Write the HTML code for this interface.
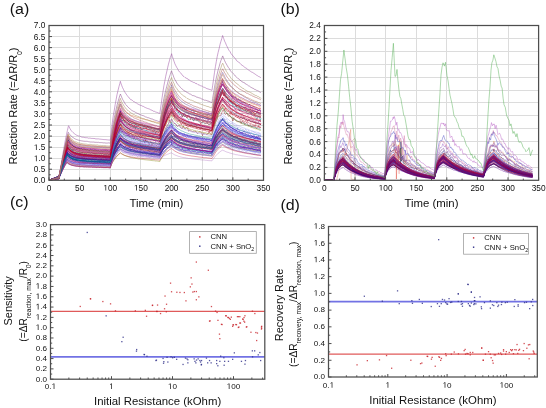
<!DOCTYPE html>
<html><head><meta charset="utf-8"><style>
html,body{margin:0;padding:0;background:#fff;overflow:hidden;width:546px;height:408px;}
svg{display:block;font-family:"Liberation Sans", sans-serif;will-change:transform;}
text{fill:#111;}
</style></head><body>
<svg width="546" height="408" viewBox="0 0 546 408">
<rect width="546" height="408" fill="#fff"/>
<line x1="49.0" y1="169.50" x2="263.5" y2="169.50" stroke="#dcdcdc" stroke-width="1"/>
<line x1="49.0" y1="158.50" x2="263.5" y2="158.50" stroke="#dcdcdc" stroke-width="1"/>
<line x1="49.0" y1="147.50" x2="263.5" y2="147.50" stroke="#dcdcdc" stroke-width="1"/>
<line x1="49.0" y1="136.50" x2="263.5" y2="136.50" stroke="#dcdcdc" stroke-width="1"/>
<line x1="49.0" y1="125.50" x2="263.5" y2="125.50" stroke="#dcdcdc" stroke-width="1"/>
<line x1="49.0" y1="113.50" x2="263.5" y2="113.50" stroke="#dcdcdc" stroke-width="1"/>
<line x1="49.0" y1="102.50" x2="263.5" y2="102.50" stroke="#dcdcdc" stroke-width="1"/>
<line x1="49.0" y1="91.50" x2="263.5" y2="91.50" stroke="#dcdcdc" stroke-width="1"/>
<line x1="49.0" y1="80.50" x2="263.5" y2="80.50" stroke="#dcdcdc" stroke-width="1"/>
<line x1="49.0" y1="69.50" x2="263.5" y2="69.50" stroke="#dcdcdc" stroke-width="1"/>
<line x1="49.0" y1="58.50" x2="263.5" y2="58.50" stroke="#dcdcdc" stroke-width="1"/>
<line x1="49.0" y1="47.50" x2="263.5" y2="47.50" stroke="#dcdcdc" stroke-width="1"/>
<line x1="49.0" y1="36.50" x2="263.5" y2="36.50" stroke="#dcdcdc" stroke-width="1"/>
<line x1="79.50" y1="25.5" x2="79.50" y2="180.3" stroke="#dcdcdc" stroke-width="1"/>
<line x1="110.50" y1="25.5" x2="110.50" y2="180.3" stroke="#dcdcdc" stroke-width="1"/>
<line x1="140.50" y1="25.5" x2="140.50" y2="180.3" stroke="#dcdcdc" stroke-width="1"/>
<line x1="171.50" y1="25.5" x2="171.50" y2="180.3" stroke="#dcdcdc" stroke-width="1"/>
<line x1="202.50" y1="25.5" x2="202.50" y2="180.3" stroke="#dcdcdc" stroke-width="1"/>
<line x1="232.50" y1="25.5" x2="232.50" y2="180.3" stroke="#dcdcdc" stroke-width="1"/>
<g fill="none" stroke-width="0.5" stroke-opacity="0.8">
<path d="M49 180.3l.9-.3 .9-.2 1-.3 .9-.3 .9-.2 .9-.3 .9-.2 1-.3 .6-.2 .3-0 .9 0 .6 0 .3-.8 .9-2.5 1-2.5 .9-2.4 .9-2.2 .9-2.3 .9-2.2 .9-2 1-1.9 .6-1.1 .3 .2 .9 .9 .9 .6 .9 .6 1 .5 .9 .4 .9 .4 .9 .2 .9 .3 1 .1 .9 .1 .9 .3 .9 .1 .9 .1 1 .1 .9 .1 .9 0 .9 0 .9 .2 1-0 .9 .1 .9-0 .9 0 .9 .1 .9 0 1-0 .9 .2 .9-0 .9-0 .9 .1 1-.1 .9 .1 .9 .1 .9-0 .9-.1 1 .1 .9 0 .9 .1 .9-0 .9 .1 1-0 .9-0 .9 .1 .9-0 .9-0 1 0 .9 .1 .6-.1 .3-.7 .9-2.4 .9-2 .9-1.9 1-1.8 .9-1.7 .9-1.3 .9-1.3 .9-1.4 1-1.1 .9-.8 .6-.8 .3 .3 .9 .7 .9 .9 1 .5 .9 .4 .9 .4 .9 .5 .9 .3 1 .4 .9 .1 .9 .3 .9 .1 .9 .3 1 .2 .9 .2 .9 .1 .9 .1 .9 .1 1 .2 .9 .2 .9 .1 .9 .2 .9 .1 .9 0 1 .1 .9 .2 .9 .1 .9 .1 .9 .1 1 0 .9 .3 .9 .1 .9 0 .9 .1 1 .1 .9 .2 .9 .1 .9 .1 .9 .1 1 .1 .9 .1 .9 0 .9 .1 .6 .1 .3-.7 1-1.9 .9-1.8 .9-1.7 .9-1.6 .9-1.5 .9-1.2 1-1.4 .9-.9 .9-1.1 .9-1 .9-1 1-.7 .3-.3 .6 1 .9 1 .9 .9 .9 .8 1 .8 .9 .5 .9 .7 .9 .6 .9 .4 1 .3 .9 .3 .9 .5 .9 .1 .9 .4 1 .3 .9 .3 .9 .1 .9 .2 .9 .2 1 .2 .9 .1 .9 .2 .9 .3 .9 0 .9 .3 1 .1 .9 .2 .9 .1 .9 .1 .9 .2 1 .1 .9 .2 .9 .1 .9 .1 .9 .2 1 .1 .9 .2 .9 .1 .9 .1 .9 .2 1 0 .9 .2 .9 .2 .9 .1 .3 .1 .6-1.7 1-2.2 .9-2.4 .9-1.9 .9-1.9 .9-1.4 .9-1.6 1-1.4 .9-1.2 .9-1.3 .9-1 .8-.8 .1 .1 1 .9 .9 .6 .9 .6 .9 .4 .9 .6 1 .4 .9 .5 .9 .5 .9 .2 .9 .5 1 .4 .9 .2 .9 .2 .9 .4 .9 .2 1 .2 .9 .2 .9 .3 .9 .1 .9 .4 1 0 .9 .5 .9-0 .9 .2 .9 .2 .9 .3 1-0 .9 .2 .9 .2 .9 .2 .9 .1 1 .1 .9 .3 .9 .1 .9 .1 .9 .1 1 .1 .9 .3 .9 0 .9 .1 .9 .3 .6-0" stroke="#b070c0"/>
<path d="M49 180.3l.9-.3 .9-.3 1-.2 .9-.3 .9-.3 .9-.3 .9-.3 1-.2 .6-.2 .3-0 .9-.1 .6 0 .3-.7 .9-2.2 1-2.2 .9-2.2 .9-2 .9-2.1 .9-1.9 .9-1.9 1-1.5 .6-.9 .3 .2 .9 .9 .9 .5 .9 .6 1 .4 .9 .4 .9 .4 .9 .2 .9 .2 1 .2 .9 .2 .9 .2 .9 .1 .9 .1 1 .1 .9 .1 .9 .1 .9-0 .9 .1 1 0 .9 .1 .9 0 .9 .1 .9 .1 .9-0 1 0 .9 .1 .9 0 .9 0 .9 .1 1 0 .9 .1 .9-0 .9 .1 .9-.1 1 .1 .9 0 .9 .1 .9-0 .9 0 1 .1 .9 0 .9 .1 .9-0 .9 0 1 0 .9 .1 .6 0 .3-.6 .9-1.8 .9-1.6 .9-1.5 1-1.3 .9-1.4 .9-1.1 .9-.9 .9-.9 1-.9 .9-.8 .6-.5 .3 .2 .9 .7 .9 .4 1 .4 .9 .6 .9 .2 .9 .3 .9 .2 1 .3 .9 .2 .9 .2 .9 .2 .9 .2 1 .1 .9 .1 .9 .2 .9 .2 .9 .1 1 0 .9 .2 .9 0 .9 .3 .9-.1 .9 .1 1 .2 .9 .1 .9 .2 .9-0 .9 0 1 .1 .9 .1 .9 0 .9 .2 .9 .1 1 .1 .9 0 .9 0 .9 .2 .9 .2 1-0 .9 0 .9 .1 .9 .2 .6-0 .3-.4 1-1.5 .9-1.2 .9-1.1 .9-1.1 .9-1 .9-1 1-.9 .9-.7 .9-.7 .9-.8 .9-.5 1-.6 .3-.1 .6 .4 .9 .9 .9 .7 .9 .6 1 .6 .9 .4 .9 .5 .9 .4 .9 .4 1 .3 .9 .2 .9 .3 .9 .3 .9 .1 1 .2 .9 .3 .9 .1 .9 .2 .9 .2 1 .1 .9 .1 .9 .2 .9 .1 .9 .1 .9 .1 1 .2 .9 .1 .9 .1 .9 .1 .9 .2 1 .1 .9 .1 .9 .1 .9 .2 .9 .1 1 .1 .9 0 .9 0 .9 .2 .9 .1 1 .1 .9 .1 .9 .1 .9 .1 .3 0 .6-1 1-1.6 .9-1.6 .9-1.5 .9-1.2 .9-1.2 .9-1 1-1 .9-.9 .9-.7 .9-.9 .8-.5 .1-0 1 .7 .9 .6 .9 .5 .9 .5 .9 .4 1 .6 .9 .3 .9 .3 .9 .3 .9 .4 1 .2 .9 .5 .9 .2 .9 .2 .9 .3 1 .2 .9 .1 .9 .3 .9 .3 .9-0 1 .3 .9 .2 .9 .1 .9 .3 .9 .1 .9 .1 1 .3 .9 .1 .9 .1 .9 .1 .9 .2 1 .2 .9 .1 .9 .2 .9 .1 .9 .2 1 .2 .9 .2 .9-0 .9 0 .9 .2 .6 .1" stroke="#c00020"/>
<path d="M49 180.3l.9-.3 .9-.3 1-.3 .9-.3 .9-.3 .9-.3 .9-.3 1-.3 .6-.2 .3-0 .9-0 .6 0 .3-1 .9-3.2 1-3 .9-3 .9-2.9 .9-2.7 .9-2.8 .9-2.6 1-2.4 .9-1.9 0-.1 .9 .9 .9 .8 .9 .6 1 .5 .9 .5 .9 .3 .9 .4 .9 .2 1 .3 .9 .1 .9 .2 .9 .1 .9 .2 1 .1 .9 .2 .9 0 .9 .2 .9 0 1 .1 .9 .1 .9-0 .9 .1 .9-0 .9 .1 1 0 .9 .1 .9-0 .9 .1 .9 0 1 .1 .9-0 .9 .1 .9-.1 .9 0 1 .2 .9 0 .9-0 .9-0 .9 .1 1 0 .9 0 .9 .1 .9-0 .9 0 1 .2 .9-0 .6-0 .3-1.7 .9-4.8 .9-4.3 .9-4 1-3.7 .9-3.3 .9-2.9 .9-2.8 .9-2.6 1-2.6 .9-1.9 .6-1.4 .3 .5 .9 1.5 .9 .7 1 1 .9 .8 .9 .7 .9 .3 .9 .9 1 .4 .9 .3 .9 .4 .9 .6 .9 .2 1 .4 .9 .2 .9 .2 .9 .4 .9 .2 1 .1 .9 .5 .9 .1 .9 .1 .9 .4 .9 .1 1 .3 .9 0 .9 .3 .9 0 .9 .2 1 .2 .9 .3 .9 .1 .9 .2 .9 .3 1-.1 .9 .3 .9 .1 .9 .3 .9 0 1 .1 .9 .3 .9 .3 .9 .1 .6 .1 .3-1.1 1-3 .9-2.8 .9-2.5 .9-2.4 .9-2.1 .9-2.1 1-2 .9-1.5 .9-1.8 .9-1.2 .9-1.5 1-1.2 .3-.6 .6 1.3 .9 1.2 .9 1.6 .9 1 1 .8 .9 1 .9 1 .9 .7 .9 .4 1 .9 .9 .3 .9 .6 .9 .4 .9 .2 1 .4 .9 .5 .9 .6 .9 .1 .9 .3 1 .3 .9 .2 .9 .6 .9-0 .9 .3 .9 .3 1-0 .9 .5 .9 .1 .9 .2 .9 .5 1 .1 .9 .2 .9-0 .9 .2 .9 .2 1 .3 .9 .4 .9-0 .9 .2 .9 .1 1 .1 .9 .1 .9 .4 .9 .2 .3 .2 .6-2.1 1-2.6 .9-2.8 .9-2.1 .9-2.2 .9-1.9 .9-1.9 1-1.8 .9-1.3 .9-1.5 .9-1.1 .8-1.4 .1 .5 1 1 .9 1 .9 1.8 .9 .8 .9 .8 1 .7 .9 1 .9 .7 .9 .8 .9 .5 1 .9 .9 .3 .9 1.1 .9 .3 .9 .1 1 .7 .9 .6 .9 0 .9 .6 .9 .4 1 .6 .9 .2 .9 .4 .9 .6 .9 .1 .9 .4 1 .2 .9 .3 .9 .6 .9 .3 .9 .2 1 .2 .9 .5 .9 .2 .9 .2 .9 .3 1 .2 .9 .4 .9 .4 .9 .4 .9 0 .6 .3" stroke="#008080"/>
<path d="M49 180.3l.9-.3 .9-.3 1-.4 .9-.3 .9-.3 .9-.3 .9-.3 1-.4 .6-.2 .3 .1 .9-.1 .6 0 .3-1.4 .9-4.3 1-4.2 .9-4.1 .9-4 .9-3.8 .9-3.9 .9-3.7 1-3.4 .9-3.1 .5-1.5 .4 .4 .9 1.4 .9 .8 1 .7 .9 .7 .9 .5 .9 .6 .9 .5 1 .4 .9 .3 .9 .3 .9 .3 .9 .1 1 .1 .9 .4 .9 .1 .9 .1 .9 .1 1 .2 .9-0 .9 .2 .9 .1 .9 .1 .9-0 1 0 .9 .3 .9 0 .9-0 .9 .1 1 .1 .9-.1 .9 .1 .9 .1 .9 .1 1-0 .9 .1 .9-0 .9 .2 .9 0 1 0 .9 .1 .9-0 .9 .1 .9 .1 1-0 .9 .1 .6-.1 .3-1.7 .9-5.2 .9-4.9 .9-4.5 1-4 .9-3.4 .9-3.3 .9-3.2 .9-2.5 1-2.4 .9-2.5 .6-1.5 .3 .7 .9 1.6 .9 1.3 1 .9 .9 1.2 .9 .8 .9 .7 .9 .7 1 .8 .9 .5 .9 .7 .9 .4 .9 .6 1 .1 .9 .6 .9 .4 .9 .3 .9 .4 1 .2 .9 .5 .9 .3 .9 .2 .9-.1 .9 .5 1 .3 .9 .2 .9 .1 .9 .5 .9 .3 1 0 .9 .3 .9 .3 .9 .3 .9-0 1 .2 .9 .4 .9 .2 .9 .5 .9-0 1 .3 .9 .1 .9 .2 .9 .3 .6 .3 .3-1.6 1-3.9 .9-3.7 .9-3.4 .9-3.2 .9-2.7 .9-3.2 1-2.4 .9-2.4 .9-2.3 .9-1.7 .9-1.5 1-1.8 .3-.5 .6 1.2 .9 1.8 .9 1.9 .9 1.1 1 1.6 .9 .9 .9 1.1 .9 1 .9 .9 1 .8 .9 .8 .9 .8 .9 .4 .9 .3 1 .5 .9 .6 .9 .5 .9 .6 .9 .2 1 .6 .9 .3 .9 .4 .9 .3 .9 .4 .9 .3 1 .5 .9 .2 .9-.1 .9 .6 .9 .4 1 .2 .9 .2 .9 .5 .9 .2 .9 .1 1 .4 .9 .3 .9 0 .9 .6 .9 .2 1 .3 .9 0 .9 .7 .9 .1 .3 .1 .6-3.3 1-4.5 .9-4.1 .9-3.3 .9-3.8 .9-3 .9-2.8 1-2.8 .9-2.1 .9-2 .9-2.4 .8-1.4 .1 .1 1 1.3 .9 1.4 .9 1.1 .9 1.6 .9 1.4 1 .9 .9 1 .9 1 .9 .6 .9 1.1 1 1 .9 .3 .9 .8 .9 .6 .9 .7 1 .5 .9 .7 .9 .4 .9 .6 .9 .6 1 .5 .9 .7 .9 .3 .9 .5 .9 .3 .9 .7 1-0 .9 .6 .9 .6 .9 .5 .9 .2 1 .3 .9 .5 .9 .3 .9 .5 .9 .2 1 .5 .9 .3 .9 .2 .9 .1 .9 .9 .6 .1" stroke="#6010c0"/>
<path d="M49 180.3l.9-.4 .9-.4 1-.4 .9-.3 .9-.4 .9-.4 .9-.4 1-.3 .6-.3 .3 0 .9 0 .6 0 .3-1.1 .9-3.5 1-3.4 .9-3.3 .9-3.3 .9-3.1 .9-3 .9-2.9 1-2.7 .9-2.3 .2-.4 .7 1 .9 1.3 .9 1.1 1 .7 .9 .6 .9 .7 .9 .4 .9 .4 1 .3 .9 .3 .9 .2 .9 .1 .9 .3 1 0 .9 .3 .9 .1 .9 0 .9 .1 1 .1 .9 .2 .9-0 .9 .1 .9-.1 .9 .2 1 0 .9 .2 .9-0 .9 .1 .9-.1 1 .2 .9-0 .9 .1 .9 0 .9-0 1 .2 .9 0 .9-0 .9 .1 .9 0 1 0 .9 .2 .9-.1 .9 .2 .9-.1 1 .1 .9 .1 .6 0 .3-1.7 .9-5.2 .9-4.7 .9-4 1-4.1 .9-3.3 .9-3.2 .9-2.9 .9-3.1 1-2.2 .9-2.3 .6-1.3 .3 .4 .9 2 .9 1.2 1 .9 .9 1.3 .9 .9 .9 .6 .9 .9 1 .5 .9 .4 .9 .5 .9 .5 .9 .4 1 .3 .9 .4 .9 .1 .9 .4 .9 .4 1 .4 .9-0 .9 .2 .9 .4 .9 .4 .9 .1 1 0 .9 .5 .9 .1 .9 .2 .9 .1 1 .3 .9 .2 .9 .3 .9 0 .9 .3 1 .3 .9 .3 .9 .2 .9 0 .9 .4 1 0 .9 .3 .9 .2 .9 .2 .6 .1 .3-1.5 1-4.5 .9-4.5 .9-3.5 .9-3.6 .9-3.5 .9-2.9 1-2.8 .9-2.5 .9-2.7 .9-2.3 .9-2.1 1-1.7 .3-.8 .6 2 .9 2 .9 2 .9 1.5 1 1.3 .9 1.2 .9 1.4 .9 .6 .9 1.1 1 .8 .9 .6 .9 .8 .9 .3 .9 .5 1 .6 .9 .3 .9 .5 .9 .4 .9 .5 1 .2 .9 .4 .9 .3 .9 .3 .9 .2 .9 .5 1 .3 .9 .2 .9 .1 .9 .3 .9 .2 1 .3 .9 .3 .9 .4 .9 .3 .9 .3 1 .2 .9 .2 .9 .2 .9 .3 .9 .3 1 .2 .9 .3 .9 .2 .9 .3 .3 .2 .6-2.9 1-4.3 .9-3.8 .9-3.4 .9-3.1 .9-3.3 .9-2.2 1-2.5 .9-2.4 .9-1.8 .9-2.1 .8-1.8 .1 .4 1 1.9 .9 1.6 .9 1.5 .9 1.2 .9 1.5 1 1.1 .9 1 .9 .8 .9 1 .9 .7 1 1.2 .9 .2 .9 .5 .9 .8 .9 .8 1 .7 .9 .3 .9 .7 .9 .3 .9 .6 1 .2 .9 .4 .9 .9 .9 .1 .9 .5 .9 .5 1 .3 .9 .3 .9 .2 .9 .7 .9 0 1 .3 .9 .5 .9 .3 .9 .5 .9 .4 1 .2 .9 .3 .9 .3 .9 .1 .9 .6 .6 .2" stroke="#800010"/>
<path d="M49 180.3l.9-.2 .9-.2 1-.2 .9-.2 .9-.2 .9-.2 .9-.2 1-.2 .6-.1 .3-0 .9-0 .6-0 .3-1 .9-2.8 1-2.7 .9-2.7 .9-2.6 .9-2.6 .9-2.4 .9-2.3 1-2.2 .7-1.5 .2 .1 .9 .9 .9 .5 .9 .5 1 .4 .9 .5 .9 .2 .9 .4 .9 .2 1 .2 .9 .3 .9 .1 .9 .1 .9 .2 1 .1 .9 .1 .9 .1 .9 .1 .9 0 1 .1 .9 0 .9 .2 .9-0 .9 .1 .9 0 1 .1 .9-0 .9 0 .9 0 .9 .1 1 0 .9 .1 .9 0 .9 .1 .9-0 1 0 .9 .1 .9 0 .9 .1 .9-0 1 0 .9 0 .9 0 .9 .2 .9-.1 1 .2 .9-.1 .6 .1 .3-1.2 .9-3.1 .9-2.9 .9-2.5 1-2.4 .9-2.3 .9-2 .9-1.7 .9-1.9 1-1.3 .9-1.6 .6-.6 .3 .3 .9 .7 .9 .8 1 .5 .9 .8 .9 .3 .9 .5 .9 .5 1 .2 .9 .4 .9 .3 .9 .2 .9 .3 1 .3 .9 .1 .9 .4 .9 .1 .9 .3 1 .1 .9 .2 .9 .2 .9 .2 .9 .2 .9 .1 1 .1 .9 .2 .9 .1 .9 .1 .9 .1 1 .1 .9 .3 .9 0 .9 .2 .9 .2 1 .1 .9 .1 .9 .1 .9 .1 .9 .3 1 .1 .9 .1 .9 0 .9 .2 .6 0 .3-.6 1-2.2 .9-2 .9-1.8 .9-1.6 .9-1.6 .9-1.5 1-1.3 .9-1.1 .9-1.1 .9-1 .9-1.2 1-.6 .3-.3 .6 .6 .9 .8 .9 1 .9 .7 1 .8 .9 .5 .9 .4 .9 .6 .9 .5 1 .4 .9 .3 .9 .4 .9 .4 .9 .3 1 0 .9 .5 .9 .1 .9 .4 .9 .1 1 .2 .9 .3 .9 0 .9 .4 .9 .2 .9 .2 1 .1 .9 .2 .9 .2 .9 .1 .9-0 1 .4 .9 .1 .9 .1 .9 .1 .9 .1 1 .1 .9 .2 .9 .2 .9-.1 .9 .4 1 .2 .9 0 .9 .2 .9 .1 .3 .1 .6-1.8 1-2.7 .9-2.3 .9-2.2 .9-1.9 .9-2.1 .9-1.6 1-1.7 .9-1.1 .9-1.4 .9-1.1 .8-1 .1 .1 1 .9 .9 1.1 .9 .6 .9 .6 .9 1 1 .5 .9 .5 .9 .5 .9 .7 .9 .4 1 .4 .9 .5 .9 .6 .9 .4 .9 .3 1 .4 .9 .5 .9 .3 .9 .3 .9 .3 1 .3 .9 .3 .9 .5 .9-.1 .9 .4 .9 .2 1 .4 .9 .3 .9 .2 .9 .2 .9 .5 1 0 .9 .4 .9 .1 .9 .3 .9 0 1 .4 .9 .2 .9 .1 .9 .4 .9 .3 .6 .1" stroke="#4060f0"/>
<path d="M49 180.4l.9-.3 .9-.2 1-.1 .9-.1 .9-.3 .9-.1 .9-.2 1-.2 .6-.1 .3 0 .9 0 .6 .1 .3-1.4 .9-4 1-3.9 .9-4 .9-3.6 .9-4.2 .9-3.8 .9-2.6 1-3.5 .9-2.6 .4-1.4 .5 1.2 .9 1.5 .9 1.1 1 .8 .9 1.1 .9-0 .9 .9 .9-0 1 .4 .9-.1 .9 .6 .9-.1 .9 .8 1-.4 .9 .4 .9-0 .9 .1 .9-.2 1 1 .9-.6 .9 .6 .9-.8 .9 1.1 .9-.3 1 .3 .9-.9 .9 .9 .9-.4 .9 .3 1 .4 .9-.4 .9-.2 .9 .3 .9-.3 1 .4 .9-0 .9 .2 .9-.2 .9-.4 1 .5 .9 .1 .9 .3 .9 .1 .9-.6 1 .8 .9-0 .6-.2 .3-1.7 .9-5.9 .9-2.8 .9-5.4 1-4 .9-2.5 .9-3.4 .9-3.6 .9-3.4 1-.8 .9-1.7 .6-3.2 .3 .2 .9 2.8 .9 2.6 1-1.4 .9 2 .9-0 .9 1.4 .9 .8 1 .6 .9-.7 .9 .4 .9 2.6 .9-.4 1-1.4 .9 1.6 .9 .9 .9-.6 .9 .3 1 .2 .9 .5 .9 .1 .9 .3 .9-.2 .9 .8 1-.1 .9 .1 .9-.6 .9 .7 .9 .5 1-.2 .9 .3 .9-.2 .9 .5 .9-.5 1 .4 .9 1 .9 .4 .9-.6 .9 .4 1 .5 .9 1 .9 .4 .9-1 .6-.1 .3-1.4 1-2.8 .9-5 .9-2.3 .9-3.8 .9-2.9 .9-1.7 1-2.6 .9-1 .9-3 .9-1.2 .9-3.7 1-1.3 .3-1.3 .6 2.2 .9 3.1 .9 1.1 .9 2.2 1 .6 .9 1.5 .9 2.1 .9 .1 .9 .8 1 1 .9-.2 .9-.1 .9 2.1 .9 .5 1 1.8 .9-1.1 .9 .6 .9 1.6 .9-1.4 1 .1 .9 1.3 .9 0 .9 .7 .9-.9 .9 1.9 1-.6 .9-1.2 .9 1.5 .9 0 .9 .7 1 1 .9-.5 .9-.1 .9 1.2 .9-.6 1-.3 .9 .3 .9 2 .9-.1 .9 .6 1-1.4 .9 .5 .9 .2 .9 1.3 .3 .2 .6-3.4 1-3.8 .9-2.7 .9-3.9 .9-3.3 .9-2.3 .9-1.4 1-1.2 .9-3.7 .9-2.3 .9-1.3 .8-1.2 .1 .5 1 .6 .9 2.4 .9 1.4 .9 2.4 .9 1 1 .5 .9 2 .9 1.2 .9 .1 .9-.4 1 1.6 .9-.3 .9 1.9 .9 .8 .9 1.4 1-.1 .9-1 .9 1.4 .9 .2 .9 .4 1 1 .9 .6 .9 .2 .9-0 .9 .6 .9 .3 1 .6 .9 1.1 .9-0 .9 .8 .9-1 1 2.6 .9-1 .9-1.5 .9 2.3 .9 .9 1-.5 .9-.5 .9 1.3 .9-.2 .9 .7 .6 .5" stroke="#f07080"/>
<path d="M49 180.3l.9-.4 .9-.3 1-.4 .9-.4 .9-.3 .9-.4 .9-.3 1-.4 .6-.3 .3 0 .9 0 .6 0 .3-.9 .9-2.8 1-2.7 .9-2.7 .9-2.6 .9-2.6 .9-2.4 .9-2.4 1-2.1 .8-1.5 .1 0 .9 .9 .9 .9 .9 .8 1 .6 .9 .5 .9 .5 .9 .4 .9 .2 1 .4 .9 .2 .9 .3 .9 0 .9 .1 1 .3 .9 0 .9 .1 .9 .2 .9 .1 1-0 .9 .1 .9 .1 .9 .1 .9 0 .9 0 1 .2 .9-.1 .9 .2 .9 0 .9 .1 1-.1 .9 .2 .9 0 .9-0 .9 .1 1-.1 .9 .1 .9 .1 .9 0 .9 .1 1 .1 .9-0 .9 0 .9 .1 .9 0 1 .1 .9-0 .6 0 .3-1.6 .9-4.5 .9-4.2 .9-3.8 1-3.4 .9-3.1 .9-3.1 .9-2.6 .9-2.4 1-2.2 .9-2 .6-1.4 .3 .5 .9 1.2 .9 .9 1 .6 .9 .7 .9 .6 .9 .6 .9 .5 1 .6 .9 .3 .9 .5 .9 .2 .9 .4 1 .1 .9 .3 .9 .4 .9-0 .9 .2 1 .4 .9 .1 .9 .1 .9 .3 .9 .1 .9 .2 1 .1 .9 .2 .9 .2 .9 .1 .9 .2 1 .2 .9 .2 .9 .2 .9 .1 .9 .1 1 .1 .9 .2 .9 .2 .9 .1 .9 .1 1 .1 .9 .2 .9 .2 .9 .1 .6 .2 .3-.7 1-1.7 .9-1.6 .9-1.4 .9-1.2 .9-1.6 .9-1.2 1-.9 .9-1.1 .9-.9 .9-.9 .9-.7 1-.8 .3-.2 .6 1 .9 .8 .9 .9 .9 1 1 .4 .9 .8 .9 .5 .9 .5 .9 .5 1 .5 .9 .3 .9 .4 .9 .1 .9 .3 1 .5 .9 .2 .9 .2 .9 .2 .9 .3 1 .3 .9-.1 .9 .3 .9 .4 .9 .2 .9 .1 1 0 .9 .2 .9 .2 .9 .3 .9-0 1 .1 .9 .2 .9 .2 .9 0 .9 .2 1 .2 .9 .1 .9 .2 .9-0 .9 .2 1 .2 .9 .1 .9 0 .9 .4 .3-.1 .6-1.9 1-2.2 .9-2.4 .9-1.9 .9-2.1 .9-1.5 .9-1.6 1-1.6 .9-1.4 .9-1.3 .9-1.1 .8-1 .1 .2 1 1.2 .9 1.2 .9 .9 .9 .6 .9 1 1 .9 .9 .8 .9 .6 .9 .8 .9 .4 1 .8 .9 .5 .9 .3 .9 .9 .9 .2 1 .7 .9 .3 .9 .3 .9 .4 .9 .4 1 .4 .9 .3 .9 .4 .9 .3 .9 .4 .9 .1 1 .5 .9 .1 .9 .4 .9 .3 .9 .1 1 .4 .9 .4 .9 .1 .9 .5 .9 0 1 .3 .9 .4 .9 .1 .9 .3 .9 .1 .6 .3" stroke="#000080"/>
<path d="M49 180.3l.9-.4 .9-.3 1-.4 .9-.3 .9-.4 .9-.4 .9-.3 1-.4 .6-.3 .3 .1 .9-.1 .6 .1 .3-1.2 .9-3.6 1-3.5 .9-3.4 .9-3.3 .9-3.2 .9-3.3 .9-2.9 1-2.9 .9-2.4 .2-.5 .7 1 .9 1.1 .9 1 1 .8 .9 .7 .9 .7 .9 .5 .9 .4 1 .3 .9 .3 .9 .2 .9 .3 .9 .2 1 .3 .9 .1 .9 .2 .9 .1 .9 .1 1 .1 .9 0 .9 .3 .9 0 .9 .1 .9 0 1 .1 .9 .1 .9 .2 .9-.1 .9 .1 1 .2 .9-.1 .9 .1 .9 .2 .9-.1 1 .1 .9 0 .9 .1 .9 .1 .9 0 1 0 .9 .2 .9-.1 .9 .1 .9 .2 1-.1 .9 .1 .6 .1 .3-1.2 .9-3.2 .9-3.1 .9-2.6 1-2.6 .9-2.4 .9-2.1 .9-1.8 .9-1.7 1-1.7 .9-1.4 .6-.9 .3 .3 .9 1.3 .9 .8 1 1.2 .9 .4 .9 .9 .9 .5 .9 .6 1 .3 .9 .4 .9 .5 .9 .3 .9 .3 1 .4 .9 .4 .9 .3 .9 .3 .9 0 1 .3 .9 .2 .9 .1 .9 .3 .9 .2 .9 .3 1 .2 .9-.1 .9 .2 .9 .4 .9 .1 1 .1 .9 .1 .9 .3 .9 .1 .9 .1 1 .4 .9 .1 .9 .1 .9 .2 .9-0 1 .2 .9 .2 .9 .3 .9-0 .6 .1 .3-.7 1-2.4 .9-2.1 .9-2.2 .9-1.9 .9-1.8 .9-1.5 1-1.5 .9-1.3 .9-1.2 .9-1.4 .9-1 1-.8 .3-.5 .6 .8 .9 1.1 .9 1 .9 .9 1 .7 .9 .5 .9 .8 .9 .6 .9 .4 1 .6 .9 .3 .9 .4 .9 .2 .9 .4 1 .2 .9 .2 .9 .5 .9 .3 .9 .1 1 .3 .9 .2 .9 .2 .9 .1 .9 .2 .9 .4 1 0 .9 .1 .9 .1 .9 .4 .9 .1 1 0 .9 .3 .9 .1 .9 .2 .9 .1 1 .2 .9 .3 .9-.1 .9 .3 .9 .2 1-.1 .9 .2 .9 .4 .9 0 .3 .1 .6-1.8 1-2.4 .9-2.5 .9-2.1 .9-1.9 .9-1.7 .9-1.7 1-1.5 .9-1.2 .9-1.3 .9-1.1 .8-1.1 .1 .2 1 1.1 .9 .8 .9 .5 .9 1 .9 .6 1 .7 .9 .4 .9 .7 .9 .5 .9 .6 1 .3 .9 .4 .9 .4 .9 .6 .9 0 1 .6 .9 .4 .9 .2 .9 .4 .9 .3 1 .3 .9 .2 .9 .3 .9 .4 .9-0 .9 .4 1 0 .9 .3 .9 .2 .9 .3 .9 .1 1 .4 .9 .3 .9 .1 .9 .5 .9-0 1 .1 .9 .3 .9 0 .9 .3 .9 .2 .6 .2" stroke="#4060f0"/>
<path d="M49 180.3l.9-.2 .9-.2 1-.2 .9-.2 .9-.2 .9-.2 .9-.2 1-.2 .6-.1 .3-0 .9-0 .6-0 .3-1.3 .9-3.7 1-3.6 .9-3.5 .9-3.6 .9-3.3 .9-3.3 .9-3.2 1-2.8 .9-2.5 .2-.5 .7 .7 .9 .8 .9 .9 1 .7 .9 .5 .9 .4 .9 .5 .9 .3 1 .4 .9 .2 .9 .4 .9 .1 .9 .2 1 .2 .9 .2 .9 .1 .9 .1 .9 .3 1 0 .9 .1 .9 .1 .9 .1 .9 .1 .9 .1 1 0 .9 .1 .9 .1 .9 0 .9 0 1 .2 .9 0 .9 0 .9 .2 .9-0 1 .1 .9-.1 .9 0 .9 .1 .9 .1 1 0 .9 .1 .9 .1 .9-.1 .9 .2 1-0 .9 .1 .6-.1 .3-1.3 .9-3.8 .9-3.6 .9-3.2 1-2.9 .9-2.7 .9-2.4 .9-2.1 .9-2.3 1-1.8 .9-1.7 .6-1 .3 .3 .9 1.4 .9 1.1 1 .9 .9 .7 .9 1 .9 .5 .9 .8 1 .6 .9 .3 .9 .7 .9 .5 .9 .4 1 .2 .9 .4 .9 .5 .9 .2 .9 .3 1 .4 .9 .2 .9 .3 .9 .4 .9 .2 .9 .2 1 .2 .9 .3 .9 .2 .9 .2 .9 .2 1 .2 .9 .2 .9 .3 .9 0 .9 .5 1 .1 .9 .3 .9 0 .9 .2 .9 .5 1 .1 .9 .1 .9 .2 .9 .2 .6 .2 .3-1.4 1-3.9 .9-3.6 .9-3.4 .9-2.7 .9-3.2 .9-2.4 1-2.7 .9-2.1 .9-2 .9-2 .9-1.6 1-1.7 .3-.4 .6 .6 .9 1.1 .9 1 .9 1.1 1 .7 .9 .9 .9 .7 .9 .6 .9 .5 1 .7 .9 .5 .9 .5 .9 .4 .9 .5 1 .1 .9 .6 .9 .2 .9 .5 .9 .1 1 .3 .9 .4 .9-0 .9 .4 .9 .1 .9 .3 1 .4 .9 .2 .9 .1 .9 .3 .9 .2 1 .2 .9 .4 .9 0 .9 .5 .9-.1 1 .3 .9 .2 .9 .1 .9 .1 .9 .4 1 .2 .9 .1 .9 .3 .9 .1 .3-.2 .6-2.3 1-3.7 .9-2.9 .9-3.2 .9-2.6 .9-2.5 .9-2.4 1-2.3 .9-1.6 .9-1.8 .9-1.4 .8-1.6 .1 .4 1 1.1 .9 1.4 .9 .8 .9 1.7 .9 .7 1 .8 .9 1.1 .9 .9 .9 .7 .9 1 1 .5 .9 .4 .9 .8 .9 .9 .9 .6 1 .5 .9 .4 .9 .8 .9 .5 .9 .3 1 .5 .9 .6 .9 .5 .9 .5 .9 .3 .9 .7 1-0 .9 .6 .9 .2 .9 .2 .9 .5 1 .7 .9 .1 .9 .3 .9 .6 .9 .4 1 .2 .9 .5 .9 0 .9 .8 .9 .2 .6 .1" stroke="#c00020"/>
<path d="M49 180.5l.9-.5 .9-.6 1-.3 .9-.1 .9-.4 .9-.3 .9-.5 1-.2 .6-.1 .3-0 .9-.2 .6-.2 .3-.6 .9-2.8 1-3.3 .9-2.6 .9-2.9 .9-3 .9-2.2 .9-1.9 1-1.9 .9-2.8-0 .6 .9 .2 .9 1.5 .9 .2 1 1.1 .9-0 .9 .4 .9-.1 .9 0 1 .9 .9 .5 .9-.9 .9 .8 .9 0 1 .2 .9-.2 .9 .2 .9 .3 .9 0 1 .7 .9 0 .9-.1 .9-0 .9 .1 .9-.1 1 .2 .9 .2 .9 .5 .9-.9 .9 .1 1 .6 .9-.4 .9 .1 .9 .1 .9 .8 1-.2 .9-.2 .9-.8 .9 1 .9-.2 1 .4 .9-.2 .9-.3 .9 .9 .9 .3 1-1.2 .9 .3 .6 .2 .3-2 .9-4.3 .9-2.2 .9-4.5 1-4 .9-1.6 .9-2.9 .9-3.4 .9-1.2 1-1.2 .9-2.3 .6-.5 .3-1.3 .9 3.3 .9-1.4 1 3.3 .9-.6 .9 2 .9-.3 .9-.5 1 .4 .9 .4 .9 1.6 .9 .2 .9 .3 1 0 .9 1.2 .9-.9 .9 .9 .9-.4 1 .8 .9 .1 .9 1.3 .9-0 .9 .9 .9-.6 1 .2 .9-.5 .9 1.7 .9-3.1 .9 2.6 1-.7 .9 .3 .9 2.7 .9-1.4 .9-1 1 2.9 .9-2 .9 1.3 .9-.1 .9-.3 1 1.6 .9-1.2 .9 .7 .9 .3 .6-.9 .3-2.9 1-.9 .9-2.9 .9-2.1 .9-1.7 .9-3.1 .9-3.2 1-.6 .9-2.4 .9-.4 .9-4.5 .9 3.2 1-3.7 .3-.4 .6 1.2 .9 2.6 .9 1 .9-.1 1 .5 .9 2 .9 .5 .9-1.1 .9 .1 1 2 .9 .6 .9 .4 .9-2.7 .9 2.3 1 .8 .9-.7 .9-1 .9 1.4 .9 2.7 1-1.1 .9 .6 .9 .1 .9 1 .9-.5 .9 .8 1-1.1 .9 .4 .9 1.5 .9 .5 .9-1 1-.8 .9 .3 .9 .7 .9 3 .9-2.3 1 .4 .9-.2 .9 .9 .9-.5 .9 .3 1-2.7 .9 1.9 .9 .9 .9 0 .3 .1 .6-2.3 1-2.4 .9-3.1 .9-3.6 .9-2.1 .9-1.5 .9-3.2 1-.4 .9-.2 .9-.5 .9-2.6 .8-1.9 .1-.5 1 .2 .9 3 .9 1.1 .9-1.1 .9 .2 1 2.7 .9-.3 .9-.6 .9 1.8 .9 1 1 2.8 .9-3.4 .9 1.2 .9 1 .9 1.1 1 1.2 .9-.9 .9 .4 .9-1 .9 2.9 1-2.6 .9 1.8 .9-.9 .9 2.6 .9-1.1 .9-.7 1 1.5 .9 1.9 .9-.9 .9-.7 .9 2.3 1 .2 .9-1.4 .9 1.4 .9-1.4 .9 2.1 1 .9 .9-.9 .9-2 .9 2.6 .9-.7 .6-.1" stroke="#800010"/>
<path d="M49 180.5l.9-.5 .9-.3 1-.3 .9-.2 .9-.5 .9-.3 .9-.3 1-.2 .6-.4 .3 .2 .9-.1 .6-.2 .3-.9 .9-3.3 1-3.4 .9-2.9 .9-3.1 .9-3.1 .9-3.2 .9-1.4 1-3.1 .9-2 .1-.1 .8 1 .9 1 .9 .4 1 1.2 .9 .1 .9 .4 .9 .9 .9-.1 1-.3 .9 .8 .9 .5 .9-0 .9 .4 1-.3 .9-.1 .9 .7 .9-.1 .9-.4 1 .6 .9-.2 .9 .6 .9-.1 .9-0 .9-.9 1 .9 .9 .1 .9 .1 .9-.1 .9-.2 1 .2 .9-.6 .9 .7 .9-.4 .9 .4 1-0 .9 .7 .9-.4 .9 0 .9 .2 1 .7 .9-1 .9 .4 .9 .1 .9-0 1 0 .9-.2 .6 .7 .3-1.8 .9-5 .9-4.1 .9-3.6 1-3.3 .9-3 .9-3.4 .9-3.6 .9-.7 1-4.3 .9-1.5 .6-.1 .3-.6 .9 3.3 .9 1.4 1 .6 .9 .1 .9 .6 .9 .8 .9 .1 1 2.2 .9-1.6 .9 1.9 .9-.3 .9 .1 1 .9 .9 .4 .9-0 .9-.5 .9-.2 1 .2 .9 1.4 .9 0 .9 .3 .9-.8 .9 2 1-2.2 .9 1.4 .9 .4 .9-.6 .9-.3 1 .7 .9-.4 .9 .9 .9-.6 .9 .1 1 1.1 .9-.8 .9 1 .9 .2 .9 .9 1-.3 .9-.5 .9 1.5 .9-1.1 .6 .3 .3-1 1-1.2 .9-4.4 .9-3.2 .9-1.2 .9-2.9 .9 .2 1-4.7 .9-.5 .9-3.1 .9 1.3 .9-4 1-.3 .3-1.5 .6 3 .9 1.2 .9-1.6 .9 4.2 1 .8 .9 .5 .9 1.4 .9-1.4 .9 .1 1 2.8 .9 1.4 .9-2.3 .9 .5 .9 .6 1 0 .9 2.1 .9-.3 .9 1.3 .9 .3 1-1.9 .9 1.7 .9-2.3 .9 2.1 .9 .8 .9-1 1-.7 .9 1.4 .9 1.6 .9-1.2 .9-.6 1 1.7 .9 .5 .9-1.3 .9 .9 .9 1.2 1-.4 .9 .4 .9-.6 .9 .3 .9-.7 1 .6 .9 2 .9-1.4 .9-.2 .3 .4 .6-2.8 1-1.8 .9-2.5 .9-4.5 .9-.5 .9-1.1 .9-5.4 1 0 .9-2.2 .9-.3 .9-1.5 .8-1.3 .1-.8 1 .4 .9 4.3 .9-2.4 .9 3.1 .9 .8 1-1.1 .9 1.5 .9 2.3 .9-3 .9 3.5 1-.7 .9 .6 .9-.8 .9 2.4 .9-1.1 1 2.2 .9-1.5 .9 2.3 .9-.1 .9-1.9 1 1.9 .9 .5 .9-1.8 .9 2.1 .9 1.5 .9-1.3 1 2.2 .9-2 .9 .2 .9 2 .9 .3 1-.5 .9 .4 .9 1.1 .9-1.2 .9 2.7 1-1.3 .9 .3 .9 .1 .9-.3 .9 1.6 .6-1.5" stroke="#c00020"/>
<path d="M49 180.3l.9-.3 .9-.2 1-.3 .9-.2 .9-.3 .9-.3 .9-.2 1-.3 .6-.1 .3-0 .9-0 .6-0 .3-1.4 .9-4 1-3.9 .9-3.9 .9-3.7 .9-3.7 .9-3.4 .9-3.5 1-3.1 .9-2.9 .4-.9 .5 .6 .9 1.1 .9 1.1 1 .8 .9 .7 .9 .5 .9 .6 .9 .4 1 .3 .9 .4 .9 .2 .9 .3 .9 0 1 .3 .9 .1 .9 .3 .9 .1 .9 0 1 .3 .9-.1 .9 .2 .9 0 .9 .1 .9 .1 1-.1 .9 .2 .9 .2 .9-.1 .9 .2 1-0 .9 .1 .9 0 .9-0 .9 .1 1 .1 .9 0 .9 .1 .9-.1 .9 .2 1 .1 .9-.1 .9 .2 .9-0 .9-0 1 .1 .9 .1 .6 0 .3-1.7 .9-4.8 .9-4.4 .9-4.1 1-3.6 .9-3.2 .9-3 .9-3 .9-2.2 1-2.5 .9-2.1 .6-1.2 .3 .5 .9 1.3 .9 1.6 1 1 .9 1 .9 .8 .9 .9 .9 .5 1 .8 .9 .5 .9 .6 .9 .5 .9 .4 1 .2 .9 .5 .9 .4 .9 .2 .9 .5 1 .1 .9 .4 .9 .4 .9 .1 .9 .4 .9 .1 1 .4 .9 .1 .9 .1 .9 .3 .9 .4 1 .2 .9 .2 .9 .3 .9 .2 .9 .2 1 .1 .9 .5 .9 0 .9 .2 .9 .2 1 .4 .9-0 .9 .4 .9 .1 .6 0 .3-1.2 1-4.7 .9-4.2 .9-3.8 .9-3.4 .9-3.3 .9-2.9 1-3 .9-2.6 .9-2.2 .9-2.2 .9-2.1 1-2 .3-.6 .6 1.4 .9 1.7 .9 1.8 .9 1.6 1 .7 .9 1 .9 1.4 .9 .7 .9 .7 1 .6 .9 .7 .9 .5 .9 .8 .9 .4 1 .5 .9 .6 .9 .2 .9 .4 .9 .4 1 .5 .9 .1 .9 .6 .9 .2 .9 .6 .9 .1 1 .1 .9 .4 .9 .2 .9 .5 .9-.1 1 .4 .9 .3 .9 .2 .9 .3 .9 .1 1 .4 .9 .4 .9 .1 .9 .1 .9 .3 1 .4 .9 .1 .9 .3 .9 .2 .3 .3 .6-2.9 1-4.2 .9-3.5 .9-3.4 .9-3.3 .9-2.5 .9-2.6 1-2.3 .9-2.1 .9-2.1 .9-1.6 .8-1.3 .1-.4 1 1.6 .9 1 .9 1.3 .9 1.1 .9 .9 1 .9 .9 1.2 .9 .4 .9 1.1 .9 .5 1 .3 .9 1 .9 .4 .9 .8 .9 .4 1 .6 .9 .4 .9 .7 .9 .5 .9 .2 1 .7 .9 .3 .9 .1 .9 .6 .9 .4 .9 .4 1 .2 .9 .4 .9 .3 .9 .3 .9 .1 1 .6 .9 .5 .9 .1 .9 .3 .9 .3 1 .5 .9-.1 .9 .5 .9 .3 .9 .5 .6-.1" stroke="#c00020"/>
<path d="M49 180.3l.9-.3 .9-.4 1-.3 .9-.3 .9-.4 .9-.3 .9-.3 1-.4 .6-.2 .3-0 .9-0 .6 0 .3-.6 .9-1.8 1-1.9 .9-1.8 .9-1.7 .9-1.6 .9-1.6 .9-1.6 1-1.3 .4-.5 .5 .2 .9 .6 .9 .5 .9 .4 1 .3 .9 .3 .9 .3 .9 .2 .9 .2 1 .1 .9 .2 .9 .1 .9 .1 .9 .1 1 0 .9 .1 .9 .1 .9 0 .9 .1 1 .1 .9 0 .9 0 .9 .1 .9 0 .9 0 1 .1 .9 0 .9 .1 .9-.1 .9 .1 1 0 .9 .1 .9 0 .9-0 .9 0 1 .1 .9 0 .9 .1 .9 0 .9-0 1 0 .9 .1 .9-0 .9 0 .9 0 1 .1 .9-0 .6-0 .3-.9 .9-2.6 .9-2.3 .9-2.1 1-1.9 .9-1.8 .9-1.6 .9-1.5 .9-1.5 1-1.1 .9-1.1 .6-.8 .3 .2 .9 .8 .9 .4 1 .5 .9 .5 .9 .3 .9 .5 .9 .2 1 .3 .9 .2 .9 .2 .9 .3 .9 .2 1 .1 .9 .2 .9 .1 .9 .2 .9 .1 1 .2 .9 .1 .9 .2 .9 .1 .9-0 .9 .2 1 .1 .9 .1 .9 .1 .9 0 .9 .2 1 0 .9 .3 .9 .1 .9-0 .9 0 1 .1 .9 .2 .9 .1 .9 .1 .9 .2 1-.1 .9 .2 .9-0 .9 .1 .6 .1 .3-.4 1-1.3 .9-1.2 .9-1.1 .9-1.2 .9-.7 .9-.8 1-.9 .9-.8 .9-.6 .9-.6 .9-.6 1-.5 .3-.1 .6 .5 .9 .7 .9 .8 .9 .4 1 .7 .9 .5 .9 .4 .9 .4 .9 .5 1 .2 .9 .2 .9 .4 .9 .3 .9 .2 1 .2 .9 .1 .9 .4 .9 .1 .9 .2 1 .2 .9 .3 .9-0 .9 .1 .9 .1 .9 .1 1 .2 .9 .1 .9 .2 .9-0 .9 .1 1 .2 .9 .1 .9 .1 .9 .2 .9 .1 1 0 .9 .2 .9 .1 .9 .1 .9 .1 1 .1 .9 .1 .9 .1 .9 .2 .3 0 .6-1 1-1.6 .9-1.2 .9-1.4 .9-1.1 .9-1 .9-.9 1-.9 .9-.8 .9-.8 .9-.6 .8-.6 .1 .3 1 .5 .9 .6 .9 .6 .9 .5 .9 .5 1 .3 .9 .5 .9 .3 .9 .5 .9 .4 1 .2 .9 .3 .9 .3 .9 .3 .9 .2 1 .3 .9 .2 .9 .3 .9 .2 .9 .1 1 .3 .9 .3 .9 0 .9 .4 .9 .1 .9 .1 1 .2 .9 .1 .9 .2 .9 .2 .9 .2 1 .1 .9 .2 .9 .3 .9-0 .9 .1 1 .2 .9 .1 .9 .1 .9 .2 .9 .1 .6 .1" stroke="#500070"/>
<path d="M49 180.3l.9-.3 .9-.2 1-.3 .9-.2 .9-.3 .9-.2 .9-.3 1-.3 .6-.1 .3-0 .9-0 .6 0 .3-1 .9-3.1 1-2.9 .9-2.9 .9-2.8 .9-2.8 .9-2.6 .9-2.5 1-2.4 .9-1.8-0 0 .9 .9 .9 .7 .9 .4 1 .6 .9 .5 .9 .4 .9 .3 .9 .3 1 .2 .9 .3 .9 .1 .9 .2 .9 .2 1 .2 .9 .2 .9-.1 .9 .2 .9 .1 1-0 .9 .1 .9 .1 .9 .1 .9-0 .9 .1 1 .1 .9-.1 .9 .2 .9 0 .9 .1 1-0 .9 .1 .9-.1 .9 .1 .9-0 1 .1 .9 0 .9 .1 .9 0 .9 .1 1-0 .9 0 .9 .1 .9 0 .9 .1 1-0 .9 0 .6 0 .3-1 .9-3.1 .9-2.6 .9-2.5 1-2.4 .9-2 .9-2 .9-1.8 .9-1.5 1-1.5 .9-1.4 .6-.7 .3 .3 .9 .8 .9 .8 1 .6 .9 .7 .9 .5 .9 .6 .9 .4 1 .4 .9 .5 .9 .2 .9 .2 .9 .4 1 .3 .9 .2 .9 .3 .9 .1 .9 .2 1 .3 .9 .2 .9 .2 .9 .2 .9 .1 .9 .2 1 .1 .9 .4 .9 0 .9 .1 .9 .3 1 .1 .9 .2 .9 0 .9 .2 .9 .1 1 .2 .9 .2 .9 .1 .9 .1 .9 .1 1 .3 .9 0 .9 .3 .9-0 .6 .1 .3-.9 1-2.6 .9-2.2 .9-2.1 .9-2.1 .9-1.9 .9-1.6 1-1.6 .9-1.3 .9-1.6 .9-1.1 .9-1.1 1-1.1 .3-.2 .6 .6 .9 .9 .9 .9 .9 .7 1 .8 .9 .8 .9 .5 .9 .5 .9 .4 1 .8 .9 .4 .9 .2 .9 .5 .9 .4 1 .2 .9 .4 .9 .4 .9 0 .9 .3 1 .2 .9 .2 .9 .3 .9 .2 .9 .2 .9 .3 1 .1 .9 .1 .9 .2 .9 .1 .9 .3 1 .3 .9-0 .9 .1 .9 .3 .9 .2 1 .1 .9 .1 .9 .3 .9 .1 .9 .2 1 .1 .9 .2 .9 0 .9 .2 .3 .1 .6-1.6 1-2.8 .9-2 .9-2.1 .9-1.7 .9-1.9 .9-1.4 1-1.6 .9-1.3 .9-1.3 .9-.9 .8-.9 .1 0 1 .7 .9 1.3 .9 .6 .9 .9 .9 .6 1 .6 .9 .7 .9 .6 .9 .6 .9 .6 1 .4 .9 .7 .9 .3 .9 .5 .9 .3 1 .4 .9 .4 .9 .3 .9 .3 .9 .7 1 .1 .9 .3 .9 .4 .9 .4 .9 .1 .9 .2 1 .3 .9 .4 .9 .2 .9 .3 .9 .1 1 .3 .9 .4 .9 .2 .9 .3 .9 .2 1 .3 .9 .2 .9 .3 .9 .2 .9 .2 .6 .2" stroke="#4060f0"/>
<path d="M49 180.3l.9-.2 .9-.3 1-.2 .9-.2 .9-.3 .9-.2 .9-.2 1-.3 .6-.1 .3-0 .9-0 .6-0 .3-.9 .9-2.3 1-2.4 .9-2.3 .9-2.3 .9-2.2 .9-2 .9-2.1 1-1.7 .6-1.1 .3 .3 .9 .6 .9 .5 .9 .4 1 .4 .9 .3 .9 .2 .9 .2 .9 .2 1 .2 .9 .2 .9 .1 .9 .1 .9 .1 1 .1 .9 0 .9 .2 .9 0 .9 .1 1 .1 .9 .1 .9-.1 .9 .1 .9 0 .9 .1 1 0 .9 .1 .9-0 .9 0 .9 0 1 .1 .9 0 .9 .1 .9-.1 .9 .2 1-.1 .9-0 .9 .1 .9 .1 .9-.1 1 .1 .9 0 .9 0 .9 0 .9 .1 1 0 .9 0 .6 .1 .3-1.4 .9-3.7 .9-3.5 .9-3 1-2.9 .9-2.7 .9-2.2 .9-2.2 .9-2.1 1-1.7 .9-1.7 .6-1 .3 .1 .9 1.2 .9 .8 1 .7 .9 .8 .9 .5 .9 .5 .9 .6 1 .2 .9 .6 .9 .3 .9 .2 .9 .1 1 .7 .9 .1 .9 .1 .9 .4 .9 .1 1 .3 .9 .3 .9 .1 .9 .2 .9 .1 .9 .3 1 0 .9 .4 .9 0 .9 .1 .9 .2 1 .2 .9 .2 .9 .1 .9-0 .9 .3 1 .1 .9 .2 .9 .2 .9 0 .9 .3 1 .1 .9 .2 .9 .1 .9 .1 .6 .1 .3-.6 1-1.8 .9-1.9 .9-1.4 .9-1.5 .9-1.4 .9-1.2 1-1 .9-1.1 .9-1.2 .9-.8 .9-.9 1-.6 .3-.1 .6 .6 .9 .8 .9 1.1 .9 .8 1 .5 .9 .7 .9 .6 .9 .5 .9 .5 1 .4 .9 .4 .9 .4 .9 .3 .9 .2 1 .5 .9 .2 .9 .3 .9 .1 .9 .2 1 .2 .9 .2 .9 .2 .9 .2 .9 .3 .9 0 1 .3 .9-0 .9 .3 .9 .1 .9 .3 1 0 .9 .1 .9 .4 .9 .1 .9 .1 1 .2 .9-0 .9 .1 .9 .3 .9 0 1 .3 .9-0 .9 .4 .9-0 .3-.1 .6-1.4 1-2.3 .9-1.9 .9-1.9 .9-1.6 .9-1.5 .9-1.4 1-1.3 .9-1.3 .9-1 .9-.9 .8-1.2 .1 .6 1 .8 .9 .8 .9 .9 .9 .7 .9 .7 1 .7 .9 .5 .9 .7 .9 .5 .9 .3 1 .7 .9 .3 .9 .3 .9 .5 .9 .4 1 .4 .9 .5 .9 .2 .9 .3 .9 .4 1 .3 .9 .1 .9 .5 .9 .1 .9 .4 .9 .3 1 0 .9 .4 .9 .2 .9 .4 .9 .1 1 .2 .9 .3 .9 .1 .9 .5 .9 0 1 .4 .9 .2 .9 .2 .9 .1 .9 .3 .6 .1" stroke="#c00060"/>
<path d="M49 180.2l.9-.2 .9-.3 1-.4 .9-.3 .9-.2 .9-.3 .9-.2 1-.4 .6-.2 .3-.1 .9 .1 .6-.1 .3-1 .9-3.6 1-3.2 .9-3.2 .9-3.2 .9-3.3 .9-3.4 .9-2.8 1-2.1 .9-2.7 .2-.3 .7 1.5 .9 1 .9 1.2 1 .4 .9 1.1 .9-0 .9 .5 .9 .3 1 .3 .9-.3 .9 .6 .9 .1 .9 0 1 .1 .9 .2 .9 .4 .9 .3 .9-0 1-0 .9-.1 .9 .1 .9-.2 .9 .4 .9-.5 1 .3 .9 .4 .9-.3 .9 1 .9-1 1 .3 .9 .1 .9 .5 .9-.9 .9 .7 1 0 .9-.2 .9 .3 .9 .2 .9-.3 1 .5 .9-.4 .9 .2 .9-.2 .9 .6 1-.5 .9 .3 .6-.4 .3-.2 .9-3.1 .9-1.9 .9-2.1 1-1.4 .9-2.1 .9-1.6 .9-.8 .9-1.2 1-1.3 .9-2 .6-.1 .3 0 .9 1.3 .9 .8 1 .7 .9 .8 .9-.1 .9 .9 .9 .4 1 .9 .9-.3 .9 .7 .9 .2 .9-.3 1 .9 .9-.1 .9-.1 .9 0 .9 .8 1-.2 .9 .2 .9 .6 .9 .5 .9 .1 .9-.7 1 .3 .9 .6 .9-.1 .9 0 .9 .2 1-0 .9-.6 .9 1.1 .9-.2 .9 .4 1 .1 .9 .2 .9-.1 .9 .3 .9-.2 1 .2 .9 .4 .9-.7 .9 1.1 .6-.4 .3-1.2 1-.8 .9-2.3 .9-1.5 .9-1 .9-.4 .9-2.5 1-.5 .9-.7 .9-1.8 .9 .1 .9-1.6 1 0 .3-.7 .6 1.5 .9 .8 .9 1.2 .9 .7 1 .3 .9 .8 .9 .4 .9 0 .9 1 1 1.1 .9-.3 .9 .2 .9-.1 .9 .3 1 .3 .9 .7 .9-.2 .9 1 .9-.8 1 .5 .9 .1 .9 .5 .9 0 .9 .5 .9-.3 1 .8 .9-.7 .9 .3 .9-.4 .9 .9 1 .2 .9 0 .9 .2 .9 .2 .9 .5 1 .1 .9-0 .9-0 .9 .4 .9 .2 1-.2 .9-.2 .9 .4 .9-.1 .3-.1 .6-1.4 1-1.7 .9-1.9 .9-1.1 .9-2.1 .9-2 .9-.6 1-2.4 .9-1.2 .9-.2 .9-1.6 .8 .4 .1-0 1 .6 .9 .7 .9 .9 .9 1.1 .9-.7 1 1.4 .9 .6 .9 .3 .9 .8 .9 .6 1 .6 .9 .8 .9-.9 .9 1.3 .9 .7 1-.1 .9 .7 .9-1.2 .9 .9 .9-.1 1 .2 .9 .6 .9 .2 .9 .8 .9-0 .9 .4 1-0 .9 .5 .9-.6 .9 .4 .9 .5 1 .8 .9-.7 .9 .2 .9 .5 .9 .6 1-.4 .9-0 .9 1.2 .9-.7 .9 1.1 .6-.6" stroke="#404040"/>
<path d="M49 180.4l.9-.2 .9-.3 1-.1 .9-.3 .9-.1 .9 0 .9-.4 1-.4 .6 0 .3-0 .9 0 .6 .1 .3-1.2 .9-4.3 1-4.1 .9-3.8 .9-3.7 .9-3.7 .9-3.4 .9-3.5 1-3.1 .9-3 .4-.1 .5 .7 .9 .6 .9 1.6 1 2.1 .9-.8 .9 2 .9-1.8 .9 1.1 1 .4 .9 1 .9 .5 .9-.2 .9 .1 1 .5 .9-.3 .9-.1 .9 .2 .9 .9 1 .6 .9-.9 .9 .4 .9-.5 .9-.5 .9 .1 1 .7 .9-.3 .9-.2 .9 .8 .9-0 1-.2 .9 .4 .9 .3 .9 .2 .9-.3 1 .3 .9-.6 .9 .6 .9-.8 .9 .2 1 1.2 .9-1 .9 .7 .9-.7 .9 .4 1 .3 .9-.2 .6 .6 .3-2.2 .9-5 .9-4.3 .9-4.5 1-2.7 .9-4.8 .9-1.5 .9-4.6 .9-2.5 1-2.7 .9-.9 .6-5.3 .3 4.1 .9 .9 .9 2.1 1-1.3 .9 2.8 .9-.7 .9 2.6 .9-.7 1 1.2 .9-.8 .9 1.6 .9 .9 .9-.9 1 1.9 .9 0 .9-1.3 .9 2.7 .9-2.2 1 1.3 .9 .7 .9-.8 .9-.2 .9 1.3 .9-.1 1-.7 .9 .2 .9 .9 .9 .9 .9 .3 1-.1 .9-1 .9 .3 .9 .4 .9-.7 1 1.6 .9 .2 .9 .2 .9-1.8 .9 3.6 1-1.8 .9 0 .9 .5 .9-1.7 .6 1.1 .3-1 1-2.1 .9-4.6 .9-2.2 .9-3.2 .9-2.8 .9-1.7 1-3.5 .9-3.4 .9-1.2 .9-.7 .9 1.2 1-5.5 .3-.5 .6 3.2 .9 2.2 .9 .2 .9 3.3 1-.7 .9 3.4 .9 .8 .9-.2 .9 2.5 1-1 .9 .1 .9 2.6 .9-2 .9 2.2 1-.8 .9 .8 .9 1.1 .9 .5 .9 1.6 1-.8 .9 .4 .9-2.2 .9 .9 .9 2.8 .9-1.9 1 .8 .9 .9 .9-.6 .9-.1 .9 1.7 1-0 .9-.2 .9 1.4 .9-1 .9 .5 1 .9 .9 .4 .9-.9 .9-.3 .9 .8 1 1.4 .9-1.4 .9 .8 .9-.1 .3-.5 .6-.9 1-4.9 .9-3.3 .9-3.1 .9-6.8 .9-1.6 .9 1 1-5.5 .9-.9 .9-4.5 .9-.3 .8-1.2 .1-.2 1 1.4 .9 2.1 .9 1.8 .9 1.2 .9 .3 1 3.4 .9-.5 .9 1.1 .9 1.4 .9-.8 1 3.4 .9-.5 .9 1.3 .9-1.1 .9 1.9 1-.1 .9 .1 .9 3 .9-2 .9 2 1-.2 .9 .3 .9-.6 .9 .5 .9-.8 .9 2.3 1 1.1 .9 .4 .9-.9 .9-.7 .9 1.8 1 1.4 .9-.6 .9 .4 .9 .6 .9 1.2 1 2.3 .9-1.9 .9-1.3 .9 1.2 .9 3 .6-2.2" stroke="#008080"/>
<path d="M49 180.3l.9-.3 .9-.2 1-.1 .9-.4 .9-.2 .9-.3 .9-.2 1-.3 .6-.1 .3 .2 .9-0 .6-.3 .3-1.3 .9-3.9 1-3.9 .9-4 .9-3.7 .9-3.6 .9-3.5 .9-4.3 1-2.6 .9-2.5 .4-.6 .5 .4 .9 .6 .9 1 1 1.2 .9 .6 .9 .8 .9 .9 .9-.4 1 .7 .9-.3 .9 1.4 .9 .1 .9-.1 1 .6 .9 .6 .9 .1 .9-.2 .9 0 1 .3 .9-.2 .9 .1 .9 .3 .9 .2 .9 .2 1-.2 .9 0 .9 .4 .9-.1 .9 .4 1 .4 .9-.1 .9-.5 .9 .2 .9-.3 1 .5 .9-.1 .9-.1 .9 .1 .9 .6 1-.1 .9 0 .9 .4 .9-.4 .9-.1 1 .5 .9-.7 .6 .8 .3-1.3 .9-3.5 .9-3.1 .9-3.4 1-2.6 .9-3.3 .9-1.7 .9-2.1 .9-1.4 1-1 .9-2.4 .6-.5 .3-.8 .9 1.6 .9-.2 1 1.4 .9 .6 .9 1 .9 .5 .9 .3 1 .3 .9 1.3 .9-.2 .9-.8 .9 1.8 1 .4 .9 .5 .9 .6 .9-1.1 .9 .8 1 .1 .9-.5 .9-.2 .9 2 .9-.8 .9 .4 1 .3 .9 .2 .9 .4 .9-.7 .9 .7 1 .3 .9-.3 .9 .4 .9 .4 .9 .2 1-.5 .9 .7 .9 .5 .9 .5 .9-.1 1 .5 .9-.4 .9 .1 .9 1.2 .6-.8 .3-1.7 1-3.8 .9-3 .9-4.7 .9-1.9 .9-2.5 .9-2.8 1-3.2 .9-3.1 .9-2.3 .9-1.2 .9-.6 1-2.1 .3-.3 .6 .5 .9 2.9 .9-.2 .9 .8 1 1.8 .9 .5 .9 2.1 .9 1.2 .9 .2 1-.7 .9 .8 .9 1.7 .9-.7 .9 1.7 1-.8 .9 1.2 .9 1 .9-.4 .9 1.5 1 .4 .9 .7 .9-.8 .9 .6 .9 .3 .9 .5 1-.9 .9 1.5 .9 .5 .9-1 .9 .1 1 1 .9 1.6 .9-.5 .9-.5 .9 .6 1-.7 .9 2.1 .9-1.1 .9 1.1 .9-1 1 1.1 .9-.4 .9 1.3 .9 .7 .3-.1 .6-3.1 1-3.5 .9-5.1 .9-3.4 .9-2.1 .9-1.6 .9-3.3 1-1.8 .9-4 .9-.9 .9-1.9 .8-.6 .1 1.8 1 .1 .9 1.5 .9-.3 .9 1.3 .9 1.8 1 .5 .9-.8 .9 3 .9 .8 .9 .1 1 1.1 .9 .4 .9-.1 .9-.4 .9 3.5 1-.9 .9 .4 .9 .7 .9 .5 .9 .6 1-.6 .9 1.6 .9 .2 .9 .3 .9 .3 .9 .6 1-.5 .9 1.2 .9 .2 .9 .6 .9 1 1 .2 .9 .6 .9-.6 .9 1 .9 .6 1-.6 .9 .1 .9 1.9 .9-2.1 .9 1.5 .6 .3" stroke="#800080"/>
<path d="M49 180.3l.9-.1 .9-.4 1 .1 .9-.3 .9-.1 .9-.1 .9-.1 1-.4 .6 .1 .3-.2 .9 .2 .6-0 .3-.9 .9-2.4 1-2.3 .9-2.3 .9-2 .9-2.5 .9-1.4 .9-2.6 1-2.2 .6-.8 .3 .3 .9 1 .9 .2 .9 .8 1 .3 .9 .3 .9 1.2 .9-.9 .9 .4 1 .1 .9 .6 .9-.3 .9 .2 .9 .9 1-.1 .9-.3 .9 .2 .9-0 .9 .2 1-.5 .9 .9 .9-0 .9-.1 .9 .2 .9-.2 1-.1 .9 .4 .9-.4 .9-.2 .9 .1 1-.2 .9 .3 .9 .3 .9-.4 .9 .3 1-.3 .9 .6 .9 .5 .9-.2 .9-.3 1-.1 .9 .2 .9-.2 .9 .5 .9-0 1-.4 .9 .2 .6 0 .3-1.3 .9-2.8 .9-2 .9-2.6 1-1.4 .9-2.7 .9-2 .9-.5 .9-3.2 1-1.6 .9-.5 .6-1 .3-.1 .9 1.7 .9 0 1 1 .9 1.5 .9 .2 .9 .2 .9-.4 1 .8 .9-.1 .9 1.1 .9 .6 .9-1.3 1-.1 .9 1.4 .9 .4 .9-.4 .9 1.3 1-.3 .9 .8 .9-.8 .9 .3 .9 .5 .9 .2 1 .6 .9-.2 .9-.8 .9 .8 .9-.5 1 1 .9-.2 .9 .3 .9 .1 .9-.3 1 1.3 .9-1.1 .9 .2 .9 .4 .9 .1 1 .2 .9-.2 .9 .4 .9 .4 .6-.3 .3-1.1 1-1.8 .9-1.8 .9-1.8 .9-1.3 .9-1.5 .9-.6 1-2.3 .9-1.9 .9-.2 .9-.7 .9-2.2 1-.3 .3-.3 .6 .4 .9 .7 .9 1.3 .9 1.2 1-1 .9 1.6 .9 1 .9-.1 .9-.1 1 1.9 .9-1.2 .9 1.2 .9-1 .9 1.1 1 .7 .9-.5 .9 .2 .9 1.2 .9-.1 1 .6 .9-.6 .9 1.5 .9-.5 .9 1.2 .9-1.3 1 1.7 .9-.5 .9-.5 .9 .4 .9 .2 1 .5 .9-.1 .9 .8 .9-1 .9-.1 1 .2 .9 .5 .9-.5 .9 .6 .9-.2 1 .5 .9 .3 .9 .5 .9 1 .3-1.5 .6-1.1 1-3 .9 .4 .9-3.3 .9-.4 .9-2 .9-.7 1-2 .9-.8 .9-1.6 .9-.4 .8-.9 .1-.5 1 1.3 .9 1.1 .9-.4 .9 1.5 .9 .2 1 1 .9 .7 .9 2 .9-2 .9 1.6 1-.8 .9-.3 .9 2.3 .9-1 .9 .9 1-.1 .9 1.4 .9-.5 .9 .2 .9-.5 1-.2 .9 1.3 .9 .7 .9-1.3 .9 1.6 .9 .2 1 .1 .9 0 .9 .1 .9 .9 .9-.1 1-.9 .9 .4 .9 .8 .9 .3 .9 .4 1-.5 .9 1.1 .9-.2 .9 .5 .9 .2 .6-.2" stroke="#4060f0"/>
<path d="M49 180.3l.9-.2 .9-.2 1-.2 .9-.2 .9-.1 .9-.2 .9-.3 1-.1 .6-.2 .3 .1 .9-0 .6-0 .3-1.4 .9-4 1-3.8 .9-3.9 .9-3.7 .9-3.7 .9-3.4 .9-3.4 1-3 .9-2.9 .3-1.1 .6 1.1 .9 1.3 .9 1.1 1 1 .9 .8 .9 .5 .9 .6 .9 .3 1 .6 .9 .2 .9 .2 .9 .5 .9 0 1 .3 .9 .1 .9 .1 .9 .2 .9 .1 1 .2 .9 0 .9 .1 .9 .1 .9 .1 .9 .1 1 0 .9 .2 .9-0 .9 .1 .9 0 1 0 .9 .1 .9 0 .9 .2 .9 .1 1 .1 .9-0 .9 0 .9 .1 .9 .1 1 0 .9 .1 .9-0 .9 .1 .9-0 1 .1 .9 .1 .6 0 .3-1.3 .9-4.1 .9-3.7 .9-3.2 1-3 .9-2.6 .9-2.4 .9-2.4 .9-2.2 1-1.7 .9-2 .6-1.1 .3 .5 .9 1.1 .9 1.1 1 1 .9 .8 .9 .7 .9 .7 .9 .4 1 .5 .9 .6 .9 .4 .9-.1 .9 .7 1 .3 .9 .2 .9 .3 .9 .3 .9 .2 1 .4 .9 .1 .9 .4 .9 0 .9 .2 .9 .4 1-.1 .9 .4 .9 0 .9 .3 .9 .2 1 .2 .9-.1 .9 .3 .9 .1 .9 .3 1 .2 .9 .2 .9 .2 .9 .1 .9 .2 1 .2 .9 .3 .9 0 .9 .1 .6 .2 .3-1 1-2.9 .9-2.6 .9-2.5 .9-2.3 .9-2.1 .9-2 1-1.9 .9-1.4 .9-1.5 .9-1.7 .9-1.2 1-1.2 .3-.8 .6 1.3 .9 1.6 .9 1.3 .9 1.2 1 1 .9 1.1 .9 .8 .9 .7 .9 .4 1 .6 .9 .8 .9 .3 .9 .6 .9 .2 1 .6 .9 .2 .9 .4 .9 .4 .9 .2 1 .3 .9 .3 .9 .4 .9-.1 .9 .5 .9 .3 1 .3 .9 .3 .9-0 .9 0 .9 .5 1 .1 .9 .4 .9-.1 .9 .3 .9 .2 1 .1 .9 .1 .9 .3 .9 .4 .9 .2 1 .2 .9 .3 .9-.2 .9 .4 .3 0 .6-2.4 1-3.5 .9-2.8 .9-3.1 .9-2.5 .9-2.3 .9-1.9 1-2.4 .9-1.6 .9-1.7 .9-1.7 .8-1.2 .1 .1 1 1.7 .9 1.2 .9 1.2 .9 1.1 .9 1 1 1.1 .9 .7 .9 1 .9 .9 .9 .6 1 .5 .9 .8 .9 .6 .9 .6 .9 .5 1 .5 .9 .4 .9 .8 .9 0 .9 .6 1 .6 .9 .1 .9 .5 .9 .3 .9 .6 .9 .1 1 .5 .9 .6 .9 0 .9 .5 .9 .4 1 .2 .9 .5 .9 .1 .9 .4 .9 .3 1 .1 .9 .4 .9 .4 .9 .4 .9 .2 .6 0" stroke="#808000"/>
<path d="M49 180.3l.9-.2 .9-.3 1-.2 .9-.2 .9-.2 .9-.2 .9-.3 1-.2 .6-.2 .3 .1 .9-0 .6-0 .3-1.6 .9-4.7 1-4.6 .9-4.6 .9-4.4 .9-4.3 .9-4.2 .9-4 1-3.8 .9-3.6 .7-2.1 .2 .5 .9 2 .9 1.3 1 1.4 .9 .9 .9 .7 .9 .7 .9 .7 1 .6 .9 .3 .9 .4 .9 .2 .9 .2 1 .3 .9 .3 .9 .2 .9 .1 .9 .1 1 .2 .9 .1 .9 .2 .9-.1 .9 .1 .9 .1 1 .2 .9 0 .9 .2 .9 .1 .9 0 1 .2 .9 .1 .9-.1 .9 .1 .9 .1 1 0 .9 .2 .9 .1 .9-0 .9 0 1 .2 .9-.1 .9 .2 .9 .1 .9 .1 1-.1 .9 .1 .6 .2 .3-1.9 .9-5 .9-4.6 .9-4 1-3.8 .9-3.3 .9-3.6 .9-2.6 .9-2.8 1-2.1 .9-2.3 .6-1.1 .3 .4 .9 1.3 .9 1.6 1 .9 .9 1.1 .9 1 .9 .7 .9 .6 1 .6 .9 .6 .9 .5 .9 .4 .9 .4 1 .4 .9 .2 .9 .2 .9 .6 .9 .1 1 .4 .9 .3 .9-0 .9 .4 .9 0 .9 .5 1 .1 .9 .3 .9 .3 .9 0 .9 .3 1 .2 .9 .2 .9 .4 .9 .1 .9 .2 1 .1 .9 .4 .9 .1 .9 .4 .9-.1 1 .4 .9 .3 .9 0 .9 .1 .6 .4 .3-1.7 1-4.6 .9-4.2 .9-4.1 .9-3.4 .9-3.4 .9-3.3 1-2.6 .9-2.8 .9-2.2 .9-2.3 .9-1.9 1-2.6 .3-.2 .6 1.6 .9 2.4 .9 2 .9 1.8 1 1.3 .9 1.8 .9 1.3 .9 1 .9 1 1 .6 .9 .7 .9 1 .9 .7 .9 .4 1 .3 .9 1.1 .9 0 .9 .7 .9 .2 1 .6 .9 .3 .9 .6 .9 .3 .9-0 .9 .4 1 .5 .9 .4 .9 .4 .9 .2 .9 .2 1 .3 .9 .3 .9 .5 .9 .1 .9 .3 1 .2 .9 .2 .9 .5 .9 .4 .9 .2 1 .4 .9 .3 .9 .2 .9 .4 .3-.1 .6-3.3 1-4.7 .9-4.2 .9-3.8 .9-3.6 .9-3.4 .9-3 1-2.9 .9-2.5 .9-2.1 .9-2.4 .8-1.4 .1 .1 1 1.7 .9 2 .9 1.1 .9 1.4 .9 1.3 1 1.3 .9 1 .9 1.2 .9 .8 .9 .9 1 .7 .9 1 .9 .4 .9 .7 .9 .7 1 .7 .9 .4 .9 .9 .9 .2 .9 .5 1 .5 .9 .4 .9 .7 .9 .3 .9 .3 .9 .5 1 .4 .9 .7 .9 .1 .9 .3 .9 .4 1 .5 .9 .6 .9 0 .9 .6 .9 .7 1-.1 .9 .7 .9 .3 .9 .2 .9 .1 .6 .5" stroke="#c00020"/>
<path d="M49 180.3l.9-.3 .9-.2 1-.3 .9-.3 .9-.3 .9-.2 .9-.3 1-.2 .6-.2 .3-0 .9-0 .6-0 .3-1 .9-2.9 1-2.8 .9-2.8 .9-2.7 .9-2.7 .9-2.6 .9-2.3 1-2.3 .8-1.6 .1-0 .9 .9 .9 1 .9 .6 1 .6 .9 .5 .9 .5 .9 .3 .9 .3 1 .3 .9 .4 .9 .1 .9 .2 .9 .1 1 .2 .9 .1 .9 .1 .9 .1 .9 .1 1 .1 .9 .1 .9 0 .9 .2 .9-0 .9 0 1 .1 .9 0 .9 .2 .9-0 .9 .1 1-0 .9 .1 .9 0 .9 .1 .9-0 1 0 .9 .1 .9 .1 .9-0 .9-0 1 .1 .9-.1 .9 .2 .9-0 .9-0 1 0 .9 .1 .6 .1 .3-.9 .9-2.5 .9-2.2 .9-2 1-1.8 .9-1.7 .9-1.6 .9-1.5 .9-1 1-1.4 .9-1 .6-.7 .3 .3 .9 .8 .9 .7 1 .6 .9 .7 .9 .4 .9 .5 .9 .3 1 .4 .9 .3 .9 .3 .9 .4 .9 0 1 .4 .9 .3 .9 .1 .9 .2 .9 .1 1 .2 .9 .2 .9 .2 .9 .2 .9 .1 .9 .2 1 0 .9 .2 .9 .2 .9 .2 .9 .1 1 .2 .9 .1 .9 .1 .9 .1 .9 .2 1 .1 .9 0 .9 .1 .9 .3 .9 .1 1 0 .9 .3 .9 .1 .9 0 .6 .1 .3-.6 1-2.1 .9-1.8 .9-1.6 .9-1.5 .9-1.4 .9-1.4 1-1.1 .9-1.3 .9-1 .9-.8 .9-1 1-.9 .3-.2 .6 .7 .9 .7 .9 .7 .9 .6 1 .6 .9 .5 .9 .4 .9 .3 .9 .5 1 .4 .9 .2 .9 .3 .9 .3 .9 .3 1 .1 .9 .3 .9 .1 .9 .1 .9 .4 1 .3 .9-0 .9 .2 .9 .1 .9 .1 .9 .1 1 0 .9 .4 .9 .1 .9 0 .9 .3 1-0 .9 .2 .9 .2 .9 0 .9 .1 1 .1 .9 0 .9 .2 .9 .2 .9 0 1 .2 .9-.1 .9 .4 .9-.1 .3 .1 .6-1.4 1-1.9 .9-1.7 .9-1.6 .9-1.5 .9-1.6 .9-1.2 1-1.1 .9-1.1 .9-.7 .9-1.1 .8-.7 .1-0 1 .9 .9 .6 .9 .7 .9 .6 .9 .6 1 .4 .9 .6 .9 .6 .9 .2 .9 .3 1 .6 .9 .2 .9 .6 .9 .3 .9 .1 1 .4 .9 .2 .9 .4 .9 .2 .9 .3 1 .2 .9 .2 .9 .3 .9 .3 .9 .2 .9 .3 1 .1 .9 .2 .9 .3 .9 .1 .9 .3 1-0 .9 .2 .9 .2 .9 .3 .9 .2 1 .3 .9-0 .9 .3 .9-0 .9 .2 .6 .1" stroke="#008080"/>
<path d="M49 180.3l.9-.4 .9-.3 1-.5 .9-.3 .9-.4 .9-.4 .9-.4 1-.4 .6-.2 .3-0 .9 0 .6-0 .3-1.4 .9-4 1-3.9 .9-3.9 .9-3.8 .9-3.6 .9-3.7 .9-3.3 1-3.4 .9-2.8 .5-1.3 .4 1.1 .9 1.2 .9 1.3 1 .8 .9 .8 .9 .7 .9 .5 .9 .4 1 .4 .9 .3 .9 .2 .9 .3 .9 .1 1 .1 .9 .2 .9 .1 .9 .1 .9 .1 1 .1 .9 0 .9 .1 .9 .1 .9 .1 .9-0 1 0 .9 .2 .9 .1 .9-.1 .9 .2 1 0 .9 .1 .9 .1 .9 0 .9 .2 1-0 .9 .1 .9-.2 .9 .1 .9 .1 1 .1 .9 0 .9 0 .9 .1 .9 .1 1 .1 .9 0 .6 .1 .3-1.5 .9-4.4 .9-4.1 .9-3.8 1-3.1 .9-3.4 .9-2.7 .9-2.4 .9-2.3 1-2.2 .9-2.1 .6-1 .3 .7 .9 1.6 .9 1.8 1 1.1 .9 1 .9 1 .9 .8 .9 .7 1 .6 .9 .7 .9 .6 .9 .4 .9 .4 1 .2 .9 .3 .9 .5 .9 .4 .9 .3 1 .2 .9 .2 .9 .3 .9 .3 .9 .3 .9 .1 1 .3 .9 .3 .9 .2 .9 .1 .9 .4 1 .1 .9 .2 .9 .4 .9 .1 .9 .3 1 .3 .9 .2 .9 .3 .9 .1 .9 .2 1 .2 .9 .2 .9 .6 .9-.1 .6 .3 .3-1.3 1-3.2 .9-3.1 .9-3 .9-2.3 .9-2.6 .9-2.2 1-1.8 .9-2.2 .9-1.7 .9-1.6 .9-1.4 1-2 .3 .1 .6 1.4 .9 1.4 .9 1.3 .9 1.2 1 1 .9 1 .9 .5 .9 .8 .9 .7 1 .5 .9 .4 .9 .3 .9 .5 .9 .4 1 .3 .9 .3 .9 .1 .9 .6 .9 .1 1 .2 .9 .4 .9 .1 .9 .3 .9 .3 .9 0 1 .2 .9 .2 .9 .3 .9 .2 .9-0 1 .5 .9 .1 .9 .1 .9 .3 .9 .1 1 .2 .9 .2 .9 .1 .9 .3 .9 .2 1 .2 .9 .2 .9 .2 .9 .3 .3-.2 .6-2.6 1-3.6 .9-3.3 .9-2.7 .9-3.1 .9-2.2 .9-2.4 1-2.4 .9-1.5 .9-2.1 .9-1.5 .8-1.3 .1 .4 1 1.5 .9 1.7 .9 1.2 .9 1.2 .9 1.6 1 .9 .9 1 .9 1 .9 .8 .9 .6 1 .8 .9 .9 .9 .4 .9 .5 .9 .8 1 .5 .9 .1 .9 .6 .9 .8 .9 .4 1 .2 .9 .6 .9 .3 .9 .4 .9 .2 .9 .8 1 .3 .9 .2 .9 .1 .9 .5 .9 .5 1 .1 .9 .3 .9 .4 .9 .4 .9 .2 1 .2 .9 .5 .9 .2 .9 .4 .9 .4 .6 .2" stroke="#500070"/>
<path d="M49 180.3l.9-.2 .9-.2 1-.2 .9-.1 .9-.3 .9-.2 .9-.1 1-.3 .6-.1 .3 0 .9 0 .6 0 .3-1.1 .9-3.4 1-3.2 .9-3.4 .9-3.1 .9-3 .9-3 .9-2.8 1-2.6 .9-2.3 .1-.1 .8 1 .9 .9 .9 .7 1 .7 .9 .5 .9 .7 .9 .4 .9 .4 1 .4 .9 .2 .9 .3 .9 .3 .9 .1 1 .2 .9 .2 .9 .1 .9 .1 .9 .2 1 0 .9 .1 .9 .2 .9 .1 .9-0 .9 .1 1 .2 .9 0 .9 .1 .9 0 .9 .2 1-.1 .9 .1 .9 .1 .9-0 .9 .1 1 0 .9 .1 .9 .1 .9 0 .9 0 1 .1 .9 0 .9 .1 .9 0 .9 .2 1-0 .9 0 .6-0 .3-1.2 .9-3.5 .9-3.3 .9-2.9 1-2.7 .9-2.3 .9-2.2 .9-2.1 .9-1.9 1-1.6 .9-1.6 .6-.8 .3-0 .9 1 .9 .7 1 .6 .9 .8 .9 .3 .9 .5 .9 .5 1 .5 .9 .3 .9 .4 .9 .1 .9 .4 1 .3 .9 .3 .9 .1 .9 .1 .9 .4 1 .2 .9 .3 .9-0 .9 .2 .9 0 .9 .3 1 .2 .9 .2 .9 0 .9 .4 .9-0 1 .1 .9 .2 .9 .2 .9 0 .9 .1 1 .3 .9 .1 .9 0 .9 .3 .9 .1 1 .2 .9 .1 .9 .1 .9 .2 .6 .1 .3-1 1-2.9 .9-2.8 .9-2.7 .9-2.2 .9-2.1 .9-2.2 1-1.8 .9-1.6 .9-1.6 .9-1.6 .9-1.3 1-1.1 .3-.5 .6 .9 .9 1 .9 1.2 .9 .7 1 .9 .9 .9 .9 .5 .9 .6 .9 .8 1 .2 .9 .8 .9 .4 .9 .4 .9 .3 1 .4 .9 .4 .9 .1 .9 .4 .9 .2 1 .2 .9 .5 .9 .5 .9 0 .9 .3 .9 .1 1 .2 .9 .4 .9 .2 .9 .1 .9 .2 1 .4 .9-.1 .9 .2 .9 .2 .9 .2 1 .3 .9 .1 .9 .1 .9 .1 .9 .3 1 .2 .9 .2 .9 0 .9 .2 .3 .2 .6-1.8 1-2.8 .9-2.4 .9-2.6 .9-2 .9-1.8 .9-1.8 1-1.9 .9-1.3 .9-1.1 .9-1.4 .8-.8 .1 .2 1 .8 .9 .7 .9 1 .9 1.1 .9 .9 1 .6 .9 .7 .9 .9 .9 .7 .9 .2 1 .8 .9 .4 .9 .6 .9 .4 .9 .7 1 .4 .9 .3 .9 .5 .9 .5 .9 .3 1 .5 .9 .5 .9 .1 .9 .3 .9 .4 .9 .5 1 .1 .9 .4 .9 .4 .9 .5 .9-.1 1 .3 .9 .4 .9 .5 .9 .2 .9 .1 1 .2 .9 .3 .9 .4 .9 .2 .9 .3 .6 .2" stroke="#9090f0"/>
<path d="M49 180.3l.9-.2 .9-.2 1-.2 .9-.2 .9-.2 .9-.2 .9-.2 1-.2 .6-.2 .3 0 .9 0 .6 0 .3-.8 .9-2.7 1-2.6 .9-2.5 .9-2.4 .9-2.4 .9-2.3 .9-2.2 1-1.9 .7-1.2 .2 .2 .9 .7 .9 .8 .9 .5 1 .4 .9 .4 .9 .4 .9 .3 .9 .1 1 .3 .9 .2 .9 .1 .9 .1 .9 0 1 .2 .9 0 .9 .1 .9 .1 .9 0 1 .2 .9-0 .9 0 .9-0 .9 0 .9 .1 1 .1 .9-0 .9-0 .9 0 .9 0 1 .2 .9 0 .9 0 .9 .1 .9-0 1-0 .9 0 .9 .1 .9-0 .9 0 1 .1 .9 0 .9-0 .9 .1 .9 0 1 0 .9 .1 .6-0 .3-1.1 .9-3 .9-2.8 .9-2.4 1-2.3 .9-2.3 .9-1.7 .9-1.7 .9-1.6 1-1.6 .9-1.3 .6-.7 .3 .4 .9 1.1 .9 .8 1 .9 .9 .7 .9 .7 .9 .5 .9 .4 1 .4 .9 .3 .9 .4 .9 .3 .9 .3 1 .3 .9 .2 .9 .2 .9 .2 .9 .3 1 .2 .9 .2 .9 .2 .9 .1 .9 .1 .9 .2 1 .2 .9 .2 .9 .1 .9 .2 .9 .2 1 .1 .9 .1 .9 .1 .9 .1 .9 .2 1 .1 .9 .3 .9 .1 .9 .2 .9 .1 1 .1 .9 .2 .9 .1 .9 .2 .6-0 .3-.6 1-1.8 .9-1.8 .9-1.7 .9-1.5 .9-1.4 .9-1.1 1-1.2 .9-1.3 .9-1 .9-.7 .9-.9 1-.7 .3-.3 .6 .8 .9 .9 .9 1 .9 .7 1 .7 .9 .6 .9 .5 .9 .5 .9 .5 1 .3 .9 .2 .9 .5 .9 .2 .9 .3 1 .3 .9 .1 .9 .5 .9 .1 .9 .1 1 .2 .9 0 .9 .1 .9 .3 .9 .1 .9 .2 1 .1 .9 .3 .9 .1 .9 .1 .9 .1 1 .3 .9-0 .9 .2 .9 0 .9 .1 1 .4 .9-.1 .9 .2 .9 .1 .9 .1 1 0 .9 .3 .9 .2 .9 .1 .3 .1 .6-1.3 1-2 .9-1.5 .9-1.5 .9-1.5 .9-1.2 .9-1.1 1-1 .9-1 .9-.9 .9-.8 .8-.9 .1 .3 1 1 .9 .7 .9 .9 .9 .5 .9 .7 1 .4 .9 .8 .9 .5 .9 .5 .9 .4 1 .3 .9 .5 .9 .2 .9 .4 .9 .2 1 .6 .9 0 .9 .3 .9 .3 .9 .3 1 .1 .9 .4 .9 .1 .9 .3 .9 .2 .9 .2 1 .1 .9 .4 .9 .1 .9 .3 .9 0 1 .3 .9 .2 .9 .1 .9 .2 .9 .2 1 .2 .9 .1 .9 .2 .9 .3 .9 .1 .6 .1" stroke="#c00060"/>
<path d="M49 180.3l.9-.2 .9-.2 1-.2 .9-.2 .9-.2 .9-.2 .9-.2 1-.2 .6-.2 .3 .1 .9-.1 .6 0 .3-.9 .9-2.8 1-2.8 .9-2.7 .9-2.7 .9-2.5 .9-2.4 .9-2.4 1-2.2 .8-1.5 .1 .2 .9 1 .9 .7 .9 .6 1 .6 .9 .4 .9 .4 .9 .2 .9 .3 1 .3 .9 .1 .9 .2 .9 .1 .9 .1 1 .2 .9 .1 .9-0 .9 .1 .9 0 1 .1 .9-0 .9 .1 .9-0 .9 .1 .9 0 1 0 .9 .2 .9-0 .9-0 .9-0 1 0 .9 .1 .9 0 .9 .1 .9 0 1 0 .9 .1 .9 0 .9 .1 .9 0 1 .1 .9-0 .9-0 .9 0 .9 .1 1 0 .9 0 .6 .1 .3-.8 .9-2.2 .9-1.8 .9-1.8 1-1.6 .9-1.6 .9-1.3 .9-1.2 .9-1.1 1-1.2 .9-.9 .6-.6 .3 .3 .9 .7 .9 .7 1 .6 .9 .7 .9 .4 .9 .4 .9 .2 1 .4 .9 .2 .9 .2 .9 .3 .9 .2 1 .1 .9 .1 .9 .2 .9 .1 .9 .1 1 .3 .9 .1 .9 .2 .9 0 .9 .2 .9 0 1 .1 .9 .1 .9 .1 .9 .1 .9 .2 1 .1 .9 .1 .9 .1 .9 .2 .9 0 1 .1 .9 .2 .9 .2 .9-0 .9 .1 1 .1 .9-0 .9 .2 .9 .1 .6 0 .3-.6 1-1.8 .9-1.5 .9-1.5 .9-1.4 .9-1.3 .9-1.2 1-1 .9-1.1 .9-.8 .9-.9 .9-.8 1-.7 .3-.2 .6 .7 .9 .9 .9 .8 .9 .8 1 .7 .9 .7 .9 .4 .9 .4 .9 .3 1 .5 .9 .2 .9 .3 .9 .3 .9 .2 1 .2 .9 .2 .9 .2 .9 .1 .9 .2 1 .2 .9 .2 .9 .1 .9 .1 .9 .3 .9-.1 1 .3 .9 0 .9 .2 .9 .1 .9 .1 1 .1 .9 .3 .9-0 .9 .2 .9 .1 1 0 .9 .2 .9 .1 .9 .1 .9 .1 1 .2 .9 0 .9 .1 .9 .2 .3 .1 .6-1.2 1-1.5 .9-1.6 .9-1.3 .9-1.3 .9-1.2 .9-.9 1-.9 .9-.8 .9-.9 .9-.9 .8-.4 .1 .2 1 .6 .9 .8 .9 .6 .9 .5 .9 .7 1 .5 .9 .4 .9 .4 .9 .3 .9 .5 1 .2 .9 .5 .9 .2 .9 .3 .9 .2 1 .4 .9 .1 .9 .3 .9 .1 .9 .3 1 .2 .9 .2 .9 .1 .9 .2 .9 .2 .9 .3 1 0 .9 .3 .9 .1 .9 .1 .9 .2 1 .2 .9 .2 .9 .2 .9 .1 .9 0 1 .3 .9 .1 .9 .1 .9 .2 .9 .1 .6 .1" stroke="#500070"/>
<path d="M49 180.3l.9-.2 .9-.2 1-.1 .9-.2 .9-.2 .9-.2 .9-.1 1-.2 .6-.2 .3 0 .9 0 .6 0 .3-1.2 .9-3.7 1-3.7 .9-3.6 .9-3.4 .9-3.4 .9-3.2 .9-3.2 1-2.9 .9-2.5 .2-.6 .7 .9 .9 1.1 .9 .9 1 .7 .9 .7 .9 .6 .9 .4 .9 .5 1 .2 .9 .4 .9 .3 .9 .3 .9 .2 1 .1 .9 .3 .9 0 .9 .2 .9 .2 1 .1 .9 .1 .9 0 .9 .1 .9 .1 .9 .2 1 0 .9-0 .9 .1 .9 .1 .9-0 1-0 .9 .1 .9 .1 .9 .1 .9 0 1 .1 .9 .1 .9 0 .9 .1 .9 0 1 .1 .9-.1 .9 .2 .9 0 .9 .1 1 0 .9 0 .6 .2 .3-1.8 .9-5 .9-4.6 .9-4.3 1-3.8 .9-3.4 .9-3.2 .9-3 .9-2.7 1-2.3 .9-2.3 .6-1.1 .3 .3 .9 .9 .9 1.5 1 .7 .9 .8 .9 .8 .9 .7 .9 .5 1 .6 .9 .5 .9 .6 .9 .3 .9 .4 1 .4 .9 .2 .9 .3 .9 .3 .9 .4 1 .1 .9 .2 .9 .3 .9 .2 .9 .4 .9 .2 1 .1 .9 .4 .9 .1 .9 .3 .9 .2 1 .3 .9 .1 .9 .1 .9 .1 .9 .2 1 .3 .9 .2 .9 .3 .9 0 .9 .3 1 .1 .9 .1 .9 .3 .9 .3 .6 .1 .3-1.1 1-3.5 .9-3.4 .9-2.8 .9-2.5 .9-2.8 .9-2.4 1-1.9 .9-1.9 .9-1.9 .9-1.7 .9-1.6 1-1.6 .3-.4 .6 1.2 .9 1.5 .9 1.6 .9 1.6 1 .9 .9 1 .9 1 .9 .7 .9 .9 1 .8 .9 .4 .9 .7 .9 .6 .9 .4 1 .5 .9 .5 .9 .7 .9 .2 .9 .4 1 .4 .9 .2 .9 .2 .9 .5 .9 .4 .9-.1 1 .6 .9 .3 .9 .1 .9 .3 .9 .4 1 .1 .9 .4 .9 .3 .9 .1 .9 .2 1 .4 .9 .1 .9 .3 .9-.1 .9 .6 1 0 .9 .4 .9 .3 .9 .1 .3 .1 .6-2.8 1-3.7 .9-3.4 .9-3.2 .9-3.1 .9-2.7 .9-2.6 1-2.2 .9-2.2 .9-1.9 .9-1.6 .8-1.1 .1 .1 1 1.2 .9 .6 .9 1.4 .9 .6 .9 1 1 .7 .9 .8 .9 .9 .9 .7 .9 .6 1 .6 .9 .7 .9 .5 .9 .3 .9 .9 1 .2 .9 .7 .9 .2 .9 .4 .9 .5 1 .3 .9 .7 .9-0 .9 .6 .9 .2 .9 .4 1 .7 .9 0 .9 .2 .9 .2 .9 .4 1 .3 .9 .5 .9-0 .9 .2 .9 .5 1 .3 .9 .5 .9-0 .9 0 .9 .5 .6 .1" stroke="#b000a0"/>
<path d="M49 180.3l.9-.2 .9-.2 1-.3 .9-.2 .9-.2 .9-.2 .9-.3 1-.2 .6-.1 .3-0 .9-0 .6 0 .3-1 .9-2.9 1-2.8 .9-2.7 .9-2.8 .9-2.5 .9-2.6 .9-2.3 1-2.2 .8-1.7 .1 .3 .9 .8 .9 .7 .9 .7 1 .6 .9 .5 .9 .5 .9 .3 .9 .4 1 .2 .9 .4 .9 0 .9 .2 .9 .2 1 .2 .9 .2 .9 0 .9 .2 .9 .1 1 0 .9 .2 .9 0 .9 .1 .9 .1 .9 .1 1 0 .9 .1 .9 0 .9 .1 .9 .1 1 0 .9 .1 .9 .1 .9-.1 .9 .1 1 .1 .9 0 .9 .1 .9 0 .9 0 1 .1 .9 0 .9 .1 .9 0 .9-0 1 .1 .9 0 .6 .1 .3-.9 .9-2.5 .9-2.3 .9-2 1-1.8 .9-1.8 .9-1.4 .9-1.6 .9-1.3 1-1.2 .9-1 .6-.7 .3 .3 .9 .7 .9 .5 1 .6 .9 .5 .9 .4 .9 .5 .9 .5 1 .2 .9 .2 .9 .3 .9 .3 .9 .2 1 .3 .9 .2 .9 .3 .9 .1 .9 .2 1 .2 .9 .1 .9 .2 .9 .1 .9 .1 .9 .2 1 0 .9 .2 .9 .3 .9-0 .9 .2 1-0 .9 .2 .9 .2 .9 .1 .9 .1 1 .1 .9 0 .9 .3 .9 0 .9 .1 1 .1 .9 .1 .9 .2 .9 .1 .6 .1 .3-.6 1-1.6 .9-1.6 .9-1.4 .9-1.3 .9-1.3 .9-1.1 1-.9 .9-1 .9-.9 .9-.9 .9-.6 1-.8 .3-.2 .6 .7 .9 .6 .9 .9 .9 .5 1 .5 .9 .5 .9 .7 .9 .2 .9 .5 1 .5 .9 .1 .9 .4 .9 .4 .9 .2 1 .4 .9 .1 .9 .2 .9 .2 .9 .3 1 .2 .9 .2 .9 .1 .9 .1 .9 .2 .9 .1 1 .2 .9 .2 .9 .1 .9 .3 .9 0 1 .3 .9 0 .9 .2 .9 0 .9 .2 1 .2 .9 .1 .9 .1 .9 .1 .9 .2 1 .1 .9 .2 .9-.1 .9 .3 .3-0 .6-1.3 1-2 .9-1.6 .9-1.7 .9-1.3 .9-1.4 .9-1.3 1-1.1 .9-.9 .9-1 .9-.9 .8-.5 .1-.1 1 .6 .9 .6 .9 .7 .9 .4 .9 .5 1 .4 .9 .6 .9 .3 .9 .3 .9 .5 1 .4 .9 .3 .9 .4 .9 .2 .9 .1 1 .5 .9 .2 .9 .2 .9 .3 .9 .2 1 .3 .9 .2 .9 .2 .9 .2 .9 .2 .9 .1 1 .4 .9 0 .9 .3 .9 .2 .9 .2 1 .1 .9 .2 .9 .1 .9 .3 .9 .1 1 .1 .9 .1 .9 .3 .9 .1 .9 .2 .6 .1" stroke="#1010c0"/>
<path d="M49 180.3l.9-.2 .9-.3 1-.2 .9-.2 .9-.2 .9-.2 .9-.3 1-.2 .6-.1 .3-0 .9-0 .6-.1 .3-.9 .9-2.8 1-2.8 .9-2.7 .9-2.7 .9-2.5 .9-2.5 .9-2.4 1-2.2 .8-1.5 .1 .2 .9 .9 .9 .8 .9 .8 1 .5 .9 .5 .9 .5 .9 .3 .9 .4 1 .3 .9 0 .9 .3 .9 .2 .9 .1 1 .2 .9 0 .9 .2 .9 .1 .9 0 1 .1 .9 .1 .9 0 .9 .1 .9 .1 .9 0 1 .1 .9 0 .9 .1 .9 .1 .9-.1 1 .1 .9 0 .9 .2 .9-0 .9 0 1 0 .9 .1 .9 0 .9 .1 .9 .1 1-0 .9 0 .9 .1 .9-0 .9 .1 1-.1 .9 .1 .6-0 .3-1 .9-3.1 .9-2.7 .9-2.6 1-2.3 .9-2 .9-2.1 .9-1.6 .9-1.7 1-1.3 .9-1.6 .6-.8 .3 .4 .9 1 .9 .9 1 .7 .9 .6 .9 .7 .9 .5 .9 .4 1 .5 .9 .4 .9 .3 .9 .4 .9 .1 1 .4 .9 .1 .9 .3 .9 .4 .9 .1 1 .1 .9 .2 .9 .3 .9 .1 .9 .3 .9 .1 1 .1 .9 .2 .9 .1 .9 .2 .9 .1 1 .3 .9 .1 .9 .1 .9 0 .9 .4 1 .1 .9 .1 .9 .1 .9 .3 .9 0 1 .2 .9 0 .9 .2 .9 .2 .6 .1 .3-.6 1-1.7 .9-1.5 .9-1.4 .9-1.3 .9-1.3 .9-1.1 1-1.2 .9-.7 .9-1.1 .9-.8 .9-.9 1-.5 .3-.2 .6 .6 .9 .8 .9 .9 .9 .7 1 .6 .9 .5 .9 .5 .9 .5 .9 .4 1 .2 .9 .3 .9 .4 .9 .3 .9 .1 1 .4 .9 .3 .9 .1 .9 .1 .9 .1 1 .4 .9 .1 .9 .2 .9 0 .9 .2 .9 .2 1 .2 .9 .1 .9 .1 .9 .4 .9-.2 1 .2 .9 .1 .9 .2 .9 .1 .9 .1 1 .2 .9 0 .9 .2 .9 .1 .9 .2 1 0 .9 .2 .9 0 .9 .1 .3 .1 .6-1.3 1-1.8 .9-1.6 .9-1.6 .9-1.3 .9-1.3 .9-1 1-1.3 .9-1 .9-.9 .9-1 .8-.4 .1 .1 1 .6 .9 .8 .9 .6 .9 .5 .9 .6 1 .5 .9 .4 .9 .4 .9 .6 .9 .3 1 .3 .9 .4 .9 .4 .9 .2 .9 .2 1 .4 .9 .2 .9 .3 .9 .3 .9 .1 1 .2 .9 .2 .9 .2 .9 .4 .9 0 .9 .3 1 .1 .9 .3 .9 .1 .9 .2 .9 .3 1-0 .9 .3 .9 .2 .9 .1 .9 .2 1 .1 .9 .2 .9 .1 .9 .1 .9 .3 .6-0" stroke="#800010"/>
<path d="M49 180.3l.9-.3 .9-.2 1-.3 .9-.2 .9-.2 .9-.3 .9-.3 1-.2 .6-.1 .3-.1 .9 .1 .6-0 .3-1.5 .9-4.4 1-4.3 .9-4.3 .9-4.1 .9-4 .9-3.8 .9-3.8 1-3.6 .9-3.1 .6-1.9 .3 1 .9 1.8 .9 1.3 1 1.2 .9 1 .9 .9 .9 .6 .9 .5 1 .5 .9 .5 .9 .2 .9 .3 .9 .3 1 .4 .9 .1 .9 .1 .9 .1 .9 .2 1 0 .9 .2 .9 .1 .9 .1 .9-0 .9 .2 1 .1 .9-0 .9 .1 .9 .2 .9-0 1 .1 .9 0 .9 .1 .9 .1 .9 .1 1-0 .9 .1 .9 .1 .9 0 .9 .1 1 .1 .9 .1 .9 0 .9 .2 .9 0 1-0 .9 .1 .6 .1 .3-1.6 .9-4.6 .9-4.2 .9-3.8 1-3.3 .9-3.4 .9-2.7 .9-2.8 .9-2.1 1-2.3 .9-2.2 .6-1.1 .3 .6 .9 1.6 .9 1.6 1 1.1 .9 1.3 .9 .7 .9 .8 .9 .6 1 .6 .9 .7 .9 .3 .9 .6 .9 .6 1 .4 .9-0 .9 .5 .9 .3 .9 .3 1 .4 .9-0 .9 .4 .9 .1 .9 .4 .9 .5 1-.1 .9 .3 .9 .3 .9 0 .9 .4 1 .1 .9 .3 .9 .3 .9 .1 .9 .4 1 0 .9 .3 .9 .3 .9 .1 .9 .2 1 .3 .9 .1 .9 .4 .9 .1 .6 .3 .3-1.9 1-5.2 .9-4.6 .9-4.4 .9-4.1 .9-3.9 .9-3.3 1-3.3 .9-3.2 .9-2.5 .9-2.2 .9-2.6 1-2.4 .3-.4 .6 1.2 .9 1.9 .9 1.7 .9 1.5 1 1.3 .9 1.1 .9 .9 .9 .7 .9 .8 1 .8 .9 .6 .9 .5 .9 .8 .9 .3 1 .4 .9 .3 .9 .4 .9 .4 .9 .4 1 .1 .9 .3 .9 .6 .9 0 .9 .5 .9-.2 1 .6 .9 .3 .9 .1 .9 .3 .9 .2 1 .1 .9 .4 .9 .1 .9 .2 .9 .6 1-.2 .9 .4 .9 .2 .9 .5 .9-0 1 .3 .9 .3 .9-.1 .9 .4 .3 .2 .6-3.3 1-4.6 .9-4.2 .9-3.7 .9-3.6 .9-3.3 .9-2.5 1-2.8 .9-2.4 .9-2.4 .9-2.4 .8-1.5 .1 .6 1 1.7 .9 1.3 .9 1.8 .9 1.3 .9 1.1 1 1.6 .9 .6 .9 1 .9 .9 .9 1.1 1 .7 .9 .7 .9 .6 .9 .6 .9 .6 1 .3 .9 .7 .9 .8 .9 .5 .9 .1 1 .8 .9 .2 .9 .4 .9 .8 .9 .3 .9 .4 1 .5 .9 .4 .9 .3 .9 .2 .9 .6 1 .3 .9 .4 .9 .5 .9-.1 .9 1 1 0 .9 .2 .9 .6 .9 .1 .9 .2 .6 .6" stroke="#800080"/>
<path d="M49 180.3l.9-.3 .9-.3 1-.3 .9-.2 .9-.3 .9-.3 .9-.3 1-.3 .6-.2 .3-0 .9-0 .6-0 .3-1.2 .9-3.5 1-3.5 .9-3.3 .9-3.2 .9-3.3 .9-3.1 .9-3 1-2.7 .9-2.2 .2-.6 .7 .9 .9 .9 .9 .7 1 .6 .9 .5 .9 .5 .9 .6 .9 .1 1 .5 .9 .3 .9 .3 .9 .1 .9 .2 1 .1 .9 .2 .9 .2 .9 .1 .9 .2 1-.1 .9 .1 .9 .2 .9 .1 .9 0 .9 0 1 .1 .9 .1 .9 .1 .9 .1 .9 0 1 .1 .9 0 .9 .1 .9-0 .9 .1 1 0 .9 0 .9 .1 .9 .1 .9-0 1 .2 .9-.1 .9 .1 .9-0 .9 .1 1-0 .9 .1 .6 0 .3-1.6 .9-4.4 .9-3.9 .9-3.7 1-3.4 .9-3 .9-2.8 .9-2.3 .9-2.5 1-2.1 .9-2.1 .6-1.1 .3 .5 .9 .9 .9 1.1 1 .9 .9 .7 .9 .9 .9 .4 .9 .6 1 .6 .9 .5 .9 .3 .9 .3 .9 .6 1 .3 .9 .2 .9 .5 .9 .3 .9 .1 1 .3 .9 .2 .9 .3 .9 .1 .9 .3 .9 .2 1 .2 .9 .1 .9 .2 .9 .2 .9 .2 1 .5 .9 0 .9 .1 .9 .2 .9 .3 1-.1 .9 .3 .9 .3 .9 .1 .9 .2 1 .2 .9 .1 .9 .2 .9 .3 .6 0 .3-1.1 1-3.1 .9-3.1 .9-2.4 .9-2.8 .9-2.1 .9-1.9 1-2.1 .9-1.9 .9-1.5 .9-1.4 .9-1.6 1-1.6 .3 .1 .6 .7 .9 1.4 .9 1.2 .9 1.1 1 1 .9 .7 .9 .8 .9 .9 .9 .4 1 .9 .9 .3 .9 .6 .9 .4 .9 .5 1 .3 .9 .5 .9 .3 .9 .4 .9 .1 1 .6 .9 .1 .9 .4 .9 .3 .9 .3 .9 .2 1 .4 .9 .3 .9-0 .9 .4 .9-0 1 .4 .9 .1 .9 .3 .9 .1 .9 .3 1 .2 .9 .2 .9 .1 .9 .2 .9 .2 1 .3 .9 .2 .9 .4 .9-.1 .3 .1 .6-2.3 1-3.4 .9-3.1 .9-2.7 .9-2.6 .9-2.3 .9-1.9 1-2.1 .9-1.8 .9-1.8 .9-1.3 .8-1.3 .1 .2 1 1 .9 1.1 .9 .9 .9 .9 .9 1 1 .8 .9 .8 .9 .7 .9 .5 .9 1.2 1 .3 .9 .5 .9 .4 .9 .8 .9 .4 1 .4 .9 .6 .9 .6 .9 .3 .9 .5 1 .2 .9 .5 .9 .1 .9 .5 .9 .5 .9 .3 1 .4 .9 .2 .9 .2 .9 .5 .9 .2 1 .5 .9 .1 .9 .1 .9 .7 .9 0 1 .3 .9 .6 .9 .3 .9 .2 .9 .1 .6 .3" stroke="#800010"/>
<path d="M49 180.3l.9-.2 .9-.3 1-.2 .9-.3 .9-.2 .9-.2 .9-.3 1-.2 .6-.2 .3 0 .9-0 .6 0 .3-1 .9-3.1 1-3 .9-2.9 .9-2.9 .9-2.7 .9-2.7 .9-2.5 1-2.4 .9-1.9-0 .1 .9 .7 .9 .8 .9 .5 1 .6 .9 .4 .9 .3 .9 .4 .9 .3 1 .1 .9 .3 .9 .3 .9 .1 .9 0 1 .2 .9 0 .9 .1 .9 .2 .9 .1 1 .1 .9 0 .9 .1 .9 0 .9 .2 .9-0 1 0 .9 0 .9 .2 .9 0 .9 0 1 0 .9 .1 .9 0 .9-0 .9 .1 1 0 .9 .1 .9-0 .9 0 .9 .1 1 0 .9 0 .9 0 .9 .2 .9 .1 1-.1 .9 0 .6 .1 .3-.9 .9-2.7 .9-2.1 .9-2.1 1-1.9 .9-1.8 .9-1.5 .9-1.5 .9-1.4 1-1.2 .9-1.1 .6-.7 .3 .4 .9 .8 .9 .8 1 .6 .9 .7 .9 .5 .9 .6 .9 .3 1 .5 .9 .1 .9 .5 .9 .2 .9 .4 1 .3 .9 .1 .9 .3 .9 .1 .9 .3 1 .1 .9 .2 .9 .2 .9 .1 .9 .3 .9 .1 1 .1 .9 .2 .9 .1 .9 .2 .9 .1 1 .1 .9 .2 .9 .3 .9-0 .9 .1 1 .1 .9 .2 .9 .1 .9 .2 .9 .2 1 0 .9 .2 .9 .1 .9 .1 .6 .2 .3-.8 1-1.9 .9-1.7 .9-1.5 .9-1.6 .9-1.3 .9-1.3 1-1.2 .9-1 .9-.9 .9-1.1 .9-.9 1-.7 .3-.2 .6 .5 .9 1 .9 .8 .9 .7 1 .6 .9 .6 .9 .5 .9 .6 .9 .4 1 .4 .9 .3 .9 .2 .9 .3 .9 .4 1 .3 .9 .2 .9 .2 .9 .3 .9 .2 1 .2 .9 .2 .9 .1 .9 .1 .9 .2 .9 .3 1 .1 .9 .2 .9 0 .9 .2 .9 0 1 .4 .9 .1 .9 .1 .9 .1 .9 .2 1 .2 .9 .1 .9 .1 .9 .1 .9 .2 1 .2 .9-0 .9 .1 .9 .1 .3 .2 .6-1.7 1-2.3 .9-2.1 .9-1.9 .9-1.8 .9-1.7 .9-1.4 1-1.3 .9-1.3 .9-1.1 .9-1.2 .8-.8 .1 .2 1 .5 .9 .8 .9 .6 .9 .5 .9 .7 1 .4 .9 .5 .9 .5 .9 .4 .9 .4 1 .5 .9 .2 .9 .3 .9 .3 .9 .3 1 .1 .9 .5 .9 .3 .9 .3 .9 .2 1 .2 .9 .3 .9 .1 .9 .4 .9 .1 .9 .2 1 .3 .9 .1 .9 .2 .9 .2 .9 0 1 .3 .9 .3 .9 .2 .9 .2 .9 .1 1 .2 .9 .2 .9 .2 .9 .1 .9 .2 .6 .1" stroke="#800010"/>
<path d="M49 180.3l.9-.3 .9-.4 1-.3 .9-.4 .9-.4 .9-.3 .9-.3 1-.4 .6-.2 .3 0 .9 0 .6-0 .3-.9 .9-2.8 1-2.6 .9-2.7 .9-2.5 .9-2.5 .9-2.4 .9-2.2 1-2.1 .8-1.4 .1 .1 .9 .9 .9 .7 .9 .7 1 .4 .9 .6 .9 .5 .9 .3 .9 .3 1 .2 .9 .2 .9 .3 .9 .1 .9 .2 1 .1 .9 .1 .9 .1 .9 .1 .9 .1 1 .1 .9 .2 .9-0 .9 .1 .9 0 .9 .1 1 0 .9 .1 .9 .1 .9-.1 .9 .1 1 0 .9 .2 .9 0 .9 0 .9 0 1 .1 .9 0 .9 .1 .9-0 .9 .1 1 0 .9 .1 .9-0 .9 0 .9 0 1 .2 .9-0 .6 0 .3-1.2 .9-3.1 .9-3 .9-2.9 1-2.4 .9-2.1 .9-2.2 .9-1.9 .9-1.7 1-1.5 .9-1.4 .6-1 .3 .4 .9 .8 .9 .8 1 .7 .9 .5 .9 .7 .9 .4 .9 .5 1 .4 .9 .3 .9 .4 .9 .2 .9 .2 1 .2 .9 .3 .9 .4 .9 .1 .9 .2 1 .1 .9 .4 .9 0 .9 .3 .9 .1 .9 .2 1 .1 .9 .2 .9 .3 .9 .1 .9 .1 1 .1 .9 .3 .9 .1 .9 .1 .9 .1 1 .1 .9 .2 .9 .2 .9-0 .9 .2 1 0 .9 .2 .9 .1 .9 .2 .6 0 .3-.7 1-2.4 .9-2 .9-2 .9-1.8 .9-1.7 .9-1.6 1-1.6 .9-1.1 .9-1.3 .9-1.1 .9-1.1 1-.9 .3-.4 .6 1 .9 .9 .9 1.1 .9 1.3 1 .6 .9 .8 .9 .8 .9 .5 .9 .6 1 .5 .9 .4 .9 .6 .9 .1 .9 .4 1 .4 .9 .3 .9 .3 .9 .3 .9 .2 1 .3 .9 .1 .9 .4 .9 .1 .9 .4 .9 .2 1 .2 .9 .1 .9 .2 .9 .2 .9 .1 1 .3 .9 .2 .9 .1 .9 .2 .9 .2 1 .2 .9 .1 .9 .2 .9 .1 .9 .3 1 .1 .9 .1 .9 .3 .9 .1 .3 .1 .6-1.9 1-2.7 .9-2.2 .9-2.1 .9-2.1 .9-1.8 .9-1.8 1-1.3 .9-1.4 .9-1.4 .9-1 .8-1.2 .1 .4 1 .8 .9 1 .9 .7 .9 .6 .9 .7 1 .6 .9 .7 .9 .8 .9 .3 .9 .8 1 .3 .9 .5 .9 .4 .9 .3 .9 .6 1 .1 .9 .5 .9 .3 .9 .3 .9 .3 1 .4 .9 .2 .9 .5 .9 .2 .9 .3 .9 .3 1 .2 .9 .3 .9 .1 .9 .3 .9 .3 1 .2 .9 .4 .9 .3 .9 .1 .9 .2 1-0 .9 .4 .9 .2 .9 .2 .9 .1 .6 .3" stroke="#000080"/>
<path d="M49 180.1l.9-.2 .9 .1 1-.3 .9-.1 .9-.4 .9-.3 .9-.2 1 0 .6-.2 .3 .1 .9 0 .6 0 .3-1.1 .9-3.6 1-3.4 .9-3.4 .9-3 .9-2.9 .9-3.2 .9-3.2 1-2.2 .9-2.4 .1-.1 .8 1.3 .9 .7 .9 1.4 1-.3 .9 1.8 .9-.5 .9 1.2 .9-.9 1 .5 .9 1 .9-0 .9 .4 .9-.3 1-.1 .9-.7 .9 1.7 .9-1 .9 .8 1-.3 .9-.2 .9 .2 .9 .1 .9 .3 .9 0 1 0 .9-.4 .9 1.2 .9-.4 .9 .4 1-.1 .9-0 .9-.7 .9-.4 .9 .4 1 1 .9-.4 .9 .5 .9-.6 .9-.3 1 .3 .9-0 .9 .4 .9 .8 .9 0 1-.7 .9-.2 .6-.2 .3-.8 .9-4 .9-3.7 .9-3.7 1-2.3 .9-2 .9-4 .9-1.8 .9-2 1-.6 .9-2.7 .6 .4 .3 .7 .9-.3 .9 1.2 1 0 .9 .1 .9 1.8 .9-.9 .9 2.4 1-.7 .9 2 .9-.8 .9 .7 .9 .2 1-.4 .9 2.1 .9-1.3 .9 .9 .9-.5 1 0 .9 .7 .9 .2 .9 .7 .9-1 .9 1 1-.6 .9 1.5 .9-1.8 .9 1.8 .9-1.4 1 1.3 .9-.5 .9 .6 .9-.4 .9 .6 1-.7 .9 .5 .9 .2 .9-.5 .9 1.7 1-1.2 .9 1 .9 1.2 .9-1.2 .6 .6 .3-2 1-.6 .9-2.3 .9-1.9 .9 .1 .9-3.4 .9-.1 1-3.4 .9-1.4 .9 .4 .9 .4 .9-2.6 1-.8 .3-.8 .6 2.2 .9 2.3 .9 .4 .9 1.8 1-1.3 .9 3 .9 .7 .9 .2 .9 1.5 1-.1 .9 .2 .9 .7 .9 .2 .9-.8 1 .9 .9 1.7 .9-.4 .9-.6 .9 1.2 1-.3 .9 .4 .9-.2 .9 .7 .9 .2 .9 .7 1-.7 .9 1.1 .9-1.7 .9 1.5 .9 .3 1-.5 .9 .8 .9 .1 .9 .2 .9 .7 1 .3 .9 0 .9-1 .9 1.3 .9 .1 1 .2 .9-.6 .9-.7 .9 2.1 .3-.9 .6-1.8 1-2.7 .9-3.3 .9-1.1 .9-4 .9-1.6 .9-.8 1-4.2 .9-1 .9-1.8 .9 1.4 .8-2.3 .1 .4 1 .2 .9 .5 .9 4.4 .9-.9 .9 1 1-.2 .9 1.8 .9 1.8 .9-.4 .9 1.4 1 .3 .9-.2 .9 1 .9-.3 .9 2 1-2.9 .9 1.3 .9 .9 .9 2 .9 1.1 1-.8 .9-.2 .9-1.7 .9 1.1 .9 1.7 .9-1.1 1 .3 .9 1.2 .9-.6 .9 .9 .9 1 1 .7 .9-.6 .9-.6 .9 2.1 .9 .4 1-1.4 .9 2.7 .9-3.1 .9 1.9 .9-.6 .6-.7" stroke="#6010c0"/>
<path d="M49 180.3l.9-.2 .9-.3 1-.2 .9-.3 .9-.2 .9-.3 .9-.2 1-.3 .6-.1 .3-0 .9-0 .6 0 .3-1.5 .9-4.4 1-4.3 .9-4.3 .9-4.2 .9-4 .9-3.9 .9-3.9 1-3.4 .9-3.2 .6-1.7 .3 .6 .9 1.6 .9 1.2 1 1.2 .9 .8 .9 .8 .9 .6 .9 .7 1 .5 .9 .5 .9 .3 .9 .2 .9 .3 1 .3 .9 .2 .9 .3 .9 0 .9 .3 1 .1 .9 .1 .9 .2 .9 0 .9 .2 .9 .1 1 0 .9-.1 .9 .3 .9 .1 .9 .2 1-.1 .9 .3 .9 0 .9 0 .9 .2 1-.1 .9 .1 .9 .2 .9 0 .9 .2 1 0 .9-0 .9 .1 .9 0 .9 .1 1 .1 .9 .1 .6 .1 .3-1.9 .9-5.3 .9-4.7 .9-4.2 1-3.9 .9-3.8 .9-3.3 .9-2.6 .9-2.9 1-2.5 .9-2.5 .6-1.1 .3 .3 .9 1.4 .9 .8 1 1.3 .9 1 .9 .8 .9 .6 .9 .6 1 .8 .9 .4 .9 .6 .9 .4 .9 .5 1 .3 .9 .3 .9 .3 .9 .2 .9 .2 1 .4 .9 .4 .9 0 .9 .6 .9 .2 .9-.1 1 .3 .9 .1 .9 .4 .9 .3 .9 .1 1 .1 .9 .4 .9 .2 .9 .2 .9 .2 1 0 .9 .3 .9 .3 .9 .2 .9 .1 1 .1 .9 .4 .9 .1 .9 .4 .6 0 .3-1.5 1-3.7 .9-3.3 .9-3.2 .9-3.1 .9-2.6 .9-2.5 1-2.5 .9-2.1 .9-2.1 .9-1.8 .9-1.5 1-1.6 .3-.5 .6 1.4 .9 1.5 .9 1.1 .9 1.6 1 .7 .9 1.1 .9 1 .9 .7 .9 .7 1 .6 .9 .8 .9 .5 .9 .5 .9 .2 1 .6 .9 .6 .9 .3 .9 .5 .9 .2 1 .3 .9 0 .9 .9 .9-.1 .9 .3 .9 .5 1 .1 .9 .3 .9 .2 .9 .1 .9 .6 1-.1 .9 .4 .9 0 .9 .4 .9 .1 1 .3 .9 .2 .9 .3 .9 .4 .9 0 1 .2 .9 .1 .9 .7 .9-0 .3-.1 .6-2.4 1-3.9 .9-3.8 .9-3 .9-2.6 .9-3 .9-2.4 1-2.2 .9-2 .9-1.8 .9-1.6 .8-1.4 .1 0 1 1.8 .9 1.3 .9 1.8 .9 1.7 .9 .9 1 1.1 .9 1.1 .9 1.1 .9 1.1 .9 .5 1 1.2 .9 .6 .9 .9 .9 .8 .9 .3 1 1.3 .9 .4 .9 .4 .9 .7 .9 .3 1 .7 .9 .6 .9 .1 .9 .8 .9 .5 .9 .6 1 .4 .9 .2 .9 .5 .9 .5 .9 .5 1 .2 .9 .7 .9 .3 .9 .3 .9 .5 1 .3 .9 .5 .9 .4 .9-0 .9 .5 .6 .2" stroke="#808000"/>
<path d="M49 180.3l.9-.3 .9-.4 1-.4 .9-.3 .9-.4 .9-.3 .9-.4 1-.3 .6-.3 .3 0 .9 0 .6 0 .3-1.1 .9-3.2 1-3.2 .9-3 .9-3 .9-3 .9-2.8 .9-2.8 1-2.5 .9-2.1 .1-.1 .8 .9 .9 .9 .9 .9 1 .7 .9 .6 .9 .4 .9 .5 .9 .4 1 .5 .9 .2 .9 .3 .9 .3 .9 .1 1 .3 .9 .2 .9 .1 .9 0 .9 .2 1 .2 .9 .1 .9 .1 .9 0 .9 .2 .9-0 1 .1 .9 0 .9 .2 .9-0 .9 .1 1-0 .9 .2 .9-.1 .9 .1 .9 .1 1-0 .9 0 .9 .1 .9 .1 .9 0 1 .1 .9 0 .9 .1 .9 .1 .9 .1 1-.1 .9 .1 .6 .1 .3-1.1 .9-3 .9-2.6 .9-2.5 1-2.4 .9-2.1 .9-1.7 .9-1.8 .9-1.6 1-1.6 .9-1.2 .6-.6 .3 0 .9 .9 .9 .7 1 .7 .9 .4 .9 .6 .9 .4 .9 .4 1 .4 .9 .3 .9 .3 .9 .5 .9 .2 1 .3 .9 .1 .9 .3 .9 .3 .9 .1 1 .3 .9 .2 .9 .1 .9 .2 .9 .2 .9-.1 1 .3 .9 .2 .9 .1 .9 .1 .9 .3 1 .1 .9 .1 .9 .2 .9 0 .9 .3 1 .1 .9 .1 .9 .1 .9 .1 .9 .2 1 .1 .9 .3 .9-.2 .9 .3 .6 .1 .3-.7 1-1.8 .9-1.7 .9-1.5 .9-1.3 .9-1.4 .9-1.2 1-1.2 .9-1.1 .9-1 .9-.9 .9-.7 1-.6 .3-.5 .6 .7 .9 1.2 .9 .7 .9 .8 1 .8 .9 .6 .9 .6 .9 .6 .9 .4 1 .6 .9 .4 .9 .2 .9 .7 .9 .2 1 .4 .9 .2 .9 .2 .9 .5 .9 .1 1 .4 .9-.1 .9 .5 .9 .1 .9 .3 .9 .1 1 .3 .9 .1 .9 .2 .9 .2 .9 .1 1 .3 .9 .2 .9 .2 .9 .1 .9 .2 1 0 .9 .2 .9 .3 .9 0 .9 .1 1 .3 .9 .2 .9-.1 .9 .3 .3 0 .6-1.7 1-2.1 .9-2.2 .9-1.8 .9-2 .9-1.6 .9-1.4 1-1.4 .9-1.3 .9-1.2 .9-1.2 .8-.7 .1 .1 1 .7 .9 .8 .9 .5 .9 .6 .9 .4 1 .7 .9 .4 .9 .3 .9 .6 .9 .4 1 .1 .9 .6 .9 .2 .9 .3 .9 .5 1 .3 .9 0 .9 .5 .9 .1 .9 .4 1 .2 .9 .3 .9 .3 .9 .2 .9 .2 .9 .2 1 .2 .9 .1 .9 .3 .9 .1 .9 .3 1 .1 .9 .1 .9 .2 .9 .5 .9-.1 1 .4 .9-.1 .9 .3 .9 .2 .9 .2 .6 0" stroke="#c00020"/>
<path d="M49 180.2l.9-.2 .9-.4 1-.4 .9-.2 .9-.7 .9-0 .9-.4 1-.2 .6-.3 .3 0 .9 .1 .6 0 .3-1 .9-2.6 1-2.3 .9-2.5 .9-2.7 .9-2.5 .9-2.5 .9-1.6 1-2.6 .7-1 .2 .2 .9 .6 .9 .2 .9 .7 1 .3 .9 .9 .9 .3 .9 .5 .9 .1 1 .2 .9 .2 .9-.2 .9 .2 .9 .1 1 .3 .9-.2 .9 .4 .9-.2 .9 .2 1 0 .9 .3 .9 .4 .9 .2 .9-1 .9 .5 1 .1 .9 .2 .9 .1 .9-.9 .9 1.2 1-.3 .9 .1 .9 .3 .9 .1 .9-.1 1-.1 .9 .1 .9-.3 .9 .5 .9-.4 1-.2 .9 .2 .9 .6 .9 .5 .9-1 1 .1 .9 .4 .6-.5 .3-.7 .9-3.6 .9-2.6 .9-3.3 1-2.3 .9-2.2 .9-3 .9-1.5 .9-.8 1-2.9 .9-1.6 .6 .2 .3-0 .9 .6 .9 1 1 .5 .9 .3 .9 1.2 .9-1 .9 2.1 1 .3 .9-1 .9 .1 .9 1.7 .9 .4 1 .8 .9-1 .9 .8 .9 .8 .9-.5 1-.3 .9 .6 .9-.6 .9 .7 .9 .6 .9 .4 1-.2 .9-.1 .9 .3 .9 .1 .9 .6 1-.2 .9-0 .9 .8 .9 .7 .9-1.3 1 .7 .9 .6 .9-.1 .9 .3 .9 .9 1-.6 .9 .7 .9-.6 .9 .3 .6-.5 .3-0 1-1.9 .9-1.2 .9-1.4 .9-.7 .9-2.6 .9-.6 1-.6 .9-1.4 .9-.5 .9-.6 .9-1.4 1-1.4 .3 .8 .6 1.3 .9 .2 .9-.9 .9 2.4 1-.7 .9 1.4 .9-.2 .9 1 .9 1.2 1-.3 .9-1.2 .9 1.6 .9-.1 .9 .8 1 .1 .9-.1 .9 .2 .9-.8 .9 1.4 1 .3 .9 .5 .9 .5 .9 .3 .9-1.1 .9 1.5 1-1.6 .9 .4 .9 .8 .9 .6 .9-.5 1 .1 .9-.5 .9 1.2 .9-.1 .9-.1 1 .3 .9 .3 .9 .7 .9 .1 .9-.4 1-.2 .9-.5 .9-.6 .9 .5 .3 .7 .6-2.3 1-1 .9-1.6 .9-3.6 .9 .6 .9-1.9 .9-1.4 1-2.5 .9 .4 .9-2.1 .9-.1 .8-.1 .1-1 1 .9 .9 1.7 .9 .5 .9 .6 .9-.7 1 1 .9 .7 .9 .3 .9 1.2 .9-.2 1 1.1 .9 .9 .9 0 .9-.2 .9 .4 1-.3 .9 2.1 .9-.6 .9-.1 .9 1.2 1-.5 .9 .7 .9 .7 .9-1.2 .9 1.8 .9-1.2 1 1.1 .9 .6 .9 .2 .9 .1 .9 .3 1-.5 .9 1.5 .9-1.6 .9 .4 .9-.1 1 1.6 .9 .9 .9-.7 .9-.1 .9-0 .6 .5" stroke="#000080"/>
<path d="M49 180.4l.9-.5 .9-.3 1-.3 .9-.1 .9-.5 .9-.2 .9-.6 1-.2 .6-.1 .3-.1 .9-0 .6 .1 .3-1.2 .9-2.9 1-2.7 .9-3.3 .9-2.9 .9-2.7 .9-2.5 .9-2.1 1-2.8 .9-2.2-0 .4 .9 .5 .9 1.5 .9 0 1 .6 .9 1.1 .9 .4 .9 .1 .9 0 1 .2 .9 .4 .9 .1 .9 .2 .9 .1 1-0 .9 .1 .9 .2 .9 0 .9 .3 1-.2 .9 .4 .9-.5 .9 .5 .9-.1 .9 .4 1-.1 .9-.1 .9 .1 .9 .2 .9 .2 1-.3 .9 0 .9-0 .9-.1 .9 .4 1 .4 .9-.4 .9 .5 .9-.1 .9-.6 1 .2 .9 .3 .9 .1 .9-.1 .9 .4 1-.5 .9 .2 .6-.5 .3-.7 .9-4.8 .9-3.3 .9-4.2 1-2.3 .9-3.7 .9-2.1 .9-2.2 .9-2.6 1-2.4 .9-1.8 .6-1.9 .3 .9 .9 3.4 .9-.2 1 1.9 .9-.1 .9 .2 .9 1.8 .9 .6 1-.2 .9 .7 .9-.5 .9 1.1 .9 .3 1-.2 .9 1.5 .9 0 .9 .8 .9-.3 1-.1 .9 .1 .9 .9 .9 .6 .9 .2 .9 .6 1-.5 .9-.4 .9 2 .9 .1 .9-1.5 1 1.6 .9-.7 .9 1 .9-.8 .9 .2 1 .5 .9-.1 .9 .6 .9-.1 .9-.3 1 .5 .9 .9 .9 .3 .9-.1 .6 .2 .3-.9 1-1.6 .9-2.4 .9-1.4 .9-1.8 .9-1.2 .9-1.7 1-.2 .9-2.7 .9-.4 .9-1 .9-1 1-1.1 .3-.1 .6 1 .9 1.2 .9 1.7 .9-.3 1 1 .9 .6 .9-1.1 .9 3 .9-.7 1-.2 .9 .5 .9 .2 .9 1.7 .9 .1 1-.6 .9 .8 .9-.9 .9 1 .9 .3 1 0 .9 .6 .9-0 .9 .6 .9-.2 .9 .4 1-.2 .9 1 .9 .2 .9-.8 .9 .2 1 .8 .9-.2 .9 .5 .9-1.4 .9 1.9 1-1.4 .9 1.3 .9-.4 .9 .4 .9 .2 1-.5 .9 .2 .9 .7 .9 .4 .3-1.4 .6-1.2 1-1.6 .9-1.8 .9-2.1 .9-1.6 .9-2.2 .9-.1 1-1.9 .9-.7 .9-2.5 .9-1.3 .8 .4 .1-.3 1 .4 .9 2 .9 1.3 .9-.5 .9 1 1 1.1 .9-.4 .9 1.4 .9 1.7 .9-.7 1 .7 .9-.7 .9 1.6 .9 .5 .9 0 1 .5 .9 1.3 .9-.5 .9 .6 .9-.7 1-.2 .9 2.2 .9 .2 .9 .3 .9 .1 .9 .3 1-.1 .9-.3 .9 1.5 .9 .4 .9 .4 1-1.3 .9 .1 .9 1.7 .9 .3 .9-.7 1-.3 .9 .3 .9 .6 .9 0 .9 .4 .6 .6" stroke="#6010c0"/>
<path d="M49 180.3l.9-.2 .9-.2 1-.1 .9-.2 .9-.2 .9-.1 .9-.2 1-.2 .6-.1 .3-0 .9 0 .6-0 .3-.8 .9-2.3 1-2.2 .9-2.2 .9-2.1 .9-2.1 .9-2 .9-1.8 1-1.7 .5-.8 .4 .3 .9 .6 .9 .6 .9 .4 1 .4 .9 .3 .9 .3 .9 .2 .9 .2 1 .2 .9 .1 .9 .1 .9 0 .9 .2 1 0 .9 .1 .9 .1 .9 .1 .9-.1 1 .2 .9-0 .9-0 .9 .1 .9 .1 .9-.1 1 .1 .9 0 .9 .1 .9 0 .9-0 1-0 .9 .1 .9-0 .9 0 .9 0 1 .1 .9-0 .9 0 .9 .1 .9-0 1 0 .9-0 .9 .1 .9 0 .9 0 1 0 .9 .1 .6 0 .3-1 .9-2.6 .9-2.4 .9-2.3 1-2.1 .9-1.6 .9-1.9 .9-1.5 .9-1.4 1-1.3 .9-1.4 .6-.4 .3 .1 .9 1.1 .9 .5 1 .6 .9 .7 .9 .5 .9 .3 .9 .3 1 .3 .9 .4 .9 .2 .9 .3 .9 .1 1 .3 .9 .1 .9 .2 .9 .2 .9 0 1 .3 .9 .1 .9 .2 .9 .1 .9 .2 .9-0 1 .2 .9 .1 .9 .2 .9-0 .9 .1 1 .2 .9 0 .9 .4 .9-.1 .9 .1 1 .1 .9 .2 .9 .1 .9 .1 .9 .1 1 .2 .9 0 .9 .2 .9 .1 .6-.1 .3-.5 1-1.8 .9-1.5 .9-1.6 .9-1.5 .9-1.3 .9-1.2 1-1.1 .9-1 .9-1 .9-.8 .9-.6 1-1.1 .3-.2 .6 .8 .9 .9 .9 1 .9 .5 1 .8 .9 .5 .9 .6 .9 .4 .9 .3 1 .4 .9 .3 .9 .3 .9 .4 .9 .1 1 .3 .9 .3 .9 .2 .9 .2 .9 .2 1 .2 .9 0 .9 .2 .9 .1 .9 .3 .9 .1 1 .1 .9 .1 .9 .3 .9 .1 .9-.1 1 .2 .9 .3 .9-.1 .9 .1 .9 .2 1 .3 .9 0 .9 .2 .9 .1 .9 .2 1-.1 .9 .3 .9 0 .9 .1 .3 .1 .6-1.4 1-1.8 .9-1.8 .9-1.5 .9-1.3 .9-1.6 .9-1.1 1-1.1 .9-1.1 .9-.8 .9-.9 .8-.7 .1-0 1 .8 .9 .9 .9 .8 .9 .5 .9 .7 1 .7 .9 .5 .9 .4 .9 .3 .9 .6 1 .4 .9 .4 .9 .4 .9 .3 .9 .2 1 .4 .9 .2 .9 .4 .9 .1 .9 .3 1 .3 .9 .2 .9 .2 .9 .1 .9 .4 .9 .1 1 .2 .9 .3 .9 .1 .9 .4 .9 0 1 .2 .9 .2 .9 .2 .9 .2 .9 .2 1 .1 .9 .2 .9 .3 .9 0 .9 .3 .6 .1" stroke="#6010c0"/>
<path d="M49 180.3l.9-.4 .9-.3 1-.4 .9-.3 .9-.4 .9-.3 .9-.4 1-.3 .6-.3 .3 0 .9 0 .6 0 .3-1.2 .9-3.7 1-3.7 .9-3.5 .9-3.4 .9-3.4 .9-3.3 .9-3.1 1-2.9 .9-2.6 .3-.7 .6 1 .9 1.2 .9 1 1 .9 .9 .6 .9 .7 .9 .4 .9 .6 1 .4 .9 .3 .9 .3 .9 .4 .9 .1 1 .2 .9 .3 .9-0 .9 .3 .9-0 1 .2 .9-0 .9 .1 .9 .2 .9-.1 .9 .1 1 .2 .9 0 .9 .1 .9 .1 .9-0 1 .1 .9 .1 .9 .1 .9 0 .9 .1 1-0 .9 .1 .9 0 .9 .1 .9 .1 1 0 .9 .1 .9 0 .9 .1 .9 .1 1 .1 .9 0 .6-.1 .3-1.8 .9-5.6 .9-5.2 .9-4.7 1-4.1 .9-4 .9-3.5 .9-3.1 .9-3.2 1-2.6 .9-2.5 .6-1.4 .3 .4 .9 1.7 .9 1.3 1 1.4 .9 1.1 .9 .6 .9 1.1 .9 .7 1 .7 .9 .7 .9 .6 .9 .4 .9 .6 1 .4 .9 .4 .9 .3 .9 .4 .9 .4 1 .4 .9 .4 .9 .1 .9 .3 .9 .4 .9 .2 1 .3 .9 .2 .9 .3 .9 .4 .9 0 1 .6 .9-0 .9 .3 .9 .2 .9 .1 1 .3 .9 .5 .9 .3 .9 0 .9 .4 1 .2 .9 .1 .9 .5 .9 .3 .6-.1 .3-1.4 1-4.1 .9-3.8 .9-3.3 .9-3.2 .9-3.1 .9-2.6 1-2.5 .9-2.6 .9-2.1 .9-2.1 .9-1.6 1-1.8 .3-.5 .6 1.1 .9 1.3 .9 1.5 .9 1 1 1 .9 .7 .9 1.4 .9 .4 .9 .8 1 .7 .9 .7 .9 .4 .9 .3 .9 .6 1 .4 .9 .4 .9 .2 .9 .5 .9 .6 1 .1 .9 .5 .9 .5 .9-.1 .9-0 .9 .4 1 .4 .9 .2 .9 0 .9 .4 .9 .2 1 .3 .9 .2 .9 .1 .9 .2 .9 .3 1 .4 .9-0 .9 .4 .9-.1 .9 .5 1 .1 .9 .2 .9 .4 .9-.2 .3 .1 .6-2.5 1-4 .9-3.5 .9-2.8 .9-3.3 .9-2.7 .9-2.5 1-2.1 .9-2.2 .9-2 .9-2 .8-1.2 .1 .2 1 1.2 .9 1.8 .9 1.2 .9 1.4 .9 .6 1 1.1 .9 1 .9 .9 .9 .9 .9 .8 1 .8 .9 .7 .9 .6 .9 .4 .9 .8 1 .7 .9 .6 .9 .5 .9 .2 .9 .7 1 .5 .9 .5 .9 .6 .9 .2 .9 .3 .9 .6 1 .4 .9 .4 .9 .3 .9 .6 .9 .2 1 .5 .9 .1 .9 .6 .9 .1 .9 .2 1 .6 .9 .4 .9 .2 .9 .4 .9 .4 .6 .1" stroke="#000080"/>
<path d="M49 180.3l.9-.3 .9-.2 1-.3 .9-.3 .9-.2 .9-.3 .9-.2 1-.3 .6-.2 .3 0 .9-0 .6 0 .3-.9 .9-2.8 1-2.7 .9-2.7 .9-2.6 .9-2.4 .9-2.4 .9-2.4 1-2 .8-1.6 .1 .2 .9 1.1 .9 .8 .9 .6 1 .6 .9 .5 .9 .3 .9 .4 .9 .2 1 .1 .9 .3 .9 .2 .9 0 .9 .2 1 .1 .9 0 .9 .1 .9 .1 .9-0 1 .1 .9 .1 .9-.1 .9 .1 .9 0 .9 .1 1 .1 .9-0 .9 .1 .9-0 .9-0 1-0 .9 .1 .9-0 .9 0 .9 .1 1 .1 .9-0 .9-0 .9 0 .9 .1 1-0 .9 0 .9 .1 .9 0 .9 .1 1-0 .9-0 .6 0 .3-.7 .9-2.1 .9-2 .9-1.8 1-1.6 .9-1.5 .9-1.4 .9-1.3 .9-1.1 1-.9 .9-1 .6-.6 .3 .2 .9 .9 .9 .7 1 .5 .9 .6 .9 .4 .9 .4 .9 .3 1 .4 .9 .1 .9 .3 .9 .1 .9 .3 1 .1 .9 .1 .9 .2 .9 .1 .9 .1 1 .3 .9 0 .9 .2 .9-.1 .9 .2 .9 .1 1 0 .9 .3 .9 0 .9 .1 .9 .2 1-0 .9 .1 .9 .1 .9 .2 .9 .1 1 .1 .9 .1 .9 .2 .9-.1 .9 .1 1 .2 .9 .1 .9 .1 .9 .1 .6 0 .3-.8 1-2.1 .9-2.1 .9-1.9 .9-1.8 .9-1.5 .9-1.5 1-1.4 .9-1.4 .9-1.2 .9-.9 .9-1.1 1-1 .3-.3 .6 1 .9 1.1 .9 1 .9 1 1 .6 .9 .8 .9 .6 .9 .4 .9 .5 1 .2 .9 .3 .9 .4 .9 .3 .9 .2 1 .2 .9 .2 .9 .2 .9 .3 .9 .2 1 .1 .9 .1 .9 .2 .9 .1 .9 .2 .9 .1 1 .3 .9 .1 .9 .1 .9 .1 .9 .2 1-0 .9 .2 .9 .2 .9 .2 .9-0 1 .1 .9 .2 .9 .3 .9-0 .9 .2 1 0 .9 .1 .9 .3 .9 0 .3 0 .6-1.5 1-2.1 .9-1.9 .9-1.9 .9-1.6 .9-1.7 .9-1.3 1-1.2 .9-1.3 .9-.9 .9-.8 .8-1.2 .1 .1 1 1.1 .9 .8 .9 .6 .9 .7 .9 .7 1 .5 .9 .5 .9 .4 .9 .4 .9 .4 1 .4 .9 .3 .9 .5 .9-0 .9 .5 1 .2 .9 .2 .9 .2 .9 .2 .9 .2 1 .4 .9 .1 .9 .2 .9 .2 .9 .2 .9 0 1 .4 .9 .1 .9 .2 .9 .1 .9 .2 1 .2 .9 .1 .9 .2 .9 .1 .9 .1 1 .3 .9 0 .9 .3 .9 .1 .9 .2 .6 .1" stroke="#9090f0"/>
<path d="M49 180.3l.9-.2 .9-.1 1-.3 .9-.1 .9-.2 .9-.2 .9-.2 1-.2 .6-.1 .3 0 .9 0 .6-0 .3-1 .9-3.2 1-3.1 .9-3 .9-2.9 .9-2.9 .9-2.7 .9-2.7 1-2.3 .9-2-0-0 .9 .9 .9 .9 .9 .7 1 .4 .9 .5 .9 .5 .9 .3 .9 .3 1 .3 .9 .2 .9 .2 .9 .1 .9 .3 1-0 .9 .3 .9-.1 .9 .2 .9 0 1 .1 .9 .1 .9 0 .9 .1 .9 .2 .9-.1 1 .1 .9 .1 .9 .1 .9-0 .9 0 1 .1 .9-0 .9 0 .9 .1 .9 .1 1-.1 .9 .1 .9 0 .9 .1 .9 .1 1-0 .9-0 .9 0 .9 .1 .9-0 1 .1 .9 0 .6 .1 .3-1.1 .9-2.9 .9-2.8 .9-2.5 1-2 .9-2.3 .9-1.7 .9-1.7 .9-1.4 1-1.5 .9-1.2 .6-1 .3 .3 .9 .7 .9 .9 1 .5 .9 .5 .9 .4 .9 .7 .9 .3 1 .5 .9 .3 .9 .2 .9 .3 .9 .3 1 .2 .9 .1 .9 .3 .9 .2 .9 .2 1 0 .9 .2 .9 .2 .9 .2 .9 0 .9 .3 1 .2 .9 .2 .9 .1 .9-.1 .9 .3 1-.1 .9 .3 .9 .2 .9 0 .9 .2 1 .1 .9 .2 .9 .2 .9 .1 .9 0 1 .2 .9 .2 .9-0 .9 .1 .6 .1 .3-.3 1-1.1 .9-1.3 .9-.8 .9-.9 .9-.9 .9-.8 1-.6 .9-.6 .9-.7 .9-.6 .9-.4 1-.4 .3-.3 .6 .8 .9 .9 .9 .9 .9 .7 1 .8 .9 .5 .9 .7 .9 .5 .9 .5 1 .4 .9 .3 .9 .3 .9 .4 .9 .3 1 .3 .9 .1 .9 .4 .9 .2 .9 .2 1 .3 .9 .1 .9 .2 .9 .2 .9 .3 .9-0 1 .1 .9 .4 .9 0 .9 .2 .9 0 1 .3 .9 .2 .9 .1 .9 0 .9 .3 1 .1 .9 .1 .9 .3 .9 .2 .9-.1 1 .2 .9 .2 .9 .1 .9 .1 .3 .1 .6-1.8 1-2.7 .9-2.4 .9-2.2 .9-2 .9-2.1 .9-1.6 1-1.3 .9-1.6 .9-1.5 .9-1 .8-1.1 .1 .2 1 .7 .9 .9 .9 .5 .9 .8 .9 .4 1 .8 .9 .5 .9 .3 .9 .5 .9 .4 1 .3 .9 .4 .9 .5 .9 .2 .9 .3 1 .3 .9 .2 .9 .5 .9 .2 .9 .2 1 .4 .9 .3 .9 .1 .9 .1 .9 .4 .9 .1 1 .3 .9 .2 .9 .2 .9 .3 .9 .1 1 .2 .9 .1 .9 .4 .9 0 .9 .1 1 .2 .9 .3 .9 .2 .9 .2 .9 .1 .6 .1" stroke="#a00040"/>
<path d="M49 180.1l.9-.2 .9-.2 1-.5 .9-.1 .9-.4 .9-.2 .9-.6 1-.3 .6-0 .3-0 .9-.1 .6-0 .3-.8 .9-1.8 1-2 .9-1.6 .9-2 .9-1.4 .9-2.7 .9-1.5 1-1.3 .5-.8 .4 .1 .9 1 .9 1.4 .9-0 1 1 .9-.1 .9 .4 .9-.2 .9 .1 1 .6 .9-0 .9-.1 .9 .3 .9 .1 1 .7 .9-.5 .9-.3 .9 .3 .9 .5 1-.3 .9-.1 .9 .4 .9-.4 .9 .4 .9-.1 1 0 .9-.6 .9 .8 .9 .1 .9-.4 1 .4 .9-.2 .9 .7 .9-.6 .9 .1 1 .4 .9-.7 .9 .4 .9 .1 .9 .3 1 .1 .9-.3 .9 .3 .9-.5 .9-0 1 .4 .9 .3 .6-.3 .3-1 .9-3.5 .9-3 .9-2.4 1-2.6 .9-2.8 .9-2.4 .9-.6 .9-2.4 1-.9 .9-.9 .6-2.5 .3 1 .9 1 .9 .7 1 1 .9 1.2 .9-1.3 .9 1.1 .9 .8 1-.1 .9 .2 .9 1.2 .9-.2 .9 .9 1-.4 .9 .8 .9-1.4 .9 1.9 .9-.4 1 .3 .9 .6 .9-.6 .9 .8 .9 .3 .9-.1 1 .6 .9-.9 .9 .4 .9-0 .9 1.4 1-.7 .9 .7 .9-.4 .9-.5 .9 .7 1 .4 .9-.6 .9 .2 .9-.3 .9 2.1 1-1 .9 .5 .9 .4 .9-.4 .6 .7 .3 0 1-2.3 .9-1.9 .9-2.7 .9 .3 .9-.9 .9-.6 1-2.1 .9-1.1 .9-1.1 .9 .4 .9-1.3 1 .5 .3-2.1 .6 2 .9 1.7 .9-2.2 .9 1.2 1 .7 .9 .5 .9 1.5 .9-1.1 .9 1.9 1-1.7 .9 1.5 .9 1.7 .9-1.5 .9-.5 1 1.7 .9-.7 .9 1.1 .9 .4 .9 1.5 1-2.3 .9 1.2 .9-.3 .9 1.1 .9-0 .9-1.1 1 1 .9 .2 .9 .6 .9-.7 .9-.2 1 .8 .9-0 .9 .7 .9-1.4 .9 1.3 1-.1 .9-1 .9 1.3 .9 .8 .9-.2 1-.2 .9-1.1 .9 1 .9 .4 .3-.6 .6-1.4 1-.4 .9-2.8 .9-1 .9-1 .9 1 .9-2.9 1-1.9 .9 .4 .9-2.9 .9 1.1 .8 .3 .1-1.2 1 .9 .9 .2 .9 1.4 .9-.6 .9 1.9 1-.1 .9 1.5 .9 .1 .9-.4 .9 1 1 .2 .9 .1 .9-0 .9-.1 .9 .2 1 .1 .9 .8 .9 .8 .9 .9 .9-.6 1 .5 .9 .9 .9-2.2 .9 2.6 .9-1.3 .9 0 1 .7 .9-1.6 .9 1.8 .9 .7 .9-1.5 1 1.8 .9 .6 .9-.2 .9-0 .9-.3 1-.1 .9 1.4 .9-1.1 .9-1 .9 2 .6-.3" stroke="#b000a0"/>
<path d="M49 180.3l.9-.3 .9-.4 1-.3 .9-.3 .9-.4 .9-.3 .9-.3 1-.3 .6-.3 .3 0 .9 0 .6 0 .3-1.2 .9-3.6 1-3.6 .9-3.4 .9-3.5 .9-3.2 .9-3.3 .9-3 1-2.8 .9-2.6 .3-.6 .6 1.1 .9 1.3 .9 1.1 1 .8 .9 .8 .9 .5 .9 .5 .9 .4 1 .3 .9 .2 .9 .3 .9 .1 .9 .2 1 .2 .9 0 .9 .3 .9 0 .9-0 1 .3 .9-0 .9-0 .9 .1 .9-.1 .9 .3 1-.1 .9 0 .9 .1 .9 .1 .9 .1 1 .1 .9-.1 .9 .2 .9 0 .9-0 1 .2 .9-0 .9-0 .9 .1 .9-0 1 0 .9 .2 .9-0 .9 .1 .9 0 1 0 .9 .1 .6-0 .3-1.6 .9-4.8 .9-4.2 .9-4 1-3.5 .9-3.2 .9-2.9 .9-2.9 .9-2.5 1-2.4 .9-2 .6-1.2 .3 .6 .9 1.3 .9 1.2 1 .8 .9 .8 .9 .9 .9 .6 .9 .3 1 .6 .9 .5 .9 .2 .9 .5 .9 .3 1 .3 .9 .4 .9-.1 .9 .5 .9 .1 1 .2 .9 .1 .9 .3 .9 .2 .9 .3 .9 0 1 .3 .9 0 .9 .2 .9 .2 .9-0 1 .3 .9 .2 .9 .2 .9 .2 .9 0 1 .2 .9 .4 .9-.1 .9 .3 .9 .1 1 .2 .9 .3 .9 .2 .9-.1 .6 .2 .3-1 1-3.3 .9-3 .9-2.5 .9-2.5 .9-2.4 .9-2.4 1-2 .9-1.8 .9-1.8 .9-1.6 .9-1.1 1-1.6 .3-.4 .6 1.4 .9 1.6 .9 1.4 .9 1.3 1 1.3 .9 .8 .9 .5 .9 1.1 .9 .7 1 .4 .9 .4 .9 .5 .9 .6 .9 .1 1 .6 .9 .4 .9 .2 .9 .2 .9 .2 1 .3 .9 .3 .9 .1 .9 .3 .9 .2 .9 .5 1 .2 .9-0 .9 .4 .9 .1 .9 .2 1 .2 .9 .2 .9 0 .9 .7 .9-.2 1 0 .9 .5 .9 .2 .9 .1 .9 .1 1 .5 .9 .1 .9 .2 .9 .1 .3 .1 .6-2.7 1-3.5 .9-3.4 .9-2.9 .9-2.9 .9-2.6 .9-2.4 1-2 .9-2.4 .9-1.5 .9-1.5 .8-1.8 .1 .6 1 1.5 .9 1.6 .9 1.3 .9 1.2 .9 1.3 1 .9 .9 .6 .9 1.5 .9 .5 .9 .7 1 .8 .9 .7 .9 .1 .9 .9 .9 .2 1 .7 .9 .5 .9 .4 .9 .4 .9 .4 1 .5 .9 .4 .9 .4 .9 .2 .9 .4 .9 .6 1 .2 .9 .3 .9 .4 .9 .3 .9 .4 1 .2 .9 .2 .9 .3 .9 .4 .9 0 1 .6 .9-.1 .9 .6 .9 .3 .9 .4 .6 .5" stroke="#c00020"/>
<path d="M49 180.3l.9-.2 .9-.3 1-.3 .9-.3 .9-.2 .9-.3 .9-.3 1-.4 .6-.2 .3-.1 .9 .2 .6-0 .3-1.6 .9-4.3 1-4.3 .9-4.5 .9-3.8 .9-3.8 .9-3.8 .9-4.2 1-3.5 .9-2.6 .6-1.8 .3 .1 .9 1.5 .9 1.7 1 .7 .9 .9 .9 1.5 .9 .2 .9 .3 1 .8 .9 .8 .9-.2 .9-0 .9-.1 1 1.4 .9-1.2 .9 1.3 .9-.5 .9 0 1 .2 .9 .4 .9 .5 .9-.4 .9 .5 .9 .6 1-1.5 .9 .7 .9-.2 .9 .8 .9-.6 1 .1 .9 0 .9 .6 .9 .4 .9-.2 1 .6 .9-.1 .9-.4 .9 .4 .9-.2 1 0 .9-.5 .9 .3 .9 .4 .9-.3 1 .7 .9-.1 .6-.3 .3-1.2 .9-5.5 .9-4.3 .9-4.9 1-4.7 .9-2.5 .9-3.8 .9-2.4 .9-2.6 1-2.4 .9-4 .6-2 .3 1.7 .9 2.3 .9 .4 1 1.8 .9 .3 .9 1.2 .9 .8 .9 .5 1 1.3 .9 .4 .9 1.3 .9-.3 .9 .9 1-.3 .9 .8 .9-.2 .9 .1 .9 1.3 1-.1 .9 .4 .9-.7 .9-.2 .9 .7 .9 .9 1-.7 .9 1.7 .9-1.3 .9 1.3 .9 1.3 1-2.5 .9 .8 .9 1.5 .9-.4 .9 .4 1 .1 .9 1 .9-.2 .9-.4 .9 .3 1-.2 .9 .7 .9-.9 .9 1.7 .6-.3 .3-.3 1-4.4 .9-5.2 .9-2.1 .9-4.1 .9-2.6 .9-2.1 1-3 .9-2.2 .9-2.2 .9-2.9 .9-1.8 1-.7 .3-.3 .6 .2 .9 2 .9 .5 .9 .1 1 2.5 .9 1.6 .9 1 .9 1.3 .9 .7 1 .7 .9 .2 .9 .5 .9-.3 .9 1.2 1 .3 .9 1.1 .9-1.7 .9 1.2 .9-.6 1 1 .9-.2 .9 1.5 .9-.4 .9-1.1 .9 2.9 1-1.4 .9-.1 .9 1.1 .9 0 .9-.1 1 1.5 .9-.4 .9 1 .9 .1 .9 .2 1-.1 .9 0 .9 0 .9 1.5 .9-2 1 .7 .9 .5 .9 .9 .9 .1 .3-.4 .6-2.9 1-2.8 .9-5.6 .9-5.3 .9 .6 .9-5.4 .9-2.2 1-2.1 .9-3.6 .9 .2 .9-3.2 .8-2.8 .1 1.9 1 2 .9 1.1 .9 2 .9-.4 .9 3.5 1-.4 .9 3 .9-.7 .9 1.6 .9 3 1-1.3 .9 1.7 .9 .2 .9-.9 .9 2.8 1 .6 .9-1.4 .9 1.6 .9-.6 .9 1.5 1 1.5 .9-.2 .9-.5 .9 .7 .9 1.2 .9 .4 1 .5 .9 .8 .9-1.4 .9 1.8 .9 1.2 1-0 .9-.5 .9 .4 .9 1 .9 .7 1-.1 .9 1.6 .9 .1 .9-1.1 .9 1.2 .6-.3" stroke="#000080"/>
<path d="M49 180.3l.9-.3 .9-.2 1-.3 .9-.4 .9-.2 .9-.5 .9-.3 1-.4 .6-.1 .3 .1 .9 0 .6 .2 .3-1.4 .9-3.5 1-3.6 .9-3.4 .9-3.3 .9-3.2 .9-3.2 .9-3.2 1-2 .9-2.6 .2-0 .7-.3 .9 1.1 .9 .9 1 1.3 .9 .1 .9 .6 .9 .3 .9 .4 1 0 .9 .5 .9-.1 .9 .3 .9 .3 1 .1 .9 .2 .9-.3 .9 .5 .9-.1 1 .3 .9 .3 .9-.6 .9 .6 .9-.4 .9 .1 1 .7 .9-.2 .9-.1 .9 .2 .9 .1 1-.5 .9 .4 .9-.2 .9 .3 .9-.2 1 .4 .9-.2 .9-.1 .9 .2 .9 .2 1 .2 .9-.3 .9-0 .9 .2 .9 .2 1-.4 .9-.5 .6 .8 .3-1.8 .9-4.7 .9-3.1 .9-4.9 1-3.2 .9-4.3 .9-2.1 .9-2.3 .9-2.8 1-2.5 .9-1.6 .6-1.6 .3 1.4 .9 .7 .9 .6 1 .3 .9 1.8 .9 1.1 .9 .2 .9 .7 1 .2 .9 .9 .9 1.2 .9 .2 .9 .4 1 .3 .9 .4 .9 .9 .9 1 .9-.5 1 1 .9-.9 .9 .3 .9 1.1 .9-1 .9 .1 1 .6 .9-.6 .9 .1 .9 1.9 .9-1 1 .5 .9 .2 .9-0 .9 1 .9 .2 1 .3 .9 .1 .9-.1 .9 .9 .9-0 1-.6 .9 .5 .9-0 .9 1.3 .6-.4 .3-1.6 1-4.5 .9-3.6 .9-4.5 .9-2.7 .9-3.1 .9-2.9 1-3.1 .9-1.5 .9-3.6 .9-1.5 .9-1.7 1-1.6 .3-1 .6 .7 .9 1.8 .9 1.9 .9 .9 1 1.7 .9 .1 .9 1.9 .9 2.4 .9-2 1 1.6 .9 1.5 .9-.2 .9 1 .9-1.8 1 1.6 .9 1.9 .9-1.2 .9 1 .9-1.4 1 2.5 .9 1.2 .9-1.5 .9 .6 .9 .3 .9 1.5 1-1.6 .9-.7 .9 2.8 .9-1.9 .9 1.4 1-1.8 .9 1.6 .9 .6 .9-.7 .9 .7 1 .9 .9-.6 .9 1 .9 1.1 .9-2.4 1 1.8 .9 .4 .9-.4 .9 1.5 .3-.1 .6-3.2 1-3.6 .9-3.7 .9-3.9 .9-1.5 .9-3.4 .9-2.5 1-.6 .9-3.2 .9-.7 .9-3.6 .8-.8 .1 .7 1 2.7 .9-.2 .9 2 .9-.4 .9 1.8 1 1.5 .9-.8 .9 1 .9 1.9 .9-.9 1 1.9 .9 .6 .9 .2 .9 1.3 .9 .2 1 .2 .9-1 .9 .5 .9 1.9 .9-1.2 1 1.8 .9 0 .9-0 .9 .8 .9-1.4 .9 2.1 1 1.5 .9-1.7 .9 1.7 .9 .2 .9 2.5 1-2.9 .9 .4 .9 .3 .9 .2 .9-.3 1 1.6 .9-.4 .9 1.5 .9 0 .9-.8 .6 .7" stroke="#800080"/>
<path d="M49 180.3l.9-.3 .9-.2 1-.3 .9-.3 .9-.3 .9-.2 .9-.3 1-.3 .6-.2 .3 0 .9 0 .6 0 .3-.6 .9-2.1 1-2 .9-1.9 .9-1.9 .9-1.9 .9-1.7 .9-1.7 1-1.5 .5-.6 .4 .3 .9 .6 .9 .4 .9 .5 1 .3 .9 .3 .9 .2 .9 .3 .9 .2 1 .2 .9 .1 .9 .1 .9 .2 .9 0 1 .1 .9 .1 .9 .1 .9-0 .9 .1 1 0 .9 .1 .9 0 .9 0 .9 .1 .9 .1 1-0 .9 0 .9 .1 .9-.1 .9 .1 1-0 .9 .1 .9 0 .9 0 .9 .1 1 0 .9-0 .9 0 .9 .1 .9-0 1-0 .9 .1 .9-0 .9-0 .9 0 1 0 .9 .1 .6-0 .3-.6 .9-2 .9-1.7 .9-1.6 1-1.5 .9-1.2 .9-1.2 .9-1.1 .9-1.1 1-.9 .9-.8 .6-.5 .3 .2 .9 .6 .9 .7 1 .6 .9 .4 .9 .4 .9 .4 .9 .3 1 .3 .9 .3 .9 .3 .9 .2 .9 .2 1 .1 .9 .3 .9 .1 .9 .2 .9 .1 1 .2 .9 .3 .9-.1 .9 .2 .9 .2 .9 .1 1 .1 .9 .1 .9 .1 .9 .1 .9 .1 1 .1 .9 .1 .9 .1 .9 .1 .9 .1 1 .1 .9 .2 .9-0 .9 .1 .9 .2 1-0 .9 .1 .9 .2 .9 .1 .6 .1 .3-.8 1-2 .9-1.8 .9-1.6 .9-1.6 .9-1.4 .9-1.3 1-1.3 .9-1.1 .9-1 .9-.9 .9-.9 1-1 .3-.2 .6 .6 .9 .9 .9 .7 .9 .5 1 .7 .9 .4 .9 .6 .9 .4 .9 .3 1 .3 .9 .3 .9 .4 .9 .1 .9 .4 1 .2 .9 .3 .9 .1 .9 .1 .9 .3 1 .1 .9 .2 .9 .2 .9 .1 .9 .1 .9 .2 1 .2 .9 0 .9 .1 .9 .3 .9 0 1 .1 .9 .3 .9-0 .9 0 .9 .3 1-0 .9 .2 .9 0 .9 .2 .9 .1 1 .2 .9-.1 .9 .3 .9 0 .3 0 .6-1.1 1-1.6 .9-1.4 .9-1.5 .9-1.2 .9-1.1 .9-1.2 1-1 .9-.8 .9-.8 .9-.8 .8-.7 .1 .3 1 .4 .9 .5 .9 .5 .9 .5 .9 .3 1 .4 .9 .3 .9 .5 .9 .1 .9 .5 1 .2 .9 .3 .9 .2 .9 .1 .9 .4 1 .1 .9 .3 .9 .2 .9 .2 .9 .1 1 .3 .9 .1 .9 .1 .9 .1 .9 .3 .9 .2 1 .1 .9-0 .9 .2 .9 .2 .9 .1 1 .1 .9 .2 .9 .1 .9 .1 .9 .1 1 .2 .9 0 .9 .1 .9 .2 .9 .1 .6 .3" stroke="#808000"/>
<path d="M49 180.3l.9-.3 .9-.2 1-.3 .9-.2 .9-.3 .9-.3 .9-.2 1-.3 .6-.1 .3-.1 .9 .1 .6-0 .3-1.4 .9-4.1 1-4.1 .9-3.9 .9-3.9 .9-3.8 .9-3.6 .9-3.5 1-3.2 .9-3 .4-1.2 .5 .7 .9 1.2 .9 1.1 1 .8 .9 .7 .9 .8 .9 .4 .9 .5 1 .4 .9 .5 .9 .1 .9 .3 .9 .4 1 .1 .9 .2 .9 .3 .9-0 .9 .4 1 .1 .9 .1 .9 .1 .9 .2 .9-0 .9 0 1 .2 .9 .1 .9-0 .9 .2 .9-.1 1 .2 .9 0 .9 .1 .9 .1 .9 .1 1 .1 .9 0 .9 0 .9 .1 .9 .1 1 .1 .9 0 .9 .1 .9 0 .9 .1 1 .1 .9-0 .6 .1 .3-1.2 .9-4 .9-3.4 .9-3.2 1-2.8 .9-2.8 .9-2.3 .9-2.3 .9-2 1-1.7 .9-1.7 .6-1.2 .3 .4 .9 .9 .9 .8 1 1 .9 .7 .9 .6 .9 .6 .9 .6 1 .5 .9 .2 .9 .7 .9 .2 .9 .3 1 .4 .9 .4 .9 .2 .9 .3 .9 .3 1 .1 .9 .3 .9 .2 .9 .1 .9 .4 .9 .1 1 .2 .9 .1 .9 .3 .9 .1 .9 .3 1 .2 .9 .2 .9 0 .9 .2 .9 .1 1 .3 .9 .1 .9 .3 .9 .2 .9 .1 1 .1 .9 .3 .9 .2 .9-.1 .6 .2 .3-.9 1-3.3 .9-2.5 .9-2.5 .9-2.4 .9-2 .9-2.2 1-1.5 .9-1.7 .9-1.7 .9-1.3 .9-1.6 1-.9 .3-.5 .6 .8 .9 1.3 .9 1.1 .9 1.1 1 .7 .9 1.2 .9 .7 .9 .6 .9 .8 1 .6 .9 .6 .9 .5 .9 .5 .9 .4 1 .5 .9 .2 .9 .6 .9-.1 .9 .4 1 .4 .9 .4 .9 .3 .9 .1 .9 .4 .9 .2 1 .4 .9 0 .9 .5 .9 .1 .9 .4 1 .1 .9 .1 .9 .3 .9 .2 .9 .1 1 .3 .9 .1 .9 .6 .9-.1 .9 .2 1 .4 .9 .1 .9 0 .9 .4 .3 0 .6-2.6 1-3.3 .9-3.3 .9-2.7 .9-2.8 .9-2.6 .9-2.1 1-1.8 .9-2.2 .9-1.7 .9-1.4 .8-1.6 .1 .6 1 .7 .9 1.6 .9 .8 .9 1.2 .9 1.2 1 .7 .9 .8 .9 .8 .9 .7 .9 1 1 .5 .9 .6 .9 .7 .9 .7 .9 .6 1 .3 .9 .5 .9 .7 .9 .6 .9 .1 1 .8 .9 .3 .9 .5 .9 .5 .9 .2 .9 .4 1 .2 .9 .3 .9 .6 .9 .3 .9 .3 1 .5 .9 .4 .9 .1 .9 .5 .9 .3 1 .4 .9 .3 .9 .4 .9 .1 .9 .3 .6 .4" stroke="#c00020"/>
<path d="M49 180.3l.9-.3 .9-.3 1-.3 .9-.3 .9-.3 .9-.3 .9-.3 1-.3 .6-.2 .3 0 .9-0 .6 0 .3-1.1 .9-3.4 1-3.3 .9-3.3 .9-3.1 .9-3.1 .9-3 .9-2.8 1-2.7 .9-2.2 .1-.2 .8 .7 .9 1 .9 .8 1 .6 .9 .7 .9 .5 .9 .3 .9 .5 1 .2 .9 .3 .9 .3 .9 .2 .9 .2 1 .2 .9 .1 .9 .1 .9 .1 .9 .1 1 .2 .9 .1 .9 0 .9 .1 .9 0 .9 .1 1 .1 .9 .1 .9 .1 .9 0 .9 .1 1 .1 .9 0 .9-0 .9 .1 .9 0 1 0 .9 .2 .9-.1 .9 .1 .9 .1 1-.1 .9 .2 .9 .1 .9-0 .9-0 1 .1 .9 .1 .6-.1 .3-1 .9-3.2 .9-2.7 .9-2.5 1-2.2 .9-2.2 .9-1.8 .9-1.9 .9-1.6 1-1.4 .9-1.4 .6-.8 .3 .4 .9 .7 .9 .8 1 .8 .9 .6 .9 .5 .9 .4 .9 .5 1 .3 .9 .4 .9 .5 .9 0 .9 .4 1 .3 .9 .2 .9 .4 .9 .1 .9 .3 1 0 .9 .4 .9 .1 .9 0 .9 .3 .9 .2 1-0 .9 .4 .9-0 .9 .2 .9 .1 1 .2 .9 .2 .9 0 .9 .3 .9-0 1 .2 .9 0 .9 .3 .9 .1 .9 .1 1 0 .9 .4 .9-0 .9 .1 .6 .2 .3-.7 1-2.1 .9-1.7 .9-1.7 .9-1.7 .9-1.2 .9-1.3 1-1.1 .9-1.3 .9-1 .9-1.2 .9-.9 1-.6 .3-.5 .6 .8 .9 1.1 .9 .9 .9 .8 1 .8 .9 .8 .9 .5 .9 .5 .9 .5 1 .5 .9 .2 .9 .6 .9 .1 .9 .5 1 .2 .9 .4 .9 .2 .9 .3 .9 .3 1 .1 .9 .2 .9 .1 .9 .3 .9 .3 .9 .1 1 .3 .9 .1 .9-0 .9 .1 .9 .3 1 .2 .9 .1 .9 .2 .9 .3 .9 .1 1-0 .9 .1 .9 .2 .9 .2 .9 .2 1 .1 .9 .2 .9 .2 .9 0 .3 .1 .6-1.6 1-2.5 .9-2 .9-1.8 .9-1.8 .9-1.5 .9-1.7 1-1.3 .9-1.2 .9-1.2 .9-1.1 .8-.6 .1 .1 1 .7 .9 1.1 .9 .6 .9 1 .9 .6 1 .8 .9 .5 .9 .6 .9 .6 .9 .3 1 .6 .9 .7 .9 .3 .9 .5 .9 .4 1 .3 .9 .4 .9 .3 .9 .4 .9 .4 1 .2 .9 .2 .9 .4 .9 .2 .9 .2 .9 .4 1 .2 .9 .3 .9 .3 .9 .3 .9 .1 1 .2 .9 .4 .9 0 .9 .5 .9 .2 1 .2 .9 0 .9 .4 .9 .1 .9 .5 .6-.1" stroke="#c00060"/>
<path d="M49 180.3l.9-.2 .9-.1 1-.2 .9-.1 .9-.2 .9-.1 .9-.2 1-.1 .6-.1 .3-0 .9-0 .6-0 .3-1.4 .9-4.2 1-4 .9-4 .9-3.9 .9-3.8 .9-3.7 .9-3.5 1-3.3 .9-2.9 .4-1.2 .5 1 .9 1.4 .9 1.1 1 .9 .9 .7 .9 .7 .9 .5 .9 .2 1 .5 .9 .2 .9 .2 .9 .1 .9 .2 1 .2 .9 .2 .9 .1 .9 .1 .9 0 1 .2 .9-0 .9 .1 .9 0 .9 .1 .9 .1 1 .1 .9 0 .9 .2 .9-.1 .9-0 1 .1 .9 .1 .9 .1 .9-.1 .9 .2 1-0 .9 0 .9 .2 .9-.1 .9 .1 1 .1 .9-0 .9 .1 .9 0 .9 .1 1 .1 .9-0 .6 .1 .3-1.8 .9-5.1 .9-4.7 .9-4.2 1-4 .9-3.3 .9-3.4 .9-2.7 .9-2.8 1-2.5 .9-2 .6-1.5 .3 .3 .9 1.6 .9 1.3 1 1.2 .9 .5 .9 1.1 .9 .8 .9 .3 1 .6 .9 .6 .9 .2 .9 .5 .9 .3 1 .4 .9 .4 .9 .1 .9 .3 .9 .4 1 .2 .9 0 .9 .4 .9 .2 .9 .1 .9 .3 1 .3 .9 0 .9 .2 .9 .2 .9 .1 1 .3 .9 .2 .9 .1 .9 .3 .9 0 1 .2 .9 .3 .9 .1 .9 .3 .9 .3 1 0 .9 .3 .9 .2 .9 .2 .6-0 .3-1.2 1-3.3 .9-3.3 .9-3 .9-2.6 .9-2.6 .9-2.3 1-2.1 .9-2.2 .9-1.9 .9-1.8 .9-1.5 1-1.5 .3-.4 .6 1.4 .9 2.1 .9 1.5 .9 1.4 1 1.3 .9 1.1 .9 .9 .9 .7 .9 .9 1 .4 .9 .6 .9 .5 .9 .4 .9 .4 1 .5 .9 .3 .9 .5 .9 .4 .9 .3 1-.2 .9 .7 .9 0 .9 .1 .9 .5 .9 0 1 .2 .9 .4 .9 0 .9 .5 .9 .4 1 .1 .9 .3 .9 .3 .9 .2 .9-.2 1 .6 .9 .1 .9 .3 .9 .2 .9 .2 1 .3 .9 .3 .9 .2 .9 .2 .3-.1 .6-3.2 1-4 .9-4 .9-3.3 .9-3.1 .9-2.8 .9-2.9 1-2.1 .9-2.6 .9-2.4 .9-1.7 .8-1.7 .1 .6 1 2.2 .9 1.6 .9 1.7 .9 1.2 .9 1.2 1 1.7 .9 1.1 .9 1 .9 .9 .9 1.1 1 .6 .9 .7 .9 .7 .9 .9 .9 .5 1 .8 .9 .2 .9 .8 .9 .4 .9 .5 1 .5 .9 .6 .9 .5 .9-.1 .9 .7 .9 .4 1 .1 .9 .7 .9 .4 .9 .4 .9 .2 1 .5 .9 .4 .9 .4 .9 .3 .9 .3 1 .8 .9 .1 .9 .4 .9 .3 .9 .6 .6-.1" stroke="#b070c0"/>
<path d="M49 180.3l.9-.2 .9-.2 1-.2 .9-.3 .9-.2 .9-.2 .9-.2 1-.2 .6-.2 .3 .1 .9-.1 .6 0 .3-1.4 .9-4.2 1-4.2 .9-4.1 .9-3.8 .9-3.9 .9-3.8 .9-3.6 1-3.4 .9-2.9 .5-1.4 .4 .6 .9 .9 .9 1 1 .8 .9 .6 .9 .6 .9 .5 .9 .4 1 .4 .9 .3 .9 .4 .9 .1 .9 .3 1 .3 .9 .1 .9 .2 .9 .1 .9 .1 1 .1 .9 .2 .9 0 .9 .2 .9 0 .9 0 1 .1 .9 .1 .9 .1 .9 .1 .9 .1 1 .1 .9 0 .9-0 .9 .1 .9-.1 1 .3 .9-.1 .9 .2 .9-0 .9 .1 1-0 .9 0 .9 .1 .9 0 .9 0 1 .2 .9-0 .6 0 .3-1.8 .9-5.4 .9-4.4 .9-4.5 1-3.9 .9-3.8 .9-3.3 .9-3.5 .9-2.3 1-2.8 .9-2.2 .6-1.2 .3 .3 .9 1.2 .9 1.3 1 1 .9 .9 .9 1 .9 .7 .9 .5 1 .5 .9 .8 .9 .4 .9 .4 .9 .4 1 .3 .9 .5 .9 .3 .9 .5 .9 .3 1 .1 .9 .5 .9 .1 .9 .3 .9 .3 .9 .1 1 .4 .9 .2 .9 .2 .9 .2 .9-.1 1 .8 .9-.1 .9 .3 .9 .1 .9 .3 1 .4 .9-.1 .9 .4 .9 .1 .9 .3 1 .2 .9 .2 .9 0 .9 .2 .6 .3 .3-1.2 1-3.1 .9-2.9 .9-2.7 .9-2.6 .9-2.1 .9-2.2 1-2 .9-1.8 .9-1.6 .9-1.9 .9-1.1 1-1.5 .3-.3 .6 .9 .9 1.9 .9 .7 .9 1.5 1 1.2 .9 .7 .9 .6 .9 1 .9 1 1 .5 .9 .3 .9 1 .9 .3 .9 .5 1 .1 .9 .7 .9 .2 .9 .6 .9 .4 1 .1 .9 .4 .9 .6 .9-0 .9 .2 .9 .5 1 .1 .9 .3 .9 .3 .9 .3 .9 .2 1 .2 .9 .4 .9 .1 .9 .4 .9 0 1 .2 .9 .4 .9-0 .9 .1 .9 .3 1 .5 .9-.1 .9 .3 .9 .3 .3 .1 .6-2.7 1-3.9 .9-3.2 .9-3 .9-2.8 .9-2.6 .9-2.6 1-2.4 .9-1.5 .9-2 .9-1.6 .8-1.3 .1-.1 1 1.3 .9 1.5 .9 1 .9 .6 .9 1.1 1 .9 .9 1 .9 .7 .9 .7 .9 .8 1 .8 .9 .4 .9 .5 .9 .8 .9 .3 1 .5 .9 .8 .9 .3 .9 .5 .9 .3 1 .5 .9 .7 .9 .4 .9 0 .9 .5 .9 .4 1 .3 .9 .2 .9 .8 .9-0 .9 .6 1 .1 .9 .2 .9 .7 .9 .1 .9 .4 1 .3 .9 .3 .9 .4 .9 .3 .9 .1 .6 .2" stroke="#800010"/>
<path d="M49 180.3l.9-.2 .9-.2 1-.2 .9-.2 .9-.2 .9-.2 .9-.2 1-.2 .6-.1 .3 0 .9 0 .6 0 .3-.7 .9-2.1 1-1.9 .9-2 .9-1.9 .9-1.8 .9-1.8 .9-1.6 1-1.5 .4-.7 .5 .3 .9 .7 .9 .5 .9 .3 1 .4 .9 .2 .9 .3 .9 .1 .9 .2 1 .1 .9 .1 .9 .1 .9 .1 .9 0 1 .1 .9 0 .9 .1 .9 .1 .9-0 1 0 .9 0 .9 .1 .9 0 .9 0 .9 .1 1 0 .9-0 .9 .1 .9-0 .9-0 1 0 .9 .1 .9-0 .9-0 .9 0 1 .1 .9-0 .9-0 .9 0 .9 0 1 .1 .9-0 .9 .1 .9-.1 .9 0 1 .1 .9 0 .6-0 .3-.9 .9-2.7 .9-2.5 .9-2.2 1-2 .9-1.9 .9-1.7 .9-1.4 .9-1.5 1-1.4 .9-1 .6-.8 .3 .3 .9 .9 .9 .9 1 .7 .9 .4 .9 .6 .9 .5 .9 .3 1 .4 .9 .2 .9 .5 .9 .1 .9 .2 1 .3 .9 .2 .9 .1 .9 .2 .9 .1 1 .2 .9 .2 .9 .1 .9 0 .9 .3 .9 .1 1 .1 .9 .1 .9 .1 .9 .2 .9 .1 1 .1 .9 .2 .9 .1 .9 0 .9 .2 1 .1 .9 .2 .9 .1 .9-0 .9 .2 1 .1 .9 .2 .9 .1 .9 .1 .6 .1 .3-.5 1-1.3 .9-1.4 .9-1.1 .9-1 .9-1.1 .9-.9 1-.8 .9-.8 .9-.7 .9-.6 .9-.6 1-.6 .3-.3 .6 .6 .9 1 .9 .8 .9 .7 1 .6 .9 .4 .9 .5 .9 .4 .9 .3 1 .3 .9 .3 .9 .3 .9 .2 .9 .3 1 .1 .9 .2 .9 .1 .9 .2 .9 .2 1 .2 .9 0 .9 .2 .9 .2 .9 0 .9 .1 1 .1 .9 .2 .9 .2 .9 .1 .9 .1 1 .2 .9-.1 .9 .3 .9 0 .9 .2 1 0 .9 .1 .9 .1 .9 .2 .9 .1 1 0 .9 .2 .9 .1 .9 .1 .3 .2 .6-1.4 1-1.9 .9-1.7 .9-1.4 .9-1.3 .9-1.4 .9-1.2 1-.9 .9-.9 .9-1 .9-.8 .8-.5 .1 .1 1 .7 .9 .7 .9 .5 .9 .7 .9 .4 1 .4 .9 .4 .9 .5 .9 .5 .9 .2 1 .4 .9 .3 .9 .3 .9 .3 .9 .3 1 .3 .9 .1 .9 .2 .9 .1 .9 .3 1 .3 .9 .2 .9 .2 .9 .2 .9 .2 .9 .1 1 .1 .9 .2 .9 .1 .9 .2 .9 .2 1 .1 .9 .1 .9 .2 .9 .3 .9-0 1 .1 .9 .2 .9 .1 .9 .2 .9 .1 .6 .2" stroke="#9090f0"/>
<path d="M49 180.3l.9-.2 .9-.2 1-.2 .9-.3 .9-.2 .9-.1 .9-.3 1-.3 .6 0 .3-0 .9-.1 .6-0 .3-1.1 .9-3.2 1-3.1 .9-2.9 .9-3.1 .9-2.9 .9-2.9 .9-2.4 1-3 .9-1.5 0-.4 .9 1 .9 1.1 .9 .5 1 .6 .9 .6 .9 .2 .9 .7 .9-.2 1 .6 .9 .7 .9 .5 .9-.5 .9 .4 1 .2 .9 .4 .9 .2 .9 .2 .9-.8 1 .3 .9 .6 .9-.4 .9 .8 .9-.4 .9 0 1 .4 .9-0 .9 .2 .9-.2 .9-.2 1 .2 .9 .1 .9-0 .9 .5 .9-.6 1 .4 .9 .3 .9-.1 .9 .1 .9-.1 1 0 .9 .5 .9-.6 .9-0 .9 .5 1-.4 .9 .1 .6 .1 .3-1.2 .9-2.3 .9-3.1 .9-2 1-3.1 .9-1.1 .9-1.7 .9-2.5 .9-1.3 1-1.2 .9-1.4 .6-.9 .3-.1 .9 1.8 .9 .7 1 .8 .9 .4 .9 .6 .9 1 .9-.1 1 1 .9 .1 .9 .3 .9 .3 .9-.2 1 .3 .9 .4 .9 .1 .9 .9 .9-.3 1 .6 .9 .2 .9 .2 .9 .6 .9 0 .9 .1 1-0 .9 .3 .9 .4 .9 .3 .9-.2 1 .5 .9 .1 .9-.1 .9 .1 .9 .4 1 .4 .9-.4 .9 0 .9 .5 .9 .2 1 .6 .9-.7 .9 .7 .9-.3 .6 .4 .3-.9 1-2.3 .9-1.6 .9-3.5 .9-.3 .9-2.3 .9-1.2 1-1.6 .9-2 .9 .1 .9-1.8 .9-1.4 1-.8 .3-.4 .6 1.2 .9 1.4 .9 .7 .9 .4 1 .3 .9 .9 .9 0 .9 1.2 .9 .4 1 .5 .9 1.2 .9-.5 .9 1 .9 0 1-.6 .9 1.6 .9-.2 .9 .2 .9 .3 1 .3 .9 .4 .9-.7 .9 1.6 .9-.1 .9-.7 1 .5 .9 .7 .9 .2 .9-0 .9-.8 1 .9 .9 .6 .9-.2 .9 .4 .9-.5 1 .6 .9-.2 .9 .5 .9-.4 .9 .6 1 .2 .9 .6 .9-0 .9-.1 .3 .3 .6-2.4 1-1.2 .9-1.6 .9-2.3 .9-1 .9-1.8 .9-1.1 1-.9 .9-2.1 .9-.4 .9-1.4 .8-.1 .1 .7 1 .6 .9 .4 .9 .6 .9 .5 .9 .4 1 1.3 .9-.1 .9 1.1 .9 .3 .9-.9 1 1 .9 1.1 .9-.5 .9 .5 .9 .6 1 .1 .9 1 .9 .3 .9 .6 .9-.3 1 1 .9-0 .9-.1 .9 .6 .9-.1 .9-.2 1 1.2 .9-.6 .9 1 .9 .3 .9-.2 1-.1 .9 .9 .9 .2 .9 .1 .9 .3 1-.1 .9 .5 .9 0 .9 0 .9 .5 .6-.4" stroke="#a00040"/>
<path d="M49 180.3l.9-.3 .9-.3 1-.3 .9-.2 .9-.3 .9-.3 .9-.3 1-.3 .6-.2 .3 0 .9-0 .6 0 .3-.9 .9-2.6 1-2.5 .9-2.5 .9-2.4 .9-2.4 .9-2.2 .9-2.2 1-1.9 .7-1.2 .2 .1 .9 .8 .9 .6 .9 .6 1 .4 .9 .4 .9 .4 .9 .3 .9 .2 1 .2 .9 .2 .9 .2 .9 .2 .9 .2 1 0 .9 .1 .9 0 .9 .2 .9 0 1 0 .9 .2 .9 .1 .9-0 .9 .1 .9-0 1-0 .9 .1 .9-0 .9 .1 .9-0 1 0 .9 .1 .9 0 .9 0 .9 .2 1-.1 .9 .1 .9 0 .9-0 .9 .1 1-0 .9 .1 .9-0 .9 0 .9-0 1 .1 .9-0 .6 0 .3-1.2 .9-3.4 .9-3.1 .9-2.9 1-2.5 .9-2.3 .9-2.1 .9-2.1 .9-1.8 1-1.6 .9-1.6 .6-.7 .3 0 .9 1.2 .9 .9 1 .8 .9 .5 .9 .6 .9 .6 .9 .5 1 .4 .9 .4 .9 .3 .9 .3 .9 .4 1 .4 .9 0 .9 .4 .9 .3 .9 0 1 .3 .9 .3 .9 .2 .9 .1 .9 .2 .9 .1 1 0 .9 .2 .9 .3 .9 .1 .9 .2 1 .2 .9 .3 .9-.1 .9 .3 .9 .1 1 .1 .9 .3 .9-0 .9 .2 .9 .1 1 .2 .9 .1 .9 .1 .9 .3 .6 0 .3-.6 1-2 .9-1.9 .9-1.8 .9-1.6 .9-1.5 .9-1.2 1-1.3 .9-1.2 .9-1.1 .9-.9 .9-.8 1-.8 .3-.6 .6 .7 .9 1 .9 .6 .9 .8 1 .5 .9 .5 .9 .6 .9 .5 .9 .5 1 .2 .9 .3 .9 .3 .9 .3 .9 .3 1 .1 .9 .4 .9 .1 .9 .2 .9 .3 1-0 .9 .3 .9 .1 .9 .2 .9 .2 .9-0 1 .2 .9 .2 .9 .2 .9 .2 .9 0 1 .2 .9 .1 .9 .2 .9 0 .9 .2 1 .2 .9 .1 .9 .1 .9 .2 .9 0 1 0 .9 .3 .9 .2 .9-0 .3-.2 .6-1.1 1-2 .9-1.7 .9-1.7 .9-1.5 .9-1.2 .9-1.3 1-.9 .9-1.2 .9-.8 .9-1 .8-.6 .1 0 1 1.1 .9 .7 .9 .8 .9 .8 .9 .7 1 .7 .9 .5 .9 .5 .9 .6 .9 .5 1 .4 .9 .6 .9 .3 .9 .4 .9 .4 1 .4 .9 .3 .9 .2 .9 .5 .9 .4 1 .2 .9 .2 .9 .3 .9 .4 .9 .2 .9 .3 1 .2 .9 .2 .9 .3 .9 .3 .9 .1 1 .4 .9 .1 .9 .1 .9 .3 .9 .3 1 .3 .9 .3 .9 .1 .9 0 .9 .5 .6 .2" stroke="#800080"/>
<path d="M49 180.2l.9-.2 .9-.4 1-.4 .9-.3 .9-.6 .9-.2 .9-.3 1-.5 .6-.2 .3-.1 .9 .1 .6 .1 .3-1 .9-2.6 1-2.8 .9-3.3 .9-2.4 .9-3.3 .9-2.6 .9-1.1 1-2.9 .8-3 .1 1.8 .9 .4 .9 1.1 .9 .6 1 .6 .9 .3 .9 0 .9 1 .9-.3 1 .8 .9-.4 .9 .3 .9 .6 .9-.3 1 .5 .9 .1 .9-.7 .9 1.3 .9-.9 1-0 .9 .6 .9-.7 .9 .2 .9 .9 .9-.7 1 .1 .9 .5 .9-.5 .9-0 .9 .6 1 .5 .9-.8 .9 .4 .9 .4 .9-.4 1 .8 .9-.8 .9-.6 .9 1.6 .9-1.2 1 .6 .9-.2 .9 .3 .9-.6 .9 .3 1 .3 .9 .3 .6-.4 .3-1.4 .9-1.3 .9-2.9 .9-1.9 1-.5 .9-3.3 .9-.8 .9-2.8 .9-.9 1 .2 .9-1.1 .6-0 .3 .5 .9-.6 .9 1.5 1 .7 .9 .4 .9 0 .9 .3 .9 1 1 .4 .9 .1 .9-.9 .9 2.8 .9-.4 1-.7 .9 .4 .9-.5 .9 .2 .9-.3 1 1.8 .9-.7 .9 .7 .9-.6 .9 .6 .9-.3 1 1.1 .9-.4 .9 .5 .9-0 .9 .2 1 .5 .9-1.1 .9 .6 .9-.3 .9 1.2 1 .6 .9-.5 .9-.2 .9-.4 .9 0 1 .1 .9-.1 .9 .5 .9 .5 .6 .5 .3-1.1 1-.5 .9-.9 .9-1.8 .9-.6 .9-1.3 .9 .2 1-1.9 .9-.1 .9-.2 .9-.2 .9-.3 1-.3 .3-2 .6 2.6 .9-.5 .9 1.3 .9 .9 1 .5 .9 .3 .9-.2 .9 .6 .9 .7 1 1.2 .9 .5 .9-1.9 .9 1.9 .9 .6 1-1.3 .9 1.6 .9-1 .9 0 .9 .6 1-.3 .9 1.5 .9 0 .9-.4 .9 0 .9 .2 1-.2 .9 .8 .9 .8 .9-1.2 .9 .5 1-.5 .9-.5 .9 1.2 .9-.2 .9 .9 1-.8 .9 .4 .9 .1 .9-.2 .9 1.2 1-.8 .9 .2 .9-.5 .9 1.8 .3-.8 .6-2.6 1-.7 .9-1.8 .9-3.1 .9-2 .9 .1 .9-.7 1-1.3 .9-1.2 .9-.7 .9-.9 .8-1.5 .1 .2 1 .5 .9 1.1 .9 1.6 .9-.8 .9 1 1 1.1 .9 .3 .9 0 .9 .6 .9 .6 1-.2 .9 .1 .9 1.3 .9 .1 .9 1 1-.3 .9-.2 .9 0 .9 .7 .9 .4 1 .6 .9-.3 .9 1 .9-.6 .9 .3 .9 .8 1-.6 .9 .5 .9-.3 .9 .9 .9-.4 1-.5 .9 1 .9-.2 .9 1 .9 0 1 1.1 .9-.9 .9 .7 .9-.5 .9 1.4 .6-.6" stroke="#1010c0"/>
<path d="M49 180.3l.9-.2 .9-.3 1-.3 .9-.2 .9-.5 .9-0 .9-.3 1-.5 .6-.2 .3-.1 .9 .2 .6 .1 .3-1.1 .9-2.2 1-2.4 .9-2.2 .9-2.5 .9-1.4 .9-3 .9-1.1 1-2.9 .6-0 .3-.7 .9 .2 .9 1.9 .9 .9 1-.6 .9 1.3 .9 .6 .9-.5 .9 1.6 1-.3 .9 .2 .9-.1 .9 .6 .9-.9 1 .1 .9 .4 .9 .2 .9 .4 .9-.6 1 .5 .9-.4 .9-.1 .9 .4 .9 .7 .9-.3 1-.7 .9 .4 .9-.3 .9 1.1 .9-.6 1 .1 .9 .5 .9-.3 .9-.5 .9 .2 1 .4 .9-.3 .9-.2 .9 .7 .9-.3 1-.2 .9 .5 .9-.5 .9 .4 .9-.3 1 .1 .9 .2 .6 .2 .3-.6 .9-2.4 .9-1.9 .9-2.2 1-1 .9-1.6 .9-2 .9-.5 .9-1.2 1-1.7 .9-0 .6-.8 .3 .1 .9 1.3 .9 1.2 1 .7 .9-.2 .9-.3 .9 .4 .9 0 1 .7 .9 1 .9 .7 .9-.3 .9 .1 1 .4 .9-.7 .9 1 .9-.5 .9-0 1 1.4 .9-.6 .9-.7 .9 .4 .9 .4 .9 .7 1-.1 .9-.2 .9-.5 .9 .5 .9 .3 1-0 .9-.2 .9 1.3 .9-.2 .9-.4 1-.4 .9 .1 .9 1 .9-.3 .9 .4 1-0 .9-.2 .9 .4 .9 .1 .6 .4 .3-.3 1-2.1 .9-1.5 .9-1.4 .9-.3 .9-1.1 .9-2.1 1-.4 .9-1.1 .9 .1 .9-.6 .9-.3 1-2 .3 1.2 .6 .9 .9 .1 .9-.6 .9 1.3 1 .4 .9 .5 .9 .5 .9 .4 .9 1 1-1.5 .9 1.3 .9-.6 .9 1.8 .9-1 1 1.1 .9 .2 .9-.7 .9-.3 .9-.1 1 .2 .9 1 .9-.5 .9 .9 .9 0 .9-.3 1 .3 .9-.4 .9 1.5 .9-1.4 .9 1 1-1 .9 .2 .9 1.3 .9-.5 .9-.2 1 .8 .9 .1 .9-.2 .9-.4 .9 0 1 .8 .9-.6 .9-.2 .9 .4 .3 .8 .6-1 1-2.2 .9-1.8 .9-1.1 .9-.7 .9-.8 .9-2.5 1 .1 .9-2.3 .9 1.3 .9-1.3 .8-.3 .1-1.8 1 1.3 .9 1.9 .9 1.6 .9-1.6 .9 1.3 1 1.3 .9 .7 .9-.9 .9 .8 .9 .1 1 .2 .9 .8 .9 .2 .9-.3 .9 .7 1 .4 .9-.4 .9 1.8 .9-1.7 .9 .7 1 .9 .9-.2 .9-.6 .9 .6 .9 1.5 .9-.3 1-.5 .9-.8 .9 .8 .9 .7 .9-.3 1 .5 .9 .3 .9-.2 .9 1.5 .9-1.6 1 .4 .9 .7 .9 .4 .9 .3 .9-.7 .6 .2" stroke="#9090f0"/>
<path d="M49 180.3l.9-.2 .9-.2 1-.2 .9-.2 .9-.1 .9-.2 .9-.2 1-.2 .6-.1 .3-0 .9-0 .6-0 .3-.9 .9-2.4 1-2.4 .9-2.4 .9-2.3 .9-2.2 .9-2.2 .9-2 1-1.8 .6-1 .3 .3 .9 .7 .9 .7 .9 .4 1 .4 .9 .4 .9 .3 .9 .2 .9 .2 1 .2 .9 .1 .9 .1 .9 .1 .9 .2 1-0 .9 0 .9 0 .9 .1 .9 .1 1 0 .9 .1 .9 0 .9-0 .9 .2 .9-.1 1 .1 .9-.1 .9 .1 .9-0 .9 .1 1-0 .9 0 .9 0 .9 .1 .9 .1 1-0 .9 0 .9-0 .9 0 .9 .1 1-0 .9 0 .9 .1 .9-.1 .9 .1 1 0 .9 .1 .6-0 .3-.9 .9-2.5 .9-2.3 .9-2.1 1-1.9 .9-1.8 .9-1.5 .9-1.5 .9-1.4 1-1.3 .9-1.1 .6-.6 .3 .4 .9 .7 .9 .7 1 .5 .9 .7 .9 .4 .9 .3 .9 .4 1 .3 .9 .2 .9 .4 .9-0 .9 .3 1 .1 .9 .2 .9 .1 .9 .2 .9 .1 1 .1 .9 .2 .9 .1 .9 .1 .9 .2 .9 .2 1 0 .9 0 .9 .1 .9 .2 .9 .1 1 .1 .9 .1 .9 .2 .9 .1 .9 .1 1 0 .9 .2 .9 .1 .9 .1 .9 .2 1-.2 .9 .2 .9 .1 .9 .2 .6 0 .3-.5 1-1.5 .9-1.2 .9-1.1 .9-1.3 .9-1 .9-1 1-.8 .9-.9 .9-.7 .9-.7 .9-.8 1-.4 .3-.2 .6 .6 .9 .9 .9 .8 .9 .7 1 .5 .9 .6 .9 .5 .9 .3 .9 .4 1 .2 .9 .4 .9 .3 .9 .2 .9 .2 1 .1 .9 .2 .9 .2 .9 .2 .9 .1 1 .1 .9 .2 .9-0 .9 .2 .9 .1 .9 .2 1 .2 .9 0 .9 .1 .9 .1 .9 .1 1 .2 .9 .1 .9 .1 .9 .1 .9 .1 1 .3 .9-.1 .9 .1 .9 .1 .9 .1 1 .1 .9 .2 .9 .1 .9 0 .3 .2 .6-1.2 1-1.7 .9-1.4 .9-1.5 .9-1.1 .9-1.3 .9-1 1-1 .9-.8 .9-.9 .9-.6 .8-.7 .1 .1 1 .8 .9 .9 .9 .7 .9 .6 .9 .6 1 .7 .9 .4 .9 .5 .9 .5 .9 .5 1 .3 .9 .3 .9 .2 .9 .5 .9 .1 1 .3 .9 .5 .9 .2 .9 .1 .9 .2 1 .3 .9 .2 .9 .2 .9 .3 .9-0 .9 .4 1 .2 .9 .1 .9 .1 .9 .3 .9 .1 1 .3 .9 .1 .9 .2 .9 .2 .9 .2 1 .1 .9 0 .9 .3 .9 .1 .9 .1 .6 .2" stroke="#1010c0"/>
<path d="M49 180.3l.9-.2 .9-.2 1-.1 .9-.2 .9-.2 .9-.2 .9-.1 1-.2 .6-.1 .3-0 .9-0 .6-0 .3-1.3 .9-3.7 1-3.6 .9-3.6 .9-3.4 .9-3.4 .9-3.3 .9-3.2 1-2.8 .9-2.6 .2-.4 .7 1 .9 1.2 .9 .9 1 .8 .9 .8 .9 .4 .9 .6 .9 .6 1 .2 .9 .4 .9 .1 .9 .1 .9 .4 1 .1 .9 .2 .9 .1 .9 .1 .9 .1 1 .2 .9-0 .9 .2 .9 0 .9 .1 .9 0 1 .2 .9 .1 .9 0 .9 0 .9 .1 1 .1 .9 0 .9 .1 .9 0 .9 .1 1-0 .9 .1 .9 0 .9 .1 .9-0 1 .2 .9-.1 .9 .2 .9 0 .9 .1 1 .1 .9-0 .6 0 .3-2.2 .9-5.9 .9-5.8 .9-5 1-4.5 .9-4.2 .9-3.9 .9-3.4 .9-3.3 1-3 .9-2.7 .6-1.5 .3 .4 .9 1.5 .9 1.1 1 .9 .9 1.1 .9 1 .9 .9 .9 .6 1 .6 .9 .3 .9 .6 .9 .4 .9 .5 1 .2 .9 .2 .9 .6 .9 .3 .9 .3 1 .1 .9 .5 .9 .2 .9 .3 .9 .2 .9 .1 1-0 .9 .6 .9-0 .9 .3 .9 .3 1 .2 .9 .2 .9 .2 .9-0 .9 .6 1-.1 .9 .2 .9 .3 .9 .2 .9 .1 1 .3 .9 .2 .9 .1 .9 .5 .6-.2 .3-1.5 1-3.8 .9-3.7 .9-3.1 .9-3.3 .9-2.8 .9-2.7 1-2.7 .9-2 .9-2.2 .9-1.7 .9-2 1-1.7 .3-.4 .6 1.3 .9 1.3 .9 2.1 .9 1.3 1 1.2 .9 .8 .9 .8 .9 1.1 .9 .9 1 .7 .9 .4 .9 .9 .9 .2 .9 .4 1 .7 .9 .3 .9 .4 .9 .3 .9 .7 1 0 .9 .5 .9 .4 .9 .2 .9 .3 .9 .4 1 .4 .9 .1 .9-0 .9 .2 .9 .4 1 .2 .9 .4 .9 .2 .9 .2 .9 .4 1 .3 .9 .1 .9 .3 .9 .3 .9 0 1 .3 .9 .1 .9 .4 .9 .2 .3 .1 .6-3 1-4.1 .9-3.8 .9-3.7 .9-3.2 .9-3.1 .9-2.2 1-2.7 .9-2.2 .9-2.2 .9-1.8 .8-1.5 .1-.1 1 1.7 .9 1.7 .9 .8 .9 1.3 .9 1.4 1 .8 .9 1.2 .9 .6 .9 1 .9 .9 1 .7 .9 .7 .9 .5 .9 .6 .9 .7 1 .6 .9 1 .9-.1 .9 .8 .9 .2 1 .3 .9 .6 .9 .5 .9 .4 .9 .4 .9 .4 1 .4 .9 .4 .9 .1 .9 .5 .9 .2 1 .5 .9 .3 .9 .4 .9 .3 .9 .2 1 .5 .9 .4 .9 .4 .9-.1 .9 .6 .6 .2" stroke="#c00020"/>
<path d="M49 180.3l.9-.3 .9-.4 1-.3 .9-.4 .9-.3 .9-.4 .9-.3 1-.3 .6-.3 .3 .1 .9-0 .6-0 .3-.7 .9-1.9 1-1.9 .9-1.9 .9-1.8 .9-1.7 .9-1.7 .9-1.5 1-1.5 .5-.6 .4 .4 .9 .8 .9 .6 .9 .5 1 .3 .9 .4 .9 .2 .9 .2 .9 .2 1 .2 .9 .2 .9 .1 .9 .1 .9-0 1 .1 .9 .1 .9 0 .9 0 .9 .2 1-0 .9 0 .9 .1 .9 0 .9 0 .9 .1 1-0 .9 0 .9 .1 .9 0 .9 0 1 .1 .9-0 .9 0 .9 0 .9 0 1 .1 .9 0 .9 .1 .9-0 .9 0 1 .1 .9-0 .9 0 .9 0 .9 0 1 .1 .9 0 .6 0 .3-1.2 .9-3.8 .9-3.2 .9-3.1 1-2.7 .9-2.5 .9-2.3 .9-2.2 .9-1.8 1-1.8 .9-1.6 .6-.9 .3 .1 .9 1 .9 1 1 .7 .9 .5 .9 .5 .9 .5 .9 .4 1 .3 .9 .2 .9 .3 .9 .4 .9 .1 1 .2 .9 .2 .9 .1 .9 .2 .9 .1 1 .1 .9 .3 .9 .1 .9-0 .9 .1 .9 .2 1 .2 .9 .1 .9 .1 .9 .2 .9-0 1 .2 .9 .1 .9 .2 .9 .1 .9 .1 1 .1 .9 .1 .9 .2 .9 .1 .9 .1 1 .1 .9 0 .9 .3 .9-.1 .6 .3 .3-1 1-2.4 .9-2.2 .9-1.9 .9-2 .9-1.7 .9-1.7 1-1.5 .9-1.4 .9-1.4 .9-.9 .9-1.3 1-.7 .3-.5 .6 .9 .9 1.2 .9 .7 .9 .9 1 .7 .9 .8 .9 .5 .9 .4 .9 .5 1 .3 .9 .4 .9 .3 .9 .3 .9 .1 1 .4 .9 .2 .9 .1 .9 .2 .9 .2 1 .2 .9 .2 .9 .1 .9 .4 .9 .1 .9 .1 1 0 .9 .1 .9 .2 .9 .2 .9 0 1 .3 .9 0 .9 .2 .9 .2 .9 .1 1 .1 .9 .2 .9 .2 .9 .1 .9-.1 1 .1 .9 .2 .9 .1 .9 .4 .3-.2 .6-1.5 1-2.1 .9-1.7 .9-1.9 .9-1.5 .9-1.5 .9-1.2 1-1.3 .9-1.1 .9-1.1 .9-.9 .8-.9 .1 .2 1 1.1 .9 1.1 .9 .9 .9 .7 .9 .7 1 .7 .9 .6 .9 .6 .9 .6 .9 .5 1 .5 .9 .2 .9 .4 .9 .5 .9 .1 1 .6 .9 .2 .9 .3 .9 .3 .9 .2 1 .3 .9 .3 .9 .4 .9 .2 .9 .1 .9 .1 1 .3 .9 .3 .9 .2 .9 .2 .9 .1 1 .4 .9 .1 .9 .2 .9 .3 .9 .3 1-0 .9 .2 .9 .3 .9 .2 .9 .1 .6 .2" stroke="#c00020"/>
<path d="M49 180.3l.9-.3 .9-.2 1-.2 .9-.3 .9-.2 .9-.2 .9-.3 1-.2 .6-.2 .3-0 .9 0 .6 0 .3-1.4 .9-4.2 1-4.2 .9-4 .9-4 .9-3.9 .9-3.8 .9-3.7 1-3.3 .9-3.1 .5-1.3 .4 .7 .9 1 .9 1.1 1 .8 .9 .5 .9 .7 .9 .5 .9 .4 1 .3 .9 .5 .9 .2 .9 .3 .9 .1 1 .2 .9 .1 .9 .2 .9 .2 .9 0 1 .2 .9 0 .9 .1 .9 .1 .9 .2 .9-0 1-0 .9 .1 .9-0 .9 .2 .9-.1 1 .2 .9-0 .9 0 .9 .1 .9 .1 1-0 .9 .1 .9 .1 .9-.1 .9 .1 1 .2 .9-0 .9-0 .9-.1 .9 .1 1 .1 .9 .2 .6-.1 .3-1.9 .9-5.5 .9-5 .9-4.5 1-4.4 .9-3.8 .9-3.3 .9-3 .9-3.3 1-2.3 .9-2.7 .6-1.5 .3 .9 .9 1.4 .9 1.5 1 1.1 .9 1 .9 .8 .9 1 .9 .8 1 .5 .9 .8 .9 .5 .9 .2 .9 .9 1 .3 .9 .4 .9 .5 .9 .4 .9-0 1 .5 .9 .3 .9 .3 .9 .3 .9 .3 .9 .1 1 0 .9 .5 .9 .2 .9 .5 .9 .1 1 .3 .9 .1 .9 .3 .9 .2 .9 .3 1 .2 .9 .4 .9-0 .9 .4 .9 .2 1 .2 .9 .2 .9 .2 .9 .1 .6 .2 .3-1.4 1-3.9 .9-3.8 .9-3 .9-3.5 .9-2.7 .9-2.6 1-2.7 .9-2.2 .9-2.3 .9-2 .9-1.2 1-2.1 .3-.9 .6 1.6 .9 1.7 .9 1.8 .9 1.6 1 1.2 .9 .9 .9 .9 .9 1.2 .9 .7 1 .7 .9 1 .9 .4 .9 .2 .9 .5 1 .8 .9 .2 .9 .7 .9 .5 .9 .5 1-.1 .9 .6 .9-.1 .9 .6 .9 .3 .9 .6 1-.2 .9 .6 .9 .2 .9 .6 .9-.2 1 .3 .9 .4 .9 .2 .9 .2 .9 .2 1 .4 .9 0 .9 .5 .9 .3 .9 .2 1 .5 .9 .1 .9-0 .9 .3 .3 .2 .6-3.2 1-3.9 .9-4.2 .9-3.7 .9-3.3 .9-2.8 .9-3 1-2.8 .9-1.9 .9-2.3 .9-1.6 .8-1.4 .1-.3 1 1.9 .9 1.6 .9 1.6 .9 1.3 .9 1.1 1 1 .9 1.5 .9 1.3 .9 .4 .9 1.1 1 .8 .9 .9 .9 .4 .9 1.1 .9 .6 1 1 .9 .4 .9 .7 .9 .4 .9 .5 1 .7 .9 .2 .9 .9 .9 .4 .9 .3 .9 .7 1 .2 .9 .4 .9 .6 .9 .1 .9 .7 1 .4 .9 .6 .9 .5 .9 .2 .9 .4 1 .4 .9 .2 .9 .8 .9 .2 .9 .5 .6-.2" stroke="#a00040"/>
<path d="M49 180.3l.9-.2 .9-.2 1-.1 .9-.2 .9-.2 .9-.2 .9-.1 1-.2 .6-.2 .3 .1 .9-0 .6-.1 .3-1 .9-3.1 1-3.1 .9-3 .9-2.9 .9-2.9 .9-2.8 .9-2.6 1-2.4 .9-1.9-0 0 .9 1 .9 .9 .9 .5 1 .7 .9 .4 .9 .4 .9 .5 .9 .2 1 .2 .9 .3 .9 .2 .9 .1 .9 0 1 .2 .9 .1 .9 .1 .9 .1 .9 0 1 .1 .9 .1 .9 0 .9 .1 .9 .1 .9 0 1 .1 .9 0 .9 0 .9 .1 .9-0 1 .1 .9 0 .9-0 .9 .2 .9-.1 1 0 .9 .1 .9 .1 .9-0 .9 .1 1 0 .9-0 .9 .1 .9-.1 .9 .1 1 .2 .9-0 .6-.1 .3-1.2 .9-3.5 .9-3.1 .9-2.9 1-2.6 .9-2.5 .9-2.1 .9-2 .9-1.7 1-1.7 .9-1.5 .6-1.1 .3 .3 .9 1.3 .9 1.1 1 .8 .9 .7 .9 .6 .9 .5 .9 .5 1 .7 .9 .1 .9 .5 .9 .4 .9 .1 1 .4 .9 .3 .9 .3 .9 .1 .9 .2 1 .1 .9 .3 .9 .2 .9 .1 .9 .3 .9 0 1 .3 .9 .2 .9 .2 .9 .1 .9 .2 1 .2 .9 .1 .9 .2 .9 .1 .9 .2 1 .1 .9 .2 .9 .1 .9 .1 .9 .2 1 .2 .9 .2 .9 0 .9 .3 .6 .1 .3-1 1-2.8 .9-2.6 .9-2.3 .9-2 .9-2.1 .9-1.7 1-2 .9-1.6 .9-1.5 .9-1.2 .9-1.4 1-1 .3-.4 .6 1.2 .9 1.3 .9 1.1 .9 .9 1 .9 .9 1 .9 .7 .9 .6 .9 .7 1 .6 .9 .4 .9 .5 .9 .2 .9 .4 1 .3 .9 .3 .9 .3 .9 .4 .9 0 1 .5 .9 .1 .9 .2 .9 .3 .9 .3 .9 0 1 .3 .9 .1 .9 .2 .9 .2 .9 .2 1 .1 .9 .3 .9 .3 .9 .1 .9 .1 1 .2 .9 .2 .9 .2 .9 .2 .9 .2 1 .2 .9-0 .9 .3 .9 .1 .3 .2 .6-2 1-2.6 .9-2.8 .9-1.9 .9-2 .9-2.1 .9-1.7 1-1.2 .9-1.8 .9-1.4 .9-.9 .8-1.2 .1 .3 1 1.3 .9 1 .9 1.1 .9 1 .9 .5 1 1.1 .9 .8 .9 .5 .9 .7 .9 .5 1 .7 .9 .5 .9 .5 .9 .5 .9 .4 1 .5 .9 .2 .9 .6 .9 .4 .9 .3 1 .2 .9 .4 .9 .3 .9 .5 .9 .1 .9 .4 1 .3 .9 .2 .9 .5 .9 .1 .9 .2 1 .4 .9 .2 .9 .1 .9 .4 .9 .2 1 .3 .9 .3 .9 .3 .9 .2 .9 .1 .6 .2" stroke="#1010c0"/>
<path d="M49 180.3l.9-.4 .9-.4 1-.3 .9-.4 .9-.4 .9-.4 .9-.3 1-.4 .6-.3 .3 .1 .9-.1 .6 0 .3-1.2 .9-3.5 1-3.6 .9-3.4 .9-3.4 .9-3.2 .9-3.2 .9-3 1-2.8 .9-2.3 .2-.6 .7 .9 .9 1.2 .9 1.3 1 .8 .9 .6 .9 .6 .9 .5 .9 .4 1 .4 .9 .2 .9 .2 .9 .1 .9 .3 1 .1 .9 .1 .9 .1 .9 .2 .9 .1 1 0 .9 .1 .9 .1 .9 .1 .9 0 .9 .1 1 0 .9 .1 .9 .1 .9 .1 .9 .1 1 0 .9 0 .9 .1 .9-0 .9 .1 1 0 .9 .1 .9-0 .9 .1 .9 .1 1-0 .9 .1 .9 0 .9-0 .9 .1 1-0 .9 .1 .6 0 .3-1.9 .9-5.6 .9-5.3 .9-4.7 1-4.3 .9-3.9 .9-3.5 .9-3.2 .9-3.2 1-2.8 .9-2.3 .6-1.7 .3 .5 .9 2 .9 1.3 1 1.3 .9 .7 .9 1 .9 .9 .9 .8 1 .4 .9 .4 .9 .6 .9 .5 .9 .2 1 .6 .9 .2 .9 .2 .9 .5 .9 .3 1 .1 .9 .3 .9 .3 .9 .2 .9 .2 .9 .3 1 .2 .9 .2 .9 .1 .9 .2 .9 .4 1 .1 .9 .2 .9 .3 .9 .2 .9 .1 1 .2 .9 .4 .9 .1 .9 .3 .9 .2 1 .1 .9 .2 .9 .4 .9 .1 .6 .1 .3-.9 1-3.4 .9-2.7 .9-2.7 .9-2.5 .9-2.4 .9-1.9 1-1.9 .9-2.1 .9-1.3 .9-1.5 .9-1.3 1-1.7 .3-.3 .6 1.5 .9 2.1 .9 1.8 .9 1.6 1 1.3 .9 1 .9 1 .9 .7 .9 1.1 1 .7 .9 .7 .9 .2 .9 .9 .9 .2 1 .4 .9 .5 .9 .3 .9 .7 .9 .1 1 .5 .9 .1 .9 .3 .9 .4 .9 .1 .9 .3 1 .4 .9 .3 .9 .3 .9 .1 .9 0 1 .6 .9 .1 .9 .4 .9 .1 .9 .3 1 .3 .9 .4 .9 .1 .9 .1 .9 .4 1 .1 .9 .4 .9 .3 .9 0 .3 .1 .6-3.2 1-4.6 .9-4.4 .9-3.7 .9-3.7 .9-3.2 .9-2.7 1-3.1 .9-2.4 .9-2.3 .9-2.3 .8-1.6 .1 .1 1 1.3 .9 1.5 .9 1.5 .9 1 .9 .7 1 1.1 .9 1 .9 .6 .9 .6 .9 .8 1 .5 .9 .8 .9 .5 .9 .5 .9 .4 1 .8 .9 .1 .9 .6 .9 0 .9 .4 1 .3 .9 .5 .9 .5 .9 .1 .9 .5 .9 .2 1 .6 .9 .2 .9 .2 .9 .1 .9 .5 1-0 .9 .2 .9 .8 .9 .1 .9 .4 1 .2 .9 .3 .9 .2 .9 .2 .9 .2 .6 .3" stroke="#c00020"/>
<path d="M49 180.3l.9-.2 .9-.1 1-.2 .9-.2 .9-.2 .9-.1 .9-.2 1-.2 .6-.1 .3-0 .9-0 .6-0 .3-1.1 .9-3 1-3 .9-3 .9-2.9 .9-2.9 .9-2.7 .9-2.5 1-2.4 .9-1.9-0 .1 .9 1 .9 .7 .9 .7 1 .7 .9 .4 .9 .5 .9 .4 .9 .3 1 .3 .9 .1 .9 .3 .9 0 .9 .2 1 .2 .9 0 .9 .2 .9 0 .9 .1 1 .1 .9 .1 .9 0 .9 .1 .9 0 .9 0 1 .1 .9 0 .9 .2 .9 0 .9 0 1 0 .9 .2 .9-0 .9-.1 .9 .2 1 0 .9 0 .9 0 .9 .1 .9 .1 1 0 .9 0 .9 .1 .9 0 .9 0 1 .1 .9 .1 .6 0 .3-1.1 .9-3.1 .9-2.7 .9-2.7 1-2.5 .9-2 .9-2.1 .9-1.5 .9-1.8 1-1.6 .9-1.4 .6-.7 .3 .4 .9 1 .9 1.1 1 .7 .9 .8 .9 .5 .9 .6 .9 .3 1 .6 .9 .4 .9 .4 .9 .4 .9 .2 1 .3 .9 .2 .9 .2 .9 .4 .9 .1 1 .1 .9 .4 .9-.1 .9 .4 .9-0 .9 .2 1 .2 .9 .2 .9 .1 .9 .3 .9 .2 1 .2 .9-0 .9 .2 .9 .1 .9 .1 1 .3 .9 0 .9 .2 .9 .2 .9 .1 1 .2 .9 .1 .9 .1 .9 .3 .6 .1 .3-.6 1-1.8 .9-1.4 .9-1.6 .9-.9 .9-1.4 .9-1.1 1-1.1 .9-1.1 .9-.7 .9-.8 .9-.9 1-.7 .3 .1 .6 .4 .9 .9 .9 .8 .9 .7 1 .5 .9 .6 .9 .4 .9 .5 .9 .3 1 .4 .9 .3 .9 .3 .9 .2 .9 .2 1 .3 .9 .1 .9 .4 .9 0 .9 .2 1 .2 .9 .1 .9 .4 .9-.1 .9 .2 .9 .3 1-.1 .9 .2 .9 .1 .9 .1 .9 .1 1 .2 .9 .1 .9 .1 .9 .1 .9 .3 1-0 .9 .1 .9 .2 .9-.1 .9 .2 1 .2 .9 .1 .9 0 .9 .2 .3 0 .6-1.1 1-1.8 .9-1.6 .9-1.3 .9-1.3 .9-1.3 .9-1.1 1-1 .9-.9 .9-.8 .9-.6 .8-.6 .1 .2 1 .5 .9 1 .9 .8 .9 .8 .9 .7 1 .7 .9 .2 .9 .7 .9 .5 .9 .6 1 .3 .9 .4 .9 .4 .9 .3 .9 .4 1 .3 .9 .2 .9 .4 .9 .3 .9 .3 1 .3 .9 .1 .9 .3 .9 .3 .9 .1 .9 .4 1 .2 .9 .1 .9 .2 .9 .3 .9 .2 1 .2 .9 .2 .9 .2 .9 .2 .9 .2 1 .2 .9 .1 .9 .2 .9 .3 .9 .1 .6 0" stroke="#6010c0"/>
<path d="M49 180.3l.9-.3 .9-.3 1-.3 .9-.3 .9-.3 .9-.4 .9-.3 1-.2 .6-.3 .3 0 .9 0 .6 0 .3-1 .9-3.3 1-3.2 .9-3 .9-3.1 .9-3 .9-2.8 .9-2.7 1-2.4 .9-2.2 .1-.1 .8 .9 .9 .8 .9 .8 1 .5 .9 .5 .9 .4 .9 .3 .9 .3 1 .3 .9 .2 .9 .2 .9 .1 .9 .2 1 .2 .9 .2 .9 0 .9 0 .9 .2 1 .1 .9-0 .9 .1 .9-0 .9 .1 .9 .1 1 .1 .9-.1 .9 .2 .9-0 .9-0 1 .1 .9-0 .9 0 .9 .1 .9 .1 1-0 .9-0 .9 .1 .9-.1 .9 .1 1 0 .9 .1 .9 0 .9 .1 .9-0 1 0 .9 .1 .6 .1 .3-.4 .9-1.3 .9-1.1 .9-.9 1-.9 .9-.9 .9-.8 .9-.7 .9-.6 1-.5 .9-.6 .6-.4 .3 .3 .9 .6 .9 .7 1 .4 .9 .4 .9 .6 .9 .3 .9 .2 1 .2 .9 .4 .9 .2 .9 .2 .9 .2 1 .3 .9 .1 .9 .1 .9 .3 .9 .1 1 0 .9 .2 .9 .1 .9 .2 .9 .1 .9 .1 1 .1 .9 .1 .9 .1 .9 0 .9 .2 1 .1 .9 .1 .9 0 .9 .1 .9 .2 1 .1 .9 .1 .9 .1 .9 .1 .9 .1 1-0 .9 .2 .9 0 .9 .1 .6 .2 .3-.6 1-1.5 .9-1.4 .9-1.3 .9-1.3 .9-1.1 .9-1 1-.9 .9-.8 .9-.9 .9-.7 .9-.6 1-.7 .3-.3 .6 .6 .9 .8 .9 .6 .9 .5 1 .6 .9 .2 .9 .4 .9 .4 .9 .3 1 .3 .9 .3 .9 .2 .9 .2 .9 .3 1 .2 .9 .2 .9-0 .9 .2 .9 0 1 .3 .9 .1 .9 .2 .9 .1 .9 .1 .9 .2 1 0 .9 .2 .9 .2 .9-0 .9 .1 1 .2 .9-.1 .9 .2 .9 .1 .9-0 1 .2 .9 .1 .9 .1 .9 0 .9 .1 1 .2 .9 0 .9 .1 .9 .2 .3-0 .6-1.3 1-1.3 .9-1.5 .9-1.3 .9-1.2 .9-1 .9-1.1 1-1 .9-.9 .9-.6 .9-.6 .8-.7 .1 .2 1 .5 .9 .5 .9 .5 .9 .5 .9 .4 1 .5 .9 .1 .9 .5 .9 .4 .9 .3 1 .3 .9 .3 .9 .2 .9 .1 .9 .3 1 .3 .9 .1 .9 .3 .9 .1 .9 .3 1 0 .9 .3 .9 .1 .9 .3 .9 0 .9 .3 1 0 .9 .3 .9 .2 .9 .1 .9 .1 1 .1 .9 .2 .9 .1 .9 .1 .9 .1 1 .3 .9-0 .9 0 .9 .3 .9 .2 .6-0" stroke="#6010c0"/>
<path d="M49 180.3l.9-.3 .9-.4 1-.2 .9-.4 .9-.3 .9-.3 .9-.3 1-.4 .6-.2 .3-0 .9 0 .6 0 .3-1.2 .9-3.4 1-3.4 .9-3.3 .9-3.3 .9-3.1 .9-3 .9-3 1-2.6 .9-2.4 .2-.3 .7 1 .9 1 .9 .8 1 .7 .9 .6 .9 .7 .9 .4 .9 .3 1 .3 .9 .2 .9 .3 .9 .3 .9 .1 1 .2 .9 .2 .9-.1 .9 .2 .9 .1 1 .1 .9 0 .9 .2 .9-0 .9 .2 .9 0 1-0 .9 0 .9 .1 .9 .1 .9 .1 1 .1 .9-.1 .9 .1 .9 .1 .9 0 1 0 .9 .1 .9 0 .9 .2 .9-0 1-.1 .9 .2 .9 0 .9 0 .9 .1 1 0 .9 .2 .6-.1 .3-1.9 .9-5.7 .9-5.3 .9-4.7 1-4.5 .9-4.2 .9-3.3 .9-3.4 .9-2.8 1-2.8 .9-2.4 .6-1.6 .3 .7 .9 1.6 .9 1.5 1 1.4 .9 1.2 .9 1 .9 .7 .9 .8 1 .7 .9 .6 .9 .7 .9 .4 .9 .8 1 0 .9 .6 .9 .5 .9 .5 .9 .2 1 .5 .9 .2 .9 .2 .9 .3 .9 .4 .9 .1 1 .5 .9 .1 .9 .4 .9 .3 .9 .1 1 .4 .9-0 .9 .5 .9-0 .9 .5 1 .1 .9 .4 .9 .3 .9 .1 .9 .2 1 .4 .9 0 .9 .5 .9 .1 .6 .2 .3-1.1 1-2.9 .9-3.3 .9-2.5 .9-2.4 .9-2.2 .9-2 1-1.9 .9-2.1 .9-1.5 .9-1.4 .9-1.5 1-1.6 .3-.2 .6 1.3 .9 1.4 .9 1.6 .9 1.4 1 1.2 .9 1.2 .9 .8 .9 .8 .9 .7 1 .6 .9 .5 .9 .6 .9 .5 .9 .6 1 .6 .9 .2 .9 .5 .9 .3 .9 .3 1 .4 .9 .3 .9 .2 .9 .2 .9 .4 .9 .1 1 .4 .9 .3 .9 .1 .9 .1 .9 .5 1 .1 .9 .2 .9 .2 .9 .5 .9-.1 1 .4 .9 .3 .9 .2 .9 .1 .9 .3 1 .3 .9 .1 .9 .4 .9 .2 .3-.1 .6-2.9 1-4.2 .9-3.5 .9-3.7 .9-3.1 .9-3.1 .9-2.2 1-2.7 .9-2.1 .9-1.9 .9-2 .8-1.8 .1 .4 1 1.3 .9 .9 .9 1 .9 1 .9 1.2 1 .7 .9 .6 .9 1 .9 .7 .9 .4 1 .5 .9 .9 .9 .8 .9 .3 .9 .4 1 .3 .9 .3 .9 .6 .9 .4 .9 .3 1 .5 .9 .2 .9 .5 .9-.2 .9 .6 .9 .6 1 .3 .9 .2 .9 .5 .9 .1 .9 .3 1 .1 .9 .4 .9 .4 .9 .3 .9 .3 1 .1 .9 .3 .9 .1 .9 .4 .9 .1 .6 .3" stroke="#c00020"/>
<path d="M49 180.3l.9-.4 .9-.4 1-.3 .9-.4 .9-.4 .9-.4 .9-.4 1-.3 .6-.3 .3 0 .9 0 .6-0 .3-.7 .9-2 1-1.9 .9-1.9 .9-2 .9-1.7 .9-1.8 .9-1.6 1-1.5 .5-.7 .4 .3 .9 .6 .9 .5 .9 .4 1 .4 .9 .3 .9 .2 .9 .3 .9 .2 1 .2 .9 .1 .9 .2 .9 0 .9 .1 1 .1 .9 .1 .9 .1 .9 0 .9 .1 1 .1 .9-0 .9 .1 .9-0 .9 .1 .9 0 1 0 .9 .1 .9-0 .9 0 .9 .1 1-0 .9 0 .9 .1 .9 0 .9 0 1 .1 .9-0 .9 0 .9 0 .9 .1 1 0 .9 0 .9 0 .9 .1 .9-0 1 0 .9 0 .6 .1 .3-.8 .9-2 .9-1.9 .9-1.8 1-1.6 .9-1.5 .9-1.2 .9-1.3 .9-1 1-1 .9-1.1 .6-.5 .3 .2 .9 .7 .9 .6 1 .4 .9 .4 .9 .3 .9 .4 .9 .3 1 .3 .9 .3 .9 .3 .9 .1 .9 .2 1 .2 .9 .2 .9 .1 .9 .2 .9 0 1 .3 .9 .1 .9 .1 .9 .2 .9 .1 .9 0 1 .3 .9-.1 .9 .1 .9 .1 .9 .2 1 .1 .9 .1 .9 .1 .9 .1 .9 .1 1 .1 .9 .1 .9 .1 .9 .1 .9 0 1 .1 .9 .1 .9 .1 .9 .1 .6 0 .3-.1 1-.7 .9-.7 .9-.5 .9-.7 .9-.4 .9-.5 1-.4 .9-.4 .9-.3 .9-.4 .9-.3 1-.3 .3-.1 .6 .5 .9 .6 .9 .5 .9 .6 1 .3 .9 .4 .9 .3 .9 .4 .9 .1 1 .4 .9 .2 .9 .2 .9 .2 .9 .2 1 0 .9 .3 .9 .1 .9 .2 .9 .2 1 0 .9 .1 .9 .2 .9 .1 .9 .1 .9 .1 1 .2 .9 0 .9 .1 .9 .1 .9 .1 1 0 .9 .2 .9 .1 .9 .1 .9-0 1 .1 .9 .2 .9-0 .9 .1 .9 .2 1 0 .9 .1 .9 0 .9 .1 .3 0 .6-.9 1-1.3 .9-1.2 .9-1.2 .9-1 .9-.9 .9-1 1-.8 .9-.6 .9-.8 .9-.5 .8-.4 .1-0 1 .5 .9 .3 .9 .5 .9 .4 .9 .3 1 .2 .9 .4 .9 .3 .9 .3 .9 .2 1 .3 .9 .2 .9 .2 .9 .3 .9 .1 1 .1 .9 .3 .9 .1 .9 .2 .9 .2 1 .2 .9 .1 .9 .1 .9 .2 .9 .1 .9 .2 1 .1 .9 .2 .9 .1 .9 .1 .9 .1 1 .1 .9 .2 .9 .1 .9 0 .9 .1 1 .2 .9 0 .9 .1 .9 .3 .9 0 .6 .1" stroke="#b070c0"/>
<path d="M49 180.3l.9-.3 .9-.5 1-.3 .9-.4 .9-.4 .9-.4 .9-.3 1-.4 .6-.3 .3 0 .9 0 .6 0 .3-.9 .9-2.8 1-2.7 .9-2.6 .9-2.6 .9-2.6 .9-2.3 .9-2.3 1-2.1 .8-1.6 .1 .1 .9 1.1 .9 .9 .9 .8 1 .6 .9 .5 .9 .4 .9 .3 .9 .2 1 .4 .9 .2 .9 .1 .9 .1 .9 .1 1 .2 .9 .1 .9 0 .9 .2 .9 0 1 .1 .9 .1 .9-0 .9 .1 .9-0 .9 .1 1 .1 .9-.1 .9 .2 .9-.1 .9 .1 1 0 .9 .1 .9-0 .9 .1 .9 0 1-0 .9 0 .9 .1 .9 0 .9 .1 1 0 .9 .1 .9-0 .9-0 .9 0 1 .2 .9-0 .6-0 .3-1.1 .9-3.2 .9-3 .9-2.6 1-2.4 .9-2.2 .9-2 .9-1.8 .9-1.7 1-1.6 .9-1.5 .6-.8 .3 .4 .9 1.4 .9 1.1 1 .6 .9 .8 .9 .7 .9 .4 .9 .7 1 .4 .9 .4 .9 .1 .9 .4 .9 .5 1-0 .9 .3 .9 .2 .9 .3 .9 .1 1 .3 .9 .1 .9 .3 .9 .1 .9 .2 .9 .2 1 .2 .9 .1 .9 .2 .9 .2 .9 .1 1 .1 .9 .3 .9 .1 .9 .1 .9 .2 1 .1 .9 .2 .9 .1 .9 .1 .9 .2 1 .1 .9 .2 .9 .1 .9 .3 .6 .1 .3-1 1-2.4 .9-2.4 .9-1.9 .9-1.9 .9-1.9 .9-1.6 1-1.4 .9-1.6 .9-1.4 .9-1 .9-1.1 1-1.1 .3-.3 .6 1.2 .9 1.1 .9 1.2 .9 1 1 1 .9 .7 .9 .7 .9 .7 .9 .2 1 .9 .9 .3 .9 .3 .9 .5 .9 .1 1 .4 .9 .2 .9 .3 .9 .2 .9 .2 1 .3 .9 .1 .9 .2 .9 .3 .9 .2 .9 .2 1 .1 .9 .2 .9 .2 .9 .2 .9-0 1 .4 .9-.1 .9 .3 .9 .1 .9 .2 1 .2 .9 .2 .9 .1 .9 .1 .9 .2 1 .3 .9 0 .9 .1 .9 .2 .3 .2 .6-2.1 1-2.8 .9-2.5 .9-2.2 .9-2.4 .9-1.8 .9-2.1 1-1.6 .9-1.4 .9-1.5 .9-1.2 .8-1 .1 .1 1 1.1 .9 1.2 .9 .7 .9 .8 .9 .8 1 .7 .9 .7 .9 .6 .9 .5 .9 .6 1 .5 .9 .3 .9 .4 .9 .6 .9 .5 1 0 .9 .4 .9 .3 .9 .4 .9 .3 1 .4 .9 .3 .9 0 .9 .3 .9 .4 .9 .3 1 .2 .9 .3 .9 .2 .9 .4 .9-0 1 .1 .9 .4 .9 .1 .9 .2 .9 .4 1 0 .9 .4 .9 .1 .9 .2 .9 .2 .6 .1" stroke="#1010c0"/>
<path d="M49 180.3l.9-.2 .9-.2 1 0 .9-.3 .9-.2 .9-0 .9-.2 1-.2 .6-.2 .3 0 .9 .1 .6-.1 .3-.9 .9-2.7 1-2.8 .9-2.5 .9-2.4 .9-2.4 .9-2.5 .9-2.2 1-2.2 .7-1.3 .2-.1 .9 .9 .9 .6 .9 1 1 .4 .9 .2 .9 .5 .9 .2 .9 .4 1 .4 .9-.2 .9 .3 .9 .6 .9-0 1-0 .9 0 .9 .2 .9 .3 .9-.2 1 .2 .9-.1 .9 .2 .9-.1 .9 .1 .9 .1 1 .2 .9-.2 .9 .2 .9 .3 .9-.1 1 .1 .9-.1 .9-0 .9 .3 .9-.2 1 .1 .9 .2 .9-.2 .9 .2 .9 .1 1-.2 .9 0 .9 .3 .9-.2 .9 0 1 .3 .9-.4 .6 .4 .3-1 .9-2.1 .9-2.9 .9-1.9 1-2.2 .9-1.3 .9-2.4 .9-1.6 .9-1.5 1 .2 .9-2.2 .6-.6 .3 1.3 .9 .1 .9 .5 1 .2 .9 1.3 .9 .2 .9 .5 .9 .3 1 .6 .9 0 .9 .3 .9 1 .9-.4 1 .7 .9 .2 .9-.2 .9 .5 .9 .1 1 .1 .9 .3 .9 .4 .9 .3 .9-.2 .9 .1 1 .3 .9 .2 .9-.1 .9 .4 .9 .5 1-.3 .9 .1 .9 .1 .9 .5 .9 .1 1-.1 .9 .3 .9 .1 .9-.1 .9 .2 1-.2 .9 .5 .9-.2 .9 .3 .6-.2 .3-.2 1-2.1 .9-2.2 .9-1.3 .9-1.7 .9-1.7 .9-1.4 1-.7 .9-1.8 .9-.9 .9-1.1 .9-1 1-.8 .3-.7 .6 .8 .9 1 .9 .5 .9 .3 1 .7 .9 .3 .9 .9 .9 .4 .9-.3 1 1.1 .9-.3 .9 .6 .9 .7 .9 .5 1-.4 .9 .7 .9 .2 .9 .5 .9-.7 1 .5 .9 .2 .9 0 .9 .2 .9 .2 .9 .1 1 .4 .9 .8 .9-.9 .9 .2 .9 .3 1-.3 .9 1 .9 .6 .9-1.2 .9 .4 1 .7 .9-.2 .9-.2 .9 .7 .9-.4 1-.4 .9 .4 .9 .5 .9-0 .3 .4 .6-1.6 1-1.7 .9-1.4 .9-1.4 .9-2.5 .9-.7 .9-.7 1-1.3 .9-1.7 .9-1 .9 .1 .8-1 .1-.2 1 1.2 .9 .9 .9 .5 .9 .2 .9 .8 1 .6 .9 .1 .9-0 .9 .5 .9 .7 1-.4 .9 1.3 .9 .1 .9 .7 .9-.4 1 .6 .9 .8 .9-.1 .9-.6 .9 .6 1 .4 .9 0 .9 1.1 .9-.1 .9 .4 .9 0 1 .1 .9-.1 .9 0 .9 .2 .9-.3 1 1.2 .9-0 .9-0 .9 .6 .9-0 1-.1 .9 .6 .9-.2 .9-.1 .9 .9 .6 .5" stroke="#500070"/>
<path d="M49 180.3l.9-.2 .9-.2 1-.2 .9-.2 .9-.1 .9-.2 .9-.2 1-.2 .6-.2 .3 0 .9 0 .6 0 .3-.9 .9-2.9 1-2.8 .9-2.8 .9-2.7 .9-2.6 .9-2.5 .9-2.3 1-2.1 .8-1.7 .1 .1 .9 .9 .9 .7 .9 .6 1 .5 .9 .6 .9 .4 .9 .3 .9 .2 1 .4 .9 .2 .9 .2 .9 .2 .9 .2 1 .1 .9 .1 .9 .2 .9 0 .9 .2 1 .1 .9 .1 .9-0 .9 .1 .9 0 .9 .2 1-0 .9 .1 .9-0 .9 0 .9 .1 1 .1 .9 .1 .9-.1 .9 .1 .9 0 1 .1 .9-0 .9 .1 .9-0 .9 0 1 0 .9 .1 .9 .1 .9 .1 .9-.1 1 .1 .9 0 .6 0 .3-1.4 .9-4.1 .9-3.9 .9-3.5 1-3 .9-3 .9-2.6 .9-2.4 .9-2.2 1-2 .9-1.9 .6-1.1 .3 .6 .9 .6 .9 .9 1 .8 .9 .5 .9 .7 .9 .4 .9 .4 1 .6 .9 .2 .9 .4 .9 .3 .9 .5 1 .1 .9 .3 .9 .2 .9 .3 .9 .1 1 .3 .9 .2 .9 .1 .9 .3 .9 .1 .9 .3 1 .1 .9 .3 .9 0 .9 .1 .9 .3 1 .1 .9 .2 .9 .2 .9 .1 .9 .1 1 .2 .9 .3 .9-0 .9 .2 .9-0 1 .2 .9 .2 .9 .2 .9 0 .6 .2 .3-.9 1-2.5 .9-2.3 .9-2.3 .9-1.7 .9-2 .9-1.6 1-1.5 .9-1.7 .9-.9 .9-1.7 .9-.8 1-1.2 .3-.6 .6 1.3 .9 1.1 .9 .7 .9 1 1 .9 .9 .7 .9 .8 .9 .5 .9 .4 1 .7 .9 .5 .9 .3 .9 .3 .9 .6 1 .3 .9 .4 .9 .3 .9 .3 .9 .3 1 .4 .9 .2 .9 .2 .9 .1 .9 .1 .9 .4 1 .2 .9 .1 .9 .2 .9 .3 .9 .2 1 0 .9 .4 .9 .2 .9 .3 .9-0 1 .2 .9-0 .9 .4 .9 0 .9 .2 1 .1 .9 .4 .9-0 .9 .3 .3 0 .6-1.7 1-2.5 .9-2.3 .9-1.9 .9-2.2 .9-1.7 .9-1.5 1-1.6 .9-1.6 .9-1.1 .9-1 .8-1.2 .1 .5 1 .8 .9 1 .9 .8 .9 .7 .9 .8 1 .8 .9 .6 .9 .6 .9 .6 .9 .5 1 .6 .9 .5 .9 .4 .9 .6 .9 .3 1 .5 .9 .4 .9 .4 .9 .3 .9 .3 1 .4 .9 .3 .9 .4 .9 .1 .9 .4 .9 .3 1 .2 .9 .4 .9 .3 .9 .3 .9-0 1 .4 .9 .3 .9 .3 .9 .2 .9 .1 1 .4 .9 .2 .9 .2 .9 .3 .9 .2 .6 .3" stroke="#008080"/>
<path d="M49 180.3l.9-.2 .9-.1 1-.2 .9-.2 .9-.2 .9-.1 .9-.2 1-.2 .6-.1 .3 0 .9 0 .6 0 .3-1.6 .9-5 1-4.8 .9-4.8 .9-4.6 .9-4.5 .9-4.6 .9-4.1 1-4.1 .9-3.7 .8-2.6 .1 .1 .9 2.2 .9 1.5 1 1.6 .9 .8 .9 .9 .9 .7 .9 .6 1 .4 .9 .3 .9 .5 .9 .2 .9 .2 1 .1 .9 .3 .9 .1 .9 .2 .9-0 1 .1 .9 .2 .9 0 .9 .2 .9-0 .9 0 1 .2 .9-0 .9 .3 .9 0 .9 .1 1-0 .9 0 .9 .1 .9 .1 .9-0 1 .2 .9 .1 .9 0 .9-.1 .9 .4 1-.1 .9-.1 .9 .2 .9 .1 .9 .1 1-0 .9 0 .6 .2 .3-2.2 .9-5.7 .9-5.4 .9-4.9 1-4.2 .9-3.9 .9-3.9 .9-3.5 .9-2.9 1-2.8 .9-2.9 .6-1 .3 .4 .9 2.1 .9 1.5 1 1.3 .9 .9 .9 1.3 .9 .8 .9 .8 1 .4 .9 .6 .9 .4 .9 .6 .9 .3 1 .2 .9 .5 .9 .2 .9 .3 .9 .4 1 .5 .9-.1 .9 .4 .9 .1 .9 .6 .9 .2 1 .3 .9 .1 .9-0 .9 .3 .9 .3 1 .2 .9 .1 .9 .4 .9 .1 .9 .3 1 .5 .9 0 .9 0 .9 .5 .9 .1 1 .3 .9 .2 .9 .1 .9 .4 .6 .2 .3-1.2 1-4.2 .9-3.5 .9-3.4 .9-3.5 .9-2.9 .9-2.2 1-3 .9-2.2 .9-1.9 .9-2.2 .9-1.4 1-1.7 .3-.5 .6 1.9 .9 2.1 .9 2.5 .9 1.8 1 1.5 .9 1.1 .9 1.3 .9 .8 .9 1.1 1 .9 .9 .5 .9 .6 .9 .7 .9 .3 1 .3 .9 .8 .9 .3 .9 .2 .9 .6 1 .4 .9 .4 .9 .1 .9 .3 .9 .4 .9 .3 1 .2 .9 .3 .9 .6 .9 .1 .9 .3 1 .2 .9 .4 .9 .3 .9 .3 .9 .5 1-0 .9 .4 .9 .1 .9 .5 .9 .2 1 .3 .9 .3 .9 0 .9 .5 .3-0 .6-3.2 1-4.8 .9-3.9 .9-4.1 .9-3.6 .9-3.5 .9-2.9 1-2.7 .9-2.7 .9-2.2 .9-2.2 .8-1.8 .1 .5 1 2.1 .9 1.7 .9 1.8 .9 1.4 .9 1.2 1 1.3 .9 1.3 .9 1.2 .9 .7 .9 .9 1 .6 .9 1 .9 .6 .9 .5 .9 .8 1 .5 .9 .3 .9 .5 .9 .7 .9 .5 1 .7 .9 .2 .9 .5 .9 .4 .9 .5 .9 .3 1 .5 .9 .3 .9 .2 .9 .5 .9 .7 1 .3 .9 .4 .9 .3 .9 .1 .9 .4 1 .5 .9 .2 .9 .5 .9 .5 .9 .3 .6 .2" stroke="#d06010"/>
<path d="M49 180.3l.9-.3 .9-.3 1-.2 .9-.5 .9-.4 .9-.2 .9-.5 1-.4 .6-.1 .3-.1 .9 .2 .6-.2 .3-.9 .9-2.7 1-2.4 .9-2.4 .9-2.6 .9-1.8 .9-2.8 .9-1.6 1-1.9 .7-1.9 .2 .5 .9 .3 .9 1.6 .9-0 1 .7 .9 .3 .9 .9 .9-.6 .9 .5 1 .6 .9 .3 .9 0 .9-.4 .9 .5 1 .2 .9-.1 .9 .2 .9 .1 .9-.1 1 .2 .9-.1 .9 .6 .9-.2 .9 .1 .9-0 1 .1 .9 .2 .9-.1 .9-.3 .9 .5 1 .2 .9-.4 .9-.1 .9 .4 .9-.1 1 .3 .9-.1 .9-.3 .9 .1 .9 .2 1 .1 .9 .4 .9-.4 .9-0 .9-.2 1-.2 .9 .5 .6-.1 .3-1.1 .9-5.1 .9-3.9 .9-4 1-3 .9-3 .9-3.4 .9-1.3 .9-3.2 1-2.4 .9-.7 .6-.9 .3-.7 .9 1.4 .9 .7 1 .9 .9 1.7 .9 0 .9 .2 .9 1.6 1 .5 .9 1 .9-.8 .9-.3 .9 2.5 1-1 .9 .3 .9 1.2 .9 .2 .9 .6 1 .2 .9-.3 .9-.1 .9 .6 .9-.2 .9 .6 1 1 .9-1.3 .9 .4 .9 1.3 .9-1.2 1 .9 .9 .4 .9-.8 .9 2.6 .9-.3 1-1 .9 .7 .9 .5 .9-1.1 .9 .7 1 1.1 .9-.1 .9-.6 .9-.3 .6 2.1 .3-2 1-2.1 .9-1.4 .9-3 .9-1 .9-2.4 .9-3.1 1-.7 .9-1.6 .9-1.2 .9-1 .9-1.6 1 .7 .3-1 .6-.1 .9 2.4 .9 .8 .9-.3 1 .6 .9 2.4 .9 .8 .9-.4 .9 .8 1 1.2 .9-.4 .9 .5 .9 .7 .9-1.5 1 1.4 .9 .7 .9 .2 .9-.9 .9 1.5 1 1.4 .9-.4 .9 .4 .9 .6 .9-.3 .9 .3 1 .4 .9 .4 .9-.6 .9 1.7 .9-1.2 1 .6 .9 .1 .9 1.7 .9-2.2 .9 2.2 1-.3 .9-.7 .9 .9 .9 0 .9 1.3 1-.9 .9-.2 .9-.1 .9 .7 .3-.2 .6-2.4 1-2.4 .9-2.8 .9-4.6 .9-.4 .9-3.9 .9-1.1 1-3 .9 .1 .9-2.6 .9-1.3 .8-.7 .1-.3 1 2 .9 .3 .9 1.2 .9-.3 .9 1.6 1 1.8 .9-.2 .9 .4 .9 1.3 .9-1.3 1 1.3 .9 .2 .9 1.8 .9 .1 .9-.6 1 2.3 .9-1 .9 .6 .9 .9 .9-.1 1 1.2 .9-.6 .9 1.4 .9 .3 .9-1.6 .9 1.8 1 1.4 .9-2 .9 1.6 .9 2.2 .9-2.2 1-.4 .9 .7 .9-.7 .9 1.5 .9-.2 1 1.3 .9-.5 .9-.7 .9 .9 .9 .5 .6 1.6" stroke="#9090f0"/>
<path d="M49 180.3l.9-.2 .9-.2 1-.1 .9-.2 .9-.2 .9-.2 .9-.2 1-.1 .6-.2 .3 0 .9 0 .6 0 .3-1.4 .9-4.3 1-4.2 .9-4 .9-4 .9-3.9 .9-3.8 .9-3.6 1-3.3 .9-3.1 .5-1.3 .4 .7 .9 1.4 .9 1.2 1 1 .9 .7 .9 .6 .9 .6 .9 .4 1 .4 .9 .2 .9 .3 .9 .3 .9 0 1 .3 .9 .1 .9 .1 .9 .2 .9-.1 1 .2 .9 .1 .9 .2 .9-0 .9 0 .9 .1 1 .1 .9 0 .9-0 .9 .2 .9 0 1 .1 .9-.1 .9 .1 .9 .1 .9 .1 1 .1 .9 0 .9 .1 .9 0 .9 .1 1 .1 .9-0 .9 0 .9 .2 .9-0 1-.1 .9 .2 .6-0 .3-1.9 .9-5.9 .9-5.1 .9-4.8 1-4.5 .9-4.2 .9-3.4 .9-3.2 .9-3.3 1-2.7 .9-2.7 .6-1.2 .3 .7 .9 1.5 .9 1.4 1 1.2 .9 1 .9 1.2 .9 .8 .9 .6 1 .5 .9 .6 .9 .6 .9 .5 .9 .2 1 .3 .9 .2 .9 .6 .9 .1 .9 .7 1 .2 .9 .3 .9 .2 .9 .3 .9 .2 .9 .2 1 .3 .9 .1 .9 .3 .9 .2 .9 .1 1 .3 .9 .3 .9 .2 .9 .2 .9 .2 1 .4 .9-0 .9 .1 .9 .3 .9 .4 1 .3 .9 .1 .9 .2 .9 .1 .6 .3 .3-1.4 1-4.1 .9-3.4 .9-3.6 .9-3.1 .9-2.5 .9-2.9 1-2.3 .9-2.2 .9-2 .9-2 .9-2.1 1-1.5 .3-.6 .6 1.6 .9 1.6 .9 1.6 .9 1.5 1 1.2 .9 .7 .9 1 .9 .9 .9 .6 1 .5 .9 .4 .9 .9 .9 .3 .9 .2 1 .7 .9 .1 .9 .9 .9-.2 .9 .5 1 .5 .9-0 .9 .2 .9 .2 .9 .3 .9 .4 1 .3 .9 .2 .9 .2 .9 .2 .9 .3 1 .2 .9 .1 .9 .3 .9-0 .9 .2 1 .6 .9 .2 .9 .3 .9 .2 .9-0 1 .4 .9 .2 .9 .1 .9 .1 .3 .2 .6-3 1-4.4 .9-3.8 .9-3.6 .9-3.3 .9-2.7 .9-2.9 1-2.4 .9-2.6 .9-2.1 .9-1.6 .8-2 .1 .8 1 1.6 .9 2.1 .9 1.9 .9 1.5 .9 1.3 1 1.3 .9 1.3 .9 .8 .9 1.4 .9 .7 1 .9 .9 1.1 .9 .4 .9 1 .9 .9 1 .3 .9 .6 .9 .4 .9 .7 .9 .3 1 .5 .9 .6 .9 .4 .9 .6 .9 .6 .9 .3 1 .4 .9 .5 .9 .5 .9 .6 .9 .1 1 .5 .9 .6 .9 .2 .9 .3 .9 .5 1 .3 .9 .4 .9 .7 .9 .2 .9 .3 .6 .2" stroke="#f07080"/>
<path d="M49 180.3l.9-.2 .9-.3 1-.2 .9-.2 .9-.2 .9-.3 .9-.2 1-.2 .6-.2 .3 0 .9 0 .6 0 .3-1.5 .9-4.6 1-4.5 .9-4.4 .9-4.3 .9-4.2 .9-4 .9-4.1 1-3.5 .9-3.3 .6-2 .3 .6 .9 1.7 .9 1.7 1 1.2 .9 1.1 .9 .7 .9 .7 .9 .4 1 .6 .9 .3 .9 .3 .9 .3 .9 .2 1 .2 .9 .3 .9-.1 .9 .1 .9 .2 1 .2 .9-.1 .9 .2 .9-0 .9 .1 .9 .2 1-.1 .9 .2 .9 .1 .9 0 .9 .1 1-0 .9 .1 .9 .1 .9 .1 .9 0 1 .2 .9 0 .9 .1 .9 .1 .9-0 1 .1 .9-.1 .9 .1 .9 .1 .9 .1 1-0 .9 .2 .6 0 .3-2 .9-5.6 .9-5.3 .9-4.6 1-4.5 .9-3.6 .9-3.8 .9-3 .9-3.4 1-2.4 .9-2.5 .6-1.7 .3 .6 .9 2.2 .9 1.4 1 1.5 .9 .8 .9 1 .9 .8 .9 .7 1 .6 .9 .6 .9 .3 .9 .3 .9 .8 1 .1 .9 .4 .9 .1 .9 .5 .9 .2 1 .4 .9 0 .9 .3 .9 .3 .9 .2 .9 .3 1 .4 .9-.1 .9 .3 .9 .3 .9 .1 1 .2 .9 .4 .9 .2 .9-0 .9 .2 1 .5 .9 .2 .9 .2 .9 .2 .9 .3 1 .1 .9 .3 .9 .2 .9 0 .6 .3 .3-1.5 1-4.2 .9-3.8 .9-3.3 .9-3.3 .9-2.9 .9-3.1 1-2.4 .9-2.1 .9-2.4 .9-2.1 .9-1.8 1-2 .3-.4 .6 1.9 .9 1.9 .9 2 .9 1.2 1 1.3 .9 .7 .9 1.4 .9 1.1 .9 .5 1 .6 .9 .7 .9 .5 .9 .4 .9 .3 1 .4 .9 .5 .9 .1 .9 .5 .9 .3 1 .4 .9 .2 .9 .1 .9 .6 .9 0 .9 .2 1 .4 .9 .1 .9 .4 .9-.1 .9 .3 1 .4 .9 .5 .9 .1 .9-0 .9 .1 1 .4 .9 .1 .9 .5 .9 .2 .9 .2 1 .1 .9 .5 .9-.1 .9 .2 .3 .4 .6-2.7 1-4 .9-3.3 .9-2.9 .9-3.5 .9-2.5 .9-2.4 1-2.7 .9-1.7 .9-1.7 .9-1.9 .8-1.2 .1 .3 1 1.8 .9 2 .9 1.7 .9 1.1 .9 1.5 1 1.3 .9 1.1 .9 1.1 .9 .7 .9 1.1 1 .5 .9 1.2 .9 .6 .9 .8 .9 .5 1 .4 .9 .4 .9 .9 .9 .4 .9 .5 1 .5 .9 .5 .9 .3 .9 .6 .9 .2 .9 .4 1 .5 .9 .4 .9 .5 .9-.1 .9 .8 1-0 .9 .5 .9 .5 .9 .4 .9 .1 1 .2 .9 .7 .9 .3 .9 .2 .9 .4 .6 0" stroke="#b000a0"/>
<path d="M49 180.4l.9-.3 .9-.3 1-.2 .9-.3 .9-.2 .9-.4 .9-.1 1-.5 .6-.2 .3 .2 .9-.1 .6 0 .3-1 .9-2.8 1-2.8 .9-2.7 .9-2.8 .9-2.1 .9-3 .9-2.2 1-2 .8-1.6 .1-.2 .9 .8 .9 .5 .9 1.2 1 .8 .9 .2 .9 .3 .9 .4 .9-.1 1 .1 .9 .6 .9 .7 .9-.4 .9 .5 1-0 .9-.1 .9 .3 .9 .2 .9-0 1-0 .9 .1 .9-.2 .9 1.1 .9-.4 .9 0 1-.2 .9 .2 .9-.1 .9 .5 .9-.2 1-.1 .9 .2 .9 .1 .9-.1 .9-.2 1 .8 .9-.7 .9 .3 .9 .2 .9-.2 1 .1 .9-.1 .9 .4 .9-.3 .9 .4 1-.2 .9-0 .6 .1 .3-.8 .9-1.9 .9-2.2 .9-1.4 1-1.5 .9-1.6 .9-1.4 .9-.9 .9-1.6 1-.7 .9-1.2 .6 .2 .3 .1 .9 .3 .9 .8 1 .2 .9 .2 .9 .2 .9 .2 .9 .6 1 .8 .9-.2 .9 .6 .9-.1 .9 .7 1-.5 .9 .5 .9 .4 .9 .5 .9-.4 1 .4 .9-.1 .9 .4 .9 .1 .9-.2 .9-.1 1 .9 .9-.2 .9-0 .9 .2 .9 .2 1-.6 .9 1 .9-.3 .9 .4 .9-0 1 .7 .9-.8 .9 .4 .9 .3 .9-.6 1 .7 .9 .1 .9 .2 .9-.4 .6 .3 .3-.4 1-1.4 .9-1.6 .9-1.8 .9-1.2 .9-.5 .9-1.5 1-1.4 .9-1.9 .9 .5 .9-.3 .9-1.9 1-.2 .3 .2 .6-.2 .9 1.1 .9 1 .9 .8 1 .2 .9 .5 .9 1.1 .9-.5 .9 1.2 1-.5 .9 .7 .9 .5 .9 .1 .9 .6 1 .1 .9-.3 .9 1 .9-.3 .9 .8 1-.1 .9-.1 .9 .9 .9-.3 .9 .9 .9-.1 1-.1 .9-.3 .9 .2 .9 .7 .9-.1 1 .1 .9 .6 .9-.4 .9-.2 .9 .2 1 .7 .9 0 .9 .3 .9 0 .9 .1 1-.1 .9 .3 .9 .4 .9-.4 .3 0 .6-.9 1-2 .9-1.8 .9-1 .9-2.1 .9-1.6 .9-1.7 1-.5 .9-.8 .9-1 .9-1.2 .8-.8 .1 .8 1 .2 .9 .4 .9 1.7 .9-.9 .9 1.2 1 0 .9 .8 .9 .5 .9 .4 .9 .2 1 .1 .9 .8 .9 .6 .9 .2 .9 .4 1-.4 .9 .9 .9-.6 .9 .7 .9 .4 1-.3 .9 .8 .9 .2 .9-.1 .9 .2 .9 .8 1-1 .9 .8 .9 .9 .9-.2 .9-.2 1 .4 .9-0 .9-.4 .9 .7 .9-.2 1 .6 .9 .6 .9-.5 .9 .9 .9-.4 .6 .2" stroke="#008080"/>
<path d="M49 180.3l.9-.1 .9-.3 1-.2 .9-.3 .9-.1 .9-.4 .9-.2 1-.1 .6-.2 .3-0 .9-.2 .6 .4 .3-1.5 .9-3.5 1-3.6 .9-3.8 .9-3 .9-3.6 .9-2.8 .9-4.2 1-2.4 .9-2.6 .2 .8 .7 .6 .9-.2 .9 1.4 1 .7 .9 .3 .9 1.2 .9-.4 .9 .7 1 .1 .9 .8 .9-.2 .9 .7 .9-.5 1 .1 .9 .3 .9 .3 .9 .1 .9 1.5 1-1.4 .9 .6 .9-.1 .9 .3 .9 .5 .9-.3 1-.4 .9-.2 .9 .9 .9 .1 .9-.8 1 .9 .9-1 .9 .8 .9 .4 .9-.7 1-.2 .9 1.3 .9-1.1 .9 .7 .9-.6 1 .8 .9 .5 .9-.8 .9-.1 .9-.4 1 .2 .9 .5 .6 .4 .3-1.9 .9-5.6 .9-4.8 .9-4.9 1-2.6 .9-5.8 .9-3.4 .9-5.5 .9-1.4 1-1.5 .9-3.5 .6 .4 .3-.2 .9 2.6 .9-2.1 1 1.9 .9 2.6 .9-.2 .9-.2 .9 1.2 1 .7 .9 1.7 .9 .4 .9-.2 .9-.3 1 2 .9 .6 .9-1.5 .9 2.1 .9-1.4 1 1.1 .9-.2 .9-.5 .9 1.2 .9 .2 .9 1.7 1 0 .9-.8 .9-.5 .9 .4 .9-.5 1 1.9 .9 .3 .9-.4 .9 1 .9 .3 1 1 .9-1.4 .9 1.8 .9-1 .9 1.7 1-1.7 .9 1.8 .9-1.1 .9 2 .6-.7 .3-2.5 1-2.1 .9-4.1 .9-2.5 .9-1.1 .9-5.2 .9-2.6 1-.6 .9-3.9 .9-.4 .9-1.5 .9-2.8 1-.7 .3-4.2 .6 5.9 .9-1.2 .9 1.1 .9 4.7 1 .8 .9-1.6 .9 2.1 .9-.1 .9 0 1 2.4 .9 1.4 .9 2.3 .9-2.5 .9 1.7 1-.8 .9 .6 .9 2 .9-2.6 .9 1 1 .6 .9 2.4 .9-.5 .9 .5 .9 .2 .9 1 1-1.2 .9 .5 .9 .1 .9 1.1 .9-1.4 1 1.3 .9 3 .9-1.7 .9-.3 .9-.7 1 1.5 .9 .2 .9 .6 .9-1 .9 1.3 1 .3 .9 .4 .9-.9 .9 1.2 .3 1.1 .6-5 1-2.8 .9-4.8 .9-3.5 .9-4.1 .9-2.7 .9-.7 1-2.9 .9-.8 .9-6 .9-.2 .8-2.8 .1 2.5 1 3.7 .9-3.8 .9 3.1 .9 1 .9 1 1 .2 .9 1 .9 3.5 .9-2.6 .9 2.7 1 .7 .9-2.1 .9 1.6 .9 2.2 .9 2.3 1-1.8 .9 .1 .9 1.2 .9 1.8 .9-0 1 .9 .9-1.2 .9-.3 .9 .2 .9 2.4 .9-.7 1 0 .9 1.6 .9-0 .9-2.1 .9 2.4 1-.4 .9 1.8 .9-.2 .9 2.2 .9-1.4 1-1 .9-.6 .9 1.2 .9 .9 .9 1 .6 .9" stroke="#c00020"/>
<path d="M49 180.3l.9-.4 .9-.4 1-.3 .9-.4 .9-.4 .9-.3 .9-.5 1-.3 .6-.2 .3-.1 .9 0 .6 0 .3-1.2 .9-3.8 1-3.7 .9-3.6 .9-3.5 .9-3.5 .9-3.3 .9-3.1 1-3.1 .9-2.6 .3-.8 .6 .9 .9 1.2 .9 .9 1 .8 .9 .7 .9 .4 .9 .5 .9 .3 1 .5 .9 .3 .9 .3 .9 .1 .9 .2 1 .2 .9 .1 .9 .1 .9 .3 .9-0 1 .1 .9 .1 .9 .1 .9-.1 .9 .1 .9 .1 1 .2 .9 0 .9 0 .9 .2 .9 0 1 .1 .9-.1 .9 .1 .9 .1 .9 .1 1 0 .9 .1 .9-0 .9 .1 .9-0 1 .1 .9 .1 .9-.1 .9 .1 .9 .1 1 .1 .9 .1 .6-.1 .3-1.3 .9-4.3 .9-3.5 .9-3.3 1-3.3 .9-2.8 .9-2.6 .9-2.2 .9-2.4 1-1.7 .9-1.9 .6-1.1 .3 .5 .9 1.4 .9 1.4 1 1.1 .9 .9 .9 1.2 .9 .7 .9 .6 1 .6 .9 .5 .9 .7 .9 .2 .9 .4 1 .5 .9 .5 .9 .2 .9 .4 .9 .2 1 .3 .9 .2 .9 .4 .9 .1 .9 .5 .9 .2 1 .1 .9 .4 .9 0 .9 .4 .9 .1 1 .3 .9 .2 .9 .2 .9 .2 .9 .3 1-0 .9 .4 .9 .2 .9 .1 .9 .2 1 .2 .9 .2 .9 .4 .9 .1 .6 .1 .3-1.2 1-3.6 .9-3.1 .9-3.3 .9-3.1 .9-2.2 .9-2.6 1-2.4 .9-2.1 .9-2 .9-1.4 .9-1.9 1-1.6 .3-.2 .6 1 .9 1.3 .9 1.5 .9 1.3 1 1.5 .9 .7 .9 .8 .9 .8 .9 .7 1 .2 .9 1 .9 .6 .9 .3 .9 .5 1 .4 .9 .4 .9 .2 .9 .4 .9 .5 1 .2 .9 .2 .9 .4 .9 .1 .9 .3 .9 .4 1 .1 .9 .1 .9 .3 .9 .4 .9 .1 1 .4 .9 .3 .9-0 .9 .2 .9 .2 1 .3 .9 .2 .9 .3 .9 .1 .9 .1 1 .3 .9 .2 .9 .4 .9 .1 .3-.1 .6-2.7 1-3.6 .9-3.3 .9-3 .9-3.1 .9-2.7 .9-2.1 1-2.5 .9-2 .9-1.8 .9-1.5 .8-1.6 .1 .5 1 .7 .9 1.4 .9 1.2 .9 .6 .9 .9 1 1.1 .9 .3 .9 1.2 .9 .5 .9 .5 1 1.1 .9 0 .9 .7 .9 .5 .9 .6 1 .3 .9 .6 .9 .4 .9 .3 .9 .4 1 0 .9 .8 .9 .2 .9 .3 .9 .3 .9 .2 1 .3 .9 .4 .9 .3 .9 .3 .9 .1 1 .3 .9 .5 .9 .4 .9-.2 .9 .4 1 .3 .9 .3 .9 .4 .9 .3 .9 .1 .6 .2" stroke="#c00020"/>
<path d="M49 180.2l.9-.2 .9-.2 1-.3 .9-.2 .9-.3 .9-.3 .9-.2 1-.3 .6-0 .3-.1 .9-.1 .6 0 .3-.9 .9-2.8 1-2.8 .9-2.8 .9-2.8 .9-2.4 .9-2.8 .9-2 1-2.5 .8-1.1 .1-.1 .9 1.3 .9 .3 .9 .7 1 .9 .9 .4 .9 .3 .9 .5 .9 .1 1 .2 .9-.2 .9 0 .9 .5 .9 .1 1-0 .9 .2 .9 0 .9-.2 .9 .2 1 .1 .9 .2 .9-.4 .9 .5 .9-.1 .9 .3 1-.1 .9-.1 .9 .2 .9-.2 .9 .1 1 .4 .9 .2 .9-.6 .9 .3 .9-.4 1 .4 .9 .1 .9-.2 .9 .2 .9 0 1 .2 .9-.2 .9-.1 .9 .3 .9-.4 1 .5 .9-.1 .6 .4 .3-1.2 .9-4.6 .9-3.2 .9-3.1 1-1.8 .9-3.2 .9-2.4 .9-2 .9-2.1 1-1.2 .9-2 .6-.5 .3 .1 .9 1.1 .9 1.6 1 .8 .9 .9 .9 .5 .9 .2 .9 .9 1 .4 .9 1.1 .9-.1 .9-.1 .9 1 1 .1 .9 .4 .9-.6 .9 .9 .9 .3 1-.3 .9 .1 .9 .4 .9-0 .9 .5 .9 .3 1 .3 .9 .2 .9 .2 .9-.2 .9 .3 1 .1 .9 0 .9 .4 .9 .7 .9-.1 1 .3 .9 .4 .9-.5 .9 .6 .9 .2 1 .1 .9-.5 .9 .6 .9-.3 .6 .5 .3-.5 1-2.2 .9-1.7 .9-1.4 .9-1 .9-1.6 .9-.9 1-1.6 .9-1.2 .9-1.6 .9-.9 .9-.5 1-.9 .3 .1 .6-.2 .9 1.9 .9 .6 .9 2 1 .8 .9 .4 .9 1 .9 .5 .9 1 1-.3 .9 .7 .9 0 .9 .8 .9 .9 1-.7 .9 0 .9 1.2 .9 .1 .9-.1 1 .2 .9 .7 .9-1.1 .9 .5 .9 .7 .9 .7 1-.7 .9-.4 .9 .6 .9-0 .9 .9 1-.3 .9 .8 .9-1.1 .9 .7 .9 1.1 1 0 .9-.6 .9 .2 .9 .3 .9-.1 1-.4 .9 .8 .9 .9 .9-.5 .3 .5 .6-1.9 1-2.9 .9-2 .9-1.6 .9-2.4 .9-1.3 .9-2.2 1-1.1 .9-1.6 .9-.9 .9-1.6 .8-.5 .1 .1 1 1.5 .9 .7 .9 1.9 .9-1.4 .9 2.5 1 .3 .9 .9 .9 .6 .9 .2 .9 .9 1 .4 .9 .9 .9 .2 .9 .5 .9-1 1 1.7 .9 .2 .9-.2 .9-.2 .9 1.6 1 .2 .9-.4 .9 .1 .9 1 .9 .4 .9-.1 1-.5 .9 .6 .9-.1 .9 .5 .9 .2 1-0 .9 .5 .9 .1 .9 .6 .9 .1 1-.2 .9 .5 .9 .4 .9-.3 .9 .2 .6 .4" stroke="#008080"/>
<path d="M49 180.3l.9-.3 .9-.5 1-.3 .9-.4 .9-.3 .9-.4 .9-.4 1-.4 .6-.2 .3 0 .9-0 .6 0 .3-1 .9-2.9 1-2.9 .9-2.8 .9-2.7 .9-2.7 .9-2.6 .9-2.3 1-2.2 .9-2-0 .1 .9 1 .9 .9 .9 .8 1 .6 .9 .5 .9 .4 .9 .4 .9 .3 1 .3 .9 .3 .9 .1 .9 .2 .9 .1 1 .1 .9 .1 .9 .2 .9-0 .9 .1 1 .1 .9 .1 .9 0 .9 .1 .9 0 .9 .1 1 .1 .9-0 .9 .1 .9 0 .9 .1 1-0 .9-0 .9 0 .9 .1 .9 .1 1-0 .9 .1 .9 0 .9 0 .9 .1 1 0 .9 .1 .9-.1 .9 .2 .9-0 1 .1 .9-0 .6 .1 .3-1 .9-2.9 .9-2.6 .9-2.3 1-2.2 .9-1.9 .9-1.6 .9-1.7 .9-1.5 1-1.5 .9-1 .6-.9 .3 .3 .9 1 .9 .7 1 .8 .9 .4 .9 .7 .9 .3 .9 .2 1 .5 .9 .3 .9 .3 .9 .1 .9 .3 1 .2 .9 .3 .9 .2 .9 .2 .9 .1 1 .2 .9 0 .9 .2 .9 .2 .9 .2 .9 .2 1 0 .9 .1 .9 .1 .9 .4 .9 0 1-0 .9 .2 .9 .1 .9 .1 .9 .1 1 .2 .9 .1 .9-0 .9 .2 .9 .1 1 .1 .9 .1 .9 .2 .9 0 .6 .1 .3-.5 1-1.6 .9-1.4 .9-1.4 .9-1.2 .9-1.1 .9-1.1 1-1.1 .9-.8 .9-.8 .9-.8 .9-.7 1-.8 .3-.3 .6 .8 .9 1.1 .9 .9 .9 .8 1 .7 .9 .6 .9 .4 .9 .6 .9 .4 1 .4 .9 .2 .9 .4 .9 .2 .9 .3 1 .1 .9 .4 .9 .1 .9 .3 .9 .2 1 0 .9 .2 .9 .3 .9 .1 .9 .2 .9 0 1 .3 .9 .1 .9 .1 .9 .2 .9 .1 1 .2 .9 .1 .9 0 .9 .3 .9 .1 1 .1 .9 .2 .9-0 .9 .1 .9 .3 1 .1 .9 .1 .9 0 .9 .1 .3 .2 .6-1.7 1-2.3 .9-2.1 .9-2.1 .9-1.8 .9-1.6 .9-1.5 1-1.4 .9-1.2 .9-1.1 .9-1 .8-1 .1 .1 1 1 .9 1 .9 .8 .9 .7 .9 .6 1 .7 .9 .6 .9 .6 .9 .4 .9 .5 1 .5 .9 .2 .9 .6 .9 .2 .9 .5 1 .2 .9 .4 .9 .3 .9 .2 .9 .3 1 .3 .9 .2 .9 .2 .9 .3 .9 .3 .9 .1 1 .3 .9 .2 .9 .2 .9 .4 .9 .2 1 .1 .9 .1 .9 .3 .9 .2 .9 .2 1 .1 .9 .3 .9 .3 .9 0 .9 .2 .6 .1" stroke="#008080"/>
</g>
<g fill="none" stroke-width="0.6" stroke-opacity="0.9">
<path d="M49 180.3l.9-.3 .9-.2 1-.3 .9-.2 .9-.3 .9-.2 .9-.3 1-.2 .6-.2 .3-0 .9-0 .6-0 .3-1.9 .9-5.6 1-5.5 .9-5.4 .9-5.3 .9-5.1 .9-5 .9-4.9 1-4.8 .9-4.1 .9-4 .3-.8 .6 1.2 .9 1.9 1 1.6 .9 1.1 .9 .9 .9 .7 .9 .8 1 .7 .9 .6 .9 .3 .9 .4 .9 .2 1 .3 .9 .5 .9 .3 .9 0 .9 .1 1 .3 .9 .1 .9-0 .9 .1 .9 .4 .9-.1 1 .1 .9 .2 .9-0 .9 .1 .9-.1 1 .3 .9 .2 .9 0 .9 0 .9-0 1 .2 .9 .1 .9 .1 .9 .1 .9 .1 1 .1 .9-0 .9 .1 .9 .1 .9 .1 1 .1 .9 .1 .6-0 .3-2.8 .9-7.8 .9-7.3 .9-6.5 1-5.7 .9-5.5 .9-4.8 .9-5 .9-3.7 1-4.2 .9-3.1 .6-2.4 .3 1.3 .9 2.6 .9 2.3 1 2 .9 1.9 .9 1.4 .9 1.3 .9 1.3 1 1.3 .9 1.2 .9 .6 .9 1.3 .9 .1 1 .7 .9 1 .9 .3 .9 .7 .9 .3 1 .8 .9 .5 .9 .5 .9 .3 .9 .6 .9-0 1 .8 .9 .1 .9 .7 .9 .4 .9 .4 1 .4 .9 .3 .9 .2 .9 .6 .9 .5 1 .2 .9 .6 .9 .6 .9-0 .9 .6 1 .3 .9 .2 .9 .5 .9 .3 .6 0 .3-2.3 1-7.1 .9-6.3 .9-6 .9-5.8 .9-4.6 .9-4.9 1-4.3 .9-4.1 .9-3.8 .9-3.3 .9-3.3 1-2.6 .3-1.2 .6 2.5 .9 2.4 .9 2.6 .9 2.6 1 2 .9 1.7 .9 1.4 .9 1.9 .9 1.1 1 .8 .9 1.2 .9 1.2 .9 1.1 .9 .4 1 1 .9 .3 .9 .7 .9 .2 .9 1.2 1 .2 .9 .8 .9 .5 .9 .3 .9 .6 .9-0 1 .8 .9 .5 .9-.1 .9 1 .9 .3 1 .4 .9 .5 .9 .2 .9 .3 .9 .8 1 .2 .9 .4 .9 .6 .9 .4 .9 .2 1 .4 .9 .2 .9 .3 .9 .5 .3 .1 .6-4.6 1-6.9 .9-6.4 .9-5.8 .9-5.1 .9-4.9 .9-4.2 1-3.8 .9-4.1 .9-3.2 .9-2.8 .8-3.1 .1 .4 1 2.6 .9 2.7 .9 1.7 .9 2.3 .9 1.7 1 2.2 .9 1.5 .9 1.1 .9 1.8 .9 1.3 1 .8 .9 1.3 .9 1.3 .9 .6 .9 1.8 1 .6 .9 1 .9 .4 .9 .8 .9 1.2 1 .7 .9 .5 .9 .8 .9 .8 .9 .5 .9 .4 1 1 .9 .9 .9 .4 .9 .6 .9 .7 1 .3 .9 .6 .9 .6 .9 .6 .9 .6 1 .8 .9 .4 .9 .7 .9 .3 .9 .6 .6 .4" stroke="#a058a8"/>
<path d="M49 180.3l.9-.3 .9-.2 1-.3 .9-.2 .9-.3 .9-.2 .9-.3 1-.2 .6-.2 .3-0 .9-0 .6-0 .3-1.7 .9-5.1 1-5 .9-4.8 .9-4.8 .9-4.7 .9-4.4 .9-4.4 1-4.2 .9-3.8 .9-2.9 0-0 .9 1.5 .9 1.1 1 1.1 .9 .8 .9 .7 .9 .5 .9 .7 1 .5 .9 .3 .9 .3 .9 .3 .9 .2 1 .3 .9 .2 .9 .1 .9 .2 .9 .1 1 .1 .9 0 .9 0 .9 .1 .9 .3 .9 .1 1 .2 .9 0 .9 .1 .9-.1 .9 .1 1 .2 .9-0 .9 0 .9 .1 .9-.1 1 .3 .9-0 .9 0 .9 .1 .9 .2 1-.1 .9 .2 .9-0 .9 .1 .9-.1 1-.1 .9 .2 .6 .1 .3-2.2 .9-6.7 .9-6.1 .9-5.2 1-5.2 .9-4.3 .9-4.2 .9-4 .9-3.2 1-3.5 .9-3 .6-1.6 .3 .8 .9 2.2 .9 2.2 1 1.7 .9 1.5 .9 1.7 .9 .8 .9 1.2 1 1.1 .9 .8 .9 .8 .9 .7 .9 .8 1 .6 .9 .5 .9 .3 .9 .6 .9 .5 1 .5 .9 .3 .9 .8 .9 .2 .9 .2 .9 .5 1 .3 .9 .2 .9 .5 .9 .6 .9 .2 1 .5 .9 .1 .9 .3 .9 .5 .9 .2 1 .4 .9 .1 .9 .6 .9 .3 .9 .3 1 .2 .9 .4 .9 .4 .9 .3 .6 .2 .3-2.1 1-5.8 .9-5.5 .9-5.2 .9-4.8 .9-4.2 .9-3.9 1-3.8 .9-3.4 .9-3.4 .9-2.7 .9-2.7 1-3 .3-.5 .6 2.1 .9 2.1 .9 2.6 .9 2 1 1.4 .9 1.9 .9 1.2 .9 1.1 .9 1 1 1.2 .9 .9 .9 .8 .9 .5 .9 1.2 1 .2 .9 .6 .9 .4 .9 1 .9 .1 1 .8 .9 .2 .9 .6 .9 .7 .9 .1 .9 .3 1 .3 .9 .6 .9 .5 .9 0 .9 .5 1 .2 .9 .3 .9 .6 .9 .3 .9 .4 1 .6 .9-0 .9 .2 .9 .3 .9 .5 1 0 .9 .7 .9 .3 .9 .4 .3 .1 .6-4.2 1-5.7 .9-5.4 .9-5 .9-4.5 .9-3.8 .9-4.1 1-3.2 .9-3.4 .9-2.8 .9-2.2 .8-2.4 .1-.1 1 2.6 .9 2.1 .9 1.9 .9 1.6 .9 1.6 1 1.7 .9 1 .9 1.8 .9 1.2 .9 1 1 1 .9 .8 .9 .8 .9 1.4 .9 .8 1 .7 .9 .9 .9 .5 .9 1.1 .9 .3 1 1.3 .9 .1 .9 .6 .9 .2 .9 1.3 .9 .2 1 .6 .9 .8 .9 .3 .9 .8 .9 .5 1 .6 .9 .3 .9 .6 .9 .7 .9 .1 1 .8 .9 .1 .9 .5 .9 .7 .9 .6 .6 .2" stroke="#905090"/>
<path d="M49 180.3l.9-.2 .9-.3 1-.3 .9-.2 .9-.3 .9-.2 .9-.2 1-.3 .6-.2 .3-0 .9 0 .6-0 .3-1.6 .9-4.9 1-4.7 .9-4.7 .9-4.6 .9-4.5 .9-4.3 .9-4.1 1-4.1 .9-3.6 .8-2.4 .1-0 .9 1.5 .9 1.3 1 1.1 .9 1.1 .9 .6 .9 .8 .9 .5 1 .4 .9 .2 .9 .4 .9 .3 .9 .2 1 .3 .9 .1 .9 .2 .9 .3 .9 .1 1 .1 .9 0 .9 .1 .9 .2 .9 .1 .9-.1 1-0 .9 .2 .9 .2 .9 .1 .9-0 1 .1 .9 .1 .9-.1 .9 0 .9 .3 1 .1 .9 0 .9 .2 .9-.1 .9 .2 1-.1 .9 .1 .9 0 .9 .3 .9-.1 1 .1 .9-0 .6 .1 .3-2.2 .9-6.5 .9-5.8 .9-5.3 1-4.6 .9-4.6 .9-3.8 .9-3.8 .9-3.5 1-2.7 .9-3.4 .6-1.5 .3 1.1 .9 2.1 .9 1.8 1 1.6 .9 1.6 .9 1.1 .9 1.3 .9 .9 1 .5 .9 1.1 .9 .7 .9 .4 .9 .8 1 .5 .9 .7 .9 .2 .9 .7 .9 .2 1 .5 .9 .2 .9 .5 .9 .5 .9 .5 .9 .2 1 .4 .9 .1 .9 .5 .9 .6 .9-0 1 .2 .9 .6 .9 .1 .9 .5 .9 .2 1 .3 .9 .3 .9 .2 .9 .5 .9 .1 1 .5 .9 .2 .9 .1 .9 .6 .6 .1 .3-2.1 1-5.5 .9-4.8 .9-4.7 .9-4.5 .9-3.8 .9-3.9 1-3.1 .9-3.6 .9-2.5 .9-3 .9-2.6 1-2 .3-.6 .6 1.8 .9 2.6 .9 1.4 .9 2.6 1 1.6 .9 1.1 .9 1.4 .9 1 .9 1 1 1.2 .9 .9 .9 .9 .9 .7 .9 .4 1 .7 .9 .6 .9 .9 .9 .4 .9 .4 1 .5 .9 .5 .9 .1 .9 .4 .9 .3 .9 .7 1 .3 .9 .4 .9 .3 .9 .5 .9 .1 1 .8 .9 .1 .9 .5 .9-0 .9 .6 1 .3 .9 .2 .9 .5 .9 .1 .9 .4 1-0 .9 .8 .9 .2 .9 .1 .3 .2 .6-4 1-5.5 .9-5.3 .9-4.6 .9-4.5 .9-3.4 .9-3.9 1-3.2 .9-3.2 .9-2.5 .9-3 .8-1.5 .1-.2 1 2.3 .9 2.5 .9 1.3 .9 2.2 .9 1.1 1 1.9 .9 1 .9 1.3 .9 1.4 .9 1.2 1 .5 .9 1.2 .9 .6 .9 1.1 .9 .3 1 1.2 .9 .5 .9 .9 .9 .8 .9 .5 1 .9 .9 .6 .9 .2 .9 .9 .9 .7 .9 .3 1 .7 .9 .4 .9 .3 .9 .5 .9 .4 1 .6 .9 .6 .9 .5 .9 .5 .9 .5 1 .1 .9 .8 .9 .2 .9 .7 .9 .3 .6 .9" stroke="#a89060"/>
<path d="M49 180.3l.9-.3 .9-.2 1-.3 .9-.2 .9-.3 .9-.2 .9-.3 1-.2 .6-.2 .3-0 .9-0 .6-0 .3-1.6 .9-4.7 1-4.6 .9-4.5 .9-4.5 .9-4.3 .9-4.1 .9-4 1-3.9 .9-3.5 .7-2.3 .2 .5 .9 1.2 .9 1.5 1 1 .9 .6 .9 .8 .9 .6 .9 .5 1 .4 .9 .4 .9 .3 .9 .2 .9 .3 1 .1 .9 .2 .9 .3 .9 0 .9 .3 1 0 .9 .2 .9 .1 .9 .1 .9 0 .9 .1 1 .1 .9 .2 .9-.1 .9-.1 .9 .3 1 0 .9 .2 .9-0 .9 .1 .9 .1 1-0 .9 0 .9 0 .9 .1 .9 .1 1-0 .9 0 .9 .2 .9 .1 .9-0 1 0 .9 0 .6 .1 .3-2.3 .9-5.8 .9-5.6 .9-4.9 1-4.5 .9-4.3 .9-3.9 .9-3.6 .9-2.6 1-3.6 .9-2.7 .6-1.6 .3 .8 .9 2.3 .9 1.7 1 1.5 .9 1.7 .9 1 .9 1.1 .9 1 1 .6 .9 1.1 .9 .8 .9 .5 .9 .6 1 .3 .9 .9 .9 .4 .9 .2 .9 .4 1 .6 .9 .1 .9 .8 .9-0 .9 .5 .9 .3 1 .1 .9 .5 .9 .4 .9 .2 .9 .2 1 .5 .9 .4 .9 .2 .9 .4 .9 .3 1 .2 .9 .2 .9 .4 .9 .2 .9 .2 1 .3 .9 .6 .9 .1 .9 .5 .6-0 .3-1.9 1-5.2 .9-4.8 .9-4.4 .9-4.1 .9-4.2 .9-3.4 1-3.3 .9-3.1 .9-2.8 .9-2.8 .9-2 1-2.4 .3-.3 .6 1.6 .9 2.5 .9 2.1 .9 1.5 1 1.9 .9 1.5 .9 1.3 .9 1.2 .9 1.1 1 1 .9 .8 .9 .8 .9 .7 .9 .9 1 .3 .9 .6 .9 .5 .9 .7 .9 .4 1 .2 .9 .7 .9 .2 .9 .6 .9 .5 .9 .4 1 .2 .9 .4 .9 .4 .9 0 .9 .6 1 .4 .9 0 .9 .5 .9 .5 .9 .4 1 .2 .9 .2 .9 .6 .9-0 .9 .5 1 .1 .9 .5 .9 .2 .9 .3 .3 0 .6-3.6 1-5.8 .9-4.5 .9-4.8 .9-4.3 .9-3.7 .9-3.7 1-2.7 .9-3.3 .9-2.9 .9-2.3 .8-1.7 .1-.1 1 2 .9 2 .9 1.1 .9 1.9 .9 1.5 1 1.1 .9 1.3 .9 1 .9 1 .9 1.1 1 .7 .9 .9 .9 .7 .9 1.1 .9 .6 1 .6 .9 .7 .9 1 .9 .4 .9 .4 1 .5 .9 .6 .9 .5 .9 .3 .9 .8 .9 .6 1 .1 .9 .6 .9 .6 .9 .5 .9 0 1 .8 .9 .5 .9 .1 .9 .8 .9 .2 1 .3 .9 .6 .9 .4 .9 .3 .9 .6 .6 .1" stroke="#b06060"/>
<path d="M49 180.3l.9-.2 .9-.3 1-.3 .9-.2 .9-.3 .9-.2 .9-.3 1-.3 .6-.1 .3-0 .9-0 .6-0 .3-1.5 .9-4.7 1-4.5 .9-4.3 .9-4.4 .9-4.2 .9-4.1 .9-3.9 1-3.7 .9-3.4 .7-1.9 .2 .3 .9 1.4 .9 1.2 1 1.1 .9 .7 .9 .5 .9 .6 .9 .5 1 .4 .9 .4 .9 .2 .9 .3 .9 .2 1 .1 .9 .4 .9 .1 .9 .1 .9 .2 1 .1 .9-0 .9 .1 .9 .1 .9 0 .9 .2 1-.1 .9 .2 .9 .1 .9-0 .9 .1 1 .1 .9 .1 .9 .1 .9 .1 .9-.1 1 0 .9 .2 .9 0 .9 .2 .9 0 1 0 .9 0 .9 .1 .9-0 .9 .2 1 0 .9-0 .6 .2 .3-2.2 .9-5.8 .9-5.3 .9-5 1-4.4 .9-3.9 .9-3.5 .9-3.8 .9-3.1 1-2.8 .9-2.5 .6-1.6 .3 .7 .9 2.3 .9 1.8 1 1.8 .9 1.3 .9 1.3 .9 1.1 .9 1.1 1 .6 .9 .6 .9 1.2 .9 .1 .9 .8 1 .6 .9 .4 .9 .5 .9 .5 .9 .2 1 .6 .9 .3 .9 .5 .9 .3 .9 .4 .9 .3 1 .4 .9 .1 .9 .5 .9 .2 .9 .3 1 .3 .9 .5 .9 0 .9 .7 .9-0 1 .7 .9 .1 .9 .2 .9 .4 .9 .4 1 .3 .9 .1 .9 .5 .9 .1 .6 .1 .3-1.9 1-5 .9-4.8 .9-4.4 .9-4.6 .9-3.6 .9-3.4 1-3.2 .9-3.1 .9-2.3 .9-3 .9-2.1 1-1.9 .3-1.3 .6 2.1 .9 2.1 .9 2.2 .9 1.8 1 1.2 .9 1.6 .9 1.3 .9 1.4 .9 .6 1 1.2 .9 .6 .9 1 .9 .5 .9 .6 1 .9 .9 .2 .9 .7 .9 .2 .9 .6 1 .5 .9-0 .9 .7 .9 .5 .9 .2 .9 .5 1 .2 .9 .7 .9-.1 .9 .7 .9 .3 1 .3 .9 .3 .9 0 .9 .6 .9 .5 1 .1 .9 .3 .9 .2 .9 .5 .9 .2 1-0 .9 .7 .9 .2 .9 .5 .3-.2 .6-3.5 1-5.5 .9-4.7 .9-4.3 .9-3.8 .9-3.7 .9-3.4 1-3.1 .9-2.8 .9-2.5 .9-2.5 .8-1.9 .1 .3 1 1.8 .9 1.9 .9 2 .9 1.1 .9 1.8 1 1.2 .9 1.1 .9 1.8 .9 .7 .9 1 1 .9 .9 1 .9 .8 .9 1.2 .9 .7 1 .4 .9 1.2 .9 .4 .9 .6 .9 .5 1 .5 .9 .7 .9 .7 .9 .5 .9 .3 .9 .5 1 .5 .9 .6 .9 .5 .9 .7 .9 .2 1 .3 .9 .8 .9 .2 .9 .4 .9 .2 1 .8 .9 .4 .9 .6 .9 .4 .9 .5 .6 .3" stroke="#8060a0"/>
<path d="M49 180.3l.9-.2 .9-.3 1-.3 .9-.2 .9-.3 .9-.2 .9-.3 1-.2 .6-.2 .3-0 .9-0 .6-0 .3-1.5 .9-4.6 1-4.4 .9-4.4 .9-4.2 .9-4.2 .9-4 .9-3.8 1-3.7 .9-3.3 .6-1.8 .3 .3 .9 1.3 .9 1.3 1 .9 .9 .9 .9 .7 .9 .4 .9 .5 1 .5 .9 .3 .9 .4 .9 .1 .9 .3 1 .1 .9 .1 .9 .4 .9 0 .9 .1 1 .2 .9 .1 .9-0 .9 .2 .9 .1 .9-.1 1 .1 .9 .1 .9 .1 .9 .1 .9 .1 1 0 .9 .1 .9 .1 .9 .1 .9-0 1 0 .9 .1 .9 0 .9 .1 .9 0 1 .1 .9 .1 .9 0 .9 .1 .9 .1 1 .1 .9-.1 .6 .2 .3-2.1 .9-5.7 .9-5.3 .9-4.9 1-4.4 .9-3.7 .9-3.6 .9-3.1 .9-3.6 1-2.9 .9-2.3 .6-1.5 .3 .6 .9 2.4 .9 1.6 1 1.5 .9 1.5 .9 1.3 .9 1.2 .9 1 1 .9 .9 .5 .9 .7 .9 .8 .9 .6 1 .5 .9 .7 .9 .3 .9 .4 .9 .5 1 .4 .9 .7 .9 .1 .9 .5 .9 .4 .9-.1 1 .6 .9 .3 .9 .4 .9 .3 .9 .1 1 .7 .9 0 .9 .4 .9 .2 .9 .3 1 .4 .9 .5 .9 0 .9 .3 .9 .3 1 .4 .9 .2 .9 .5 .9 .2 .6 .2 .3-1.8 1-5.1 .9-4.8 .9-4.3 .9-4.1 .9-4 .9-3.3 1-3.2 .9-2.9 .9-2.9 .9-2.4 .9-2.3 1-2.4 .3-.6 .6 2 .9 2.4 .9 1.7 .9 2.1 1 1.4 .9 1.6 .9 1.4 .9 1.2 .9 .8 1 1.2 .9 .9 .9 .8 .9 .6 .9 .8 1 .4 .9 .8 .9 .3 .9 .5 .9 .5 1 .6 .9 .1 .9 .4 .9 .6 .9 .5 .9 .2 1 .5 .9 .3 .9 .3 .9 .6 .9 .1 1 .5 .9 .4 .9 .2 .9 .1 .9 .6 1 .2 .9 .5 .9 .1 .9 .4 .9 .2 1 .4 .9 .3 .9 .6 .9 0 .3 .1 .6-3.7 1-5.3 .9-4.9 .9-4.6 .9-3.7 .9-3.9 .9-3.5 1-3.2 .9-2.6 .9-2.5 .9-2.8 .8-2.1 .1 .1 1 2.1 .9 1.9 .9 1.2 .9 1.5 .9 1.4 1 1.4 .9 1.2 .9 .8 .9 .9 .9 .8 1 .9 .9 .7 .9 .5 .9 1 .9 .5 1 1 .9 .6 .9 .5 .9 .8 .9-.1 1 .8 .9 .4 .9 .3 .9 .7 .9 .3 .9 1.1 1-.1 .9 .5 .9 .6 .9 .2 .9 .5 1 .5 .9 .6 .9-.2 .9 1.1 .9-0 1 .1 .9 .6 .9 .5 .9 .3 .9 .5 .6 .1" stroke="#c08060"/>
</g>
<rect x="49.0" y="25.5" width="214.50" height="154.80" fill="none" stroke="#4e4e4e" stroke-width="1.25"/>
<line x1="49.0" y1="180.30" x2="52.00" y2="180.30" stroke="#4e4e4e" stroke-width="1"/>
<text x="33.86" y="183.29" font-size="8.3">0.0</text>
<line x1="49.0" y1="174.77" x2="50.70" y2="174.77" stroke="#4e4e4e" stroke-width="1"/>
<line x1="49.0" y1="169.24" x2="52.00" y2="169.24" stroke="#4e4e4e" stroke-width="1"/>
<text x="33.86" y="172.23" font-size="8.3">0.5</text>
<line x1="49.0" y1="163.71" x2="50.70" y2="163.71" stroke="#4e4e4e" stroke-width="1"/>
<line x1="49.0" y1="158.19" x2="52.00" y2="158.19" stroke="#4e4e4e" stroke-width="1"/>
<text x="33.86" y="161.17" font-size="8.3"> .0</text>
<path transform="translate(33.86,161.17) scale(0.00405,-0.00405)" d="M515 0V1237L197 1010V1180L530 1409H696V0Z" fill="#111"/>
<line x1="49.0" y1="152.66" x2="50.70" y2="152.66" stroke="#4e4e4e" stroke-width="1"/>
<line x1="49.0" y1="147.13" x2="52.00" y2="147.13" stroke="#4e4e4e" stroke-width="1"/>
<text x="33.86" y="150.12" font-size="8.3"> .5</text>
<path transform="translate(33.86,150.12) scale(0.00405,-0.00405)" d="M515 0V1237L197 1010V1180L530 1409H696V0Z" fill="#111"/>
<line x1="49.0" y1="141.60" x2="50.70" y2="141.60" stroke="#4e4e4e" stroke-width="1"/>
<line x1="49.0" y1="136.07" x2="52.00" y2="136.07" stroke="#4e4e4e" stroke-width="1"/>
<text x="33.86" y="139.06" font-size="8.3">2.0</text>
<line x1="49.0" y1="130.54" x2="50.70" y2="130.54" stroke="#4e4e4e" stroke-width="1"/>
<line x1="49.0" y1="125.01" x2="52.00" y2="125.01" stroke="#4e4e4e" stroke-width="1"/>
<text x="33.86" y="128.00" font-size="8.3">2.5</text>
<line x1="49.0" y1="119.49" x2="50.70" y2="119.49" stroke="#4e4e4e" stroke-width="1"/>
<line x1="49.0" y1="113.96" x2="52.00" y2="113.96" stroke="#4e4e4e" stroke-width="1"/>
<text x="33.86" y="116.95" font-size="8.3">3.0</text>
<line x1="49.0" y1="108.43" x2="50.70" y2="108.43" stroke="#4e4e4e" stroke-width="1"/>
<line x1="49.0" y1="102.90" x2="52.00" y2="102.90" stroke="#4e4e4e" stroke-width="1"/>
<text x="33.86" y="105.89" font-size="8.3">3.5</text>
<line x1="49.0" y1="97.37" x2="50.70" y2="97.37" stroke="#4e4e4e" stroke-width="1"/>
<line x1="49.0" y1="91.84" x2="52.00" y2="91.84" stroke="#4e4e4e" stroke-width="1"/>
<text x="33.86" y="94.83" font-size="8.3">4.0</text>
<line x1="49.0" y1="86.31" x2="50.70" y2="86.31" stroke="#4e4e4e" stroke-width="1"/>
<line x1="49.0" y1="80.79" x2="52.00" y2="80.79" stroke="#4e4e4e" stroke-width="1"/>
<text x="33.86" y="83.77" font-size="8.3">4.5</text>
<line x1="49.0" y1="75.26" x2="50.70" y2="75.26" stroke="#4e4e4e" stroke-width="1"/>
<line x1="49.0" y1="69.73" x2="52.00" y2="69.73" stroke="#4e4e4e" stroke-width="1"/>
<text x="33.86" y="72.72" font-size="8.3">5.0</text>
<line x1="49.0" y1="64.20" x2="50.70" y2="64.20" stroke="#4e4e4e" stroke-width="1"/>
<line x1="49.0" y1="58.67" x2="52.00" y2="58.67" stroke="#4e4e4e" stroke-width="1"/>
<text x="33.86" y="61.66" font-size="8.3">5.5</text>
<line x1="49.0" y1="53.14" x2="50.70" y2="53.14" stroke="#4e4e4e" stroke-width="1"/>
<line x1="49.0" y1="47.61" x2="52.00" y2="47.61" stroke="#4e4e4e" stroke-width="1"/>
<text x="33.86" y="50.60" font-size="8.3">6.0</text>
<line x1="49.0" y1="42.09" x2="50.70" y2="42.09" stroke="#4e4e4e" stroke-width="1"/>
<line x1="49.0" y1="36.56" x2="52.00" y2="36.56" stroke="#4e4e4e" stroke-width="1"/>
<text x="33.86" y="39.55" font-size="8.3">6.5</text>
<line x1="49.0" y1="31.03" x2="50.70" y2="31.03" stroke="#4e4e4e" stroke-width="1"/>
<line x1="49.0" y1="25.50" x2="52.00" y2="25.50" stroke="#4e4e4e" stroke-width="1"/>
<text x="33.86" y="28.49" font-size="8.3">7.0</text>
<line x1="49.00" y1="180.3" x2="49.00" y2="177.30" stroke="#4e4e4e" stroke-width="1"/>
<text x="46.69" y="190.60" font-size="8.3">0</text>
<line x1="64.32" y1="180.3" x2="64.32" y2="178.60" stroke="#4e4e4e" stroke-width="1"/>
<line x1="79.64" y1="180.3" x2="79.64" y2="177.30" stroke="#4e4e4e" stroke-width="1"/>
<text x="75.03" y="190.60" font-size="8.3">50</text>
<line x1="94.96" y1="180.3" x2="94.96" y2="178.60" stroke="#4e4e4e" stroke-width="1"/>
<line x1="110.29" y1="180.3" x2="110.29" y2="177.30" stroke="#4e4e4e" stroke-width="1"/>
<text x="103.36" y="190.60" font-size="8.3"> 00</text>
<path transform="translate(103.36,190.60) scale(0.00405,-0.00405)" d="M515 0V1237L197 1010V1180L530 1409H696V0Z" fill="#111"/>
<line x1="125.61" y1="180.3" x2="125.61" y2="178.60" stroke="#4e4e4e" stroke-width="1"/>
<line x1="140.93" y1="180.3" x2="140.93" y2="177.30" stroke="#4e4e4e" stroke-width="1"/>
<text x="134.00" y="190.60" font-size="8.3"> 50</text>
<path transform="translate(134.00,190.60) scale(0.00405,-0.00405)" d="M515 0V1237L197 1010V1180L530 1409H696V0Z" fill="#111"/>
<line x1="156.25" y1="180.3" x2="156.25" y2="178.60" stroke="#4e4e4e" stroke-width="1"/>
<line x1="171.57" y1="180.3" x2="171.57" y2="177.30" stroke="#4e4e4e" stroke-width="1"/>
<text x="164.65" y="190.60" font-size="8.3">200</text>
<line x1="186.89" y1="180.3" x2="186.89" y2="178.60" stroke="#4e4e4e" stroke-width="1"/>
<line x1="202.21" y1="180.3" x2="202.21" y2="177.30" stroke="#4e4e4e" stroke-width="1"/>
<text x="195.29" y="190.60" font-size="8.3">250</text>
<line x1="217.54" y1="180.3" x2="217.54" y2="178.60" stroke="#4e4e4e" stroke-width="1"/>
<line x1="232.86" y1="180.3" x2="232.86" y2="177.30" stroke="#4e4e4e" stroke-width="1"/>
<text x="225.93" y="190.60" font-size="8.3">300</text>
<line x1="248.18" y1="180.3" x2="248.18" y2="178.60" stroke="#4e4e4e" stroke-width="1"/>
<line x1="263.50" y1="180.3" x2="263.50" y2="177.30" stroke="#4e4e4e" stroke-width="1"/>
<text x="256.58" y="190.60" font-size="8.3">350</text>
<line x1="324.4" y1="167.50" x2="538.6" y2="167.50" stroke="#dcdcdc" stroke-width="1"/>
<line x1="324.4" y1="154.50" x2="538.6" y2="154.50" stroke="#dcdcdc" stroke-width="1"/>
<line x1="324.4" y1="141.50" x2="538.6" y2="141.50" stroke="#dcdcdc" stroke-width="1"/>
<line x1="324.4" y1="128.50" x2="538.6" y2="128.50" stroke="#dcdcdc" stroke-width="1"/>
<line x1="324.4" y1="115.50" x2="538.6" y2="115.50" stroke="#dcdcdc" stroke-width="1"/>
<line x1="324.4" y1="102.50" x2="538.6" y2="102.50" stroke="#dcdcdc" stroke-width="1"/>
<line x1="324.4" y1="90.50" x2="538.6" y2="90.50" stroke="#dcdcdc" stroke-width="1"/>
<line x1="324.4" y1="77.50" x2="538.6" y2="77.50" stroke="#dcdcdc" stroke-width="1"/>
<line x1="324.4" y1="64.50" x2="538.6" y2="64.50" stroke="#dcdcdc" stroke-width="1"/>
<line x1="324.4" y1="51.50" x2="538.6" y2="51.50" stroke="#dcdcdc" stroke-width="1"/>
<line x1="324.4" y1="38.50" x2="538.6" y2="38.50" stroke="#dcdcdc" stroke-width="1"/>
<line x1="355.50" y1="25.5" x2="355.50" y2="180.3" stroke="#dcdcdc" stroke-width="1"/>
<line x1="385.50" y1="25.5" x2="385.50" y2="180.3" stroke="#dcdcdc" stroke-width="1"/>
<line x1="416.50" y1="25.5" x2="416.50" y2="180.3" stroke="#dcdcdc" stroke-width="1"/>
<line x1="446.50" y1="25.5" x2="446.50" y2="180.3" stroke="#dcdcdc" stroke-width="1"/>
<line x1="477.50" y1="25.5" x2="477.50" y2="180.3" stroke="#dcdcdc" stroke-width="1"/>
<line x1="508.50" y1="25.5" x2="508.50" y2="180.3" stroke="#dcdcdc" stroke-width="1"/>
<g fill="none" stroke-width="0.55" stroke-opacity="0.75">
<path d="M324.4 180.3l.9 0 .9 0 1-0 .9 0 .9 0 .9 0 .9-.1 .9 0 1 .1 .9-0 .3-0 .6-3.2 .9-3.9 .9-3 1-2.6 .9-1.5 .9-1.5 .9-1.4 .9-.4 .9-1.3 1-.2 .3-.2 .6 .4 .9 1.2 .9 .9 .9 1 .9 .6 1 .8 .9 .9 .9 .5 .9 .6 .9 .7 1 .8 .9 .3 .9 .5 .9 .7 .9 .6 .9 .4 1 .3 .9 .3 .9 .4 .9 .5 .9 .4 1 .2 .9 .4 .9 .4 .9 .3 .9 .1 .9 .4 1 .1 .9 .2 .9 .3 .9 .2 .9 .2 1 .2 .9 .1 .9 .2 .9 .2 .9 .1 .9 .2 1 .1 .9 .1 .9 .2 .9 .1 .9 .1 1 .2 .9 0 .6 0 .3-1.6 .9-4.3 .9-3.2 .9-2.4 1-2.3 .9-1.1 .9-1.4 .9-.8 .9-1 .9-.1 .4-.4 .6 .6 .9 .9 .9 .8 .9 1.5 .9 .5 1 1 .9 .4 .9 .6 .9 1 .9 .5 .9 .5 1 .7 .9 .6 .9 .7 .9 .4 .9 .3 1 .7 .9 .3 .9 .4 .9 .4 .9 .3 .9 .5 1 .1 .9 .5 .9 .2 .9 .4 .9 .2 1 .3 .9 .1 .9 .4 .9 .2 .9 .1 .9 .3 1 .2 .9 .2 .9 .2 .9 .1 .9 .2 1 .1 .9 .2 .9 .1 .9 .1 .9 .2 .9 .1 .7 0 .3-1.3 .9-4.6 .9-3.1 .9-2.8 .9-2.1 .9-1.8 1-1 .9-.9 .9-1 .9-.1 .6-.7 .3-0 1 1.1 .9 .4 .9 .9 .9 .5 .9 .6 .9 .5 1 .6 .9 .8 .9 .2 .9 .7 .9 .7 1 .2 .9 .8 .9 .1 .9 .6 .9 .6 .9 .5 1 .4 .9 .4 .9 .3 .9 .2 .9 .5 1 .4 .9 .2 .9 .4 .9 .4 .9 .4 .9-0 1 .4 .9 .1 .9 .2 .9 .4 .9 .2 1 .4 .9 .2 .9 .2 .9 .2 .9 .1 .9 .3 1 .1 .9 .3 .9 .1 .9 .1 .3 .3 .6-2.6 .9-2.9 1-2.5 .9-1.9 .9-1.5 .9-1 .9-.8 1-1.8 .9-.4 .9-.2 .9-.1 .6-.8 .3 0 .9 1 1 1.2 .9 .3 .9 .5 .9 .7 .9 .3 1 1 .9 .5 .9 .9 .9-.2 .9 .6 .9 .7 1 .6 .9 .1 .9 .7 .9 .4 .9 .5 1 .3 .9 .4 .9 .3 .9 .1 .9 .4 .9 .4 1 .4 .9 .3 .9 .4 .9 .1 .9 .4 1 .2 .9 .2 .9 .4 .9 .2 .9 .1 .9 .4 1 .2 .9 .2 .9 .2 .9 .1 .9 .4 1 0 .9 .1 .6 .1" stroke="#500080"/>
<path d="M324.4 180.3l.9 0 .9 0 1 0 .9 0 .9 0 .9-0 .9 0 .9-0 1-.1 .9 .1 .3-0 .6-2.6 .9-3.1 .9-2.4 1-2.1 .9-1.4 .9-1 .9-.8 .9-.8 .9-.7 1-.4 .3 .1 .6 .4 .9 .7 .9 .7 .9 .6 .9 .8 1 .5 .9 .4 .9 .6 .9 .5 .9 .2 1 .8 .9 .3 .9 .5 .9 .4 .9 .3 .9 .3 1 .4 .9 .3 .9 .2 .9 .5 .9 .3 1 .2 .9 .3 .9 .3 .9 .2 .9 .2 .9 .2 1 .2 .9 .1 .9 .2 .9 .2 .9 .1 1 .2 .9 .2 .9 .1 .9 .2 .9 .1 .9 .1 1 .1 .9 .1 .9 .1 .9 .1 .9 .1 1 .1 .9 0 .6 .2 .3-1.4 .9-3.2 .9-2.7 .9-1.6 1-1.5 .9-1.6 .9-.9 .9-.7 .9-.3 .9-.6 .4 .1 .6 .6 .9 .5 .9 .7 .9 .8 .9 .5 1 .5 .9 .4 .9 .5 .9 .4 .9 .5 .9 .7 1 .3 .9 .4 .9 .4 .9 .5 .9 .6 1 0 .9 .5 .9 .1 .9 .5 .9 .1 .9 .4 1 .3 .9 .2 .9 .2 .9 .2 .9 .2 1 .2 .9 .3 .9 .2 .9 .2 .9 .2 .9 .2 1 .2 .9 .1 .9 .1 .9 .1 .9 .1 1 .2 .9 .1 .9 .2 .9 .1 .9 .1 .9 0 .7 .1 .3-1.1 .9-3.8 .9-2.9 .9-2.4 .9-1.8 .9-1.2 1-1.1 .9-.9 .9-.3 .9-1 .6-.2 .3 .9 1 .1 .9 .3 .9 1 .9-0 .9 .4 .9 .5 1 .4 .9 .7 .9 .2 .9 .5 .9 .5 1 .4 .9 .7 .9 .3 .9 0 .9 .4 .9 .6 1 .4 .9 .4 .9-.1 .9 .4 .9 .1 1 .4 .9 .2 .9 .4 .9 .4 .9 .2 .9 .1 1 .5 .9 0 .9 .4 .9 0 .9 .4 1 .2 .9 .1 .9 .5 .9-.1 .9 .2 .9 .2 1 .1 .9 .3 .9 .1 .9 .2 .3-0 .6-1.6 .9-2.1 1-2 .9-1.2 .9-1 .9-.7 .9-.8 1-.7 .9-.1 .9-.6 .9-.3 .6 .2 .3-.2 .9 .3 1 .9 .9 .4 .9 .5 .9 .6 .9 .6 1 .2 .9 .5 .9 .4 .9 .2 .9 .5 .9 .5 1 .4 .9 0 .9 .5 .9 .6 .9 .1 1 .4 .9 .3 .9 .1 .9 .3 .9 .4 .9 .2 1 .2 .9 .3 .9 .2 .9 .3 .9 .1 1 .2 .9 .3 .9 .3 .9 .1 .9 .1 .9 .2 1 .2 .9 .1 .9 .3 .9 .1 .9 .1 1 .2 .9 .1 .6 .1" stroke="#800020"/>
<path d="M324.4 180.3l.9 0 .9-0 1-0 .9-0 .9-.1 .9 .1 .9 0 .9 0 1-.1 .9 .1 .3 0 .6-3.4 .9-4.1 .9-3.6 1-2.4 .9-1.8 .9-1.3 .9-2 .9-.5 .9-.2 1-.9 .3-.3 .6 .6 .9 1.2 .9 .4 .9 1 .9 .9 1 .9 .9 .9 .9 .4 .9 .7 .9 .7 1 .4 .9 .5 .9 .8 .9 .5 .9 .4 .9 .3 1 .5 .9 .7 .9 .3 .9 .1 .9 .7 1 .2 .9 .4 .9 .3 .9 .4 .9 .3 .9 .2 1 .3 .9 .3 .9 .1 .9 .4 .9 .1 1 .3 .9 .2 .9 .1 .9 .2 .9 .2 .9 .2 1 .2 .9 .1 .9 .2 .9 .1 .9 .1 1 .2 .9 .1 .6-0 .3-1.8 .9-4.9 .9-3.6 .9-3.1 1-1.7 .9-2 .9-1.3 .9-1 .9-.7 .9-1.3 .4 .4 .6 .8 .9 1.4 .9 1 .9 .9 .9 1 1 .6 .9 1.1 .9 .8 .9 .7 .9 .9 .9 .7 1 .6 .9 .5 .9 .7 .9 .7 .9 .2 1 .7 .9 .5 .9 .3 .9 .7 .9 .3 .9 .5 1 .3 .9 .6 .9 .3 .9 .2 .9 .3 1 .2 .9 .4 .9 .3 .9 .3 .9 .3 .9 .1 1 .2 .9 .2 .9 .2 .9 .3 .9 .2 1 .1 .9 .2 .9 0 .9 .2 .9 .2 .9 .2 .7 .1 .3-1.5 .9-4.3 .9-3.7 .9-2.8 .9-2.5 .9-1 1-1.8 .9-.8 .9-1 .9-.2 .6-.7 .3 .2 1 .5 .9 1.7 .9 .6 .9 .8 .9 .8 .9 .6 1 .7 .9 .7 .9 .9 .9 .3 .9 .8 1 .4 .9 .3 .9 .9 .9 .3 .9 .5 .9 .4 1 .5 .9 .4 .9 .3 .9 .6 .9 .3 1 .3 .9 .5 .9 .3 .9 .2 .9 .3 .9 .3 1 .3 .9 .4 .9 .1 .9 .2 .9 .3 1 .3 .9 .2 .9 .3 .9 .2 .9 .1 .9 .2 1 .2 .9 .2 .9 .1 .9 .3 .3-.1 .6-2.9 .9-3.8 1-2.7 .9-2.9 .9-1.8 .9-.9 .9-1.9 1-.7 .9-1 .9-.4 .9-.5 .6 .1 .3-0 .9 .7 1 1.2 .9 .6 .9 .6 .9 .6 .9 .9 1 .3 .9 1 .9 .4 .9 .5 .9 1 .9 .2 1 .8 .9 .6 .9 .1 .9 .5 .9 .8 1 .2 .9 .5 .9 .6 .9 .1 .9 .7 .9 .4 1 .3 .9 .4 .9 .3 .9 .3 .9 .5 1 .1 .9 .4 .9 .1 .9 .3 .9 .4 .9 .2 1 .3 .9 .2 .9 .1 .9 .3 .9 .3 1 0 .9 .3 .6 .2" stroke="#3020a0"/>
<path d="M324.4 180.3l.9 0 .9-0 1 0 .9 0 .9 0 .9-.1 .9 .1 .9-0 1-0 .9 0 .3-0 .6-3.7 .9-4.4 .9-3.3 1-2.9 .9-2.1 .9-1.5 .9-1.3 .9-1.3 .9-.5 1-.5 .3-.5 .6 .4 .9 1.5 .9 1 .9 .3 .9 1.6 1 .5 .9 .4 .9 1.1 .9 .8 .9 .5 1 .6 .9 .8 .9 .5 .9 .6 .9 .4 .9 .5 1 .6 .9 .4 .9 .4 .9 .4 .9 .5 1 .4 .9 .3 .9 .2 .9 .4 .9 .3 .9 .5 1 .1 .9 .4 .9 .2 .9 .3 .9 .2 1 .4 .9 0 .9 .4 .9-0 .9 .3 .9 .2 1 .2 .9 .1 .9 .1 .9 .2 .9 .1 1 .2 .9 0 .6 .2 .3-1.7 .9-4.5 .9-3.3 .9-2.7 1-1.7 .9-1.6 .9-1.7 .9-.6 .9-1 .9-.6 .4-.2 .6 .7 .9 .8 .9 1.2 .9 .9 .9 .6 1 1.2 .9 .7 .9 .8 .9 .6 .9 .3 .9 .6 1 .9 .9 .7 .9 .5 .9 .4 .9 .3 1 .7 .9 .3 .9 .5 .9 .6 .9 .2 .9 .3 1 .5 .9 .4 .9 .2 .9 .4 .9 .3 1 .3 .9 .2 .9 .4 .9 .2 .9 .3 .9 .2 1 .2 .9 .2 .9 .2 .9 .2 .9 .1 1 .2 .9 .2 .9 .2 .9 .2 .9 .1 .9 .1 .7 .1 .3-1.2 .9-4.2 .9-3.5 .9-2.6 .9-1.5 .9-1.5 1-1.1 .9-1.5 .9-.5 .9-.5 .6-.1 .3-.1 1 1.1 .9 .4 .9 1.1 .9 .6 .9 .7 .9 .8 1 .7 .9 .3 .9 .7 .9 1 .9 .1 1 1 .9 .2 .9 .5 .9 .6 .9 .6 .9 .4 1 .2 .9 .6 .9 .3 .9 .3 .9 .5 1 .3 .9 .4 .9 .2 .9 .2 .9 .4 .9 .3 1 .1 .9 .3 .9 .3 .9 .2 .9 .3 1 .2 .9 .2 .9 .2 .9 .2 .9 .2 .9 .3 1 .1 .9 .1 .9 .1 .9 .3 .3 0 .6-2.9 .9-3.4 1-2.9 .9-2.5 .9-1.7 .9-1.4 .9-1.4 1-.2 .9-1 .9-1.6 .9 .1 .6-.5 .3 .9 .9-0 1 1.5 .9 .2 .9 .7 .9 .9 .9 .2 1 1.4 .9-.3 .9 .7 .9 .7 .9 .6 .9 .5 1 .4 .9 .5 .9 .2 .9 .7 .9 .3 1 .6 .9-.2 .9 .6 .9 .8 .9-.1 .9 .1 1 .6 .9 .3 .9 .4 .9 .1 .9 .3 1 .5 .9 .5 .9 .1 .9 .4 .9 .2 .9 0 1 .4 .9 .2 .9 .2 .9 .2 .9 .3 1 0 .9 .4 .6 0" stroke="#800020"/>
<path d="M324.4 180.3l.9 0 .9-0 1-0 .9 0 .9 0 .9 0 .9-0 .9 0 1 0 .9 0 .3-0 .6-3.5 .9-4 .9-3.3 1-2.5 .9-2 .9-1.7 .9-.9 .9-.6 .9-.8 1-1 .3-.3 .6 .8 .9 .7 .9 1.3 .9 1.1 .9 .6 1 .8 .9 .6 .9 .7 .9 .9 .9 .3 1 .9 .9 .4 .9 .5 .9 .5 .9 .6 .9 .5 1 .4 .9 .4 .9 .5 .9 .5 .9 .4 1 .2 .9 .4 .9 .2 .9 .4 .9 .2 .9 .3 1 .2 .9 .3 .9 .3 .9 .1 .9 .2 1 .3 .9 .1 .9 .3 .9 .1 .9 .3 .9 .1 1 .1 .9 .2 .9 .1 .9 .1 .9 .2 1 .1 .9 0 .6 .2 .3-1.7 .9-4.1 .9-3.3 .9-2.2 1-1.7 .9-1.5 .9-1.3 .9-1 .9-.8 .9-.2 .4-.1 .6 .2 .9 .9 .9 1.3 .9 .5 .9 1 1 .8 .9 .6 .9 .8 .9 .8 .9 .6 .9 .5 1 .4 .9 .5 .9 .5 .9 .7 .9 .4 1 .6 .9 .3 .9 .2 .9 .5 .9 .2 .9 .5 1 .4 .9 .4 .9 .4 .9 0 .9 .3 1 .1 .9 .4 .9 .3 .9 .3 .9 .3 .9 .1 1 .2 .9 .3 .9 0 .9 .2 .9 .3 1 .1 .9 .2 .9 0 .9 .2 .9 .2 .9 .1 .7 .1 .3-1.2 .9-4.3 .9-3.1 .9-2.2 .9-1.9 .9-1.6 1-1.2 .9-.6 .9-1.3 .9-.4 .6-.6 .3 1.4 1 .4 .9 .1 .9 .8 .9 .7 .9 .8 .9 .2 1 .8 .9 .2 .9 .6 .9 .5 .9 .9 1 .2 .9 .2 .9 .4 .9 .5 .9 .5 .9 .6 1 .1 .9 .3 .9 .6 .9 .3 .9 .4 1 .3 .9 .4 .9 .2 .9 .3 .9 .4 .9 .2 1 .2 .9 .3 .9 .1 .9 .3 .9 .2 1 .3 .9 .1 .9 .4 .9 .1 .9 .1 .9 .3 1 .2 .9 .1 .9 .1 .9 .2 .3 0 .6-2.4 .9-3.1 1-2.2 .9-1.8 .9-1.8 .9-.7 .9-1.5 1-.7 .9-1 .9-.3 .9-.6 .6 0 .3 .1 .9 .4 1 1.4 .9 .9 .9 .1 .9 .8 .9 .8 1 .7 .9 .5 .9 .7 .9 .4 .9 .7 .9 .6 1 .3 .9 .7 .9 .3 .9 .7 .9 .3 1 .3 .9 .5 .9 .2 .9 .5 .9 .3 .9 .6 1 0 .9 .4 .9 .5 .9 .1 .9 .2 1 .4 .9 .2 .9 .3 .9 .1 .9 .3 .9 .2 1 .1 .9 .3 .9 .2 .9 .2 .9 .1 1 .1 .9 .3 .6-0" stroke="#200070"/>
<path d="M324.4 180.3l.9 0 .9 0 1 0 .9-.1 .9 .1 .9 0 .9-.1 .9 .1 1-.1 .9 .1 .3-.1 .6-4.3 .9-5 .9-4.4 1-2.1 .9-3.1 .9 .4 .9-3.3 .9-.5 .9-0 1-3 .3 .4 .6 .4 .9 2.9 .9-.4 .9-.4 .9 2.2 1 2.5 .9-.6 .9 1.3 .9 1.3 .9 .9 1 .2 .9 2 .9-1.1 .9 .8 .9 .8 .9 .5 1 .3 .9 1.7 .9-.2 .9 .4 .9 .4 1 .8 .9 .3 .9 .1 .9 .5 .9-0 .9 1.3 1-.2 .9 .4 .9 .2 .9 .3 .9 .4 1 .1 .9 .5 .9 .2 .9 .2 .9-0 .9 .1 1 .1 .9 .5 .9 .1 .9-.1 .9 .3 1 0 .9 .1 .6 .4 .3-3.1 .9-8.2 .9-5.5 .9-5.3 1-3.4 .9-5.4 .9 0 .9-.8 .9-2.1 .9-1.4 .4 3.2 .6-.5 .9-4.8 .9 5 .9-.6 .9 4.4 1 10.7 .9-20.3 .9 16.9 .9-2.2 .9-6.3 .9 3.8 1 6.8 .9 11.7 .9-10.3 .9-5.1 .9 5.6 1-1.1 .9 2.5 .9 1.4 .9 .4 .9 .8 .9 1.3 1-.2 .9 .4 .9 .7 .9 1 .9 .1 1 .9 .9 .3 .9 1.1 .9-.7 .9 .9 .9 1.3 1-.6 .9 .1 .9-.4 .9 1.6 .9-.4 1 1.1 .9-.3 .9 .4 .9 .5 .9 .5 .9 .2 .7-.3 .3-1.5 .9-3.8 .9-3.3 .9-2.3 .9-2.6 .9-1.1 1-2.6 .9-.8 .9-.4 .9 .9 .6 .1 .3-.6 1-.9 .9 1.4 .9 1.6 .9-.1 .9 1 .9 2 1-1.2 .9 1 .9 2.3 .9 0 .9-.1 1 0 .9 .8 .9 2 .9 .2 .9-.5 .9 1.6 1-0 .9 .7 .9 0 .9 1.4 .9 .3 1 .2 .9-.8 .9 .4 .9 .4 .9 1.3 .9 .4 1-.1 .9 .5 .9 .6 .9-.3 .9 .8 1-.4 .9 .5 .9 .5 .9 .5 .9-.2 .9 .3 1 0 .9 .4 .9 .2 .9 .5 .3-.1 .6-4.9 .9-6.3 1-4.2 .9-2.6 .9-3.3 .9-3.1 .9-3.3 1-.4 .9-.2 .9-2.4 .9-.7 .6-2.8 .3 2.5 .9 2 1 .5 .9 .5 .9 4.1 .9-.8 .9 1.8 1 .5 .9 .6 .9-.9 .9 1.6 .9 1.3 .9 2.2 1-.5 .9 .6 .9 2.6 .9 .8 .9-1.8 1 1 .9 1.4 .9-.1 .9 .8 .9-.4 .9 4.1 1-1.6 .9 .1 .9 1 .9 1.1 .9 .9 1-1 .9 .1 .9 2.5 .9-0 .9-.4 .9 .3 1 1 .9 .7 .9-.7 .9 .3 .9 1.6 1-.4 .9 .1 .6 .4" stroke="#e0a060"/>
<path d="M397.8 157.7l2.5-9.6 .3 16.1 .4-22.6 .5 19.4 1.2-5.2 1.3 8.4" stroke="#202020"/>
<path d="M351.9 141.6l2.5-3.2 .4 41.9" stroke="#a09070"/>
<path d="M324.4 180.3l.9 0 .9-.1 1 0 .9 .1 .9 0 .9 0 .9-.1 .9 .1 1 0 .9 0 .3-0 .6-2.6 .9-3 .9-2.7 1-1.8 .9-1.3 .9-1.4 .9-1 .9-.7 .9-.4 1-.6 .3 .1 .6 .6 .9 .6 .9 1.1 .9 .9 .9 .8 1 .5 .9 .8 .9 .5 .9 .6 .9 .4 1 .6 .9 .4 .9 .4 .9 .4 .9 .4 .9 .3 1 .5 .9 .4 .9 .2 .9 .3 .9 .3 1 .2 .9 .2 .9 .3 .9 .2 .9 .2 .9 .3 1 0 .9 .3 .9 .2 .9 0 .9 .2 1 .2 .9 0 .9 .1 .9 .3 .9-0 .9 .1 1 0 .9 .2 .9 0 .9 .1 .9 .1 1 0 .9 .1 .6 .1 .3-1.3 .9-3.4 .9-2.3 .9-2.1 1-1.5 .9-1.4 .9-.6 .9-.8 .9-.6 .9-.5 .4-.1 .6 .8 .9 .7 .9 .8 .9 .2 .9 .9 1 .5 .9 .6 .9 .7 .9 .6 .9 .4 .9 .1 1 .7 .9 .3 .9 .6 .9 0 .9 .6 1 .5 .9 .2 .9 .3 .9 .2 .9 .4 .9 .2 1 .3 .9 .3 .9 .2 .9 .2 .9 .2 1 .2 .9 .2 .9 .1 .9 .2 .9 .2 .9 .2 1 .1 .9 .2 .9 .1 .9 .1 .9 .2 1 .1 .9 .1 .9 .1 .9 .2 .9-.1 .9 .2 .7 0 .3-1 .9-3.7 .9-2.4 .9-2.4 .9-1.5 .9-.8 1-1.2 .9-.9 .9-.5 .9-.7 .6-.3 .3 0 1 .9 .9 .2 .9 .7 .9 .3 .9 .5 .9 .5 1 .4 .9 .3 .9 .5 .9 .5 .9 .5 1-.1 .9 .4 .9 .5 .9 .2 .9 .4 .9 .3 1 .4 .9 .1 .9 .2 .9 .5 .9 .3 1 .1 .9 .3 .9 .2 .9 .5 .9 0 .9 .3 1 .2 .9 .2 .9 .2 .9 .2 .9 .2 1 .2 .9 0 .9 .3 .9 .2 .9 .1 .9 .3 1 .1 .9 .2 .9 .1 .9 .2 .3-.1 .6-1.7 .9-2 1-2 .9-1.2 .9-1 .9-1.2 .9-.7 1-.4 .9-.8 .9-.3 .9-.2 .6-.4 .3 .3 .9 .4 1 .6 .9 .5 .9 1 .9 .1 .9 0 1 .8 .9 .4 .9 .4 .9 .6 .9 0 .9 .2 1 .4 .9 .6 .9 .4 .9 .3 .9 .2 1 .3 .9 .2 .9 .3 .9 .5 .9 .2 .9 .1 1 .2 .9 .3 .9 .1 .9 .4 .9 .2 1 .2 .9 .2 .9 .4 .9-0 .9 .2 .9 .2 1 .2 .9 0 .9 .3 .9 .1 .9 .1 1 .3 .9-.1 .6 .3" stroke="#600090"/>
<path d="M324.4 180.3l.9 0 .9 0 1 0 .9-0 .9-.1 .9 .1 .9-.1 .9 .1 1 0 .9-0 .3 0 .6-3.6 .9-4.2 .9-3.6 1-2.7 .9-1.7 .9-1.5 .9-1.6 .9-.6 .9-.9 1-.8 .3 .1 .6 .5 .9 .7 .9 1.3 .9 .8 .9 1.2 1 1.2 .9 .2 .9 .8 .9 .6 .9 .7 1 .8 .9 .6 .9 .5 .9 .6 .9 .6 .9 .3 1 .5 .9 .4 .9 .5 .9 .4 .9 .4 1 .4 .9 .2 .9 .3 .9 .4 .9 .3 .9 .4 1 .3 .9 .2 .9 .2 .9 .2 .9 .3 1 .2 .9 .1 .9 .3 .9 .1 .9 .2 .9 .1 1 .2 .9 .1 .9 .2 .9 .2 .9 .1 1 .1 .9 .2 .6 0 .3-1.9 .9-4.9 .9-3.8 .9-3 1-2.6 .9-1.1 .9-1.4 .9-.9 .9-1.4 .9-.6 .4 .5 .6 .1 .9 1.4 .9 .5 .9 .9 .9 .8 1 1.2 .9 .3 .9 .8 .9 .5 .9 .9 .9 .6 1 .8 .9 .3 .9 .6 .9 .5 .9 .5 1 .7 .9 .6 .9 .3 .9 .3 .9 .4 .9 .7 1 .1 .9 .4 .9 .4 .9 .6 .9 .1 1 .3 .9 .2 .9 .5 .9 .3 .9 .2 .9 .2 1 .3 .9 .3 .9 .3 .9 .1 .9 .2 1 .2 .9 .3 .9 .2 .9 .1 .9 .2 .9 .2 .7 0 .3-1.2 .9-4.7 .9-3.5 .9-2.9 .9-2 .9-1.9 1-.8 .9-1.2 .9-.7 .9-1.1 .6-.4 .3 .7 1 .7 .9 1.2 .9 .9 .9 .4 .9 1.1 .9 .4 1 .6 .9 1.4 .9 .3 .9 .8 .9 .5 1 1.1 .9 .1 .9 .7 .9 .4 .9 .5 .9 .4 1 .6 .9 .4 .9 .5 .9 .6 .9 .3 1 .3 .9 .4 .9 .3 .9 .3 .9 .3 .9 .2 1 .6 .9 .2 .9 .2 .9 .4 .9 .1 1 .5 .9 0 .9 .3 .9 .3 .9 .1 .9 .1 1 .3 .9 .1 .9 .2 .9 .3 .3 0 .6-3.2 .9-4.2 1-3.3 .9-2.3 .9-1.9 .9-2.2 .9-.5 1-1.4 .9-1 .9-.8 .9-.2 .6-.5 .3 .1 .9 1.2 1 1.2 .9 .5 .9 1 .9 1.1 .9 .8 1 .2 .9 1.2 .9 .5 .9 .9 .9 .6 .9 .6 1 .7 .9 .4 .9 .5 .9 .6 .9 .7 1 .6 .9 .6 .9 .1 .9 .6 .9 .5 .9 .4 1 .2 .9 .5 .9 .3 .9 .4 .9 .2 1 .4 .9 .6 .9-.1 .9 .6 .9 0 .9 .4 1 .3 .9 .2 .9 .3 .9 .1 .9 .3 1 .3 .9 .2 .6-0" stroke="#800060"/>
<path d="M324.4 180.3l.9 0 .9-.1 1 .1 .9 0 .9 0 .9 0 .9-0 .9-0 1-0 .9 0 .3 0 .6-2.6 .9-3.2 .9-2.5 1-1.9 .9-1.5 .9-.9 .9-1.2 .9-1 .9-.6 1-.1 .3-.2 .6 .3 .9 1.4 .9 .4 .9 1.1 .9 .3 1 .8 .9 .6 .9 .6 .9 .3 .9 1 1 .4 .9 .3 .9 .4 .9 .5 .9 .3 .9 .4 1 .4 .9 .3 .9 .4 .9 .2 .9 .3 1 .3 .9 .2 .9 .3 .9 .3 .9 .2 .9 .1 1 .2 .9 .2 .9 .2 .9 .2 .9 .1 1 .2 .9 .1 .9 .2 .9 0 .9 .1 .9 .3 1-0 .9 .1 .9 0 .9 .2 .9 0 1 .2 .9-0 .6-0 .3-1.4 .9-3.6 .9-2.9 .9-1.9 1-1.7 .9-1.3 .9-1.1 .9-.4 .9-.9 .9-.1 .4-.5 .6 .8 .9 1.1 .9 .6 .9 .5 .9 .9 1 .6 .9 .3 .9 1.1 .9 .5 .9 .6 .9 .4 1 .6 .9 .4 .9 .5 .9 .4 .9 .2 1 .3 .9 .6 .9 .3 .9 .5 .9 .2 .9 .2 1 .3 .9 .3 .9 .1 .9 .2 .9 .4 1 .3 .9 .1 .9 .2 .9 .2 .9 .2 .9 .1 1 .2 .9 .2 .9 0 .9 .2 .9 .1 1 .2 .9 .1 .9 .1 .9 0 .9 .1 .9 .2 .7 0 .3-1.2 .9-3.5 .9-3.1 .9-1.8 .9-1.7 .9-1.4 1-1.4 .9-.7 .9-.6 .9-.6 .6-0 .3-.3 1 .9 .9 .4 .9 .9 .9 .3 .9 .7 .9 .1 1 .9 .9 .1 .9 .3 .9 .5 .9 .3 1 .4 .9 .7 .9 .4 .9 .3 .9 .3 .9 .4 1 .3 .9 .1 .9 .5 .9 .3 .9 .1 1 .5 .9 .2 .9 .2 .9 .2 .9 .5 .9 .2 1 .2 .9 .2 .9 .1 .9 .3 .9 .1 1 .3 .9 .2 .9 .1 .9 .2 .9 .2 .9 .1 1 .2 .9 .2 .9 .1 .9 .2 .3-.1 .6-1.9 .9-2.8 1-1.8 .9-1.7 .9-1.6 .9-1.2 .9-.8 1-.3 .9-1.2 .9-.4 .9 0 .6-.7 .3 .7 .9 .6 1 .9 .9 .7 .9 .7 .9 .4 .9 .5 1 .7 .9 .4 .9 .5 .9 .4 .9 .6 .9 .6 1 .4 .9 .5 .9 .5 .9 .4 .9 .1 1 .6 .9 .2 .9 .3 .9 .4 .9 .4 .9 .2 1 .2 .9 .5 .9 .2 .9 .2 .9 .2 1 .2 .9 .3 .9 .2 .9 .2 .9 .3 .9 .1 1 .2 .9 .1 .9 .2 .9 .2 .9 .1 1 .2 .9 .1 .6 .1" stroke="#b02060"/>
<path d="M324.4 180.3l.9-0 .9-0 1 0 .9-.1 .9 .1 .9 0 .9-.1 .9 .1 1-0 .9 0 .3 0 .6-2.9 .9-3.5 .9-2.6 1-2.3 .9-1.5 .9-1.1 .9-1.4 .9-.7 .9-.5 1-.4 .3-.4 .6 .8 .9 .9 .9 .5 .9 .8 .9 1 1 .3 .9 1.1 .9 .5 .9 .4 .9 .6 1 .4 .9 .6 .9 .8 .9 0 .9 .6 .9 .4 1 .4 .9 .4 .9 .2 .9 .4 .9 .3 1 .4 .9 .1 .9 .3 .9 .3 .9 .3 .9 .2 1 .2 .9 .2 .9 .2 .9 .2 .9 .2 1 .2 .9 .1 .9 .2 .9 .1 .9 .1 .9 .2 1 .1 .9 .2 .9 0 .9 .1 .9 .1 1 .2 .9 .1 .6 0 .3-1.6 .9-4 .9-3.3 .9-2.1 1-2.3 .9-1.2 .9-1.1 .9-.9 .9-.8 .9-.5 .4 .4 .6 .4 .9 .7 .9 .8 .9 .9 .9 1 1 .5 .9 .8 .9 .6 .9 .5 .9 .8 .9 .5 1 .4 .9 .6 .9 .8 .9 .4 .9 .6 1 .1 .9 .5 .9 .5 .9 .3 .9 .4 .9 .2 1 .5 .9 .1 .9 .4 .9 .3 .9 .2 1 .3 .9 .2 .9 .2 .9 .2 .9 .2 .9 .2 1 .3 .9 .1 .9 .2 .9 .2 .9 .1 1 .1 .9 .2 .9 .1 .9 .1 .9 .1 .9 .2 .7 .1 .3-1.3 .9-3.9 .9-2.9 .9-2.6 .9-1.4 .9-1.3 1-1.4 .9-.6 .9-.9 .9-.5 .6-.2 .3 .2 1 1 .9 1 .9 .1 .9 .7 .9 .6 .9 .9 1 .5 .9 .7 .9 .3 .9 .9 .9 .3 1 .6 .9 .3 .9 .6 .9 .6 .9 .2 .9 .5 1 .2 .9 .4 .9 .5 .9 .2 .9 .5 1 .2 .9 .3 .9 .2 .9 .3 .9 .2 .9 .4 1 .2 .9 .2 .9 .2 .9 .2 .9 .2 1 .1 .9 .2 .9 .2 .9 .2 .9 .3 .9 .1 1 .1 .9 .2 .9 .2 .9 .1 .3-.1 .6-2.4 .9-3.2 1-2.5 .9-2.1 .9-1.3 .9-1.6 .9-1.2 1-.7 .9-.7 .9-.5 .9-.6 .6 .2 .3 .4 .9 .4 1 .5 .9 .5 .9 .9 .9 .4 .9 .6 1 .4 .9 .8 .9 .3 .9 .5 .9 .6 .9 .5 1 .4 .9 .5 .9 .4 .9 .5 .9 .1 1 .4 .9 .5 .9 .3 .9 .3 .9 .2 .9 .4 1 .4 .9 .2 .9 .5 .9 .2 .9 .3 1 .1 .9 .3 .9 .3 .9 .2 .9 .3 .9 .2 1 .2 .9 .1 .9 .2 .9 .1 .9 .2 1 .2 .9 .3 .6 0" stroke="#500080"/>
<path d="M324.4 180.3l.9 0 .9-0 1-0 .9 0 .9 0 .9-0 .9-0 .9 0 1 0 .9-0 .3 0 .6-3.7 .9-4.5 .9-3.2 1-3.1 .9-1.7 .9-1.6 .9-1.3 .9-1.1 .9-.8 1-.5 .3 .1 .6 .7 .9 1.5 .9 1 .9 .9 .9 1 1 1.1 .9 .7 .9 1 .9 .7 .9 .8 1 .5 .9 .7 .9 .9 .9 .5 .9 .7 .9 .1 1 .9 .9 .3 .9 .5 .9 .3 .9 .4 1 .3 .9 .5 .9 .2 .9 .4 .9 .3 .9 .2 1 .3 .9 .1 .9 .3 .9 .2 .9 .3 1 .1 .9 .2 .9 .2 .9 .1 .9 .2 .9 .1 1 .1 .9 .1 .9 .2 .9 0 .9 .1 1 .1 .9 .1 .6 .1 .3-1.8 .9-4.7 .9-3.7 .9-3 1-2.3 .9-1.4 .9-1.2 .9-1.2 .9-.8 .9-.7 .4-.2 .6 .9 .9 1.4 .9 .4 .9 1.4 .9 .2 1 .2 .9 1 .9 .9 .9 .3 .9 1.3 .9 .4 1 .5 .9 .8 .9 .5 .9 .4 .9 .5 1 .6 .9 .4 .9 .3 .9 .6 .9 .4 .9 .3 1 .4 .9 .3 .9 .5 .9 .2 .9 .4 1 .3 .9 .1 .9 .4 .9 .2 .9 .2 .9 .2 1 .3 .9 .3 .9 .2 .9 .2 .9 .2 1 .1 .9 .2 .9 .3 .9 0 .9 .2 .9 .2 .7-0 .3-1.2 .9-4 .9-3 .9-2.4 .9-2 .9-1.3 1-1.1 .9-1.2 .9-.6 .9-.9 .6 .2 .3 .8 1 .8 .9 .3 .9 1.1 .9 .8 .9 .2 .9 1.2 1 .6 .9 .3 .9 .4 .9 .7 .9 .8 1 .3 .9 .7 .9 .3 .9 .9 .9 .2 .9 .3 1 .4 .9 .4 .9 .8 .9-.2 .9 .4 1 .2 .9 .6 .9 .2 .9 .3 .9 .4 .9 .2 1 .3 .9 .2 .9 .3 .9 .2 .9 .2 1 .2 .9 .2 .9 .2 .9 .2 .9 .1 .9 .3 1 .1 .9 .2 .9 .1 .9 .1 .3 .1 .6-3.1 .9-3.7 1-3.1 .9-2.8 .9-1.7 .9-1.2 .9-1.7 1-.9 .9-1.1 .9-.9 .9-0 .6-.5 .3 .2 .9 1.3 1 .5 .9 1.1 .9 .2 .9 .5 .9 .8 1 .6 .9 .9 .9 .5 .9 .2 .9 .7 .9 .7 1 .3 .9 .8 .9 .5 .9 .2 .9 .5 1 .4 .9 .1 .9 .7 .9 .5 .9 .1 .9 .7 1 .3 .9 .4 .9 .3 .9 0 .9 .8 1-0 .9 .6 .9 .3 .9 .1 .9 .3 .9 .2 1 .4 .9 0 .9 .4 .9 .1 .9 .1 1 .5 .9 .1 .6 .1" stroke="#500080"/>
<path d="M324.4 180.3l.9-.1 .9 .1 1 0 .9 0 .9 0 .9-0 .9-.1 .9 .1 1 0 .9-0 .3-0 .6-3.2 .9-3.9 .9-3.3 1-2.2 .9-2.1 .9-.8 .9-1.3 .9-1 .9-.4 1-.9 .3 .2 .6 .3 .9 1.3 .9 .7 .9 .6 .9 .7 1 1 .9 .7 .9 .4 .9 .8 .9 .4 1 .5 .9 .6 .9 .8 .9 .1 .9 .5 .9 .7 1 .4 .9 .2 .9 .5 .9 .3 .9 .3 1 .4 .9 .2 .9 .4 .9 .4 .9 .2 .9 .3 1 .2 .9 .4 .9 .1 .9 .3 .9 .2 1 .1 .9 .2 .9 .2 .9 .2 .9 .1 .9 .2 1 .1 .9 .1 .9 .2 .9 .1 .9 .1 1 .1 .9 .1 .6 .1 .3-1.3 .9-3.5 .9-2.7 .9-2 1-1.8 .9-1.2 .9-1 .9-.4 .9-.9 .9-.3 .4-0 .6 .5 .9 .7 .9 .6 .9 .6 .9 .6 1 .3 .9 .8 .9 .6 .9 .5 .9 .6 .9 .5 1 .3 .9 .7 .9 0 .9 .4 .9 .7 1 .1 .9 .4 .9 .3 .9 .4 .9 .2 .9 .6 1 .2 .9 .2 .9 .3 .9 .4 .9 .1 1 .2 .9 .3 .9 .2 .9 .1 .9 .4 .9 .1 1 .2 .9 .1 .9 .2 .9 .2 .9 .1 1 .1 .9 .2 .9 0 .9 .2 .9 .1 .9 .1 .7 .2 .3-1.4 .9-4 .9-3.3 .9-2.7 .9-2.1 .9-1 1-1.1 .9-1.4 .9-.7 .9-.7 .6-.1 .3 .5 1 .1 .9 .7 .9 .7 .9 .2 .9 1 .9 .3 1 .9 .9 1 .9 .2 .9 .8 .9-0 1 .2 .9 .9 .9 .1 .9 .5 .9 .3 .9 .4 1 .6 .9 .2 .9 .4 .9 .2 .9 .2 1 .6 .9 .1 .9 .5 .9 .3 .9 .3 .9 .4 1 .1 .9 .4 .9 .1 .9 .4 .9 .2 1 .1 .9 .3 .9 .2 .9 .2 .9 .2 .9 .2 1 .1 .9 .4 .9 0 .9 .3 .3 .1 .6-2.1 .9-2.7 1-2 .9-1.9 .9-1.1 .9-1.1 .9-.7 1-.4 .9-.9 .9-.4 .9-.7 .6 .3 .3 .1 .9 .8 1 .5 .9 1 .9 .2 .9 .6 .9 .5 1 .1 .9 1 .9 .4 .9 .6 .9 .3 .9 .2 1 .6 .9 .6 .9 .6 .9 .2 .9 .6 1 .3 .9 .3 .9 .4 .9 .2 .9 .3 .9 .3 1 .2 .9 .4 .9 .1 .9 .3 .9 .4 1 .1 .9 .3 .9 .3 .9 .1 .9 .4 .9 0 1 .1 .9 .5 .9-.1 .9 .4 .9 .2 1 .1 .9 .1 .6 .1" stroke="#2030c0"/>
<path d="M324.4 180.3l.9 0 .9-0 1-0 .9-0 .9 0 .9-0 .9 0 .9-.1 1 .1 .9 0 .3-0 .6-2.9 .9-3.6 .9-2.8 1-1.9 .9-1.8 .9-1.5 .9-1.1 .9-1 .9-.5 1-0 .3-.6 .6 .8 .9 1.1 .9 1.1 .9 .4 .9 .9 1 1 .9 .9 .9 .8 .9 .6 .9 .4 1 .8 .9 .3 .9 .6 .9 .5 .9 .4 .9 .3 1 .5 .9 .5 .9 .3 .9 .3 .9 .3 1 .3 .9 .4 .9 .2 .9 .3 .9 .1 .9 .3 1 .2 .9 .1 .9 .2 .9 .2 .9 .2 1 .1 .9 .1 .9 .1 .9 .2 .9 .1 .9 .1 1 .1 .9 .1 .9 .1 .9 .1 .9 .1 1 .1 .9 0 .6 .1 .3-1.6 .9-4.2 .9-3.1 .9-2.3 1-2 .9-1.2 .9-1.5 .9-.8 .9-.4 .9-.6 .4-.2 .6 .9 .9 .8 .9 .6 .9 .9 .9 .6 1 .5 .9 .9 .9 .5 .9 .4 .9 .9 .9 .3 1 .8 .9 .6 .9 .3 .9 .5 .9 .6 1 .1 .9 .4 .9 .6 .9 .3 .9 .3 .9 .4 1 .2 .9 .4 .9 .3 .9 .1 .9 .4 1 .2 .9 .2 .9 .3 .9 0 .9 .3 .9 .2 1 .2 .9 .1 .9 .4 .9 0 .9 .2 1 .2 .9 .1 .9 .1 .9 .2 .9 .1 .9 .1 .7 0 .3-1 .9-4 .9-3 .9-2.4 .9-1.8 .9-.9 1-1.6 .9-.7 .9-.5 .9-.9 .6-.1 .3-.1 1 .8 .9 1.1 .9 .3 .9 .8 .9 .6 .9 .6 1 .3 .9 .9 .9 .3 .9 .8 .9 .2 1 .7 .9 .4 .9 .3 .9 .5 .9 .1 .9 .7 1 0 .9 .5 .9 .4 .9 .3 .9 .3 1 .1 .9 .5 .9 .4 .9 .2 .9 .3 .9 .3 1 .2 .9 .3 .9 .1 .9 .3 .9 .1 1 .3 .9 .2 .9 .2 .9 .1 .9 .1 .9 .3 1 .1 .9 .3 .9 .1 .9 .1 .3 .2 .6-2.7 .9-2.8 1-2.5 .9-1.7 .9-1.3 .9-1.3 .9-1 1-1.1 .9-.2 .9-.6 .9-.9 .6 .4 .3 .1 .9 .2 1 .3 .9 1.5 .9 .7 .9 .2 .9 .4 1 .5 .9 .6 .9 .6 .9 .1 .9 .7 .9 .4 1 .4 .9 .2 .9 .5 .9 .1 .9 .8 1 .2 .9 .7 .9 .1 .9 .3 .9 .4 .9 .3 1 .3 .9 .3 .9 .2 .9 .2 .9 .3 1 .3 .9 .2 .9 .3 .9 .1 .9 .1 .9 .4 1 .2 .9 .2 .9 .1 .9 .3 .9 .2 1 0 .9 .1 .6 .3" stroke="#600090"/>
<path d="M324.4 180.1l.9 .2 .9 0 1-.1 .9 0 .9 0 .9 0 .9-.1 .9 .2 1-.1 .9-.2 .3 .3 .6-5 .9-7.6 .9-4.5 1-2.9 .9-5.8 .9-1.9 .9-.6 .9-1.9 .9 1.4 1-3.3 .3 2.8 .6-.2 .9-1.9 .9 3.1 .9 3.5 .9 0 1-.2 .9 2.2 .9 .8 .9 1.4 .9 1.8 1-1 .9 3.1 .9-.1 .9 1.5 .9 0 .9 .7 1 .8 .9 .4 .9 .4 .9 1.9 .9-.3 1 0 .9 .4 .9 .8 .9 1.4 .9 .2 .9-.2 1 .4 .9 .9 .9 .3 .9 .1 .9 .2 1 .7 .9 .5 .9 .4 .9 .1 .9 .4 .9 .1 1-.2 .9 .4 .9 .4 .9-.1 .9 .6 1-.1 .9 .3 .6 0 .3-3.1 .9-6.3 .9-6.7 .9-3.7 1-3.2 .9-.9 .9-3.8 .9-1.5 .9-1.5 .9-.5 .4 1 .6-2.6 .9 3.7 .9-.4 .9 3.1 .9 1.8 1-1.1 .9 1.3 .9 2.7 .9 .5 .9 .7 .9 2.6 1 .1 .9 2.2 .9-1.6 .9 3 .9-.5 1 1.5 .9-.2 .9 .8 .9 .8 .9 .1 .9 1.1 1-.1 .9 .9 .9 1.2 .9 .1 .9 .3 1 .2 .9 .2 .9 1.1 .9 .2 .9 .5 .9 .3 1 .8 .9 .2 .9-.1 .9 .2 .9 .6 1 .5 .9 0 .9 .6 .9-.3 .9 1 .9-.2 .7 0 .3-1.4 .9-5.5 .9-4.7 .9-4.1 .9-3.6 .9-1.1 1-2.2 .9-1.6 .9-.5 .9-1.2 .6-.3 .3 .2 1 2.8 .9 .8 .9 1.1 .9-1.8 .9 3.1 .9 1.2 1-.7 .9 1.5 .9 1.6 .9-.5 .9 2.5 1 .9 .9 .4 .9-.9 .9 1.7 .9-.2 .9 2.2 1 .9 .9-.7 .9 .9 .9 1.5 .9-.8 1-.4 .9 1.4 .9 1.3 .9 .1 .9 .4 .9 1 1-.1 .9 .4 .9 .1 .9 .4 .9 .1 1 .2 .9 .4 .9 .4 .9 .6 .9-0 .9 .2 1-.6 .9 1.3 .9 .1 .9 .1 .3 .1 .6-3.2 .9-6 1-3.2 .9-5.5 .9-.3 .9-1.6 .9-2.8 1-4.9 .9-.1 .9-1 .9 1.5 .6-1.7 .3 2.2 .9 .1 1-.6 .9 1.2 .9 2.5 .9 1.9 .9 .5 1 2.2 .9 .9 .9-.4 .9-0 .9 .1 .9 .4 1 2.4 .9 0 .9 2.9 .9-1.3 .9-.8 1 2.1 .9 0 .9 1.1 .9 .6 .9 .4 .9 2.1 1 0 .9-.6 .9 1.8 .9-.7 .9 1.6 1 .2 .9 .7 .9-.5 .9 .8 .9 1.5 .9-.1 1 .3 .9-.3 .9 .4 .9 1.2 .9-.6 1 .1 .9 .7 .6-0" stroke="#602080"/>
<path d="M324.4 180.3l.9-0 .9-0 1 0 .9 0 .9-0 .9-0 .9 0 .9-0 1-0 .9 0 .3-.1 .6-3.7 .9-4.4 .9-3.4 1-2.7 .9-3.1 .9-.9 .9-1.5 .9-.7 .9-.9 1-.9 .3 .3 .6 .5 .9 1.1 .9 .9 .9 .9 .9 1.1 1 .6 .9 1.2 .9 .7 .9 .7 .9 .8 1 .5 .9 1.2 .9 .4 .9 .6 .9 .1 .9 .6 1 .7 .9 .3 .9 .7 .9 .3 .9 .2 1 .5 .9 .2 .9 .6 .9 .2 .9 .4 .9 .3 1 .3 .9 .2 .9 .2 .9 .4 .9 .2 1 .2 .9 .2 .9 .3 .9 .1 .9 .2 .9 .2 1 .1 .9 .2 .9 .2 .9 .1 .9 .1 1 .1 .9 .1 .6 .2 .3-1.7 .9-4.4 .9-3.4 .9-2.4 1-2.2 .9-1 .9-1.4 .9-.6 .9-1.4 .9-.1 .4-.2 .6 .6 .9 1.2 .9 .7 .9 1.3 .9 .3 1 .9 .9 .3 .9 .6 .9 .8 .9 .9 .9 .6 1 .2 .9 .7 .9 .5 .9 .6 .9 .3 1 .5 .9 .4 .9 .6 .9 .3 .9 .5 .9 .2 1 .3 .9 .4 .9 .2 .9 .5 .9 .1 1 .3 .9 .3 .9 .2 .9 .4 .9 .2 .9 .1 1 .3 .9 .2 .9 .2 .9 .1 .9 .2 1 .3 .9-0 .9 .2 .9 .1 .9 .2 .9 .1 .7 .1 .3-1.4 .9-4.2 .9-3.2 .9-2.8 .9-2 .9-1.8 1-.7 .9-1.1 .9-.8 .9-.9 .6-.4 .3 .6 1 .6 .9 1.1 .9 .8 .9 1.3 .9 .4 .9 .8 1 .3 .9 .8 .9 .8 .9 .4 .9 .6 1 .5 .9 .7 .9 .5 .9 .2 .9 .7 .9 .3 1 .6 .9 .4 .9 .4 .9 .4 .9 .2 1 .6 .9 .2 .9 .5 .9 .1 .9 .3 .9 .2 1 .2 .9 .5 .9 .2 .9 .3 .9 .2 1 .2 .9 .2 .9 .2 .9 .2 .9 .1 .9 .3 1 .1 .9 .3 .9 .1 .9 .3 .3-.1 .6-3.2 .9-3.9 1-3.1 .9-2.3 .9-2.2 .9-1.6 .9-1.6 1-1.1 .9-.6 .9-.7 .9-.7 .6 .1 .3-.3 .9 .8 1 1.4 .9 1.1 .9 .7 .9 .7 .9 .8 1 1.3 .9 .4 .9 .9 .9 .7 .9 .5 .9 .6 1 .7 .9 .7 .9 .4 .9 .7 .9 .1 1 1 .9 .1 .9 .5 .9 .5 .9 .5 .9 .4 1 .3 .9 .4 .9 .3 .9 .3 .9 .4 1 .2 .9 .3 .9 .4 .9 .2 .9 .3 .9 .3 1 .2 .9 .2 .9 .3 .9 .3 .9 0 1 .2 .9 .3 .6 .1" stroke="#200070"/>
<path d="M324.4 180.3l.9 0 .9-0 1-0 .9-0 .9 0 .9 0 .9-0 .9-.1 1 .1 .9-0 .3 0 .6-2.9 .9-3.7 .9-2.7 1-2.3 .9-1.3 .9-1.4 .9-.8 .9-1.1 .9-.2 1-.8 .3-.4 .6 .8 .9 .9 .9 1 .9 .8 .9 .9 1 .9 .9 .5 .9 .7 .9 .8 .9 .6 1 .3 .9 .8 .9 .4 .9 .4 .9 .4 .9 .5 1 .5 .9 .2 .9 .4 .9 .4 .9 .2 1 .4 .9 .3 .9 .3 .9 .2 .9 .2 .9 .2 1 .2 .9 .2 .9 .2 .9 .1 .9 .3 1 0 .9 .2 .9 .2 .9 .1 .9 .1 .9 .1 1 .1 .9 .2 .9-0 .9 .1 .9 .1 1 0 .9 .1 .6 0 .3-1.2 .9-3.5 .9-2.5 .9-2 1-1.6 .9-1.2 .9-.9 .9-.8 .9-.7 .9 .2 .4-.2 .6 .5 .9 .5 .9 .8 .9 .7 .9 .4 1 1 .9 .8 .9 .3 .9 .4 .9 .5 .9 .7 1 .5 .9 .4 .9 .4 .9 .5 .9 .4 1 .2 .9 .3 .9 .5 .9 .3 .9 .3 .9 .3 1 .3 .9 .2 .9 .2 .9 .2 .9 .3 1 .2 .9 .1 .9 .3 .9 .1 .9 .1 .9 .1 1 .2 .9 .2 .9 .1 .9 0 .9 .2 1 .1 .9 .2 .9 0 .9 .2 .9 .1 .9 0 .7 .1 .3-1.3 .9-4.1 .9-3.3 .9-2.2 .9-1.9 .9-1.6 1-1.3 .9-.5 .9-.9 .9-.8 .6-.1 .3 .3 1 .9 .9 .6 .9 .4 .9 .6 .9 1.1 .9 .3 1 .7 .9 .6 .9 .1 .9 .7 .9 .8 1 .4 .9 .3 .9 .7 .9 .2 .9 .4 .9 .6 1 .2 .9 .3 .9 .5 .9 .2 .9 .3 1 .3 .9 .4 .9 .2 .9 .4 .9 .2 .9 .3 1 .2 .9 .4 .9 0 .9 .3 .9 .2 1 .2 .9 .2 .9 .2 .9 .2 .9 .3 .9 .1 1 .1 .9 .2 .9 .1 .9 .2 .3-0 .6-2.1 .9-2.6 1-2.2 .9-1.6 .9-1.5 .9-1.1 .9-.5 1-.6 .9-.6 .9-.5 .9-.6 .6-.1 .3 .2 .9 .7 1 .5 .9 .5 .9 .4 .9 1 .9-.1 1 .4 .9 .6 .9 .1 .9 .5 .9 .4 .9 .8 1-0 .9 .4 .9 .4 .9 .6 .9 .3 1 .1 .9 .4 .9 0 .9 .6 .9 .1 .9 .3 1 0 .9 .5 .9 .1 .9 .5 .9 .2 1 .1 .9 .2 .9 .3 .9 .1 .9 .3 .9 .2 1 .2 .9 .1 .9 .3 .9 .1 .9 .1 1 .3 .9 .2 .6-.1" stroke="#600090"/>
<path d="M324.4 180.3l.9 0 .9 0 1 0 .9 0 .9 0 .9-.1 .9 .1 .9-0 1-0 .9 0 .3 0 .6-3.1 .9-3.6 .9-3 1-2 .9-1.9 .9-1.6 .9-1.3 .9-1 .9-.1 1-1 .3 .2 .6 .6 .9 .9 .9 .8 .9 1 .9 .4 1 .9 .9 .4 .9 .3 .9 1.2 .9 .2 1 .9 .9 .4 .9 .3 .9 .6 .9 .3 .9 .4 1 .6 .9 .4 .9 .3 .9 .4 .9 .2 1 .6 .9 .1 .9 .3 .9 .4 .9 .2 .9 .3 1 .2 .9 .1 .9 .3 .9 .3 .9 .1 1 .2 .9 .2 .9 .2 .9 .1 .9 .2 .9 .1 1 .2 .9 .1 .9 .1 .9 .1 .9 .1 1 .2 .9 0 .6 .2 .3-1.7 .9-3.9 .9-3.2 .9-2.3 1-1.7 .9-1.2 .9-1.4 .9-.8 .9-.4 .9-.7 .4-0 .6 .3 .9 1.2 .9 .6 .9 .4 .9 .9 1 .9 .9 .4 .9 1 .9 .4 .9 .7 .9 .6 1 .5 .9 .2 .9 .9 .9 .5 .9 .2 1 .6 .9 .4 .9 .4 .9 .4 .9 .2 .9 .5 1 .3 .9 .3 .9 .2 .9 .2 .9 .4 1 .2 .9 .2 .9 .3 .9 .2 .9 .3 .9 .3 1 0 .9 .3 .9 .1 .9 .2 .9 .2 1 .1 .9 .2 .9 .1 .9 .2 .9 .1 .9 0 .7 .2 .3-1.3 .9-4.1 .9-3.1 .9-2.3 .9-1.7 .9-1.5 1-1.7 .9-.5 .9-.8 .9-.8 .6 .3 .3-.3 1 1.5 .9 .2 .9 .9 .9 .1 .9 .5 .9 .7 1 .5 .9-.2 .9 1 .9 .4 .9 .7 1 .4 .9 .3 .9 .5 .9 .4 .9 .4 .9 .5 1 .1 .9 .4 .9 .3 .9 .3 .9 .2 1 .6 .9 .2 .9 .2 .9 .4 .9 .2 .9 .4 1 .2 .9 .3 .9 .2 .9 0 .9 .3 1 .4 .9 .1 .9 .2 .9 .4 .9 .1 .9 .2 1 .3 .9 .1 .9 .1 .9 .2 .3 0 .6-2.2 .9-3.3 1-2.3 .9-2.1 .9-1.6 .9-1.1 .9-1.4 1 0 .9-1 .9-.6 .9-.7 .6 .1 .3 .1 .9 .7 1 .2 .9 1.2 .9 .7 .9 .5 .9 .4 1 .3 .9 1.3 .9 .3 .9-0 .9 .8 .9 .5 1 .4 .9 .5 .9 .5 .9 .2 .9 .5 1 0 .9 1 .9-.1 .9 .6 .9-0 .9 .6 1 .2 .9 .2 .9 .4 .9 .4 .9 .2 1 .3 .9 .1 .9 .4 .9 .2 .9 .4 .9 .1 1 .1 .9 .4 .9 .2 .9 .2 .9 .1 1 .2 .9 .2 .6 .2" stroke="#c01030"/>
<path d="M324.4 180.2l.9 .1 .9-0 1-.1 .9 .1 .9 0 .9-0 .9 0 .9-0 1-0 .9 0 .3 0 .6-2.9 .9-3.6 .9-2.8 1-2.3 .9-1.9 .9-1 .9-1 .9-.8 .9-.6 1-.4 .3-.3 .6 .8 .9 .7 .9 .6 .9 .6 .9 .7 1 .8 .9 .4 .9 .7 .9 .4 .9 .7 1 .6 .9 .7 .9 .1 .9 .5 .9 .4 .9 .6 1 .4 .9 .2 .9 .5 .9 .5 .9 .1 1 .4 .9 .1 .9 .3 .9 .5 .9 .1 .9 .3 1 .2 .9 .3 .9 .2 .9 .1 .9 .3 1 .1 .9 .1 .9 .2 .9 .2 .9 0 .9 .2 1 .2 .9 .1 .9 .2 .9 .1 .9 0 1 .2 .9 .1 .6 .1 .3-1.5 .9-4.2 .9-3 .9-2.6 1-1.6 .9-1.8 .9-.9 .9-.7 .9-.9 .9-.3 .4-.3 .6 .8 .9 .6 .9 1.2 .9 .5 .9 .6 1 .7 .9 .7 .9 .5 .9 .8 .9 .3 .9 1 1 .7 .9 .6 .9 .4 .9 .2 .9 .7 1 .4 .9 .2 .9 .6 .9 .2 .9 .3 .9 .3 1 .4 .9 .5 .9 .2 .9 .1 .9 .3 1 .4 .9 .2 .9 .2 .9 .3 .9 .2 .9 .3 1 .1 .9 .2 .9 .2 .9 .2 .9 .1 1 .2 .9 .2 .9 .1 .9 .1 .9 .2 .9 .1 .7 0 .3-1.3 .9-4.3 .9-3.1 .9-2.7 .9-2.3 .9-1.5 1-1.1 .9-1.1 .9-.7 .9-.4 .6-.4 .3 .3 1 1.1 .9 .3 .9 .6 .9 1.3 .9 .7 .9 .3 1 1 .9 .6 .9 .6 .9 .7 .9 .6 1 .4 .9 .9 .9 .1 .9 .4 .9 .7 .9 .5 1 .1 .9 .7 .9 .4 .9 .2 .9 .6 1 .4 .9 .1 .9 .4 .9 .3 .9 .3 .9 .3 1 .2 .9 .4 .9 .1 .9 .3 .9 .2 1 .2 .9 .2 .9 .2 .9 .1 .9 .4 .9 .1 1 .1 .9 .4 .9-0 .9 .1 .3 .1 .6-2.3 .9-2.9 1-2.2 .9-1.8 .9-1.7 .9-1 .9-1.1 1-1.2 .9 .3 .9-.6 .9-.4 .6-.4 .3-.2 .9 .9 1 .4 .9 .4 .9 1.3 .9 .2 .9 .6 1 .3 .9 .7 .9-0 .9 .8 .9 .4 .9 .5 1 .4 .9 .2 .9 .5 .9 .2 .9 .5 1 .2 .9 .4 .9 .2 .9 .3 .9 .5 .9 .1 1 .5 .9 .3 .9 0 .9 .5 .9 .2 1 .3 .9 .2 .9 .1 .9 .3 .9 0 .9 .3 1 .2 .9 .3 .9 .2 .9 .2 .9 0 1 .4 .9 .1 .6 0" stroke="#3020a0"/>
<path d="M324.4 180.3l.9-0 .9 0 1 0 .9 0 .9 0 .9 0 .9-0 .9-0 1 0 .9-0 .3-.1 .6-3.1 .9-3.9 .9-3.5 1-2.1 .9-2.5 .9-1.1 .9-.5 .9-1.6 .9-.5 1-.6 .3-.3 .6 1 .9 .9 .9 .9 .9 1.2 .9 .6 1 .7 .9 .8 .9 .7 .9 .7 .9 .9 1 .4 .9 .7 .9 .3 .9 .5 .9 .5 .9 .7 1 .3 .9 .3 .9 .4 .9 .4 .9 .4 1 .4 .9 .3 .9 .3 .9 .3 .9 .3 .9 .2 1 .1 .9 .3 .9 .3 .9 .2 .9 .3 1 .1 .9 .1 .9 .3 .9 .1 .9 .1 .9 .2 1 .2 .9 .1 .9 .1 .9-0 .9 .2 1 .1 .9 .1 .6 .1 .3-1.7 .9-4.3 .9-3.3 .9-2.6 1-2 .9-1 .9-1.9 .9-.5 .9-1 .9-.4 .4-.3 .6 .5 .9 1.4 .9 1 .9 .7 .9 1 1 .4 .9 1.2 .9 .7 .9 .3 .9 1.1 .9 .4 1 .8 .9 .4 .9 .4 .9 .6 .9 .7 1 .3 .9 .4 .9 .5 .9 .3 .9 .4 .9 .3 1 .5 .9 .3 .9 .4 .9 .3 .9 .1 1 .4 .9 .2 .9 .3 .9 .2 .9 .2 .9 .2 1 .2 .9 .1 .9 .2 .9 .2 .9 .1 1 .1 .9 .2 .9 .1 .9 .1 .9 .2 .9 .1 .7 .2 .3-1.5 .9-4.2 .9-3.3 .9-2.8 .9-2.3 .9-1.5 1-1.3 .9-.9 .9-.8 .9-.1 .6-.3 .3-.1 1 .6 .9 1.1 .9 .9 .9 .6 .9 .7 .9 .7 1 .7 .9 .1 .9 .9 .9 .9 .9 .2 1 .5 .9 .4 .9 .8 .9 .6 .9-.2 .9 1 1 .4 .9 .2 .9 .3 .9 .3 .9 .6 1 .2 .9 .5 .9 .2 .9 .4 .9-0 .9 .4 1 .4 .9 .2 .9 .1 .9 .4 .9 .2 1 .3 .9 .2 .9 .1 .9 .3 .9 .2 .9 .2 1 .1 .9 .2 .9 .2 .9 .1 .3 0 .6-2.9 .9-3.7 1-3 .9-2.4 .9-1.8 .9-1.4 .9-1.6 1-.8 .9-.7 .9-.6 .9-.7 .6-.2 .3 .6 .9 .7 1 1 .9 1.2 .9 .3 .9-.2 .9 1.7 1 .4 .9 .4 .9 .9 .9 .6 .9 .7 .9 .5 1 .6 .9 .6 .9 .3 .9 .4 .9 .4 1 .3 .9 .6 .9 .1 .9 .8 .9 .6 .9 .4 1 .2 .9 .2 .9 .4 .9 .4 .9 .2 1 .4 .9 .3 .9 .3 .9 .2 .9 .3 .9 .4 1 .2 .9 .1 .9 .3 .9 .1 .9 .2 1 .3 .9 .1 .6 .2" stroke="#a00040"/>
<path d="M324.4 180.2l.9 .1 .9 0 1 0 .9 0 .9-.2 .9 .2 .9-.2 .9 .2 1 0 .9 0 .3-.2 .6-5.1 .9-7.1 .9-4.8 1-3.5 .9-2.2 .9-3.8 .9-1.1 .9-.7 .9-1.6 1-1.8 .3 .2 .6-.1 .9 .4 .9 3.3 .9 1.2 .9 1.4 1 1.4 .9 1.8 .9 1.5 .9 .9 .9 1.3 1-.3 .9 2.3 .9 0 .9 1.3 .9 .7 .9-.1 1 1 .9 .3 .9 1.5 .9 .4 .9 .3 1 .3 .9 .6 .9 .2 .9 1.4 .9 .1 .9 .6 1-.4 .9 1.4 .9 .2 .9-.2 .9 .8 1 .5 .9-.4 .9 .4 .9 .6 .9 .3 .9 .1 1 .3 .9 .2 .9-0 .9 .4 .9 .1 1 .3 .9-.1 .6 .3 .3-2.8 .9-5.5 .9-5.1 .9-4 1-3.2 .9-1.8 .9-4.5 .9 1.7 .9-1.3 .9 .4 .4-1.4 .6-2.3 .9 3.6 .9 2.5 .9-.9 .9 2.5 1 .1 .9 2.7 .9 .4 .9-.9 .9 2.1 .9 .7 1 .7 .9 .4 .9 1.9 .9 1 .9 .1 1-.1 .9 1.5 .9-.2 .9 2.1 .9-0 .9 .7 1 .9 .9-1.4 .9 1.5 .9-.5 .9 1.1 1 1.1 .9-.6 .9 .7 .9-.1 .9 .8 .9 .7 1 .1 .9 .5 .9 .5 .9 .1 .9-.1 1 .8 .9-.2 .9 .2 .9 .5 .9 .3 .9-0 .7 .4 .3-2 .9-5.5 .9-3.9 .9-3 .9-2.1 .9-2.7 1-.5 .9-2.2 .9-1.3 .9-.1 .6-1.3 .3-.3 1 3.6 .9-.4 .9 1.8 .9 .6 .9 .5 .9-.4 1 .7 .9 2.4 .9 .2 .9 .9 .9 .7 1-.7 .9 1.2 .9 2.6 .9-1 .9 .4 .9 1.8 1-1.1 .9 .9 .9 .1 .9 2.1 .9-0 1 .6 .9 .4 .9 .4 .9 .7 .9-.2 .9 1.1 1-.7 .9 .4 .9 1.5 .9-.2 .9-.1 1-.5 .9 1.3 .9-.2 .9 0 .9 .9 .9 .6 1 .3 .9 .4 .9-.3 .9 .2 .3 .3 .6-4.4 .9-3.7 1-4.1 .9-3.6 .9-2.4 .9-1.7 .9-1.5 1-1 .9-2 .9-.6 .9 1.8 .6-2.1 .3 .9 .9 1.4 1-1.1 .9 2.5 .9 .7 .9 .1 .9 3 1 .4 .9 .5 .9 1.4 .9-.4 .9 1.8 .9-.4 1 .9 .9 .7 .9 .3 .9 1.2 .9-.2 1 1.3 .9 .3 .9 .6 .9 0 .9 .9 .9 1.1 1-1.1 .9 .8 .9 1.1 .9 .1 .9 1.1 1-.4 .9 1 .9-.1 .9 .6 .9 .8 .9-.3 1 .5 .9 .5 .9 .1 .9 0 .9 .5 1 .5 .9 .2 .6 .1" stroke="#1a1a80"/>
<path d="M324.4 180.3l.9-.1 .9 .1 1-0 .9 0 .9 0 .9 0 .9-.1 .9 .1 1 0 .9-0 .3-0 .6-3.2 .9-3.9 .9-3 1-2.2 .9-2 .9-1.1 .9-1.5 .9-1 .9-.3 1-.9 .3-.1 .6 .6 .9 .7 .9 1.1 .9 1 .9 .4 1 .8 .9 1.1 .9 .3 .9 .7 .9 .6 1 .5 .9 .3 .9 .7 .9 .6 .9 .4 .9 .4 1 .4 .9 .2 .9 .7 .9 .3 .9 .2 1 .5 .9 .3 .9 .4 .9 .3 .9 .1 .9 .4 1 .1 .9 .3 .9 .2 .9 .2 .9 .3 1 .2 .9 .1 .9 .2 .9 .2 .9 .1 .9 .2 1 .1 .9 .2 .9 .1 .9 .1 .9 .1 1 .1 .9 .2 .6 0 .3-1.7 .9-4.2 .9-3.4 .9-2.2 1-2.1 .9-1.4 .9-1.2 .9-.8 .9-.9 .9-.2 .4-.3 .6 .4 .9 .8 .9 .8 .9 1 .9 .6 1 .7 .9 1 .9 .3 .9 .7 .9 1 .9 .5 1 .6 .9 .5 .9 .5 .9 .5 .9 .5 1 .4 .9 .3 .9 .5 .9 .4 .9 .5 .9 .3 1 .2 .9 .5 .9 .4 .9 .1 .9 .3 1 .5 .9 0 .9 .4 .9 .2 .9 .2 .9 .3 1 .2 .9 .2 .9 .2 .9 .2 .9 .1 1 .2 .9 .1 .9 .2 .9 .2 .9 .1 .9 0 .7 .2 .3-1.3 .9-4.4 .9-3.2 .9-2.8 .9-1.9 .9-1.5 1-1.2 .9-1 .9-.9 .9-0 .6-.4 .3-0 1 .9 .9 .5 .9 .6 .9 .3 .9 .9 .9 .3 1 .6 .9 .2 .9 1 .9 .5 .9 .4 1 .4 .9 .4 .9 .2 .9 .6 .9 .3 .9 .4 1 .3 .9 .6 .9 .3 .9 .3 .9 .1 1 .6 .9 .3 .9 .2 .9 .3 .9 .3 .9 .1 1 .6 .9 .1 .9 .1 .9 .5 .9 0 1 .4 .9 .3 .9 .1 .9 .3 .9 .4 .9 0 1 .2 .9 .3 .9 .1 .9 .2 .3 .1 .6-2.6 .9-2.9 1-2.5 .9-2 .9-.9 .9-1.9 .9-.3 1-.8 .9-.9 .9-.4 .9-.9 .6 .3 .3 0 .9 1 1 1 .9 .6 .9 .8 .9 .5 .9 .8 1 .4 .9 .9 .9 .5 .9 .3 .9 .8 .9 .1 1 1 .9 .4 .9 .5 .9 .4 .9 .5 1 .5 .9 .4 .9 .4 .9 .4 .9 .5 .9 .3 1 .3 .9 .1 .9 .4 .9 .2 .9 .4 1 .3 .9 .3 .9 .4 .9 .1 .9 .2 .9 .3 1 .2 .9 .1 .9 .2 .9 .2 .9 .2 1 .2 .9 .1 .6 .2" stroke="#d02040"/>
<path d="M324.4 180.3l.9 0 .9 0 1 0 .9 0 .9 0 .9-0 .9 0 .9-0 1 0 .9-0 .3-0 .6-4.5 .9-5.4 .9-4.3 1-3.4 .9-2.7 .9-2.1 .9-1.5 .9-.7 .9-1.4 1-.8 .3-0 .6 .5 .9 1 .9 1.8 .9 .7 .9 1.4 1 1 .9 .8 .9 .4 .9 1.2 .9 1 1 .5 .9 1 .9 .6 .9 1 .9 .6 .9 .7 1 .2 .9 .9 .9 .2 .9 .9 .9 .3 1 .4 .9 .6 .9 .5 .9 .3 .9 .2 .9 .4 1 .6 .9 .2 .9 .3 .9 .2 .9 .4 1 .3 .9 .1 .9 .4 .9 .3 .9 .1 .9 .2 1 .2 .9 .4 .9 .1 .9 .2 .9 .2 1 .1 .9 .2 .6 .1 .3-2.4 .9-5.5 .9-4.6 .9-3.3 1-2.7 .9-2.2 .9-1.3 .9-1.6 .9-.5 .9-1 .4 0 .6 1 .9 1.7 .9 .6 .9 1.1 .9 1 1 .5 .9 1.5 .9 .5 .9 .4 .9 1.7 .9 .5 1 .7 .9 .8 .9 .7 .9 .6 .9 .3 1 1.2 .9 .4 .9 .6 .9 .2 .9 .6 .9 .5 1 .6 .9 .5 .9 .5 .9 .4 .9 .5 1 .2 .9 .3 .9 .4 .9 .5 .9 .2 .9 .1 1 .5 .9 .3 .9 .1 .9 .5 .9 .1 1 .2 .9 .3 .9 .2 .9 .2 .9 .2 .9 .2 .7 .1 .3-1.6 .9-5.4 .9-3.7 .9-3.4 .9-2.3 .9-1.7 1-1.7 .9-1.4 .9-1 .9-.7 .6 .1 .3 0 1 1.7 .9-.3 .9 1.1 .9 .8 .9 .8 .9 1.1 1 .1 .9 .8 .9 .7 .9 .4 .9 .8 1 .7 .9 .2 .9 .9 .9 .7 .9 .7 .9 .2 1 .5 .9 .6 .9 .2 .9 .8 .9 .1 1 .4 .9 .3 .9 .5 .9 .5 .9 .1 .9 .4 1 .5 .9 .4 .9 .2 .9 .5 .9 0 1 .4 .9 .4 .9 0 .9 .6 .9 0 .9 .4 1 .3 .9 .3 .9 .2 .9 .1 .3 .2 .6-3.4 .9-3.9 1-3.2 .9-2.9 .9-1.2 .9-2.1 .9-1.2 1-1.4 .9-.5 .9-.6 .9-.4 .6-.5 .3 .7 .9 .4 1 2 .9-.1 .9 1 .9 1 .9 .9 1 .5 .9 .9 .9 .7 .9 1 .9 .5 .9 .8 1 .7 .9 .4 .9 1 .9 .4 .9 .7 1 .7 .9-0 .9 .6 .9 .5 .9 .7 .9 .3 1 .3 .9 .8 .9 0 .9 .4 .9 .2 1 .7 .9 .1 .9 .5 .9 .3 .9 .2 .9 .2 1 .4 .9 .2 .9 .4 .9 .2 .9 .2 1 .4 .9 .1 .6 .2" stroke="#3020a0"/>
<path d="M324.4 180.3l.9-0 .9 0 1 0 .9-0 .9-0 .9-0 .9 0 .9-0 1-.1 .9 .1 .3-0 .6-3.6 .9-4.5 .9-3.4 1-2.8 .9-2.2 .9-1.5 .9-1.8 .9-.2 .9-1.4 1-.1 .3-.5 .6 .9 .9 .8 .9 .9 .9 1.1 .9 1 1 .7 .9 .6 .9 .6 .9 .6 .9 1.2 1 .3 .9 .7 .9 .5 .9 .5 .9 .5 .9 .6 1 .5 .9 .3 .9 .6 .9 .4 .9 .3 1 .6 .9 .4 .9 .1 .9 .5 .9 .4 .9 .1 1 .3 .9 .4 .9 .3 .9 .1 .9 .3 1 .2 .9 .3 .9 .1 .9 .2 .9 .3 .9 .1 1 .2 .9 .1 .9 .2 .9 .1 .9 .1 1 .2 .9 .1 .6 .2 .3-1.9 .9-5 .9-3.3 .9-3.3 1-2.1 .9-1.6 .9-1.2 .9-.8 .9-.8 .9-.7 .4-.2 .6 .2 .9 1.6 .9 .8 .9 1.2 .9 .4 1 .9 .9 .6 .9 .6 .9 1 .9 .9 .9 .5 1 .6 .9 .7 .9 .7 .9 .3 .9 .8 1 .3 .9 .6 .9 .7 .9 .1 .9 .2 .9 .7 1 .4 .9 .2 .9 .6 .9 .2 .9 .3 1 .4 .9 .3 .9 .3 .9 .3 .9 .2 .9 .3 1 .2 .9 .3 .9 .1 .9 .3 .9 .2 1 .1 .9 .3 .9 .2 .9 .1 .9 .1 .9 .2 .7 .1 .3-1.3 .9-4.3 .9-3.4 .9-2.7 .9-1.7 .9-2.2 1-.6 .9-1.5 .9-.1 .9-1 .6-.5 .3 .1 1 1.3 .9 1.1 .9 .1 .9 1 .9 .8 .9 .5 1 .7 .9 .2 .9 .7 .9 .5 .9 .5 1 .7 .9 .3 .9 .4 .9 .4 .9 .7 .9 .5 1 .5 .9 .3 .9 .3 .9 .4 .9 .5 1 .3 .9 .3 .9 .4 .9 .3 .9 .2 .9 .4 1 .1 .9 .5 .9 .1 .9 .4 .9 0 1 .3 .9 .2 .9 .4 .9 .2 .9 .2 .9 .2 1 .1 .9 .2 .9 .2 .9 .2 .3-0 .6-3.2 .9-3.7 1-2.8 .9-2.8 .9-2.1 .9-2.1 .9-.9 1-1 .9-1.3 .9-.7 .9-.2 .6-.3 .3 .1 .9 1.4 1 .4 .9 1 .9 .9 .9 .4 .9 .5 1 .5 .9 .9 .9 .6 .9 .9 .9 .9 .9 .3 1 .4 .9 .7 .9 .1 .9 .6 .9 .8 1 .1 .9 .6 .9 .3 .9 .7 .9 .3 .9 .6 1 .3 .9 .2 .9 .3 .9 .6 .9 .3 1 .5 .9 .2 .9 .3 .9 .4 .9 .2 .9 .4 1 .1 .9 .2 .9 .3 .9 .3 .9 .3 1 .3 .9 .1 .6 0" stroke="#3020a0"/>
<path d="M324.4 180.3l.9-0 .9 0 1-0 .9-0 .9 0 .9 0 .9-0 .9-0 1-0 .9-.1 .3 .1 .6-2.6 .9-3.5 .9-2.3 1-2 .9-1.8 .9-1 .9-.7 .9-1.1 .9-.6 1-.4 .3 .2 .6 .1 .9 1 .9 .5 .9 1 .9 .6 1 .8 .9 .4 .9 .3 .9 .6 .9 .6 1 .3 .9 .6 .9 .3 .9 .5 .9 .4 .9 .4 1 .3 .9 .3 .9 .4 .9 .3 .9 .4 1 .3 .9 .2 .9 .2 .9 .2 .9 .4 .9 .1 1 .3 .9 .1 .9 .2 .9 .2 .9 .1 1 .2 .9 .2 .9 .1 .9 .1 .9 .2 .9 .1 1 .1 .9 .1 .9 .1 .9 .2 .9 0 1 .1 .9 .1 .6 .2 .3-1.3 .9-3 .9-2.7 .9-1.8 1-1.4 .9-1.1 .9-.9 .9-.7 .9-.3 .9-.1 .4-.6 .6 .5 .9 .8 .9 .6 .9 .2 .9 .9 1 .6 .9 .2 .9 .4 .9 .8 .9 .4 .9 .4 1 .3 .9 .3 .9 .3 .9 .5 .9 .4 1 .4 .9 .1 .9 .5 .9 .3 .9 .2 .9 .3 1 .2 .9 .3 .9 .1 .9 .2 .9 .4 1 .1 .9 .3 .9 .1 .9 .3 .9 .1 .9 .1 1 .2 .9 .2 .9 .2 .9 .1 .9 0 1 .2 .9 .1 .9 .1 .9 .2 .9 .1 .9 .1 .7 .1 .3-1.1 .9-3.5 .9-2.8 .9-2.1 .9-1.4 .9-1.5 1-1.2 .9-.6 .9-.8 .9-.4 .6-.1 .3 .3 1 .6 .9 .8 .9 .4 .9 .6 .9 .5 .9 .3 1 .8 .9 .6 .9 .5 .9 .4 .9 .4 1 .7 .9 .5 .9 .4 .9 .1 .9 .5 .9 .3 1 .6 .9 .2 .9 .4 .9 .3 .9 .2 1 .3 .9 .1 .9 .5 .9 .2 .9 .3 .9 .1 1 .2 .9 .3 .9 .3 .9 .1 .9 .2 1 .2 .9 .1 .9 .3 .9 .1 .9 .2 .9 0 1 .2 .9 .2 .9 .2 .9 .1 .3 0 .6-2.1 .9-2.4 1-1.9 .9-1.4 .9-1.1 .9-1.2 .9-1 1-.7 .9-.5 .9-.2 .9-.5 .6-.1 .3 0 .9 .8 1 .6 .9 .7 .9 .7 .9 .3 .9 .9 1 .3 .9 .6 .9 .5 .9 .4 .9 .5 .9 .5 1 .4 .9 .4 .9 .2 .9 .3 .9 .4 1 .5 .9 .1 .9 .3 .9 .4 .9 .3 .9 .1 1 .3 .9 .2 .9 .3 .9 .3 .9 .1 1 .2 .9 .2 .9 .3 .9 .1 .9 .1 .9 .3 1 0 .9 .3 .9 .1 .9 .1 .9 .1 1 .2 .9 .1 .6 .1" stroke="#200070"/>
<path d="M324.4 180.3l.9 0 .9 0 1-0 .9-0 .9-0 .9-.1 .9 .1 .9-0 1-0 .9-.1 .3 .1 .6-3.4 .9-3.9 .9-3.1 1-2.7 .9-1.9 .9-1.7 .9-1.1 .9-.9 .9-.4 1-.7 .3-.4 .6 1.1 .9 1 .9 .8 .9 1.3 .9 .8 1 .7 .9 1 .9 1.1 .9 .5 .9 .7 1 .6 .9 .4 .9 .7 .9 .6 .9 .6 .9 .4 1 .5 .9 .3 .9 .5 .9 .3 .9 .5 1 .3 .9 .3 .9 .4 .9 .2 .9 .3 .9 .2 1 .3 .9 .2 .9 .3 .9 .1 .9 .2 1 .1 .9 .2 .9 .2 .9 .1 .9 .1 .9 .2 1 .1 .9 .2 .9 .1 .9 0 .9 .1 1 .1 .9 .1 .6 .1 .3-1.7 .9-4.4 .9-3.2 .9-2.7 1-2 .9-1.1 .9-1.3 .9-1.3 .9-.5 .9-.9 .4 .2 .6 .6 .9 .4 .9 .9 .9 .6 .9 .9 1 .7 .9 .5 .9 .7 .9 .5 .9 .7 .9 .3 1 .5 .9 .5 .9 .7 .9 .1 .9 .9 1 .2 .9 .4 .9 .3 .9 .5 .9 .4 .9 .2 1 .3 .9 .5 .9 .3 .9 .3 .9 .4 1 0 .9 .4 .9 .2 .9 .2 .9 .4 .9 .1 1 .3 .9 .2 .9 .1 .9 .2 .9 .3 1 .1 .9 .1 .9 .2 .9 .2 .9 .2 .9 0 .7 .2 .3-1.3 .9-4.6 .9-3.2 .9-2.4 .9-2.1 .9-1.6 1-1.1 .9-1.3 .9-.8 .9-1.1 .6 .1 .3 .4 1 .9 .9 .7 .9 .7 .9 .7 .9 1.5 .9 .7 1 .4 .9 .3 .9 1.1 .9 .4 .9 .8 1 .6 .9 .5 .9 .3 .9 .8 .9 .4 .9 .5 1 .3 .9 .6 .9 .3 .9 .3 .9 .5 1 .5 .9 .3 .9 .3 .9 .4 .9 .4 .9 .3 1 .2 .9 .4 .9-.1 .9 .4 .9 .4 1 .2 .9 .1 .9 .4 .9 .2 .9 0 .9 .3 1 .1 .9 .2 .9 .2 .9 .2 .3 0 .6-2.8 .9-3.6 1-2.7 .9-2.6 .9-1.6 .9-1.6 .9-.8 1-.8 .9-1.3 .9-.3 .9-.4 .6-.6 .3-0 .9 1.1 1 .7 .9 .5 .9 .6 .9 .8 .9 1 1 0 .9 .9 .9-0 .9 1.1 .9 .3 .9 .6 1 .4 .9 .1 .9 .9 .9 .2 .9 .6 1 .5 .9 .2 .9 .5 .9 .4 .9 .5 .9 .1 1 0 .9 .8 .9 .2 .9 .5 .9-.2 1 .8 .9 .2 .9 .4 .9 0 .9 .3 .9 .3 1 .2 .9 .1 .9 .3 .9 .2 .9 .5 1 .1 .9 .1 .6 .1" stroke="#3020a0"/>
<path d="M324.4 180.3l.9 0 .9 0 1-0 .9 0 .9 0 .9 0 .9 0 .9 0 1 0 .9-0 .3-0 .6-3.6 .9-4.5 .9-3.6 1-2.5 .9-2.3 .9-1.5 .9-1.7 .9-.1 .9-1 1-1.3 .3 .5 .6 .7 .9 1.2 .9 1.4 .9 .5 .9 .8 1 1.1 .9 1.1 .9 .7 .9 .4 .9 1.1 1 .8 .9 .4 .9 .8 .9 .8 .9 .4 .9 .3 1 .6 .9 .5 .9 .4 .9 .5 .9 .5 1 .2 .9 .4 .9 .3 .9 .4 .9 .3 .9 .3 1 .1 .9 .2 .9 .4 .9 .1 .9 .3 1 .2 .9 .2 .9 .1 .9 .2 .9 .2 .9 .1 1 .1 .9 .3 .9 0 .9 .1 .9 .2 1-0 .9 .2 .6 0 .3-1.8 .9-4.6 .9-3.7 .9-2.9 1-1.9 .9-1.9 .9-1.5 .9-.4 .9-1 .9-.8 .4 .2 .6 .1 .9 .8 .9 1.3 .9 .6 .9 1 1 .6 .9 .6 .9 .8 .9 .6 .9 .7 .9 .3 1 .6 .9 .9 .9 .3 .9 .2 .9 .9 1 .3 .9 .3 .9 .8 .9 .3 .9 .7 .9-0 1 .4 .9 .4 .9 .4 .9 .2 .9 .3 1 .4 .9 .3 .9 .3 .9 .2 .9 .3 .9 .3 1 .3 .9 .1 .9 .3 .9 .2 .9 .2 1 .2 .9 .1 .9 .2 .9 0 .9 .3 .9 .1 .7 .2 .3-1.5 .9-4.6 .9-3.7 .9-2.8 .9-1.8 .9-2.1 1-1.1 .9-.7 .9-1 .9-1 .6-.4 .3 .6 1 .4 .9 .9 .9 1.4 .9 .6 .9 .3 .9 1 1 .6 .9 .4 .9 .7 .9 .7 .9 .7 1-.1 .9 1.2 .9 .3 .9 .2 .9 .7 .9 .6 1 .5 .9 .1 .9 .4 .9 .8 .9 .3 1 .1 .9 .3 .9 .6 .9 .2 .9 .6 .9 .3 1 .3 .9 .1 .9 .3 .9 .2 .9 .5 1-0 .9 .4 .9-0 .9 .4 .9 .4 .9 .1 1 .2 .9 .1 .9 .3 .9 .1 .3 .2 .6-2.7 .9-3.4 1-2.7 .9-2 .9-2 .9-1.6 .9-.7 1-.9 .9-.7 .9-.9 .9-.2 .6-.4 .3 .1 .9 1.3 1 1 .9 .8 .9 .5 .9 1.1 .9 .8 1 .8 .9 .5 .9 .8 .9 .9 .9 .2 .9 .7 1 .5 .9 .7 .9 .6 .9 .6 .9 .2 1 .5 .9 .7 .9 .3 .9 .4 .9 .4 .9 .3 1 .5 .9 .4 .9 .1 .9 .6 .9 .1 1 .4 .9 .2 .9 .3 .9 .2 .9 .3 .9 .2 1 .4 .9 .1 .9 .2 .9 .2 .9 .2 1 .1 .9 .3 .6 0" stroke="#c01030"/>
<path d="M324.4 180.3l.9 0 .9 0 1 0 .9-0 .9-.1 .9 .1 .9 0 .9 0 1 0 .9 0 .3 0 .6-2.5 .9-3.1 .9-2.4 1-2.1 .9-1.2 .9-1.4 .9-.9 .9-.8 .9-.4 1-.5 .3-.4 .6 .9 .9 .6 .9 .5 .9 1 .9 .3 1 1.1 .9 .4 .9 .5 .9 .3 .9 .5 1 .7 .9-0 .9 .4 .9 .4 .9 .6 .9 .3 1 .4 .9 .3 .9 .3 .9 .2 .9 .4 1 .2 .9 .2 .9 .3 .9 .2 .9 .2 .9 .3 1 .2 .9 .1 .9 .3 .9 .1 .9 .2 1 .1 .9 .1 .9 .3 .9 .1 .9 .1 .9 .1 1 .2 .9 0 .9 .1 .9 .1 .9 .1 1 .2 .9-0 .6 .1 .3-1.3 .9-3.5 .9-2.6 .9-2.1 1-1.5 .9-1.3 .9-.6 .9-1.4 .9-.3 .9-.6 .4-0 .6 .6 .9 .4 .9 .7 .9 .9 .9 .5 1 .7 .9 .6 .9 .4 .9 .6 .9 .5 .9 .8 1 .3 .9 .3 .9 .3 .9 .4 .9 .5 1 .3 .9 .5 .9 .2 .9 .2 .9 .5 .9 .3 1 .2 .9 .3 .9 .3 .9 .2 .9 .3 1 .1 .9 .3 .9 .2 .9 .2 .9 .1 .9 .2 1 .2 .9 .2 .9 .2 .9 .1 .9 .2 1 .1 .9 .1 .9 .1 .9 .1 .9 .2 .9 .1 .7 .1 .3-1.1 .9-3.6 .9-2.9 .9-2 .9-1.9 .9-1.1 1-.5 .9-1.3 .9-.4 .9-.6 .6-.1 .3 .2 1 0 .9 .8 .9 .8 .9 .6 .9 .5 .9 .5 1 .3 .9 .4 .9 .8 .9 .2 .9 .5 1 .4 .9 .2 .9 .6 .9 .4 .9 .3 .9 .4 1 .3 .9 .2 .9 .5 .9 0 .9 .3 1 .5 .9 .1 .9 .5 .9 .1 .9 .3 .9 .3 1 0 .9 .3 .9 .2 .9 .4 .9 .1 1 .2 .9 .2 .9 .1 .9 .2 .9 .1 .9 .1 1 .3 .9 .1 .9 .3 .9-0 .3 0 .6-1.7 .9-2.3 1-2.3 .9-1.1 .9-1.5 .9-.9 .9-.7 1-.6 .9-.2 .9-.5 .9-.3 .6-.6 .3 .8 .9 .5 1 .3 .9 .7 .9 .6 .9 .7 .9 .6 1 .3 .9 .6 .9 .3 .9 .5 .9 .5 .9 .1 1 .8 .9 .1 .9 .5 .9 .3 .9 .4 1 .3 .9 .3 .9 .4 .9 0 .9 .4 .9 .3 1 .2 .9 .2 .9 .3 .9 .2 .9 .3 1 .1 .9 .3 .9 .2 .9 .2 .9 .1 .9 .1 1 .3 .9 0 .9 .3 .9 .2 .9 .1 1 .1 .9 .2 .6 0" stroke="#200070"/>
<path d="M324.4 180.3l.9 0 .9 0 1-.1 .9 .1 .9-0 .9-0 .9 0 .9-0 1 0 .9-0 .3-0 .6-2.8 .9-3.4 .9-2.6 1-2.2 .9-1.6 .9-1.3 .9-.8 .9-.9 .9-.6 1-.7 .3 .2 .6 .7 .9 .8 .9 .6 .9 1 .9 .5 1 .4 .9 .4 .9 .7 .9 .8 .9 .3 1 .6 .9 .6 .9 .2 .9 .5 .9 .4 .9 .4 1 .4 .9 .4 .9 .4 .9 .3 .9 .2 1 .3 .9 .3 .9 .3 .9 .3 .9 .2 .9 .2 1 .2 .9 .2 .9 .2 .9 .3 .9 .1 1 .1 .9 .2 .9 .2 .9 .1 .9 .1 .9 .2 1 .1 .9 .1 .9 .1 .9 .1 .9 .2 1 .1 .9 0 .6 .1 .3-1.2 .9-3.1 .9-2.3 .9-2.1 1-1.3 .9-1.1 .9-.9 .9-.9 .9-.1 .9-.5 .4 .3 .6 .1 .9 .5 .9 .6 .9 .8 .9 .6 1 .4 .9 .7 .9 .3 .9 .4 .9 .3 .9 .3 1 .6 .9 .5 .9 .3 .9 .4 .9 .2 1 .3 .9 .6 .9 .1 .9 .1 .9 .4 .9 .4 1 .4 .9 0 .9 .3 .9 .2 .9 .2 1 .2 .9 .2 .9 .2 .9 .2 .9 .2 .9 .2 1 .1 .9 .2 .9 .1 .9 .2 .9 .1 1 .1 .9 .1 .9 .2 .9 .2 .9-0 .9 .1 .7-0 .3-1 .9-3.4 .9-2.9 .9-2.2 .9-1.7 .9-1.2 1-1.4 .9-.3 .9-.7 .9-.4 .6 .1 .3 .1 1 .4 .9 .5 .9 .6 .9 0 .9 .8 .9 .6 1 .4 .9 .4 .9 .5 .9 .5 .9 .4 1 .2 .9 .1 .9 1 .9 0 .9 .3 .9 .5 1-.1 .9 .6 .9 .5 .9 .1 .9 .4 1 .1 .9 .3 .9 .2 .9 .4 .9 .1 .9 .2 1 .4 .9 .2 .9 .2 .9 .2 .9 .2 1 .1 .9 .2 .9 .3 .9 .2 .9 .1 .9 .3 1 .1 .9 .1 .9 .2 .9 .1 .3 0 .6-1.7 .9-2.4 1-1.6 .9-1.8 .9-1 .9-1.1 .9-.9 1-.5 .9-.4 .9-.4 .9-.2 .6-.3 .3-.1 .9 1.1 1 .6 .9 .5 .9 .6 .9 .5 .9 .8 1 .4 .9 .4 .9 .4 .9 .4 .9 .5 .9 .5 1 .5 .9 .4 .9 .4 .9 .1 .9 .3 1 .6 .9 .3 .9 .2 .9 .3 .9 .3 .9 .2 1 .2 .9 .3 .9 .3 .9 .3 .9 .1 1 .2 .9 .3 .9 0 .9 .3 .9 .1 .9 .3 1 .2 .9 .2 .9 0 .9 .2 .9 .2 1 .1 .9 .1 .6 .1" stroke="#c01030"/>
<path d="M324.4 180.1l.9 .2 .9 0 1-.1 .9 .1 .9 0 .9-.1 .9 .1 .9 0 1 0 .9-.1 .3 0 .6-9.3 .9-12 .9-8.2 1-7.1 .9-6.7 .9 .9 .9-12 .9 2.1 .9-6 1 2.8 .3-2.9 .6 3.7 .9 3 .9 3.4 .9 3 .9-.5 1 3.4 .9 1 .9 6.7 .9 2.4 .9-1.4 1 .3 .9 5.1 .9 1.4 .9 1.2 .9 .6 .9 .2 1 2.3 .9 .9 .9 2.6 .9 1.3 .9-.7 1 1 .9 1.5 .9 .3 .9 .9 .9 .5 .9 1.4 1 .4 .9-.2 .9 1.8 .9 .4 .9 .6 1 0 .9 1.2 .9 .6 .9 .2 .9 .7 .9-.2 1-0 .9 .7 .9 .4 .9 .3 .9 .5 1 .6 .9 .1 .6-.2 .3-3.6 .9-13.1 .9-5.8 .9-7.3 1-4.3 .9-3.2 .9-4.3 .9-2.8 .9-1.7 .9-2.8 .4 .2 .6-.9 .9 8.3 .9 5.6 .9-8.5 .9 9.3 1-5.4 .9 6.9 .9-3.8 .9 3.3 .9 13.7 .9-9.3 1-10.1 .9 11.7 .9-2.7 .9 5.7 .9 3.9 1 1.6 .9-.3 .9 2.3 .9-1.8 .9 3.7 .9-.7 1 1.2 .9 .6 .9 1.3 .9 1.6 .9-1.3 1 2 .9 1.4 .9-.7 .9 1.4 .9 .9 .9-.1 1 .8 .9 .3 .9 .8 .9 0 .9 .8 1 .7 .9 .3 .9 0 .9 .8 .9 .6 .9 .1 .7 .1 .3-2.3 .9-6.1 .9-5.5 .9-5 .9-4.7 .9-1.9 1-3.9 .9-1.7 .9-.1 .9-.1 .6 0 .3 1.6 1-.2 .9 3.2 .9-1.4 .9 4.7 .9-2.5 .9 2.9 1 1.8 .9 0 .9 1.1 .9 1.1 .9 2.4 1 2.3 .9-2.7 .9 1.8 .9 .2 .9 3.5 .9-1 1 1.2 .9-.1 .9 .1 .9 2.2 .9-.5 1 .6 .9 2.3 .9-.7 .9 .5 .9 .7 .9 .1 1 .1 .9 .8 .9 .2 .9 .6 .9 .9 1 .6 .9 .7 .9 .6 .9-.1 .9-0 .9 .5 1 .3 .9 0 .9 .3 .9 .7 .3 0 .6-5.3 .9-9.4 1-5 .9-1.8 .9-7.3 .9-2.9 .9-4 1-.9 .9-2.4 .9 .5 .9-3.7 .6 3.2 .3-1.3 .9 1.1 1 2.5 .9-.5 .9 2.4 .9 1.7 .9 1.5 1 1 .9 1.2 .9 3.4 .9-.1 .9 1.5 .9 1.2 1 .6 .9 1.2 .9 2.5 .9-.2 .9-.4 1 1.3 .9 3.4 .9-.4 .9-.1 .9 2.3 .9-.5 1-.4 .9 1.6 .9 1.8 .9-.3 .9 2.1 1-.5 .9 1.8 .9-.4 .9 1.4 .9-.2 .9 .4 1-.3 .9 .8 .9-.3 .9 .8 .9 1 1 .2 .9 1.1 .6-.2" stroke="#d070a0"/>
<path d="M324.4 180.3l.9-0 .9-.1 1 .1 .9 0 .9-0 .9-0 .9 0 .9 0 1-0 .9-0 .3 0 .6-3.5 .9-4.3 .9-3.4 1-2.6 .9-1.8 .9-1.8 .9-.8 .9-1.2 .9-.9 1-.6 .3-.1 .6 .7 .9 1.2 .9 1.3 .9 .6 .9 1.4 1 .4 .9 1.7 .9 .4 .9 1.1 .9 .8 1 .6 .9 .8 .9 .3 .9 .6 .9 .6 .9 .5 1 .3 .9 .6 .9 .3 .9 .5 .9 .2 1 .5 .9 .4 .9 .2 .9 .3 .9 .4 .9 .1 1 .3 .9 .2 .9 .1 .9 .4 .9 .2 1 .1 .9 .3 .9 0 .9 .2 .9 .1 .9 .1 1 .3 .9 .1 .9-0 .9 .2 .9 0 1 .1 .9 .1 .6 .1 .3-2 .9-5.1 .9-3.8 .9-3.1 1-1.9 .9-2.3 .9-1.1 .9-.9 .9-1.1 .9-.4 .4 .3 .6 .4 .9 .7 .9 1 .9 1 .9 1.1 1 .9 .9 .6 .9 .7 .9 .8 .9 .6 .9 .8 1 .7 .9 .6 .9 .5 .9 .6 .9 .4 1 .6 .9 .3 .9 .7 .9 .4 .9 .3 .9 .3 1 .6 .9 .4 .9 .2 .9 .5 .9 .2 1 .3 .9 .4 .9 .1 .9 .3 .9 .3 .9 .2 1 .4 .9 .1 .9 .2 .9 .2 .9 .3 1 .1 .9 .2 .9 .2 .9 .1 .9 .1 .9 .2 .7 .1 .3-1.4 .9-4.7 .9-3.7 .9-2.7 .9-2 .9-1.4 1-1.4 .9-1.1 .9-.7 .9-.8 .6-.4 .3-.1 1 1.1 .9 1.5 .9-.1 .9 1.4 .9 .9 .9 1 1 .3 .9 .3 .9 1.1 .9 .5 .9 .6 1 .5 .9 .9 .9 .5 .9 .3 .9 .5 .9 .7 1 .3 .9 .3 .9 .5 .9 .5 .9 .1 1 .5 .9 .4 .9 .5 .9 .4 .9 .2 .9 .3 1 .4 .9 .1 .9 .4 .9 .1 .9 .4 1 .2 .9 .2 .9 .2 .9 .2 .9 .3 .9 .1 1 .3 .9 .2 .9 .2 .9-0 .3 .2 .6-3.1 .9-3.8 1-3.3 .9-1.8 .9-2.4 .9-1.5 .9-.8 1-1.3 .9-.9 .9-.9 .9-.2 .6-.3 .3 .1 .9 .5 1 1.4 .9 .3 .9 .8 .9 .6 .9 .4 1 1 .9 .8 .9 .3 .9 .7 .9-0 .9 .6 1 1 .9 .3 .9 .7 .9 .2 .9 .5 1 .1 .9 .6 .9 .5 .9 .3 .9 .6 .9 .2 1 .5 .9 .4 .9-0 .9 .9 .9-.1 1 .5 .9 .1 .9 .5 .9 .2 .9 .4 .9-0 1 .4 .9 .4 .9 .4 .9 0 .9 0 1 .4 .9 .2 .6 .1" stroke="#3020a0"/>
<path d="M324.4 180.3l.9 0 .9 0 1 0 .9 0 .9 0 .9-0 .9-0 .9-0 1 0 .9-0 .3-.1 .6-3 .9-3.7 .9-3 1-2.3 .9-1.7 .9-1.4 .9-.8 .9-.7 .9-.9 1-.5 .3-.2 .6 .7 .9 1 .9 .6 .9 .7 .9 .9 1 .8 .9 .6 .9 .7 .9 .5 .9 .7 1 .8 .9 0 .9 .7 .9 .4 .9 .6 .9 .4 1 .4 .9 .4 .9 .4 .9 .4 .9 .2 1 .4 .9 .2 .9 .4 .9 .3 .9 .2 .9 .4 1 .2 .9 .2 .9 .2 .9 .1 .9 .2 1 .2 .9 .2 .9 .1 .9 .2 .9 .2 .9 .1 1 .2 .9 0 .9 .1 .9 .1 .9 .2 1 .1 .9 .1 .6 0 .3-1.5 .9-4 .9-2.9 .9-2.3 1-2 .9-1.6 .9-.9 .9-.7 .9-1 .9-.6 .4 .1 .6 .6 .9 .6 .9 .8 .9 .5 .9 1 1 .2 .9 .8 .9 .2 .9 1.3 .9 .3 .9 .6 1 .2 .9 .5 .9 .5 .9 .4 .9 .4 1 .5 .9 .3 .9 .5 .9 .3 .9 .3 .9 .4 1 .3 .9 .2 .9 .3 .9 .1 .9 .6 1 .1 .9 .3 .9 .2 .9 .2 .9 .1 .9 .4 1 .3 .9 0 .9 .3 .9 .1 .9 .2 1 .1 .9 .3 .9 0 .9 .2 .9 .2 .9 .1 .7 .2 .3-1.3 .9-4 .9-3.1 .9-2.2 .9-2 .9-1.5 1-1.1 .9-.6 .9-1.1 .9-.8 .6 .1 .3-.2 1 1 .9 .9 .9 .8 .9 .7 .9 .6 .9 .5 1 .7 .9 .4 .9 .2 .9 1.2 .9 .1 1 .5 .9 .5 .9 .5 .9 .4 .9 .5 .9 .4 1 .5 .9 .3 .9 .3 .9 .4 .9 .3 1 .4 .9 .4 .9-0 .9 .4 .9 .3 .9 .3 1 .2 .9 .3 .9 .2 .9 .4 .9 .1 1 .2 .9 .4 .9 .1 .9 .2 .9 .3 .9 .1 1 .1 .9 .2 .9 .2 .9 .2 .3 0 .6-2.6 .9-2.8 1-2.2 .9-1.8 .9-2 .9-1.2 .9-.7 1-1.3 .9-.6 .9-0 .9-.4 .6-.5 .3 .3 .9 .7 1 .6 .9 1.1 .9 .5 .9 1 .9 .3 1 .5 .9 1.3 .9 .3 .9 .3 .9 .8 .9 .3 1 .4 .9 .5 .9 .4 .9 .5 .9 .3 1 .6 .9 .4 .9 .4 .9 .4 .9 .2 .9 .3 1 .4 .9 .3 .9 .3 .9 .1 .9 .4 1 .1 .9 .3 .9 .3 .9 .1 .9 .4 .9 .3 1 .1 .9 .1 .9 .2 .9 .2 .9 .2 1 .1 .9 .2 .6 .1" stroke="#b02060"/>
<path d="M324.4 180.3l.9 0 .9 0 1-0 .9 0 .9-.1 .9 .1 .9-0 .9 0 1-0 .9 0 .3 0 .6-3.4 .9-4.1 .9-3.1 1-2.6 .9-2.1 .9-1.5 .9-1.2 .9-1.1 .9-.6 1-.7 .3 .1 .6 1 .9 .5 .9 1.7 .9 .9 .9 .9 1 .2 .9 1.3 .9 .6 .9 1.1 .9 .6 1 .5 .9 .7 .9 .5 .9 .5 .9 .6 .9 .5 1 .4 .9 .5 .9 .4 .9 .3 .9 .5 1 .3 .9 .3 .9 .3 .9 .3 .9 .2 .9 .3 1 .2 .9 .2 .9 .4 .9 .2 .9 .1 1 .2 .9 .3 .9 .1 .9 .1 .9 .2 .9 .1 1 .1 .9 .2 .9 0 .9 .2 .9 .1 1 .1 .9-0 .6 .1 .3-1.7 .9-4.4 .9-3.3 .9-2.7 1-2.2 .9-1.3 .9-.8 .9-1.2 .9-1.3 .9 0 .4-.3 .6 1.2 .9 .7 .9 1 .9 .6 .9 .9 1 .9 .9 .7 .9 1 .9 .3 .9 1 .9 .5 1 .4 .9 1 .9 .4 .9 .6 .9 .4 1 .5 .9 .5 .9 .4 .9 .3 .9 .6 .9 .3 1 .3 .9 .4 .9 .1 .9 .4 .9 .3 1 .3 .9 .2 .9 .2 .9 .3 .9 .1 .9 .2 1 .2 .9 .2 .9 .2 .9 .1 .9 .2 1 .1 .9 .2 .9 .1 .9 .2 .9-0 .9 .1 .7 .2 .3-1.6 .9-4.5 .9-3.9 .9-3.1 .9-2.6 .9-1.1 1-1.3 .9-1.4 .9-.9 .9-.4 .6-.3 .3-.4 1 1.4 .9 .9 .9 .4 .9 .3 .9 .8 .9 .8 1 .9 .9 .3 .9-0 .9 1 .9 .5 1 1 .9 .3 .9 .5 .9 .1 .9 .8 .9 .4 1 .5 .9 .7 .9-.2 .9 .8 .9 .2 1 .5 .9 .2 .9 .4 .9 .3 .9 .1 .9 .6 1 .2 .9 .2 .9 .4 .9 .2 .9 .1 1 .3 .9 .4 .9 .2 .9 .3 .9 .1 .9 .3 1 .1 .9 .2 .9 .2 .9 .2 .3 .1 .6-2.7 .9-3.5 1-2.9 .9-2.2 .9-1.5 .9-1.7 .9-.7 1-1.1 .9-.6 .9-.7 .9-.6 .6-.5 .3 .2 .9 1 1 1.2 .9 .4 .9 .8 .9 1.1 .9 .9 1 .4 .9 .2 .9 1.2 .9 .6 .9 .4 .9 .9 1 .5 .9 .4 .9 .4 .9 .6 .9 .6 1 .6 .9-0 .9 .8 .9 .1 .9 .6 .9 .2 1 .3 .9 .6 .9 .2 .9 .3 .9 .3 1 .4 .9 .2 .9 .4 .9 .3 .9 .1 .9 .3 1 .3 .9 .2 .9 .2 .9 .2 .9 .4 1 0 .9 .2 .6 .3" stroke="#500080"/>
<path d="M324.4 180.2l.9 .1 .9 0 1-0 .9-0 .9 0 .9 0 .9 0 .9-.1 1 .1 .9 0 .3-0 .6-3.6 .9-4.4 .9-3.5 1-2.9 .9-2 .9-1.5 .9-1.7 .9-1 .9-0 1-.7 .3-.3 .6 .7 .9 1.2 .9 1.2 .9 1.1 .9 1 1 1.3 .9 1 .9 .5 .9 .6 .9 .9 1 .8 .9 .6 .9 .7 .9 .7 .9 .5 .9 .4 1 .6 .9 .4 .9 .5 .9 .4 .9 .3 1 .5 .9 .3 .9 .2 .9 .4 .9 .4 .9 .2 1 .2 .9 .2 .9 .2 .9 .3 .9 .2 1 .1 .9 .3 .9 .1 .9 .2 .9 .1 .9 .1 1 .2 .9 .1 .9 .2 .9 0 .9 .1 1 .1 .9 .1 .6 .1 .3-2.1 .9-5.4 .9-3.7 .9-3.4 1-2.1 .9-2.1 .9-1.3 .9-1 .9-1 .9-.9 .4 .3 .6 .8 .9 .5 .9 1.2 .9 .9 .9 .8 1 .9 .9 1.1 .9 .4 .9 .8 .9 .9 .9 .5 1 .5 .9 .3 .9 1 .9 .3 .9 .8 1 .4 .9 .6 .9 .3 .9 .6 .9 .5 .9 .5 1 .1 .9 .7 .9 .2 .9 .2 .9 .5 1 .3 .9 .3 .9 .3 .9 .3 .9 .2 .9 .3 1 .3 .9 .2 .9 .2 .9 .2 .9 .2 1 .2 .9 .2 .9 .2 .9 .3 .9 0 .9 .3 .7 0 .3-1.4 .9-4.9 .9-3.5 .9-3.1 .9-1.9 .9-2.6 1-.8 .9-.5 .9-1.8 .9-.6 .6-.4 .3 1 1 .5 .9 .7 .9 1.3 .9 .7 .9 .9 .9 .8 1 .4 .9 1.2 .9 .5 .9 .5 .9 .8 1 .4 .9 1.1 .9 .1 .9 .9 .9 .3 .9 .6 1 .3 .9 .6 .9 .5 .9 .3 .9 .2 1 .7 .9 .4 .9 .4 .9 .4 .9 .3 .9 .3 1 .2 .9 .4 .9 .3 .9 .2 .9 .3 1 0 .9 .4 .9 .3 .9 .4 .9 .1 .9 .2 1 .2 .9 .3 .9 .1 .9 .2 .3 .1 .6-2.9 .9-3.9 1-2.8 .9-2.1 .9-2.1 .9-2 .9-1.3 1-.4 .9-1 .9-.9 .9-.6 .6 .1 .3 .1 .9 1.1 1 1.3 .9 .1 .9 1 .9 .7 .9 .9 1 .9 .9 .6 .9 .5 .9 .9 .9 .1 .9 .5 1 1.4 .9-0 .9 .7 .9 .4 .9 .5 1 .5 .9 .3 .9 .6 .9 .2 .9 .6 .9 .6 1 .2 .9 .4 .9 .4 .9 .4 .9-0 1 .5 .9 .3 .9 .4 .9 .1 .9 .3 .9 .2 1 .2 .9 .4 .9 .2 .9 .1 .9 .2 1 .3 .9 .2 .6 .1" stroke="#c01030"/>
<path d="M324.4 180.3l.9 0 .9 0 1 0 .9-0 .9-0 .9 0 .9-.1 .9 .1 1-0 .9-0 .3 0 .6-3.1 .9-3.6 .9-3 1-2.3 .9-1.6 .9-1.3 .9-1.4 .9-.9 .9-.3 1-.9 .3 .1 .6 .9 .9 .5 .9 .9 .9 .9 .9 .6 1 .7 .9 .8 .9 .6 .9 .4 .9 .6 1 .4 .9 .7 .9 .5 .9 .6 .9 .1 .9 .7 1 .3 .9 .3 .9 .5 .9 .4 .9 .3 1 .2 .9 .4 .9 .4 .9 .2 .9 .2 .9 .4 1 .1 .9 .2 .9 .2 .9 .3 .9 .2 1 .1 .9 .2 .9 .2 .9 .2 .9 .1 .9 .1 1 .2 .9 .1 .9 .1 .9 .1 .9 .1 1 .2 .9 0 .6 .2 .3-1.6 .9-3.8 .9-2.8 .9-2.5 1-1.5 .9-1.6 .9-.7 .9-1.1 .9-.8 .9-.1 .4 .2 .6 .2 .9 .5 .9 .9 .9 1 .9 .4 1 .7 .9 .8 .9 .3 .9 .6 .9 .6 .9 .5 1 .2 .9 .9 .9 .3 .9 .2 .9 .6 1 .5 .9 .2 .9 .7 .9 .1 .9 .3 .9 .5 1 .1 .9 .3 .9 .3 .9 .1 .9 .4 1 .3 .9 .4 .9 .2 .9 .1 .9 .2 .9 .2 1 .3 .9 .1 .9 .1 .9 .3 .9 .1 1 .1 .9 .2 .9 .1 .9 .2 .9 .1 .9 .1 .7 .1 .3-1.4 .9-4.4 .9-3.7 .9-2.4 .9-2.6 .9-.8 1-2 .9-1.2 .9-.4 .9-.8 .6-.2 .3-.4 1 1.3 .9 .6 .9 1.3 .9 .5 .9 .9 .9 .6 1 .7 .9 .5 .9 .7 .9 .3 .9 .7 1 .4 .9 .8 .9 .3 .9 .1 .9 .7 .9 .5 1 .4 .9 .4 .9 .4 .9 .6 .9 .4 1 .3 .9 .2 .9 .4 .9 .4 .9 .2 .9 .3 1 .4 .9 .3 .9 .4 .9 .2 .9 .2 1 0 .9 .4 .9 .2 .9 .2 .9 .3 .9 .1 1 .3 .9 .1 .9 .2 .9 .2 .3 .1 .6-2.7 .9-3.1 1-2.9 .9-1.8 .9-1.9 .9-1.2 .9-1 1-1 .9-.5 .9-.5 .9-.5 .6-.4 .3 .3 .9 .6 1 1 .9 .7 .9 .8 .9 1 .9 .4 1 1 .9 .9 .9 .9 .9 0 .9 .4 .9 .8 1 1.2 .9-.4 .9 .5 .9 .8 .9 .3 1 .3 .9 .6 .9 .4 .9 .3 .9 .3 .9 .5 1 .3 .9 .3 .9 .3 .9 .3 .9 .4 1 .4 .9 .1 .9 .3 .9 .3 .9 0 .9 .4 1 .1 .9 .3 .9 .2 .9 .2 .9 .1 1 .2 .9 .2 .6 .1" stroke="#a00040"/>
<path d="M324.4 180.3l.9-0 .9 0 1 0 .9 0 .9-0 .9-.1 .9 .1 .9 0 1-0 .9-0 .3-0 .6-3.6 .9-4.3 .9-3.6 1-2.6 .9-2.2 .9-1.6 .9-1 .9-1.4 .9-.8 1 .1 .3-.3 .6 0 .9 1.9 .9 .6 .9 1 .9 .8 1 1.4 .9 .9 .9 .8 .9 .8 .9 .9 1 .6 .9 .6 .9 .6 .9 .4 .9 .6 .9 .6 1 .6 .9 .3 .9 .5 .9 .5 .9 .3 1 .4 .9 .3 .9 .3 .9 .2 .9 .5 .9 .2 1 .3 .9 .3 .9 .2 .9 .2 .9 .2 1 .2 .9 .1 .9 .2 .9 .2 .9 .2 .9 .1 1 .1 .9 .2 .9 .1 .9 .2 .9 0 1 .1 .9 .1 .6 .1 .3-1.7 .9-4.3 .9-3.3 .9-2.7 1-2 .9-1.7 .9-.8 .9-.9 .9-1.2 .9-.4 .4 .1 .6 .5 .9 .7 .9 1 .9 .8 .9 .6 1 .6 .9 .9 .9 .6 .9 .4 .9 1 .9 .3 1 .4 .9 .8 .9 .3 .9 .2 .9 .7 1 .6 .9 .1 .9 .6 .9 .3 .9 .5 .9 .4 1 .3 .9 .3 .9 .2 .9 .3 .9 .5 1 .2 .9 .2 .9 .2 .9 .3 .9 .4 .9 .1 1 .3 .9 .2 .9 .2 .9 .2 .9 .1 1 .2 .9 .1 .9 .2 .9 .2 .9 .1 .9 .1 .7 .1 .3-1.4 .9-4.4 .9-3.2 .9-2.6 .9-2.2 .9-1.5 1-1.2 .9-.9 .9-.9 .9-.5 .6-.5 .3 .2 1 .7 .9 1.1 .9 .8 .9 .7 .9 .8 .9 .6 1 .9 .9 .5 .9 .9 .9 .1 .9 .8 1 .5 .9 .8 .9 .4 .9 .5 .9 .6 .9 .1 1 .5 .9 .5 .9 .3 .9 .7 .9 .3 1 .1 .9 .4 .9 .4 .9 .3 .9 .3 .9 .3 1 .3 .9 .3 .9 .2 .9 .3 .9 .2 1 .4 .9 .1 .9 .2 .9 .2 .9 .2 .9 .1 1 .2 .9 .4 .9-0 .9 .3 .3-0 .6-3 .9-3.6 1-3.4 .9-2.5 .9-1.2 .9-2.1 .9-1.2 1-.8 .9-.8 .9-.7 .9-.4 .6-.1 .3 .1 .9 .9 1 .9 .9 1.3 .9 .4 .9 1.3 .9 .7 1 .8 .9 .9 .9 .3 .9 .9 .9 .2 .9 .9 1 .4 .9 .9 .9 .5 .9 .3 .9 .7 1 .5 .9 .4 .9 .3 .9 .5 .9 .4 .9 .2 1 .5 .9 .5 .9 .3 .9 .4 .9 .2 1 .2 .9 .4 .9 .4 .9 .2 .9 .3 .9-0 1 .4 .9 .3 .9 0 .9 .3 .9 .3 1 .2 .9 .1 .6 .1" stroke="#600090"/>
<path d="M324.4 180.3l.9 0 .9-.1 1 .1 .9 0 .9-0 .9 0 .9 0 .9-0 1 0 .9-0 .3 0 .6-3.4 .9-4.2 .9-3.2 1-2.4 .9-1.9 .9-1.6 .9-1 .9-.7 .9-1.2 1-.6 .3 0 .6 1 .9 1.3 .9 1 .9 1 .9 .8 1 .8 .9 1 .9 .8 .9 1 .9 .5 1 .5 .9 .9 .9 .7 .9 .3 .9 .4 .9 .6 1 .5 .9 .4 .9 .6 .9 .2 .9 .4 1 .2 .9 .5 .9 .1 .9 .3 .9 .3 .9 .2 1 .4 .9 .2 .9 .1 .9 .2 .9 .2 1 .2 .9 .2 .9 .1 .9 .1 .9 .1 .9 .2 1 .1 .9 .1 .9 .2 .9 .1 .9 0 1 .1 .9-0 .6 .1 .3-1.6 .9-4.1 .9-3 .9-2.6 1-2.1 .9-1.4 .9-.9 .9-1 .9-.6 .9-.2 .4-.5 .6 .6 .9 .9 .9 .5 .9 .7 .9 .6 1 .6 .9 .6 .9 .7 .9 .6 .9 .4 .9 .5 1 .4 .9 .6 .9 .6 .9 .2 .9 .6 1 .3 .9 .2 .9 .5 .9 .6 .9 .3 .9 .2 1 .5 .9 .2 .9 .3 .9 .3 .9 .3 1 .2 .9 .3 .9 .2 .9 .2 .9 .3 .9 .1 1 .2 .9 .2 .9 .2 .9 .2 .9 .2 1 .1 .9 .3 .9 .1 .9 0 .9 .3 .9 0 .7 .1 .3-1.4 .9-4.7 .9-3.7 .9-3 .9-2.2 .9-1.9 1-1.1 .9-.8 .9-1.1 .9-.7 .6-.1 .3 .5 1 .7 .9 .3 .9 1.1 .9 0 .9 .9 .9 1.3 1 .4 .9 .3 .9 .9 .9 .3 .9 .4 1 .5 .9 .9 .9 .1 .9 .5 .9 .7 .9 .2 1 .7 .9 .5 .9 0 .9 .4 .9 .7 1 .6 .9-.1 .9 .5 .9 .2 .9 .6 .9 .1 1 .2 .9 .4 .9 .2 .9 .4 .9 .2 1 .4 .9 .2 .9 .4 .9 .1 .9 .2 .9 .3 1 0 .9 .3 .9-0 .9 .4 .3 .1 .6-2.5 .9-3.1 1-2.5 .9-2.1 .9-1.2 .9-1.6 .9-.7 1-1.1 .9-.4 .9-.5 .9-.5 .6-0 .3 .1 .9 .8 1 1.5 .9 .5 .9 .8 .9 .4 .9 1 1 .7 .9 .8 .9 .4 .9 .8 .9 .4 .9 .8 1 .5 .9 .4 .9 .5 .9 .8 .9 .2 1 .5 .9 .6 .9 .4 .9 .1 .9 .5 .9 .4 1 .2 .9 .6 .9 0 .9 .5 .9 .1 1 .4 .9 .3 .9 .2 .9 .3 .9 .1 .9 .3 1 .3 .9 .2 .9 .2 .9 .1 .9 .2 1 .1 .9 .3 .6 .1" stroke="#200070"/>
<path d="M324.4 180.3l.9-0 .9 0 1 0 .9 0 .9 0 .9-0 .9-0 .9-.1 1 .1 .9 0 .3 0 .6-3 .9-3.8 .9-3 1-2.3 .9-1.5 .9-1.2 .9-1.6 .9-.5 .9-.4 1-.8 .3-.2 .6 .7 .9 .9 .9 .3 .9 1.2 .9 .5 1 .7 .9 .8 .9 .2 .9 1.2 .9-0 1 1 .9 .4 .9 .5 .9 .4 .9 .5 .9 .5 1 .4 .9 .3 .9 .3 .9 .5 .9 .2 1 .4 .9 .3 .9 .4 .9 .3 .9 .2 .9 .4 1 .1 .9 .2 .9 .3 .9 0 .9 .2 1 .3 .9 .2 .9 .1 .9 .2 .9 .2 .9 .1 1 .1 .9 .2 .9 .1 .9 .1 .9 .2 1 0 .9 .2 .6 .1 .3-1.9 .9-4.1 .9-3.6 .9-2.6 1-2.1 .9-1.2 .9-1.3 .9-1.2 .9-.9 .9-.3 .4-.2 .6 .8 .9 .7 .9 1.6 .9 0 .9 .8 1 1 .9 .9 .9 .3 .9 1 .9 .3 .9 .9 1 .6 .9 .5 .9 .6 .9 .4 .9 .5 1 .5 .9 .5 .9 .4 .9 .3 .9 .4 .9 .4 1 .3 .9 .4 .9 .3 .9 .3 .9 .2 1 .4 .9 .2 .9 .4 .9 .3 .9 .1 .9 .2 1 .2 .9 .3 .9 .1 .9 .3 .9 .2 1 .1 .9 .2 .9 .1 .9 .1 .9 .1 .9 .3 .7 .1 .3-1.5 .9-4.3 .9-3.6 .9-3 .9-1.9 .9-1.7 1-1.5 .9-.3 .9-1.3 .9-.5 .6-.4 .3 .6 1 .8 .9 .7 .9 .7 .9 1.1 .9 .4 .9 1.3 1 .2 .9 .6 .9 1 .9 .5 .9 .5 1 .6 .9 .4 .9 .7 .9 .5 .9 .5 .9 .4 1 .4 .9 .5 .9 .5 .9 .4 .9 .4 1 .4 .9 .3 .9 .3 .9 .2 .9 .5 .9 .2 1 .4 .9 .1 .9 .3 .9 .2 .9 .3 1 .3 .9 .1 .9 .3 .9 .2 .9 .2 .9 .2 1 .1 .9 .2 .9 .1 .9 .3 .3-0 .6-2.5 .9-3.1 1-2.5 .9-2.1 .9-1.6 .9-1.4 .9-1 1-.6 .9-.8 .9-.7 .9-.2 .6-.3 .3 .3 .9 .6 1 .9 .9 1 .9 .6 .9 .5 .9 1.1 1 .3 .9 .8 .9-0 .9 1.1 .9 .6 .9 .6 1 .7 .9 .3 .9 .1 .9 .7 .9 .5 1 .4 .9 .4 .9 .5 .9 .2 .9 .3 .9 .5 1 .2 .9 .5 .9 .2 .9 .1 .9 .3 1 .2 .9 .5 .9 .1 .9 .3 .9 .1 .9 .2 1 .3 .9 .1 .9 .3 .9 .1 .9 .2 1 .1 .9 .2 .6 .1" stroke="#800060"/>
<path d="M324.4 180.3l.9-0 .9-0 1 0 .9 0 .9-0 .9 0 .9-0 .9-0 1 0 .9 0 .3-0 .6-3.4 .9-3.9 .9-3.2 1-2.5 .9-1.8 .9-1.2 .9-1.5 .9-.9 .9-.4 1-.8 .3 .1 .6 .7 .9 .8 .9 .4 .9 .9 .9 .9 1 .5 .9 1.1 .9 .4 .9 .9 .9 .8 1 .2 .9 .6 .9 .8 .9 .3 .9 .4 .9 .6 1 .3 .9 .6 .9 .1 .9 .6 .9 .4 1 .3 .9 .3 .9 .4 .9 .3 .9 .2 .9 .2 1 .4 .9 .1 .9 .3 .9 .1 .9 .3 1 .2 .9 .2 .9 .2 .9 .2 .9 .1 .9 .1 1 .2 .9 .1 .9 .2 .9 .1 .9 .1 1 .2 .9 .2 .6-0 .3-1.4 .9-3.5 .9-2.9 .9-1.6 1-2.3 .9-.9 .9-1.1 .9-.8 .9-.6 .9-.4 .4-.1 .6 .3 .9 1 .9 .5 .9 .6 .9 .7 1 .4 .9 .8 .9 .6 .9 .1 .9 .6 .9 .7 1 .5 .9 .3 .9 .5 .9 .5 .9 .4 1 .3 .9 .4 .9 .5 .9 .4 .9 .1 .9 .4 1 .2 .9 .3 .9 .2 .9 .3 .9 .3 1 .3 .9 .3 .9 .2 .9 0 .9 .4 .9 .2 1 0 .9 .3 .9 .3 .9 .2 .9 .1 1 .1 .9 .1 .9 .1 .9 .2 .9 .1 .9 .2 .7 0 .3-1.2 .9-3.9 .9-2.5 .9-2.1 .9-2 .9-1.3 1-1.2 .9-.7 .9-.9 .9-.6 .6 0 .3 .6 1 .5 .9 .5 .9 .7 .9 .3 .9 .7 .9 .6 1 .6 .9 .3 .9 .8 .9 .5 .9 .4 1 .5 .9 .3 .9 .7 .9 .1 .9 .4 .9 .2 1 .3 .9 .4 .9 .6 .9 .1 .9 .3 1 .5 .9 .1 .9 .4 .9 .4 .9 0 .9 .4 1-0 .9 .4 .9 .3 .9 .1 .9 .3 1 .2 .9 .2 .9 .2 .9 0 .9 .4 .9-0 1 .3 .9 .1 .9 .2 .9 0 .3 .1 .6-2.3 .9-2.9 1-2.4 .9-2 .9-1.6 .9-1 .9-1 1-.7 .9-.2 .9-1 .9-.1 .6-.5 .3 .3 .9 .7 1 .6 .9 .8 .9 .4 .9 .3 .9 .5 1 .5 .9 .7 .9 .6 .9 .3 .9 .8 .9 .3 1 .5 .9 .5 .9 .5 .9 .3 .9 .2 1 .5 .9 .5 .9 .3 .9 .4 .9 .3 .9 .4 1 .1 .9 .4 .9 .3 .9 .2 .9 .4 1 0 .9 .2 .9 .5 .9-.1 .9 .5 .9 .2 1 .2 .9 .2 .9 .2 .9 .1 .9 .3 1 .1 .9 .2 .6 .2" stroke="#a00040"/>
<path d="M324.4 180.3l.9 0 .9-0 1 0 .9 0 .9 0 .9 0 .9-.1 .9 .1 1-.1 .9 .1 .3-0 .6-3.6 .9-4.3 .9-3.3 1-2.7 .9-2.4 .9-1.4 .9-1.1 .9-1.3 .9-.4 1-.8 .3-.1 .6 .9 .9 .5 .9 1.2 .9 1.4 .9 .4 1 .5 .9 1.5 .9 .2 .9 .8 .9 .9 1 .5 .9 .8 .9 .6 .9 .3 .9 .5 .9 .8 1 .3 .9 .4 .9 .6 .9 .2 .9 .5 1 .3 .9 .3 .9 .5 .9 .2 .9 .3 .9 .3 1 .3 .9 .2 .9 .3 .9 .2 .9 .2 1 .4 .9 .1 .9 .2 .9 .1 .9 .3 .9 .1 1 .2 .9 .1 .9 .1 .9 .2 .9 .1 1 .2 .9 .1 .6 .1 .3-1.7 .9-4.2 .9-3 .9-2.6 1-2 .9-1.3 .9-1.1 .9-1 .9-.4 .9-.9 .4-.2 .6 .5 .9 1.3 .9 .8 .9 1.2 .9 .7 1 1 .9 .6 .9 .8 .9 .5 .9 1.1 .9 .4 1 .6 .9 .4 .9 .7 .9 .5 .9 .3 1 .7 .9 .4 .9 .2 .9 .7 .9 .2 .9 .3 1 .4 .9 .4 .9 .3 .9 .3 .9 .2 1 .2 .9 .3 .9 .1 .9 .3 .9 .2 .9 .3 1 .2 .9 .1 .9 .2 .9 .2 .9 .1 1 .2 .9 0 .9 .3 .9 .1 .9 0 .9 .2 .7 .1 .3-1.5 .9-4.7 .9-3.5 .9-3 .9-2 .9-1.6 1-1.8 .9-.6 .9-.8 .9-.9 .6 .1 .3 .3 1 .6 .9 .8 .9 .6 .9 1 .9 .8 .9 .8 1 .5 .9 .7 .9 .3 .9 1.1 .9 .6 1 .6 .9 .2 .9 .4 .9 .4 .9 .9 .9 .2 1 .5 .9 .2 .9 .5 .9 .3 .9 .6 1 .2 .9 .4 .9 .5 .9 .1 .9 .5 .9 .4 1 .1 .9 .4 .9 .1 .9 .2 .9 .3 1 .2 .9 .4 .9 .2 .9 .2 .9 0 .9 .4 1 .1 .9 .3 .9 .1 .9 .1 .3 .1 .6-2.4 .9-3.1 1-2.5 .9-1.7 .9-1.5 .9-1.6 .9-1 1-.4 .9-1.1 .9-0 .9-.7 .6-.6 .3 .9 .9 .3 1 .6 .9 .8 .9 .2 .9 .9 .9 .5 1 .6 .9 .2 .9 .5 .9 .3 .9 .7 .9 .6 1 .1 .9 .7 .9 .2 .9 .3 .9 .5 1 .7 .9 .3 .9 .3 .9 .1 .9 .5 .9 .1 1 .4 .9 .3 .9 .3 .9 .4 .9 0 1 .4 .9 .1 .9 .5 .9 .3 .9-0 .9 .4 1 .1 .9 .3 .9 .1 .9 .2 .9 .3 1 .2 .9 .1 .6 .1" stroke="#3020a0"/>
<path d="M324.4 180.3l.9-.1 .9 .1 1 0 .9 0 .9-0 .9 0 .9 0 .9 0 1 0 .9-0 .3-0 .6-2.1 .9-2.5 .9-2.2 1-1.6 .9-1.2 .9-1.1 .9-.3 .9-.7 .9-.4 1-.4 .3-.3 .6 .6 .9 .7 .9 .5 .9 .7 .9 .6 1 .6 .9 .6 .9 .3 .9 .5 .9 .4 1 .3 .9 .4 .9 .5 .9 .1 .9 .6 .9 .1 1 .4 .9 .2 .9 .3 .9 .3 .9 .1 1 .4 .9 .1 .9 .2 .9 .2 .9 .1 .9 .2 1 .1 .9 .3 .9 0 .9 .2 .9 .1 1 .1 .9 .2 .9-0 .9 .1 .9 .1 .9 .1 1 0 .9 .1 .9 .1 .9 .1 .9 0 1 .2 .9-0 .6 .1 .3-1.2 .9-2.9 .9-2.1 .9-1.8 1-1.2 .9-1.3 .9-.5 .9-1 .9-.2 .9-.2 .4 0 .6 .3 .9 .1 .9 1 .9 .6 .9 .2 1 .3 .9 .6 .9 .5 .9 .3 .9 .4 .9 .2 1 .3 .9 .5 .9 .4 .9 .3 .9 .4 1 .1 .9 .4 .9 .1 .9 .3 .9 .3 .9 .1 1 .4 .9 .1 .9 .2 .9 .2 .9 .2 1 .2 .9 .1 .9 .2 .9 .3 .9 0 .9 .2 1 .1 .9 .2 .9 .1 .9 .1 .9 .1 1 .2 .9 .1 .9 .1 .9 .1 .9 .1 .9 0 .7 .2 .3-1.1 .9-2.7 .9-2.1 .9-1.9 .9-1.3 .9-1.5 1-.7 .9-.4 .9-.6 .9-.4 .6-.7 .3 .6 1 .4 .9 .5 .9 .4 .9 .5 .9 .6 .9 .2 1 .4 .9 .6 .9 .1 .9 .6 .9 .4 1 .1 .9 .2 .9 .3 .9 .5 .9 .4 .9 .2 1 .2 .9 .2 .9 .2 .9 .3 .9 .2 1 .3 .9 .2 .9 .2 .9 .2 .9 .2 .9 .3 1 .1 .9 .3 .9 .1 .9 .2 .9 .1 1 .2 .9 .2 .9 .1 .9 .2 .9 .1 .9 .1 1 .2 .9 .1 .9 .2 .9 .1 .3-0 .6-1.6 .9-2 1-1.4 .9-1.3 .9-.5 .9-1 .9-.6 1-.7 .9-.4 .9-.3 .9-.3 .6-.1 .3 .2 .9 .6 1 .3 .9 .6 .9 .3 .9 .7 .9 .4 1 .5 .9 .2 .9 .5 .9 .6 .9 .1 .9 .4 1 .2 .9 .4 .9 .1 .9 .4 .9 .2 1 .2 .9 .3 .9 .3 .9 .3 .9 .2 .9 .3 1 .1 .9 .3 .9 .1 .9 .3 .9 .1 1 .2 .9 .1 .9 .3 .9 0 .9 .3 .9 .1 1 .2 .9 .1 .9 .2 .9 0 .9 .2 1 0 .9 .1 .6 .1" stroke="#600090"/>
<path d="M324.4 180.3l.9-.2 .9 .2 1 0 .9 0 .9 0 .9 0 .9-.1 .9 .1 1-0 .9-0 .3 0 .6-4.8 .9-5.9 .9-4.1 1-3.9 .9-3.8 .9-3.4 .9-2.1 .9-.6 .9 .3 1-.3 .3-3.4 .6 2.6 .9 2.6 .9 1.6 .9-2.1 .9 2.9 1 1.5 .9 1.2 .9 1.4 .9 .1 .9 1.1 1 .4 .9 3.1 .9-.8 .9 1.1 .9 .3 .9 .9 1 2.1 .9-.4 .9-.1 .9 .9 .9 1.3 1 .9 .9-.8 .9 1 .9 .3 .9 .8 .9-.2 1 .8 .9 .4 .9 .6 .9-0 .9 .2 1 .7 .9 .1 .9 .1 .9 .6 .9-.1 .9 .2 1 .4 .9 .4 .9-0 .9-0 .9 .3 1 .4 .9-.1 .6 .1 .3-2.7 .9-6.7 .9-4.6 .9-3.1 1-1.2 .9-2 .9-3.6 .9-.8 .9-1.8 .9 .5 .4-.3 .6-1.6 .9 2.2 .9 1.4 .9-.6 .9 3.6 1-.2 .9 2.3 .9 .5 .9 .4 .9 1.2 .9 1.2 1 .5 .9-.2 .9 2 .9 1 .9-1.1 1 2.4 .9-0 .9 1.1 .9 .4 .9-.5 .9 .7 1 1 .9-.3 .9 1.3 .9-.2 .9 .7 1 .2 .9 .8 .9 .2 .9 .6 .9 1.1 .9-1.2 1 .9 .9 .4 .9 .4 .9 .4 .9 .3 1 .1 .9 0 .9 .4 .9 .3 .9 .1 .9 .5 .7-.2 .3-1.3 .9-5.6 .9-3.3 .9-4.2 .9-.8 .9-4.5 1 .7 .9-1.1 .9-.6 .9-.3 .6-1.2 .3 1.6 1-1.7 .9 2.1 .9 2.8 .9-1.2 .9 .4 .9 1.1 1 1.4 .9 .4 .9 2.6 .9-.3 .9 1.3 1-0 .9-.8 .9 .2 .9 .5 .9 1.8 .9-.1 1 1 .9 .1 .9 .6 .9 1 .9-.5 1 1.2 .9 .4 .9 .3 .9 .5 .9 .9 .9-.3 1 .1 .9 .2 .9 .7 .9-.3 .9 1 1 .3 .9 .8 .9-.9 .9 .4 .9 .2 .9 1.1 1-.4 .9 .8 .9-.5 .9 .6 .3 .1 .6-3.5 .9-4.2 1-4.6 .9-2.6 .9-.1 .9-3.9 .9 1.9 1-5.6 .9 1.6 .9-1 .9-.8 .6-3 .3 2.1 .9 1.8 1 .3 .9 1.9 .9-.5 .9 2.4 .9 .6 1 .7 .9-.6 .9 1.6 .9 1.1 .9 1.7 .9-1.3 1 1.6 .9 .2 .9 1 .9 .1 .9 .6 1 1.8 .9 .5 .9-.4 .9 1.3 .9-.8 .9 .7 1-.1 .9 .7 .9 .4 .9 1 .9-0 1 .1 .9 .3 .9 .7 .9 .5 .9 .5 .9 .2 1 .3 .9-.2 .9 .2 .9 .7 .9 .4 1-.1 .9 .1 .6 .3" stroke="#c04040"/>
<path d="M336.6 180.3l3.1-12.9 3.1-6.4 3.6-9.7 2.5-9.7 1.8-12.3 .4 49.7 3.9 .7" stroke="#e08060"/>
<path d="M391.7 161l3.7-9.7 .6-3.2 .4 30.9 .8-24.5 1.3-9.7 .6 29.1" stroke="#e04030"/>
<path d="M324.4 180.3l.9-0 .9-0 1-0 .9 0 .9-0 .9 0 .9 0 .9 0 1 0 .9 0 .3 0 .6-2.8 .9-3.2 .9-2.6 1-1.9 .9-1.9 .9-.5 .9-1.2 .9-.8 .9-.8 1-.2 .3 0 .6 .2 .9 1 .9 1 .9 .7 .9 .8 1 .6 .9 .9 .9 .3 .9 .7 .9 .4 1 .6 .9 .6 .9 .2 .9 .5 .9 .6 .9 .4 1 .3 .9 .3 .9 .2 .9 .5 .9 .2 1 .2 .9 .3 .9 .3 .9 .2 .9 .2 .9 .2 1 .2 .9 .2 .9 .1 .9 .2 .9 .2 1 .1 .9 .2 .9 .1 .9 .1 .9 .1 .9 .2 1 .1 .9 .1 .9 0 .9 .2 .9 0 1 .1 .9 .1 .6 0 .3-1.4 .9-3.4 .9-2.8 .9-2 1-1.7 .9-1.2 .9-.8 .9-1.1 .9-.4 .9-.2 .4 .1 .6 .3 .9 .6 .9 .6 .9 1 .9 .6 1 .9 .9 .4 .9 .5 .9 .6 .9 .5 .9 .6 1 .4 .9 .4 .9 .6 .9 .2 .9 .3 1 .5 .9 .4 .9 .3 .9 .4 .9 .2 .9 .4 1 .2 .9 .2 .9 .3 .9 .2 .9 .2 1 .2 .9 .2 .9 .2 .9 .2 .9 .2 .9 .1 1 .2 .9 .1 .9 .2 .9 0 .9 .2 1 .1 .9 .2 .9 0 .9 .2 .9 .1 .9 .1 .7 .1 .3-1.2 .9-3.7 .9-2.9 .9-2.2 .9-1.8 .9-.9 1-1.6 .9-.4 .9-.8 .9-.4 .6-.1 .3-.2 1 1 .9 .4 .9 .2 .9 1.2 .9 .4 .9 .1 1 .7 .9 .3 .9 .6 .9 .5 .9 .2 1 .6 .9 .4 .9 .3 .9 .5 .9 .4 .9 .4 1-0 .9 .2 .9 .4 .9 .5 .9 .3 1 .3 .9 .2 .9 .1 .9 .4 .9 .2 .9 .5 1-0 .9 .3 .9 .2 .9 .1 .9 .2 1 .2 .9 .1 .9 .4 .9 .2 .9-.1 .9 .3 1 .2 .9 .1 .9 .2 .9 .1 .3 .1 .6-2.2 .9-2.6 1-2.5 .9-1.6 .9-1.3 .9-.9 .9-1.1 1-1 .9-.8 .9-.4 .9 .1 .6-.2 .3 .3 .9 .3 1 .8 .9 .3 .9 .6 .9 .5 .9 .8 1 .1 .9 .7 .9 .6 .9 .3 .9 .4 .9 .4 1 .3 .9 .3 .9 .3 .9 .7 .9 .2 1 .8 .9-.2 .9 .5 .9 .2 .9 .4 .9 .2 1 .3 .9 .4 .9 .3 .9 .4 .9-.1 1 .3 .9 .3 .9 .1 .9 .3 .9 .2 .9 .3 1 .1 .9 .2 .9 .1 .9 .3 .9 .2 1 .1 .9 0 .6 .3" stroke="#a00040"/>
<path d="M324.4 180.2l.9 .1 .9 0 1-0 .9 0 .9-0 .9-0 .9 0 .9 0 1 0 .9 0 .3-0 .6-4.1 .9-5.2 .9-3.7 1-3.2 .9-2.1 .9-1.6 .9-2 .9-.9 .9-1.1 1-.4 .3 .1 .6 .8 .9 1.1 .9 1.4 .9 1.1 .9 .9 1 1.2 .9 .9 .9 1.1 .9 1 .9 .9 1 .9 .9 .4 .9 .6 .9 1 .9 .6 .9 .5 1 .5 .9 .5 .9 .6 .9 .4 .9 .6 1 .3 .9 .4 .9 .3 .9 .4 .9 .3 .9 .3 1 .2 .9 .4 .9 .1 .9 .4 .9 .2 1 .3 .9 .1 .9 .2 .9 .2 .9 .2 .9 .1 1 .3 .9 .1 .9 .1 .9 .1 .9 .2 1-0 .9 .2 .6 .1 .3-2.1 .9-5 .9-4 .9-3.1 1-2.5 .9-1.2 .9-1.9 .9-1.3 .9-.1 .9-1.3 .4-.2 .6 1.1 .9 1.4 .9 .4 .9 1.1 .9 .4 1 1.2 .9 .6 .9 .9 .9 .8 .9 1 .9 .5 1 .5 .9 .7 .9 .6 .9 .4 .9 .7 1 .4 .9 .6 .9 .4 .9 .6 .9 .5 .9 .2 1 .4 .9 .4 .9 .5 .9 .2 .9 .4 1 .3 .9 .4 .9 .3 .9 .3 .9 .2 .9 .3 1 .2 .9 .3 .9 .2 .9 .2 .9 .2 1 .2 .9 .3 .9 0 .9 .2 .9 .2 .9 .1 .7 .2 .3-1.5 .9-4.6 .9-3.2 .9-3.3 .9-1.7 .9-2.2 1-1 .9-.9 .9-.3 .9-1.2 .6-.1 .3 0 1 1.3 .9 .5 .9 1.2 .9 .9 .9 .3 .9 1 1 1.1 .9 .5 .9 1.1 .9 .5 .9 .6 1 .7 .9 .6 .9 .3 .9 .7 .9 .6 .9 .5 1 .4 .9 .3 .9 .5 .9 .6 .9 .1 1 .4 .9 .5 .9 .4 .9 .3 .9 .4 .9 .2 1 .3 .9 .2 .9 .5 .9 .2 .9 .1 1 .3 .9 .3 .9 .2 .9 0 .9 .4 .9 .1 1 .3 .9 .1 .9 .2 .9 .1 .3 0 .6-3.7 .9-4.5 1-3.6 .9-2.6 .9-2.1 .9-2.4 .9-.9 1-1.6 .9-.6 .9-.6 .9-1 .6-0 .3 .2 .9 .8 1 1.4 .9 .7 .9 1.4 .9 .8 .9 1.3 1 .3 .9 1.6 .9 .3 .9 .7 .9 1.4 .9 .5 1 .7 .9 .4 .9 .6 .9 .6 .9 .5 1 .3 .9 1 .9 .3 .9 .5 .9 .4 .9 .8 1 .3 .9 .4 .9 .4 .9 .2 .9 .4 1 .5 .9 .2 .9 .4 .9 .2 .9 .3 .9 .3 1 .1 .9 .2 .9 .3 .9 .4 .9 0 1 .2 .9 .3 .6 .1" stroke="#2030c0"/>
<path d="M324.4 180.3l.9 0 .9-0 1 0 .9 0 .9-0 .9-0 .9 0 .9-0 1-0 .9-0 .3-0 .6-3.4 .9-4.1 .9-3 1-2.6 .9-2.2 .9-1.6 .9-1.1 .9-.9 .9-.3 1-.7 .3-.2 .6 .5 .9 1 .9 .3 .9 1.1 .9 1.2 1 .7 .9 .7 .9 .7 .9 .7 .9 .8 1 .2 .9 .6 .9 .6 .9 .6 .9 .4 .9 .6 1 .6 .9 .2 .9 .4 .9 .5 .9 .5 1 0 .9 .6 .9 .2 .9 .4 .9 .1 .9 .5 1 .1 .9 .4 .9 .1 .9 .3 .9 .3 1 .1 .9 .2 .9 .2 .9 .1 .9 .2 .9 .2 1 .2 .9 .1 .9 .1 .9 .1 .9 .2 1 .1 .9 .1 .6 .1 .3-1.9 .9-4.7 .9-3.4 .9-2.5 1-2.6 .9-1.7 .9-1.4 .9-.8 .9-.8 .9-.3 .4-.1 .6-.5 .9 1.5 .9 1.5 .9 .4 .9 .8 1 1.3 .9 .4 .9 .5 .9 .5 .9 .7 .9 1 1 .6 .9 .6 .9 .4 .9 .4 .9 .8 1 .4 .9 .5 .9 .5 .9 .3 .9 .2 .9 .4 1 .4 .9 .7 .9 .1 .9 .2 .9 .5 1 .4 .9 .2 .9 .3 .9 .3 .9 .2 .9 .2 1 .3 .9 .2 .9 .3 .9 .1 .9 .2 1 .2 .9 .2 .9 .2 .9 .1 .9 .3 .9 0 .7 .2 .3-1.5 .9-4.8 .9-3.4 .9-2.3 .9-2.4 .9-1.9 1-1.3 .9-1.3 .9-1.3 .9-.3 .6-.1 .3-.2 1 1.2 .9 .5 .9 .9 .9 1.2 .9-0 .9 .4 1 1.2 .9 .3 .9 .7 .9 .7 .9 .6 1 .2 .9 .9 .9 .5 .9 .2 .9 .4 .9 .4 1 .8 .9 .5 .9 .1 .9 .8 .9 .2 1 .3 .9 .1 .9 .6 .9 .5 .9 .2 .9 .1 1 .7 .9 .2 .9 .1 .9 .3 .9 .4 1 .2 .9 .2 .9 .4 .9 .2 .9 0 .9 .3 1 .2 .9 .3 .9 .2 .9 .1 .3 .2 .6-2.6 .9-3 1-2.4 .9-2 .9-1.5 .9-1.7 .9-.4 1-1.2 .9-.3 .9-1.1 .9-.1 .6-.4 .3 .2 .9 .9 1 .8 .9 .7 .9 .8 .9 .9 .9 .6 1 .6 .9 .8 .9 .5 .9 .3 .9 1 .9 0 1 .9 .9 .3 .9 .6 .9 .5 .9 .3 1 .3 .9 .7 .9 .4 .9 .4 .9 .1 .9 .4 1 .4 .9 .4 .9 .5 .9 .1 .9 .5 1 .2 .9 .1 .9 .4 .9 .3 .9 .3 .9 .1 1 .2 .9 .3 .9 .1 .9 .4 .9 .1 1 .1 .9 .2 .6 .1" stroke="#800060"/>
<path d="M324.4 180.3l.9-0 .9-0 1 0 .9-0 .9-0 .9 0 .9-0 .9 0 1 0 .9 0 .3-0 .6-3.6 .9-4.6 .9-3.6 1-2.4 .9-2.2 .9-1.6 .9-1.5 .9-1 .9-.7 1-.9 .3 .1 .6 .7 .9 1.3 .9 .7 .9 .6 .9 1 1 .9 .9 .9 .9 .8 .9 .7 .9 .4 1 .8 .9 .6 .9 .4 .9 .8 .9 .5 .9 .3 1 .6 .9 .7 .9 .3 .9 .5 .9 .3 1 .4 .9 .5 .9 .2 .9 .1 .9 .5 .9 .3 1 .2 .9 .5 .9 .1 .9 .2 .9 .3 1 .2 .9 .3 .9 .1 .9 .2 .9 .3 .9 .1 1 .2 .9 .2 .9 .1 .9 .1 .9 .2 1 .1 .9 .2 .6 0 .3-2.2 .9-5.3 .9-3.8 .9-3.6 1-1.9 .9-1.9 .9-1.6 .9-1.3 .9-.6 .9-1.1 .4 0 .6 .5 .9 2 .9 .7 .9 .9 .9 .8 1 1.8 .9 .5 .9 1.2 .9 .4 .9 .9 .9 .6 1 .6 .9 .8 .9 .8 .9 .5 .9 .2 1 1.1 .9 .4 .9 .7 .9 .3 .9 .7 .9 .2 1 .7 .9 .2 .9 .2 .9 .7 .9 .3 1 .2 .9 .5 .9 .4 .9 .2 .9 .2 .9 .2 1 .3 .9 .2 .9 .2 .9 .3 .9 .1 1 .2 .9 .3 .9 .1 .9 .2 .9 .2 .9 .2 .7 0 .3-1.4 .9-4.8 .9-4.1 .9-3.2 .9-2 .9-1.9 1-.8 .9-1.1 .9-1 .9-.8 .6-.5 .3 .5 1 .7 .9 .8 .9 .5 .9 .7 .9 .7 .9 .6 1 1 .9 .7 .9 .9 .9 .6 .9 0 1 .6 .9 .7 .9 .6 .9 .6 .9 .7 .9 .2 1 .4 .9 .8 .9-.2 .9 .7 .9 .2 1 .3 .9 .4 .9 .5 .9 .2 .9 .4 .9 .4 1 .3 .9 .4 .9 .2 .9 .4 .9 .2 1 .3 .9 .1 .9 .4 .9 .2 .9 .3 .9-.1 1 .5 .9 .2 .9 .3 .9 .1 .3 .1 .6-2.8 .9-3.8 1-3 .9-2 .9-2 .9-1.3 .9-1.1 1-1.1 .9-1 .9-.4 .9-.3 .6-.2 .3 0 .9 1.2 1 .6 .9 1.5 .9 .2 .9 1.2 .9 .6 1 .3 .9 1 .9 1 .9 .6 .9 .4 .9 .6 1 .8 .9 .4 .9 .8 .9 .9 .9-.1 1 .7 .9 .3 .9 .5 .9 .5 .9 .5 .9 .2 1 .4 .9 .3 .9 .4 .9 .4 .9 .4 1 .3 .9 .2 .9 .6 .9 .1 .9 .2 .9 .2 1 .2 .9 .2 .9 .4 .9 .2 .9 .2 1 .3 .9 .1 .6 .1" stroke="#a00040"/>
<path d="M324.4 180.2l.9 .1 .9 0 1-.1 .9 .1 .9 0 .9-.2 .9 .1 .9 .1 1 0 .9 0 .3-0 .6-6.4 .9-7.5 .9-4.9 1-5.1 .9-2.2 .9-3.6 .9-5 .9 2.3 .9-2.4 1-2.9 .3 .6 .6 1.9 .9 2.3 .9 1.8 .9-.4 .9 2.5 1 .9 .9 1 .9 3.5 .9 1.4 .9-.9 1 .7 .9 1.9 .9 .4 .9 2.6 .9 .1 .9 .9 1 .8 .9 .2 .9 2.5 .9-.5 .9-.1 1 1.3 .9 1 .9-.1 .9 1.3 .9-.4 .9 1.1 1-.3 .9 .8 .9 1 .9 0 .9 .4 1 .2 .9 .8 .9-.2 .9 .8 .9 .4 .9-0 1 .3 .9 .1 .9-0 .9 .5 .9-0 1 .1 .9 .2 .6 .5 .3-3.5 .9-8.5 .9-6.4 .9-3.7 1-5.3 .9-2.6 .9-1.3 .9 0 .9-3.5 .9-.8 .4 2.6 .6 .6 .9-8.9 .9 15.4 .9-4.6 .9 9.9 1-9.6 .9 6.5 .9 5.2 .9 .3 .9 1.6 .9-4.9 1 3.9 .9-8.8 .9 10.5 .9-.1 .9-.4 1 1.3 .9-1.5 .9 2.7 .9 2.2 .9-1 .9 1.3 1 .4 .9 .7 .9 .7 .9 .9 .9-.4 1 .6 .9 .5 .9 .6 .9-.3 .9 1.4 .9 .3 1-.4 .9 .9 .9 .7 .9 .4 .9 .3 1 .2 .9 .3 .9-.2 .9 1.1 .9-.1 .9 .1 .7 .2 .3-1.8 .9-6.2 .9-5.9 .9-4.3 .9-2.4 .9-2 1-4 .9 .5 .9-1.3 .9-2.9 .6 1.4 .3 .4 1 1.5 .9-1.1 .9 3.2 .9-.7 .9 1.9 .9 1.8 1 0 .9 2.6 .9-1.6 .9 3.6 .9-.2 1 .3 .9 1.3 .9 0 .9 .6 .9 2.8 .9 .1 1 0 .9 .9 .9 .9 .9 .2 .9 1.3 1 .4 .9-.5 .9 1.1 .9-.1 .9 2.4 .9-.1 1 .5 .9-.3 .9-.2 .9 1.7 .9-.2 1-.2 .9 1.4 .9-1 .9 1.7 .9 .2 .9 .6 1-.5 .9 1 .9-.3 .9 .3 .3 .3 .6-4.4 .9-5.4 1-5 .9-2.4 .9-2.6 .9-1.8 .9-4.6 1-2 .9-0 .9 2 .9-3 .6-1.1 .3-.3 .9 2.7 1 2.2 .9-2.7 .9 3.8 .9 2.1 .9-.4 1 .1 .9 2.7 .9-0 .9 1.2 .9 1.3 .9 .9 1 .3 .9 3.7 .9-1.8 .9 1.7 .9 .5 1-.5 .9 1.3 .9 .5 .9 .5 .9 1.9 .9 .3 1-1.5 .9 2.1 .9 .2 .9-.1 .9 1 1 .3 .9 1.5 .9-0 .9-.3 .9 .4 .9 0 1 .6 .9 .9 .9 .1 .9 .6 .9-.2 1 .9 .9-.1 .6 .2" stroke="#9050c0"/>
<path d="M324.4 180.3l.9 0 .9 0 1-0 .9 0 .9-0 .9 0 .9 0 .9 0 1 0 .9-0 .3 0 .6-3.3 .9-4 .9-3.2 1-2.6 .9-1.6 .9-1.8 .9-1.3 .9-.3 .9-.9 1-.6 .3 0 .6 .6 .9 1.1 .9 .5 .9 1.2 .9 .6 1 1.2 .9 .7 .9 .8 .9 .7 .9 .2 1 .9 .9 .7 .9 .8 .9 .4 .9 .3 .9 .6 1 .5 .9 .3 .9 .4 .9 .5 .9 .3 1 .3 .9 .3 .9 .4 .9 .3 .9 .2 .9 .3 1 .2 .9 .2 .9 .3 .9 .2 .9 .2 1 .2 .9 .2 .9 .1 .9 .2 .9 .1 .9 .1 1 .2 .9 .1 .9 .1 .9 .1 .9 .1 1 .2 .9 0 .6 .1 .3-1.5 .9-3.5 .9-3.2 .9-1.9 1-2.1 .9-1.3 .9-.6 .9-.7 .9-1 .9-.7 .4 .1 .6 .6 .9 .8 .9 .5 .9 .9 .9 1.1 1 .2 .9 .7 .9 .8 .9 .6 .9 .3 .9 .6 1 .7 .9 .3 .9 .6 .9 .4 .9 .6 1 .2 .9 .1 .9 .8 .9 .3 .9 .1 .9 .5 1 .2 .9 .2 .9 .4 .9 .3 .9 .1 1 .3 .9 .2 .9 .3 .9 .1 .9 .3 .9 .2 1 .2 .9 .1 .9 .1 .9 .2 .9 .1 1 .2 .9 .1 .9 .1 .9 .1 .9 .2 .9 .1 .7 .1 .3-1.4 .9-4.2 .9-3.1 .9-2.5 .9-2.3 .9-1.7 1-1.2 .9-.6 .9-.7 .9-.8 .6-.5 .3 .2 1 1.1 .9 1.1 .9 .4 .9 .8 .9 .9 .9 .8 1 .6 .9 .3 .9 .6 .9 .9 .9 .4 1 .4 .9 .9 .9 .4 .9 .4 .9 .4 .9 .7 1 .1 .9 .7 .9 .1 .9 .4 .9 .4 1 .2 .9 .4 .9 .4 .9 .2 .9 .4 .9 .2 1 .2 .9 .4 .9 .1 .9 .2 .9 .2 1 .4 .9 .1 .9 .1 .9 .3 .9 .2 .9 .2 1 .2 .9 0 .9 .3 .9 .1 .3-0 .6-2.6 .9-3.3 1-2.5 .9-1.8 .9-1.8 .9-1.3 .9-.9 1-1.2 .9-.3 .9-.8 .9-.8 .6 .1 .3 .3 .9 .6 1 1.3 .9 .4 .9 .6 .9 .8 .9 .9 1 .4 .9 .8 .9 .4 .9 .9 .9 .6 .9 .1 1 .7 .9 .5 .9 .6 .9 .4 .9 .1 1 .6 .9 .4 .9 .6 .9 .1 .9 .4 .9 .2 1 .5 .9 .2 .9 .4 .9 .3 .9 .3 1 .1 .9 .3 .9 .2 .9 .4 .9-0 .9 .3 1 .3 .9 .1 .9 .2 .9 .1 .9 .2 1 .1 .9 .2 .6 .1" stroke="#b02060"/>
<path d="M324.4 180l.9 .3 .9-.1 1 .1 .9 0 .9 0 .9-0 .9 0 .9 0 1 0 .9-0 .3 0 .6-7 .9-8.7 .9-6.4 1-6.3 .9-2.8 .9-3.3 .9-2.5 .9-3 .9-.8 1-.5 .3-1.4 .6 3.8 .9-.5 .9 4.8 .9-1.8 .9 4.3 1 1.1 .9 1.5 .9 .6 .9 4 .9-.2 1 .1 .9 1.5 .9 2.5 .9-1 .9 .6 .9 3.1 1 .6 .9 1.4 .9 .4 .9 .5 .9-.6 1 2.7 .9-1.1 .9 1.7 .9 .8 .9 .6 .9 .1 1 .9 .9 .5 .9 .5 .9 .3 .9 .4 1 .6 .9 .5 .9-0 .9 .5 .9 .4 .9 .8 1-.2 .9 .5 .9 .3 .9 .1 .9 .4 1 .4 .9 .1 .6-.3 .3-3.8 .9-9.7 .9-8.5 .9-3.6 1-9.4 .9-3.3 .9-.8 .9-3 .9 .2 .9-1.6 .4-.8 .6 1.9 .9 .1 .9 5 .9-1.1 .9 4.3 1-0 .9 0 .9 1 .9 5.9 .9-1.3 .9 .4 1 3.1 .9-.3 .9 3.7 .9 .2 .9-1.1 1 2.6 .9 .9 .9 2 .9 .9 .9 0 .9 1.6 1-.4 .9 2.5 .9 .9 .9-.2 .9 1.9 1-.6 .9 .2 .9 .4 .9 2.1 .9 .2 .9-.1 1 1.1 .9 .1 .9 1.3 .9-.2 .9 .2 1 .9 .9-0 .9 .5 .9 .4 .9 .6 .9 .1 .7 0 .3-2.4 .9-8.8 .9-6.4 .9-3.2 .9-5.3 .9-4.5 1-1.8 .9-.4 .9 .3 .9-3.5 .6-.8 .3-1 1 3.6 .9 1.4 .9 1 .9-.1 .9 2 .9 .1 1 4.5 .9-.8 .9 2.2 .9-.3 .9 3.4 1-.3 .9 1.1 .9 2.5 .9 .1 .9 1.1 .9 1.1 1 1 .9 1.4 .9-.7 .9 1 .9 .7 1 .8 .9 .4 .9 1.3 .9 .8 .9-.3 .9 .7 1 .4 .9 .6 .9 1.4 .9 .4 .9 .3 1-.8 .9 1.1 .9 1.1 .9-.5 .9 .6 .9 .8 1-.1 .9 .6 .9 .4 .9 .2 .3-.2 .6-5.7 .9-5.3 1-6.6 .9-6.9 .9-5.1 .9 1.8 .9-5.9 1 2.4 .9-6.2 .9 1.4 .9-3.5 .6 .4 .3 3.1 .9 1.9 1 2 .9 2.4 .9 3.6 .9-2.1 .9-.4 1 2 .9 0 .9 2.6 .9-.3 .9 1.4 .9 2.2 1 1.9 .9 1.8 .9-1.9 .9 1.7 .9 2.8 1-.2 .9 .4 .9-.9 .9 1.3 .9 1.8 .9 0 1 2.5 .9-.1 .9 .6 .9 1.3 .9-1.2 1 1.7 .9-.5 .9 2.3 .9-.9 .9 .6 .9 1.5 1-.3 .9 .5 .9 .3 .9 1 .9 .6 1 .4 .9-.1 .6 .6" stroke="#4040c0"/>
<path d="M324.4 180.2l.9 .1 .9 0 1 0 .9 0 .9 0 .9 0 .9-0 .9 0 1 0 .9 0 .3 0 .6-3.5 .9-4.3 .9-3.3 1-2.6 .9-2.2 .9-1.4 .9-1.1 .9-1.3 .9-.4 1-1.3 .3 .4 .6 .3 .9 1.5 .9 1.1 .9 .8 .9 1.1 1 1 .9 .9 .9 .9 .9 .7 .9 .5 1 1.1 .9 .1 .9 .7 .9 .7 .9 .3 .9 .5 1 .6 .9 .7 .9 .4 .9 .2 .9 .5 1 .3 .9 .4 .9 .2 .9 .4 .9 .2 .9 .4 1 .2 .9 .2 .9 .2 .9 .3 .9 .1 1 .2 .9 .2 .9 .2 .9 .1 .9 .2 .9 .1 1 .2 .9 .2 .9 0 .9 .1 .9 .1 1 .1 .9 .2 .6 0 .3-1.9 .9-4.8 .9-3.8 .9-3 1-1.9 .9-1.7 .9-1.5 .9-1 .9-.6 .9-.9 .4-.3 .6 1.1 .9 .5 .9 1.3 .9 .3 .9 1.3 1 .7 .9 .9 .9 .4 .9 .6 .9 .7 .9 .6 1 .6 .9 .6 .9 .5 .9 .5 .9 .6 1 .3 .9 .6 .9 .5 .9 .2 .9 .6 .9 .2 1 .5 .9 .4 .9 .4 .9 .2 .9 .2 1 .4 .9 .3 .9 .3 .9 .2 .9 .4 .9 .1 1 .3 .9 .2 .9 .2 .9 .3 .9 .2 1 .1 .9 .1 .9 .3 .9 .1 .9 .2 .9 .2 .7 .1 .3-1.6 .9-4.8 .9-4.2 .9-2.5 .9-2.9 .9-1.8 1-1.6 .9-.9 .9-.7 .9-.1 .6-1.3 .3 .6 1 .8 .9 1.2 .9 1.2 .9 0 .9 1.1 .9 .5 1 .5 .9 1.1 .9 .3 .9 .9 .9 .5 1 .3 .9 1 .9 .4 .9 .4 .9 .3 .9 .7 1 .3 .9 .8 .9 .5 .9 .2 .9 .2 1 .5 .9 .5 .9 .4 .9 .1 .9 .5 .9 .6 1 .3 .9-.1 .9 .5 .9 .3 .9 .3 1 .3 .9 .3 .9 .2 .9 .4 .9 .1 .9 .3 1 .1 .9 .2 .9 .3 .9 .2 .3 .1 .6-3 .9-3.4 1-2.4 .9-2.7 .9-1.2 .9-1.9 .9-.9 1-.6 .9-.9 .9-.7 .9-.8 .6-.3 .3 1.2 .9 .5 1 .5 .9 1 .9 .8 .9 .8 .9 .7 1 .6 .9 1.1 .9 1 .9 .1 .9 .9 .9 .8 1 .2 .9 .7 .9 .4 .9 .8 .9 .2 1 .5 .9 .4 .9 .6 .9 .4 .9 .2 .9 .4 1 .5 .9 .5 .9 .1 .9 .5 .9 .2 1 .4 .9 .2 .9 .3 .9 .4 .9 .1 .9 .4 1 .1 .9 .3 .9 .3 .9 .2 .9 .2 1 .2 .9 .1 .6 .2" stroke="#b02060"/>
<path d="M324.4 180.3l.9-.1 .9 0 1 .1 .9-.1 .9 .1 .9-0 .9 0 .9 0 1-.1 .9 .1 .3-0 .6-3.9 .9-4.7 .9-3.6 1-3 .9-1.8 .9-2.1 .9-1.6 .9-.7 .9-1.4 1-0 .3-0 .6 .3 .9 1.4 .9 .9 .9 1.3 .9 .7 1 1.1 .9 .8 .9 .7 .9 1.1 .9 .7 1 .5 .9 .7 .9 .7 .9 .8 .9 .4 .9 .7 1 .5 .9 .6 .9 .5 .9 .1 .9 .5 1 .6 .9 .3 .9 .3 .9 .4 .9 .2 .9 .4 1 .3 .9 .3 .9 .2 .9 .3 .9 .1 1 .3 .9 .2 .9 .2 .9 .2 .9 .2 .9 .2 1 .2 .9 .1 .9 .1 .9 .1 .9 .2 1 .1 .9 .2 .6 .1 .3-1.8 .9-4.6 .9-3.3 .9-2.6 1-1.6 .9-2.5 .9-.5 .9-1.2 .9-.9 .9-.4 .4-.3 .6 1.4 .9 .5 .9 .8 .9 1 .9 .8 1 .3 .9 1.2 .9 .2 .9 .7 .9 .9 .9 .7 1 .5 .9 .6 .9 .5 .9 .5 .9 .4 1 .5 .9 .4 .9 .4 .9 .3 .9 .3 .9 .6 1 .4 .9 .3 .9 .3 .9 .3 .9 .3 1 .3 .9 .3 .9 .2 .9 .4 .9 .1 .9 .4 1 .1 .9 .2 .9 .3 .9 .2 .9 .1 1 .3 .9 0 .9 .1 .9 .2 .9 .1 .9 .2 .7 .2 .3-1.6 .9-4.9 .9-4 .9-3 .9-2.2 .9-1.7 1-1.1 .9-1.6 .9-.4 .9-1.1 .6-.4 .3 1.1 1-.1 .9 1.5 .9 .6 .9 .8 .9 .6 .9 .9 1 .7 .9 .9 .9 1 .9 .5 .9 .5 1 .5 .9 .8 .9 .7 .9 .6 .9 .3 .9 0 1 1 .9 .5 .9 .3 .9 .4 .9 .5 1 .6 .9 .3 .9 .3 .9 .2 .9 .5 .9 .3 1 .4 .9 .2 .9 .1 .9 .4 .9 .3 1 .3 .9 .3 .9 .1 .9 .3 .9 .1 .9 .3 1 .2 .9 .3 .9 0 .9 .2 .3 .1 .6-2.7 .9-3.5 1-2.6 .9-1.9 .9-2 .9-1.5 .9-1.4 1-.4 .9-.9 .9-.7 .9-.6 .6-.6 .3 .6 .9 .8 1 1.3 .9 .1 .9 1.5 .9-0 .9 .8 1 .8 .9 .9 .9 .2 .9 .8 .9 .3 .9 1.2 1 .1 .9 .9 .9 0 .9 .6 .9 .3 1 .7 .9 .4 .9 .5 .9 .2 .9 .3 .9 .4 1 .4 .9 .3 .9 .2 .9 .4 .9 .5 1 .1 .9 .3 .9 .5 .9-.1 .9 .3 .9 .4 1 .1 .9 .2 .9 .3 .9 .1 .9 .3 1 .2 .9 .1 .6 .3" stroke="#3020a0"/>
<path d="M324.4 180.3l.9-0 .9-0 1-.1 .9 .1 .9-.1 .9 .1 .9-0 .9-0 1-0 .9 0 .3 0 .6-3 .9-3.5 .9-3.4 1-2 .9-1.7 .9-1.2 .9-1.2 .9-1 .9-.8 1-.3 .3-.1 .6 1 .9 .9 .9 .9 .9 1.2 .9 .6 1 .7 .9 .5 .9 1.2 .9 .6 .9 .4 1 1 .9 0 .9 .8 .9 .4 .9 .5 .9 .6 1 .2 .9 .6 .9 .3 .9 .3 .9 .3 1 .3 .9 .3 .9 .2 .9 .3 .9 .3 .9 .2 1 .2 .9 .2 .9 .2 .9 .2 .9 .1 1 .3 .9 0 .9 .2 .9 .1 .9 .1 .9 .2 1 0 .9 .1 .9 .2 .9 0 .9 0 1 .3 .9 0 .6-0 .3-1.5 .9-3.9 .9-2.9 .9-2.1 1-2.3 .9-1.4 .9-1.2 .9-.7 .9-.3 .9-.3 .4-.6 .6 .2 .9 1 .9 .7 .9 .4 .9 1.1 1 .5 .9 .4 .9 .8 .9 .6 .9 .5 .9 .3 1 .7 .9 .4 .9 .4 .9 .5 .9 .4 1 .3 .9 .4 .9 .4 .9 .4 .9 .2 .9 .4 1 .3 .9 .3 .9 .3 .9 .1 .9 .4 1 .3 .9 0 .9 .4 .9 .2 .9 .2 .9 .2 1 .2 .9 .2 .9 .2 .9 .1 .9 .2 1 .1 .9 .3 .9 .1 .9 .1 .9 .1 .9 .1 .7 .1 .3-1.3 .9-4.3 .9-3.4 .9-2.4 .9-2.5 .9-1.4 1-1.1 .9-.8 .9-1.1 .9-.3 .6-.8 .3 .4 1 1.1 .9 .6 .9 .3 .9 1 .9 .6 .9 .9 1 .4 .9 1 .9 .2 .9 .5 .9 .8 1 .4 .9 .6 .9 .5 .9 .3 .9 .5 .9 .4 1 .4 .9 .6 .9 .5 .9 .1 .9 .7 1 .2 .9 .3 .9 .1 .9 .4 .9 0 .9 .7 1 .2 .9 .3 .9 .4 .9 0 .9 .4 1 .2 .9 .2 .9 .2 .9 .2 .9 .2 .9 .2 1 .2 .9 .2 .9 .2 .9 .2 .3 .1 .6-2.3 .9-3.1 1-2 .9-2.2 .9-1.3 .9-1.1 .9-1 1-1.1 .9 0 .9-.9 .9-.2 .6-0 .3 .5 .9 .5 1 .7 .9 .5 .9 .5 .9 .8 .9 .8 1 .2 .9 1 .9 .5 .9 .6 .9 .3 .9 .6 1 .5 .9 .4 .9 .5 .9 .5 .9 .2 1 .6 .9 .4 .9 .2 .9 .5 .9 .3 .9 0 1 .5 .9 .4 .9 .3 .9 .2 .9 .3 1 .3 .9 .1 .9 .4 .9 .1 .9 .2 .9 .2 1 .3 .9 .1 .9 .1 .9 .3 .9 .2 1 .1 .9 .2 .6 .1" stroke="#3020a0"/>
<path d="M324.4 180.3l.9 0 .9-0 1-.1 .9 .1 .9-0 .9 0 .9 0 .9 0 1-.1 .9 .1 .3-.1 .6-3.1 .9-3.9 .9-3 1-2.1 .9-2.2 .9-1.4 .9-.8 .9-.9 .9-.4 1-1.2 .3 .5 .6 .4 .9 1 .9 .9 .9 .6 .9 .9 1 .6 .9 .9 .9 .5 .9 1 .9 .5 1 .9 .9-0 .9 .5 .9 .8 .9 .4 .9 .4 1 .5 .9 .2 .9 .3 .9 .5 .9 .4 1 .3 .9 .4 .9 .3 .9 .2 .9 .3 .9 .1 1 .4 .9 .2 .9 .1 .9 .2 .9 .2 1 .2 .9 .3 .9 .1 .9 .2 .9 .1 .9 .1 1 .1 .9 .2 .9 .2 .9 .1 .9 .1 1 0 .9 .1 .6 .1 .3-1.5 .9-3.7 .9-3.1 .9-2.1 1-1.7 .9-1.3 .9-1.6 .9-.5 .9-.5 .9-.6 .4-.2 .6 .5 .9 .7 .9 .7 .9 .4 .9 .9 1 .2 .9 1 .9 .9 .9 .2 .9 .3 .9 .5 1 .5 .9 .4 .9 .3 .9 .7 .9 .2 1 .5 .9 .4 .9 .2 .9 .4 .9 .6 .9 .1 1 .3 .9 .5 .9 .2 .9 .3 .9 .2 1 .2 .9 .2 .9 .4 .9 .3 .9 .1 .9 .1 1 .3 .9 .1 .9 .2 .9 .2 .9 .2 1 .1 .9 .3 .9-0 .9 .2 .9 .1 .9 .1 .7 .1 .3-1.3 .9-4.2 .9-3.6 .9-2.6 .9-2.1 .9-1.4 1-1.5 .9-.6 .9-.6 .9-1.2 .6 .1 .3 .3 1 .7 .9 .2 .9 .9 .9 .9 .9 .7 .9 .6 1 .4 .9 .9 .9 .3 .9 .5 .9 .7 1 .3 .9 .6 .9 .3 .9 .2 .9 .4 .9 .9 1 .2 .9 .3 .9 .5 .9 .6 .9 .2 1 .4 .9 .3 .9 .2 .9 .4 .9 .3 .9 .1 1 .5 .9 0 .9 .5 .9 .2 .9 .3 1 .2 .9 .3 .9 .3 .9 .2 .9 .1 .9 .2 1 .2 .9 .3 .9 0 .9 .3 .3 .1 .6-2.6 .9-3.2 1-2.6 .9-1.7 .9-1.7 .9-1.7 .9-1.1 1-.5 .9-.9 .9-.8 .9-.2 .6-.2 .3 .7 .9 .8 1 .5 .9 1 .9 .7 .9 1.1 .9 1 1 .4 .9 .6 .9 .7 .9 .3 .9 .6 .9 .8 1 .6 .9 .5 .9 .6 .9 .3 .9 .8 1 .1 .9 .5 .9 .5 .9 .6 .9 .1 .9 .5 1 .4 .9 .2 .9 .3 .9 .3 .9 .4 1 .2 .9 .1 .9 .4 .9 .3 .9 .3 .9 .2 1 .1 .9 .2 .9 .2 .9 .2 .9 .2 1 .3 .9 .2 .6-0" stroke="#a00040"/>
<path d="M324.4 180.2l.9 .1 .9 0 1-0 .9-0 .9 0 .9 0 .9 0 .9-0 1 0 .9-0 .3 0 .6-2.9 .9-3.5 .9-2.9 1-2.2 .9-1.6 .9-1 .9-1.2 .9-.9 .9-.9 1-0 .3-.2 .6 .6 .9 .7 .9 .6 .9 1 .9 .2 1 .7 .9 .7 .9 .6 .9 .3 .9 1 1 .5 .9 .1 .9 .9 .9 .3 .9 .4 .9 .5 1 .4 .9 .3 .9 .3 .9 .3 .9 .3 1 .4 .9 .3 .9 .2 .9 .3 .9 .3 .9 .1 1 .4 .9 .1 .9 .2 .9 .3 .9 .2 1 .1 .9 .2 .9 .2 .9 .1 .9 .1 .9 .2 1 .1 .9 .2 .9 .1 .9 .1 .9 0 1 .2 .9 0 .6 .2 .3-1.8 .9-3.7 .9-3.3 .9-2.6 1-1.7 .9-1.5 .9-.6 .9-.9 .9-.8 .9-.5 .4-.3 .6 .7 .9 1.1 .9 .6 .9 1.1 .9 .7 1 .5 .9 .9 .9 .6 .9 .5 .9 .5 .9 .6 1 .6 .9 .6 .9 .7 .9 .5 .9 .4 1 .4 .9 .4 .9 .5 .9 .3 .9 .2 .9 .5 1 .4 .9 .2 .9 .3 .9 .3 .9 .1 1 .3 .9 .2 .9 .4 .9 .1 .9 .3 .9 .2 1 .2 .9 .1 .9 .3 .9 0 .9 .1 1 .2 .9 .3 .9 .1 .9 .1 .9 .1 .9 .2 .7-0 .3-1.2 .9-3.5 .9-3 .9-2.2 .9-2.1 .9-.7 1-1.3 .9-.6 .9-.9 .9-0 .6-.5 .3 0 1 .7 .9 .6 .9 .3 .9 .6 .9 .6 .9 .4 1 .4 .9 .4 .9 .8 .9 .2 .9 .1 1 .8 .9 .2 .9 .4 .9 .2 .9 .3 .9 .5 1 .4 .9 .5 .9 .2 .9 .3 .9 .2 1 .1 .9 .3 .9 .4 .9 .3 .9 .2 .9 .2 1 .3 .9 .1 .9 .4 .9 .2 .9 .2 1 .1 .9 .1 .9 .3 .9 .2 .9 .2 .9 .2 1 .2 .9 0 .9 .2 .9 .2 .3 0 .6-2.1 .9-3.1 1-1.8 .9-1.9 .9-2 .9-.7 .9-.8 1-.6 .9-1.2 .9-.5 .9-.2 .6 .3 .3-.2 .9 .7 1 .2 .9 .5 .9 .7 .9 .5 .9 .3 1 .5 .9 1 .9 .2 .9 .7 .9 .3 .9 .1 1 .8 .9 .2 .9 .2 .9 .5 .9 .7 1 .1 .9 .4 .9 .4 .9-.1 .9 .6 .9 .3 1 .2 .9 .3 .9 .5 .9 .1 .9 .2 1 .3 .9 .1 .9 .3 .9 .3 .9 .2 .9 .2 1 .1 .9 .5 .9-0 .9 .2 .9 .3 1 .1 .9 .1 .6 .3" stroke="#800060"/>
<path d="M324.4 180.3l.9 0 .9 0 1-0 .9 0 .9-0 .9-0 .9 0 .9 0 1-0 .9 0 .3 0 .6-3.9 .9-4.5 .9-4 1-2.5 .9-2.6 .9-1.6 .9-1 .9-1.2 .9-1.2 1-.3 .3-.9 .6 1.7 .9 .6 .9 1.7 .9 .7 .9 .7 1 1.5 .9 .4 .9 1.1 .9 .8 .9 .7 1 .6 .9 .7 .9 .6 .9 .7 .9 .8 .9 0 1 .5 .9 .6 .9 .6 .9 .5 .9 .3 1 .4 .9 .5 .9 .3 .9 .2 .9 .4 .9 .3 1 .3 .9 .3 .9 .3 .9 .2 .9 .3 1 .2 .9 .1 .9 .2 .9 .4 .9 .1 .9 .1 1 .2 .9 .1 .9 .3 .9 0 .9 .2 1 .1 .9 .2 .6 0 .3-2.1 .9-5.3 .9-4.3 .9-2.6 1-2.7 .9-2.4 .9-.8 .9-1.5 .9-1.2 .9 0 .4-.6 .6 .4 .9 2.2 .9 1.3 .9 .4 .9 1.4 1 .9 .9 1 .9 .6 .9 1.2 .9 .6 .9 .8 1 .9 .9 .5 .9 .8 .9 .7 .9 .2 1 1.2 .9 .5 .9 .5 .9 .4 .9 .4 .9 .5 1 .2 .9 .6 .9 .4 .9 .3 .9 .4 1 .3 .9 .2 .9 .4 .9 .2 .9 .4 .9 .1 1 .3 .9 .3 .9 .2 .9 .2 .9 .2 1 .1 .9 .2 .9 .2 .9 0 .9 .2 .9 .3 .7 0 .3-1.6 .9-5.1 .9-3.9 .9-3.4 .9-1.6 .9-2.1 1-2 .9-1 .9-1.1 .9-.3 .6-.3 .3-.1 1 1.2 .9 1.5 .9 .3 .9 1.4 .9 .3 .9 1 1 .7 .9 .7 .9 1.2 .9 .3 .9 .8 1 .7 .9 .6 .9 .6 .9 .5 .9 .5 .9 .7 1 .2 .9 .7 .9 .6 .9 .2 .9 .4 1 .7 .9 .1 .9 .5 .9 .3 .9 .4 .9 .2 1 .4 .9 .5 .9 .1 .9 .2 .9 .3 1 .2 .9 .3 .9 .2 .9 .2 .9 .3 .9 .3 1 .1 .9 .2 .9 .3 .9 .1 .3-0 .6-3.2 .9-3.7 1-3.5 .9-2.7 .9-2 .9-1.5 .9-1.3 1-.9 .9-.9 .9-.9 .9-1.2 .6-.3 .3 1.1 .9 1.2 1 .4 .9 .8 .9 .7 .9 1.1 .9 .3 1 .8 .9 .5 .9 1 .9 .3 .9 .8 .9 .5 1 .5 .9 .5 .9 .6 .9 .5 .9 .5 1 .4 .9 .5 .9 .4 .9 .1 .9 .5 .9 .6 1 .5 .9 .1 .9 .5 .9 .3 .9 .2 1 .7 .9 .1 .9 .3 .9 .1 .9 .5 .9 .2 1 .3 .9 .3 .9 .2 .9 .3 .9 .2 1 .2 .9 .2 .6 .1" stroke="#c01030"/>
<path d="M324.4 180.3l.9-.1 .9 .1 1-0 .9-0 .9-.1 .9 .1 .9 0 .9-0 1 0 .9 0 .3-0 .6-2.5 .9-3.3 .9-2.4 1-1.9 .9-1.4 .9-1.2 .9-1.1 .9-.6 .9-.7 1-.3 .3 .1 .6 .4 .9 .7 .9 .8 .9 .3 .9 1 1 .2 .9 .9 .9 .6 .9 .4 .9 .6 1 .1 .9 .5 .9 .4 .9 .4 .9 .4 .9 .6 1 .2 .9 .4 .9 .2 .9 .4 .9 .3 1 .3 .9 .1 .9 .2 .9 .4 .9 .1 .9 .2 1 .3 .9 .2 .9 .1 .9 .2 .9 .1 1 .2 .9 .1 .9 .2 .9 .1 .9 .2 .9 .1 1 .1 .9 .1 .9 0 .9 .2 .9 .1 1 .1 .9 .1 .6 .1 .3-1.3 .9-3.1 .9-2.5 .9-1.8 1-1.5 .9-1.1 .9-.6 .9-1.1 .9-.4 .9-.4 .4-0 .6 .6 .9 .5 .9 .5 .9 .5 .9 .8 1 .7 .9 .3 .9 .7 .9 .5 .9 .4 .9 .4 1 .6 .9 .3 .9 .4 .9 .4 .9 .1 1 .6 .9 .2 .9 .3 .9 .3 .9 .2 .9 .5 1 .2 .9 .2 .9 .3 .9 .2 .9 .1 1 .3 .9 .1 .9 .3 .9 .1 .9 .2 .9 .2 1 .1 .9 .2 .9 .1 .9 .1 .9 .2 1 .1 .9 .1 .9 .1 .9 .1 .9 .1 .9 .1 .7 .1 .3-1.2 .9-3.3 .9-2.9 .9-2.2 .9-1.7 .9-1.2 1-1.2 .9-.5 .9-.7 .9-.8 .6 .4 .3-.2 1 .7 .9 .6 .9 .6 .9 .8 .9 .3 .9 .6 1 .4 .9 .6 .9 .2 .9 .6 .9 .2 1 .6 .9 .5 .9 .4 .9 .3 .9 .6 .9 .4 1 .3 .9 .1 .9 .4 .9 .3 .9 .3 1 .2 .9 .4 .9 .3 .9 .2 .9 .1 .9 .3 1 .2 .9 .2 .9 .3 .9 .2 .9 .2 1 .2 .9 .2 .9 .1 .9 .2 .9 .1 .9 .2 1 .1 .9 .2 .9 .1 .9 .1 .3 .2 .6-2.1 .9-2.3 1-1.9 .9-1.5 .9-1.5 .9-.9 .9-.8 1-.8 .9 .1 .9-1.1 .9-.6 .6 .2 .3 .3 .9 .4 1 .3 .9 .2 .9 1 .9 .8 .9-.1 1 .4 .9 .4 .9 .4 .9 .7 .9-0 .9 .5 1 .2 .9 .4 .9 .4 .9 .4 .9-.1 1 .5 .9 .2 .9 .2 .9 .3 .9 .3 .9 .5 1-.1 .9 .3 .9 .4 .9 .3 .9 0 1 .3 .9 0 .9 .5 .9 .1 .9 .1 .9 .2 1 .3 .9 .1 .9 .2 .9-0 .9 .3 1 .1 .9 .1 .6 .1" stroke="#200070"/>
<path d="M324.4 180.3l.9 0 .9-0 1-0 .9 0 .9 0 .9 0 .9 0 .9 0 1-.1 .9 .1 .3-0 .6-3.4 .9-4.3 .9-3.2 1-2.5 .9-2.4 .9-1.5 .9-.6 .9-1.3 .9-.6 1-.3 .3-.6 .6 .6 .9 1.1 .9 .9 .9 .6 .9 1.3 1 .6 .9 .6 .9 1.6 .9 .2 .9 .5 1 .7 .9 .8 .9 .3 .9 .6 .9 .8 .9 .2 1 .6 .9 .4 .9 .5 .9 .3 .9 .4 1 .4 .9 .3 .9 .2 .9 .3 .9 .5 .9 .1 1 .4 .9 .2 .9 .2 .9 .2 .9 .2 1 .3 .9 .2 .9 .1 .9 .2 .9 .2 .9 .1 1 .2 .9 .1 .9 .2 .9 0 .9 .2 1 .1 .9 .2 .6-0 .3-1.7 .9-4 .9-3.1 .9-2.7 1-1.8 .9-1.5 .9-.8 .9-1.3 .9-.8 .9 .7 .4-1.2 .6 .5 .9 1.2 .9 1.1 .9 .3 .9 .4 1 1.1 .9 .4 .9 1 .9 .7 .9 .7 .9 .3 1 .9 .9 .4 .9 .5 .9 .4 .9 .5 1 .6 .9 .4 .9 .1 .9 .5 .9 .4 .9 .4 1 .3 .9 .4 .9 .1 .9 .4 .9 .3 1 .2 .9 .3 .9 .3 .9 .1 .9 .3 .9 .3 1 .1 .9 .2 .9 .2 .9 .1 .9 .3 1 .1 .9 .1 .9 .2 .9 .2 .9 .1 .9 .1 .7 .1 .3-1.5 .9-4.6 .9-3.9 .9-2.6 .9-2.5 .9-1.3 1-1.8 .9-.5 .9-1.2 .9-.3 .6-.8 .3 1 1 .7 .9 .5 .9 1.1 .9 .1 .9 1.1 .9 .5 1 .5 .9 .8 .9 .8 .9 .7 .9 .6 1 .4 .9 .5 .9 .5 .9 .3 .9 .7 .9 .5 1 .2 .9 .2 .9 .7 .9 .3 .9 .4 1 .2 .9 .4 .9 .5 .9 .2 .9 .4 .9 .2 1 .2 .9 .7 .9 .2 .9 .2 .9 .3 1 .1 .9 .3 .9 .1 .9 .2 .9 .3 .9 .2 1 .2 .9 .2 .9 .2 .9 .2 .3 .1 .6-2.5 .9-3.1 1-2.4 .9-2 .9-1.7 .9-1.2 .9-.8 1-1.5 .9-.7 .9-.5 .9-.3 .6 .1 .3 .5 .9 .8 1 1 .9 .4 .9 1 .9 .3 .9 .7 1 .8 .9 .6 .9 .5 .9 .5 .9 .7 .9 .2 1 .9 .9 .4 .9 .5 .9 .4 .9 .4 1 .4 .9 .5 .9 .1 .9 .8 .9 .1 .9 .4 1 .5 .9 .3 .9 .2 .9 .2 .9 .3 1 .3 .9 .3 .9 .3 .9 .2 .9 .2 .9 .2 1 .2 .9 .3 .9 .1 .9 .2 .9 .3 1 .1 .9 .2 .6 .1" stroke="#a00040"/>
<path d="M324.4 180.1l.9-.1 .9 .2 1 .1 .9 0 .9-.1 .9 .1 .9 0 .9 0 1 0 .9 0 .3 0 .6-9.6 .9-13.2 .9-8.3 1-6.6 .9-5.8 .9-3.9 .9-7.3 .9-3.3 .9 1.2 1-1.5 .3-7.4 .6 5.1 .9 1.6 .9 4.8 .9 3.4 .9 2.3 1-.1 .9 1.3 .9 5.3 .9 2.4 .9 .7 1 2.2 .9 2.9 .9 2.3 .9 1.6 .9-1.1 .9 3.6 1 1.3 .9 1.3 .9 2 .9-.4 .9 1.6 1 .7 .9 .2 .9 2.2 .9 .7 .9 1.4 .9-.2 1 1.1 .9 .4 .9 .4 .9 2.3 .9-.9 1 2 .9 .5 .9 .9 .9-1 .9 1.4 .9 0 1 .9 .9-.3 .9 1.3 .9 0 .9 .7 1 .1 .9-.1 .6 .5 .3-5.2 .9-13.6 .9-8.6 .9-6.4 1-5.9 .9-5.8 .9-7.3 .9-.1 .9-.9 .9-3 .4 1.5 .6-2.2 .9 2.8 .9 6.1 .9-3.2 .9 8.5 1-1.3 .9 3.5 .9-.2 .9 1.9 .9 3.2 .9 1.4 1 4.3 .9 1.7 .9-.7 .9 1 .9 2.5 1-.1 .9 .8 .9 4.5 .9-1.2 .9-.5 .9 3.2 1 1 .9 1 .9 .5 .9 3.6 .9-1.7 1 1.5 .9 .1 .9 1.7 .9 .4 .9 .4 .9 .3 1 1.4 .9 .3 .9 1.4 .9 .1 .9 .3 1-.3 .9 1.9 .9 .1 .9 .7 .9 0 .9 1 .7-.3 .3-2.6 .9-13.4 .9-7.1 .9-6.2 .9-5.8 .9-4.4 1-3.4 .9-4 .9 .2 .9 .1 .6 1 .3-1.4 1 3.1 .9-2.3 .9 6.4 .9 .4 .9 .3 .9-.5 1 7.2 .9-1 .9-.3 .9 5.7 .9-2.3 1 5.8 .9-1.8 .9 2.5 .9 .5 .9 .1 .9-.3 1 4.1 .9-1.9 .9 1.1 .9 4.5 .9-.7 1 .4 .9 0 .9 1.7 .9 1.9 .9 .8 .9-.2 1 2 .9-.1 .9 .8 .9 1.4 .9-1.6 1 2.1 .9-.7 .9 1.3 .9 .7 .9 1.5 .9 .5 1 .1 .9 .6 .9 1.1 .9-1.3 .3 .1 .6-5.8 .9-7.9 1-6 .9-4 .9-6.6 .9-2.6 .9-3.9 1-3 .9-4.3 .9 3.2 .9-1.7 .6 .5 .3-.7 .9 4.9 1-3.6 .9 4.1 .9 5.3 .9-.9 .9-.4 1 2.5 .9 3.7 .9-.6 .9 1.9 .9 2.8 .9-0 1 3.3 .9 .2 .9 2.3 .9-1.7 .9 1 1 2.9 .9 .3 .9-.4 .9 4.2 .9-.7 .9 .3 1 .8 .9 1.8 .9 2.2 .9-.4 .9-.7 1 2 .9 .1 .9 1 .9-.2 .9 1.7 .9-0 1 .6 .9 1.4 .9-.3 .9 .1 .9 .9 1 1 .9 .5 .6 .6" stroke="#b050c0"/>
<path d="M324.4 180.3l.9-0 .9 0 1-0 .9-0 .9-0 .9 0 .9-0 .9 0 1-0 .9-0 .3-0 .6-2.9 .9-3.6 .9-2.6 1-2.4 .9-1.6 .9-1.4 .9-.8 .9-1.1 .9-.5 1-.6 .3 .1 .6 .6 .9 .6 .9 .6 .9 1.1 .9 .6 1 .6 .9 .6 .9 .6 .9 .3 .9 .6 1 .6 .9 .4 .9 .5 .9 .6 .9 .4 .9 .3 1 .3 .9 .7 .9 .2 .9 .2 .9 .5 1 .2 .9 .3 .9 .4 .9 .2 .9 .2 .9 .3 1 .1 .9 .3 .9 .2 .9 .2 .9 .2 1 .2 .9 .2 .9 .1 .9 .2 .9 .1 .9 .1 1 .1 .9 .2 .9 .1 .9 .2 .9 .1 1 .1 .9 .2 .6-.1 .3-1.4 .9-3.7 .9-2.8 .9-1.7 1-1.7 .9-1.6 .9-1 .9-.6 .9-.6 .9-0 .4-1 .6 1.1 .9 .5 .9 .7 .9 .9 .9 .4 1 .5 .9 .8 .9 .6 .9 .4 .9 .5 .9 .5 1 .7 .9 .5 .9 .4 .9 .6 .9 .3 1 .2 .9 .4 .9 .4 .9 .2 .9 .3 .9 .3 1 .4 .9 .3 .9 .3 .9 .2 .9 .3 1 .2 .9 .2 .9 .2 .9 .2 .9 .3 .9 .1 1 .2 .9 .2 .9 .2 .9 0 .9 .2 1 .2 .9 .2 .9 .1 .9 .1 .9 .1 .9 .1 .7 .2 .3-1.2 .9-3.6 .9-2.6 .9-2.3 .9-1.7 .9-1.2 1-1.2 .9-.9 .9-.7 .9-0 .6-.4 .3-0 1 .7 .9 .6 .9 0 .9 1.5 .9 .1 .9 .5 1 .3 .9 .2 .9 .8 .9 .4 .9 .4 1 .4 .9 .3 .9 .1 .9 .8 .9 .3 .9 .3 1 .6 .9-0 .9 .4 .9 .5 .9 .1 1 .2 .9 .4 .9 .1 .9 .4 .9 .3 .9 .1 1 .3 .9 .2 .9 .3 .9 .2 .9 .2 1 .1 .9 .2 .9 .1 .9 .2 .9 .3 .9 .2 1-0 .9 .3 .9 .1 .9 .2 .3 0 .6-2.3 .9-2.8 1-2.4 .9-1.7 .9-1.6 .9-1.3 .9-1.3 1 0 .9-1 .9-.6 .9-.2 .6-.5 .3 .4 .9 .8 1 .9 .9 .7 .9 .7 .9 .8 .9 .5 1 .8 .9 .6 .9 .6 .9 .2 .9 .7 .9 .6 1 .2 .9 .7 .9 .3 .9 .5 .9 .4 1 .4 .9 .6 .9 0 .9 .4 .9 .6 .9 .1 1 .4 .9 .3 .9 .1 .9 .3 .9 .3 1 .2 .9 .3 .9 .4 .9 .2 .9 .1 .9 .4 1 .1 .9 .2 .9 .2 .9 0 .9 .3 1 .1 .9 .1 .6 .2" stroke="#3020a0"/>
</g>
<path d="M324.4 180.3l.9 0 .9 0 .9 0 .9 0 .9 0 1 0 .9 0 .9 0 .9 0 .9 0 1.2-14.5 1.1-22 1.2-18.3 1.2-12.7 1.1-15.8 1.2-17.3 1.1-6.3 1.2-12.5 1.1-10.9 1.2 8.9 1.1 8.8 1.2 7.2 1.2 11.3 1.1 11.2 1.2 10.5 1.2 13.3 1.1 7.4 1.2 9.3 1.2 2.3 1.1 8.1 1.2 .7 1 5.2 1.1 1.7 1 2.6 1.1 .3 1 2.1 1 .3 1.1 1.4 1-.1 1.1 1.4 1 4.7 1-3.6 1 2.5 1 1.1 1 1.6 1-.8 1 2.6 1-.8 1 3.5 .9-3.1 1 2.7 1 .6 .9 .5 1 .6 1 .6 .9 .5 1 .6 1-.6 1-18.9 1-19.2 1-14.9 1-16.5 1-19.6 1-17.5 1.2-13.1 1.2-14.1 1.6 33.1 1-.6 1-6.4 1 11.5 1 9.4 .9 6.2 1 2.2 .9 5.5 1 5.3 .9 5.6 1.1 1.6 1.1 6.4 1 5.8 1.1 7.2 1.1 3.5 1 .1 1.1 5.8 1 1.5 1.1 1.8 .9 7.1 .9 2 1 .1 .9 5.1 1-.2 1 1.7 1-.4 1 4.3 1-.9 1 .4 1 3.3 1 .9 1-1.6 1 1.2 1 2.1 1 .4 1 .4 1 .4 1 .5 1 .4 1 .4 1-.6 1-19.8 1-17.7 1-15.1 1-15.3 1-15.3 1-17.6 1-7.7 1-4.5 1.5 3.3 1-3.8 1.5 13.3 1.1 5.4 1 7.8 .9 6.4 1 4.3 1 4.3 .9 5 1 6.6 1 1.6 1.1 1.7 1 3.1 1 1.8 1 3.9 .9 1.5 1 1.4 1 6 1-.4 1.1 1.9 1 3.2 1.1 3.5 1.1 2 1.1 1.2 1.3 3.3 1.4 4.1 .9-1.3 1 4.1 .9 .2 .9-2.5 1.1 3.1 1.1 .2 1.1 1.2 1 .8 1 2 1 .2 1.2 3.8 1.3 4.1 1.5-4.2 1-16.9 1-18.2 1-17.5 1-15.4 1-12.1 1-16.6 .9-7.4 1-2.6 .9-5.4 1.1 3.2 1.1 3.7 1 5.1 1 1.8 1.1 7.5 1 3.9 1.1 6.2 .9 1.9 1 10.1 .9 6.4 1.3 2.9 1.3 7.9 1.2 2.8 1.2 2 1 5.6 1-1.9 1 4.8 1 4.7 1-2 1 2.6 1 2.9 1-3.3 1 5.4 1 3.4 1-.7 1 .3 1 2 1 3.1 1 1.3 1 1 .9 2.3 1-1 1.1-.8 1-2.3 1.5 8.2 1.8-5.4 .7-.6" fill="none" stroke="#5fb35f" stroke-width="0.6" stroke-opacity="0.85"/>
<rect x="324.4" y="25.5" width="214.20" height="154.80" fill="none" stroke="#4e4e4e" stroke-width="1.25"/>
<line x1="324.4" y1="180.30" x2="327.40" y2="180.30" stroke="#4e4e4e" stroke-width="1"/>
<text x="309.26" y="183.29" font-size="8.3">0.0</text>
<line x1="324.4" y1="173.85" x2="326.10" y2="173.85" stroke="#4e4e4e" stroke-width="1"/>
<line x1="324.4" y1="167.40" x2="327.40" y2="167.40" stroke="#4e4e4e" stroke-width="1"/>
<text x="309.26" y="170.39" font-size="8.3">0.2</text>
<line x1="324.4" y1="160.95" x2="326.10" y2="160.95" stroke="#4e4e4e" stroke-width="1"/>
<line x1="324.4" y1="154.50" x2="327.40" y2="154.50" stroke="#4e4e4e" stroke-width="1"/>
<text x="309.26" y="157.49" font-size="8.3">0.4</text>
<line x1="324.4" y1="148.05" x2="326.10" y2="148.05" stroke="#4e4e4e" stroke-width="1"/>
<line x1="324.4" y1="141.60" x2="327.40" y2="141.60" stroke="#4e4e4e" stroke-width="1"/>
<text x="309.26" y="144.59" font-size="8.3">0.6</text>
<line x1="324.4" y1="135.15" x2="326.10" y2="135.15" stroke="#4e4e4e" stroke-width="1"/>
<line x1="324.4" y1="128.70" x2="327.40" y2="128.70" stroke="#4e4e4e" stroke-width="1"/>
<text x="309.26" y="131.69" font-size="8.3">0.8</text>
<line x1="324.4" y1="122.25" x2="326.10" y2="122.25" stroke="#4e4e4e" stroke-width="1"/>
<line x1="324.4" y1="115.80" x2="327.40" y2="115.80" stroke="#4e4e4e" stroke-width="1"/>
<text x="309.26" y="118.79" font-size="8.3"> .0</text>
<path transform="translate(309.26,118.79) scale(0.00405,-0.00405)" d="M515 0V1237L197 1010V1180L530 1409H696V0Z" fill="#111"/>
<line x1="324.4" y1="109.35" x2="326.10" y2="109.35" stroke="#4e4e4e" stroke-width="1"/>
<line x1="324.4" y1="102.90" x2="327.40" y2="102.90" stroke="#4e4e4e" stroke-width="1"/>
<text x="309.26" y="105.89" font-size="8.3"> .2</text>
<path transform="translate(309.26,105.89) scale(0.00405,-0.00405)" d="M515 0V1237L197 1010V1180L530 1409H696V0Z" fill="#111"/>
<line x1="324.4" y1="96.45" x2="326.10" y2="96.45" stroke="#4e4e4e" stroke-width="1"/>
<line x1="324.4" y1="90.00" x2="327.40" y2="90.00" stroke="#4e4e4e" stroke-width="1"/>
<text x="309.26" y="92.99" font-size="8.3"> .4</text>
<path transform="translate(309.26,92.99) scale(0.00405,-0.00405)" d="M515 0V1237L197 1010V1180L530 1409H696V0Z" fill="#111"/>
<line x1="324.4" y1="83.55" x2="326.10" y2="83.55" stroke="#4e4e4e" stroke-width="1"/>
<line x1="324.4" y1="77.10" x2="327.40" y2="77.10" stroke="#4e4e4e" stroke-width="1"/>
<text x="309.26" y="80.09" font-size="8.3"> .6</text>
<path transform="translate(309.26,80.09) scale(0.00405,-0.00405)" d="M515 0V1237L197 1010V1180L530 1409H696V0Z" fill="#111"/>
<line x1="324.4" y1="70.65" x2="326.10" y2="70.65" stroke="#4e4e4e" stroke-width="1"/>
<line x1="324.4" y1="64.20" x2="327.40" y2="64.20" stroke="#4e4e4e" stroke-width="1"/>
<text x="309.26" y="67.19" font-size="8.3"> .8</text>
<path transform="translate(309.26,67.19) scale(0.00405,-0.00405)" d="M515 0V1237L197 1010V1180L530 1409H696V0Z" fill="#111"/>
<line x1="324.4" y1="57.75" x2="326.10" y2="57.75" stroke="#4e4e4e" stroke-width="1"/>
<line x1="324.4" y1="51.30" x2="327.40" y2="51.30" stroke="#4e4e4e" stroke-width="1"/>
<text x="309.26" y="54.29" font-size="8.3">2.0</text>
<line x1="324.4" y1="44.85" x2="326.10" y2="44.85" stroke="#4e4e4e" stroke-width="1"/>
<line x1="324.4" y1="38.40" x2="327.40" y2="38.40" stroke="#4e4e4e" stroke-width="1"/>
<text x="309.26" y="41.39" font-size="8.3">2.2</text>
<line x1="324.4" y1="31.95" x2="326.10" y2="31.95" stroke="#4e4e4e" stroke-width="1"/>
<line x1="324.4" y1="25.50" x2="327.40" y2="25.50" stroke="#4e4e4e" stroke-width="1"/>
<text x="309.26" y="28.49" font-size="8.3">2.4</text>
<line x1="324.40" y1="180.3" x2="324.40" y2="177.30" stroke="#4e4e4e" stroke-width="1"/>
<text x="322.09" y="190.60" font-size="8.3">0</text>
<line x1="339.70" y1="180.3" x2="339.70" y2="178.60" stroke="#4e4e4e" stroke-width="1"/>
<line x1="355.00" y1="180.3" x2="355.00" y2="177.30" stroke="#4e4e4e" stroke-width="1"/>
<text x="350.38" y="190.60" font-size="8.3">50</text>
<line x1="370.30" y1="180.3" x2="370.30" y2="178.60" stroke="#4e4e4e" stroke-width="1"/>
<line x1="385.60" y1="180.3" x2="385.60" y2="177.30" stroke="#4e4e4e" stroke-width="1"/>
<text x="378.68" y="190.60" font-size="8.3"> 00</text>
<path transform="translate(378.68,190.60) scale(0.00405,-0.00405)" d="M515 0V1237L197 1010V1180L530 1409H696V0Z" fill="#111"/>
<line x1="400.90" y1="180.3" x2="400.90" y2="178.60" stroke="#4e4e4e" stroke-width="1"/>
<line x1="416.20" y1="180.3" x2="416.20" y2="177.30" stroke="#4e4e4e" stroke-width="1"/>
<text x="409.28" y="190.60" font-size="8.3"> 50</text>
<path transform="translate(409.28,190.60) scale(0.00405,-0.00405)" d="M515 0V1237L197 1010V1180L530 1409H696V0Z" fill="#111"/>
<line x1="431.50" y1="180.3" x2="431.50" y2="178.60" stroke="#4e4e4e" stroke-width="1"/>
<line x1="446.80" y1="180.3" x2="446.80" y2="177.30" stroke="#4e4e4e" stroke-width="1"/>
<text x="439.88" y="190.60" font-size="8.3">200</text>
<line x1="462.10" y1="180.3" x2="462.10" y2="178.60" stroke="#4e4e4e" stroke-width="1"/>
<line x1="477.40" y1="180.3" x2="477.40" y2="177.30" stroke="#4e4e4e" stroke-width="1"/>
<text x="470.48" y="190.60" font-size="8.3">250</text>
<line x1="492.70" y1="180.3" x2="492.70" y2="178.60" stroke="#4e4e4e" stroke-width="1"/>
<line x1="508.00" y1="180.3" x2="508.00" y2="177.30" stroke="#4e4e4e" stroke-width="1"/>
<text x="501.08" y="190.60" font-size="8.3">300</text>
<line x1="523.30" y1="180.3" x2="523.30" y2="178.60" stroke="#4e4e4e" stroke-width="1"/>
<line x1="538.60" y1="180.3" x2="538.60" y2="177.30" stroke="#4e4e4e" stroke-width="1"/>
<text x="531.68" y="190.60" font-size="8.3">350</text>
<line x1="50.5" y1="311.4" x2="264.8" y2="311.4" stroke="#e05a5a" stroke-width="1.3"/>
<line x1="50.5" y1="356.9" x2="264.8" y2="356.9" stroke="#7272e4" stroke-width="1.6"/>
<rect x="79.6" y="305.8" width="1.3" height="1.3" fill="#c8242c" fill-opacity="0.8"/>
<rect x="89.8" y="298.1" width="1.3" height="1.3" fill="#c8242c" fill-opacity="0.8"/>
<rect x="89.9" y="298.2" width="1.3" height="1.3" fill="#c8242c" fill-opacity="0.8"/>
<rect x="102.2" y="300.9" width="1.3" height="1.3" fill="#c8242c" fill-opacity="0.8"/>
<rect x="109.9" y="303.2" width="1.3" height="1.3" fill="#c8242c" fill-opacity="0.8"/>
<rect x="114.8" y="310.2" width="1.3" height="1.3" fill="#c8242c" fill-opacity="0.8"/>
<rect x="134.7" y="310.2" width="1.3" height="1.3" fill="#c8242c" fill-opacity="0.8"/>
<rect x="144.7" y="309.7" width="1.3" height="1.3" fill="#c8242c" fill-opacity="0.8"/>
<rect x="145.9" y="315.6" width="1.3" height="1.3" fill="#c8242c" fill-opacity="0.8"/>
<rect x="151.8" y="304.8" width="1.3" height="1.3" fill="#c8242c" fill-opacity="0.8"/>
<rect x="156.9" y="304.4" width="1.3" height="1.3" fill="#c8242c" fill-opacity="0.8"/>
<rect x="156.3" y="310.8" width="1.3" height="1.3" fill="#c8242c" fill-opacity="0.8"/>
<rect x="151.9" y="304.6" width="1.3" height="1.3" fill="#c8242c" fill-opacity="0.8"/>
<rect x="156.2" y="310.8" width="1.3" height="1.3" fill="#c8242c" fill-opacity="0.8"/>
<rect x="159.9" y="312.9" width="1.3" height="1.3" fill="#c8242c" fill-opacity="0.8"/>
<rect x="163.9" y="308.1" width="1.3" height="1.3" fill="#c8242c" fill-opacity="0.8"/>
<rect x="165.9" y="303.6" width="1.3" height="1.3" fill="#c8242c" fill-opacity="0.8"/>
<rect x="165.7" y="311.1" width="1.3" height="1.3" fill="#c8242c" fill-opacity="0.8"/>
<rect x="164.4" y="295.4" width="1.3" height="1.3" fill="#c8242c" fill-opacity="0.8"/>
<rect x="169.9" y="282.5" width="1.3" height="1.3" fill="#c8242c" fill-opacity="0.8"/>
<rect x="170.9" y="291.1" width="1.3" height="1.3" fill="#c8242c" fill-opacity="0.8"/>
<rect x="176.2" y="291.6" width="1.3" height="1.3" fill="#c8242c" fill-opacity="0.8"/>
<rect x="179.3" y="291.8" width="1.3" height="1.3" fill="#c8242c" fill-opacity="0.8"/>
<rect x="183.7" y="291.9" width="1.3" height="1.3" fill="#c8242c" fill-opacity="0.8"/>
<rect x="185.3" y="300.2" width="1.3" height="1.3" fill="#c8242c" fill-opacity="0.8"/>
<rect x="189.7" y="286.2" width="1.3" height="1.3" fill="#c8242c" fill-opacity="0.8"/>
<rect x="190.5" y="277.2" width="1.3" height="1.3" fill="#c8242c" fill-opacity="0.8"/>
<rect x="191.3" y="283.4" width="1.3" height="1.3" fill="#c8242c" fill-opacity="0.8"/>
<rect x="192.2" y="291.4" width="1.3" height="1.3" fill="#c8242c" fill-opacity="0.8"/>
<rect x="193.7" y="290.9" width="1.3" height="1.3" fill="#c8242c" fill-opacity="0.8"/>
<rect x="195.7" y="290.9" width="1.3" height="1.3" fill="#c8242c" fill-opacity="0.8"/>
<rect x="195.7" y="299.1" width="1.3" height="1.3" fill="#c8242c" fill-opacity="0.8"/>
<rect x="198.2" y="296.2" width="1.3" height="1.3" fill="#c8242c" fill-opacity="0.8"/>
<rect x="195.7" y="261.4" width="1.3" height="1.3" fill="#c8242c" fill-opacity="0.8"/>
<rect x="207.7" y="269.6" width="1.3" height="1.3" fill="#c8242c" fill-opacity="0.8"/>
<rect x="210.8" y="305.9" width="1.3" height="1.3" fill="#c8242c" fill-opacity="0.8"/>
<rect x="214.9" y="310.5" width="1.3" height="1.3" fill="#c8242c" fill-opacity="0.8"/>
<rect x="216.4" y="311.8" width="1.3" height="1.3" fill="#c8242c" fill-opacity="0.8"/>
<rect x="209.4" y="320.2" width="1.3" height="1.3" fill="#c8242c" fill-opacity="0.8"/>
<rect x="217.3" y="319.7" width="1.3" height="1.3" fill="#c8242c" fill-opacity="0.8"/>
<rect x="221.4" y="323.9" width="1.3" height="1.3" fill="#c8242c" fill-opacity="0.8"/>
<rect x="225.0" y="315.1" width="1.3" height="1.3" fill="#c8242c" fill-opacity="0.8"/>
<rect x="227.8" y="316.9" width="1.3" height="1.3" fill="#c8242c" fill-opacity="0.8"/>
<rect x="228.8" y="317.8" width="1.3" height="1.3" fill="#c8242c" fill-opacity="0.8"/>
<rect x="230.7" y="316.5" width="1.3" height="1.3" fill="#c8242c" fill-opacity="0.8"/>
<rect x="229.7" y="318.7" width="1.3" height="1.3" fill="#c8242c" fill-opacity="0.8"/>
<rect x="232.4" y="324.2" width="1.3" height="1.3" fill="#c8242c" fill-opacity="0.8"/>
<rect x="232.0" y="325.7" width="1.3" height="1.3" fill="#c8242c" fill-opacity="0.8"/>
<rect x="235.2" y="323.9" width="1.3" height="1.3" fill="#c8242c" fill-opacity="0.8"/>
<rect x="237.9" y="316.0" width="1.3" height="1.3" fill="#c8242c" fill-opacity="0.8"/>
<rect x="238.3" y="326.4" width="1.3" height="1.3" fill="#c8242c" fill-opacity="0.8"/>
<rect x="239.8" y="322.4" width="1.3" height="1.3" fill="#c8242c" fill-opacity="0.8"/>
<rect x="242.5" y="318.7" width="1.3" height="1.3" fill="#c8242c" fill-opacity="0.8"/>
<rect x="243.4" y="316.9" width="1.3" height="1.3" fill="#c8242c" fill-opacity="0.8"/>
<rect x="244.3" y="315.1" width="1.3" height="1.3" fill="#c8242c" fill-opacity="0.8"/>
<rect x="244.0" y="321.5" width="1.3" height="1.3" fill="#c8242c" fill-opacity="0.8"/>
<rect x="246.2" y="326.1" width="1.3" height="1.3" fill="#c8242c" fill-opacity="0.8"/>
<rect x="251.8" y="310.5" width="1.3" height="1.3" fill="#c8242c" fill-opacity="0.8"/>
<rect x="254.2" y="312.9" width="1.3" height="1.3" fill="#c8242c" fill-opacity="0.8"/>
<rect x="261.0" y="325.7" width="1.3" height="1.3" fill="#c8242c" fill-opacity="0.8"/>
<rect x="261.0" y="327.6" width="1.3" height="1.3" fill="#c8242c" fill-opacity="0.8"/>
<rect x="208.9" y="320.5" width="1.3" height="1.3" fill="#c8242c" fill-opacity="0.8"/>
<rect x="220.8" y="323.7" width="1.3" height="1.3" fill="#c8242c" fill-opacity="0.8"/>
<rect x="225.7" y="315.2" width="1.3" height="1.3" fill="#c8242c" fill-opacity="0.8"/>
<rect x="227.2" y="316.8" width="1.3" height="1.3" fill="#c8242c" fill-opacity="0.8"/>
<rect x="236.8" y="316.0" width="1.3" height="1.3" fill="#c8242c" fill-opacity="0.8"/>
<rect x="239.2" y="316.0" width="1.3" height="1.3" fill="#c8242c" fill-opacity="0.8"/>
<rect x="242.0" y="318.4" width="1.3" height="1.3" fill="#c8242c" fill-opacity="0.8"/>
<rect x="243.2" y="320.5" width="1.3" height="1.3" fill="#c8242c" fill-opacity="0.8"/>
<rect x="239.2" y="322.4" width="1.3" height="1.3" fill="#c8242c" fill-opacity="0.8"/>
<rect x="237.7" y="326.8" width="1.3" height="1.3" fill="#c8242c" fill-opacity="0.8"/>
<rect x="235.8" y="324.0" width="1.3" height="1.3" fill="#c8242c" fill-opacity="0.8"/>
<rect x="232.8" y="324.2" width="1.3" height="1.3" fill="#c8242c" fill-opacity="0.8"/>
<rect x="245.7" y="326.4" width="1.3" height="1.3" fill="#c8242c" fill-opacity="0.8"/>
<rect x="250.3" y="331.6" width="1.3" height="1.3" fill="#c8242c" fill-opacity="0.8"/>
<rect x="255.2" y="331.9" width="1.3" height="1.3" fill="#c8242c" fill-opacity="0.8"/>
<rect x="256.8" y="332.4" width="1.3" height="1.3" fill="#c8242c" fill-opacity="0.8"/>
<rect x="256.0" y="339.9" width="1.3" height="1.3" fill="#c8242c" fill-opacity="0.8"/>
<rect x="260.8" y="326.4" width="1.3" height="1.3" fill="#c8242c" fill-opacity="0.8"/>
<rect x="260.8" y="328.4" width="1.3" height="1.3" fill="#c8242c" fill-opacity="0.8"/>
<rect x="218.8" y="333.5" width="1.3" height="1.3" fill="#c8242c" fill-opacity="0.8"/>
<rect x="219.2" y="338.0" width="1.3" height="1.3" fill="#c8242c" fill-opacity="0.8"/>
<rect x="86.6" y="231.8" width="1.3" height="1.3" fill="#2e2e88" fill-opacity="0.8"/>
<rect x="105.5" y="315.2" width="1.3" height="1.3" fill="#2e2e88" fill-opacity="0.8"/>
<rect x="122.5" y="336.6" width="1.3" height="1.3" fill="#2e2e88" fill-opacity="0.8"/>
<rect x="121.2" y="341.0" width="1.3" height="1.3" fill="#2e2e88" fill-opacity="0.8"/>
<rect x="136.0" y="348.9" width="1.3" height="1.3" fill="#2e2e88" fill-opacity="0.8"/>
<rect x="135.8" y="350.5" width="1.3" height="1.3" fill="#2e2e88" fill-opacity="0.8"/>
<rect x="143.5" y="353.8" width="1.3" height="1.3" fill="#2e2e88" fill-opacity="0.8"/>
<rect x="146.3" y="355.6" width="1.3" height="1.3" fill="#2e2e88" fill-opacity="0.8"/>
<rect x="155.8" y="359.5" width="1.3" height="1.3" fill="#2e2e88" fill-opacity="0.8"/>
<rect x="143.8" y="354.0" width="1.3" height="1.3" fill="#2e2e88" fill-opacity="0.8"/>
<rect x="155.3" y="359.9" width="1.3" height="1.3" fill="#2e2e88" fill-opacity="0.8"/>
<rect x="162.4" y="357.8" width="1.3" height="1.3" fill="#2e2e88" fill-opacity="0.8"/>
<rect x="163.2" y="361.0" width="1.3" height="1.3" fill="#2e2e88" fill-opacity="0.8"/>
<rect x="162.9" y="362.6" width="1.3" height="1.3" fill="#2e2e88" fill-opacity="0.8"/>
<rect x="166.4" y="356.7" width="1.3" height="1.3" fill="#2e2e88" fill-opacity="0.8"/>
<rect x="167.2" y="361.4" width="1.3" height="1.3" fill="#2e2e88" fill-opacity="0.8"/>
<rect x="170.4" y="356.2" width="1.3" height="1.3" fill="#2e2e88" fill-opacity="0.8"/>
<rect x="172.0" y="357.1" width="1.3" height="1.3" fill="#2e2e88" fill-opacity="0.8"/>
<rect x="173.7" y="356.7" width="1.3" height="1.3" fill="#2e2e88" fill-opacity="0.8"/>
<rect x="176.0" y="358.7" width="1.3" height="1.3" fill="#2e2e88" fill-opacity="0.8"/>
<rect x="182.4" y="363.8" width="1.3" height="1.3" fill="#2e2e88" fill-opacity="0.8"/>
<rect x="184.8" y="357.5" width="1.3" height="1.3" fill="#2e2e88" fill-opacity="0.8"/>
<rect x="186.3" y="358.2" width="1.3" height="1.3" fill="#2e2e88" fill-opacity="0.8"/>
<rect x="187.2" y="362.2" width="1.3" height="1.3" fill="#2e2e88" fill-opacity="0.8"/>
<rect x="187.2" y="359.1" width="1.3" height="1.3" fill="#2e2e88" fill-opacity="0.8"/>
<rect x="193.5" y="358.2" width="1.3" height="1.3" fill="#2e2e88" fill-opacity="0.8"/>
<rect x="194.3" y="360.7" width="1.3" height="1.3" fill="#2e2e88" fill-opacity="0.8"/>
<rect x="195.9" y="359.4" width="1.3" height="1.3" fill="#2e2e88" fill-opacity="0.8"/>
<rect x="195.2" y="362.2" width="1.3" height="1.3" fill="#2e2e88" fill-opacity="0.8"/>
<rect x="197.5" y="358.2" width="1.3" height="1.3" fill="#2e2e88" fill-opacity="0.8"/>
<rect x="199.2" y="359.9" width="1.3" height="1.3" fill="#2e2e88" fill-opacity="0.8"/>
<rect x="200.8" y="363.8" width="1.3" height="1.3" fill="#2e2e88" fill-opacity="0.8"/>
<rect x="199.9" y="361.4" width="1.3" height="1.3" fill="#2e2e88" fill-opacity="0.8"/>
<rect x="200.9" y="359.9" width="1.3" height="1.3" fill="#2e2e88" fill-opacity="0.8"/>
<rect x="200.7" y="364.2" width="1.3" height="1.3" fill="#2e2e88" fill-opacity="0.8"/>
<rect x="205.8" y="357.5" width="1.3" height="1.3" fill="#2e2e88" fill-opacity="0.8"/>
<rect x="207.0" y="362.2" width="1.3" height="1.3" fill="#2e2e88" fill-opacity="0.8"/>
<rect x="208.9" y="359.9" width="1.3" height="1.3" fill="#2e2e88" fill-opacity="0.8"/>
<rect x="210.5" y="362.2" width="1.3" height="1.3" fill="#2e2e88" fill-opacity="0.8"/>
<rect x="216.0" y="359.9" width="1.3" height="1.3" fill="#2e2e88" fill-opacity="0.8"/>
<rect x="216.0" y="363.0" width="1.3" height="1.3" fill="#2e2e88" fill-opacity="0.8"/>
<rect x="217.2" y="365.1" width="1.3" height="1.3" fill="#2e2e88" fill-opacity="0.8"/>
<rect x="219.2" y="360.7" width="1.3" height="1.3" fill="#2e2e88" fill-opacity="0.8"/>
<rect x="220.0" y="355.5" width="1.3" height="1.3" fill="#2e2e88" fill-opacity="0.8"/>
<rect x="223.2" y="357.1" width="1.3" height="1.3" fill="#2e2e88" fill-opacity="0.8"/>
<rect x="224.0" y="360.7" width="1.3" height="1.3" fill="#2e2e88" fill-opacity="0.8"/>
<rect x="223.5" y="364.6" width="1.3" height="1.3" fill="#2e2e88" fill-opacity="0.8"/>
<rect x="227.8" y="360.7" width="1.3" height="1.3" fill="#2e2e88" fill-opacity="0.8"/>
<rect x="232.0" y="358.7" width="1.3" height="1.3" fill="#2e2e88" fill-opacity="0.8"/>
<rect x="233.7" y="352.2" width="1.3" height="1.3" fill="#2e2e88" fill-opacity="0.8"/>
<rect x="240.8" y="360.7" width="1.3" height="1.3" fill="#2e2e88" fill-opacity="0.8"/>
<rect x="244.8" y="359.9" width="1.3" height="1.3" fill="#2e2e88" fill-opacity="0.8"/>
<rect x="244.3" y="363.5" width="1.3" height="1.3" fill="#2e2e88" fill-opacity="0.8"/>
<rect x="251.7" y="350.2" width="1.3" height="1.3" fill="#2e2e88" fill-opacity="0.8"/>
<rect x="254.0" y="350.2" width="1.3" height="1.3" fill="#2e2e88" fill-opacity="0.8"/>
<rect x="259.2" y="351.9" width="1.3" height="1.3" fill="#2e2e88" fill-opacity="0.8"/>
<rect x="257.6" y="354.2" width="1.3" height="1.3" fill="#2e2e88" fill-opacity="0.8"/>
<rect x="251.9" y="356.2" width="1.3" height="1.3" fill="#2e2e88" fill-opacity="0.8"/>
<rect x="260.0" y="359.9" width="1.3" height="1.3" fill="#2e2e88" fill-opacity="0.8"/>
<rect x="50.5" y="224.6" width="214.30" height="154.60" fill="none" stroke="#4e4e4e" stroke-width="1.25"/>
<line x1="50.5" y1="379.20" x2="53.50" y2="379.20" stroke="#4e4e4e" stroke-width="1"/>
<text x="35.74" y="381.55" font-size="8.1">0.0</text>
<line x1="50.5" y1="374.05" x2="52.20" y2="374.05" stroke="#4e4e4e" stroke-width="1"/>
<line x1="50.5" y1="368.89" x2="53.50" y2="368.89" stroke="#4e4e4e" stroke-width="1"/>
<text x="35.74" y="371.24" font-size="8.1">0.2</text>
<line x1="50.5" y1="363.74" x2="52.20" y2="363.74" stroke="#4e4e4e" stroke-width="1"/>
<line x1="50.5" y1="358.59" x2="53.50" y2="358.59" stroke="#4e4e4e" stroke-width="1"/>
<text x="35.74" y="360.94" font-size="8.1">0.4</text>
<line x1="50.5" y1="353.43" x2="52.20" y2="353.43" stroke="#4e4e4e" stroke-width="1"/>
<line x1="50.5" y1="348.28" x2="53.50" y2="348.28" stroke="#4e4e4e" stroke-width="1"/>
<text x="35.74" y="350.63" font-size="8.1">0.6</text>
<line x1="50.5" y1="343.13" x2="52.20" y2="343.13" stroke="#4e4e4e" stroke-width="1"/>
<line x1="50.5" y1="337.97" x2="53.50" y2="337.97" stroke="#4e4e4e" stroke-width="1"/>
<text x="35.74" y="340.32" font-size="8.1">0.8</text>
<line x1="50.5" y1="332.82" x2="52.20" y2="332.82" stroke="#4e4e4e" stroke-width="1"/>
<line x1="50.5" y1="327.67" x2="53.50" y2="327.67" stroke="#4e4e4e" stroke-width="1"/>
<text x="35.74" y="330.02" font-size="8.1"> .0</text>
<path transform="translate(35.74,330.02) scale(0.00396,-0.00396)" d="M515 0V1237L197 1010V1180L530 1409H696V0Z" fill="#111"/>
<line x1="50.5" y1="322.51" x2="52.20" y2="322.51" stroke="#4e4e4e" stroke-width="1"/>
<line x1="50.5" y1="317.36" x2="53.50" y2="317.36" stroke="#4e4e4e" stroke-width="1"/>
<text x="35.74" y="319.71" font-size="8.1"> .2</text>
<path transform="translate(35.74,319.71) scale(0.00396,-0.00396)" d="M515 0V1237L197 1010V1180L530 1409H696V0Z" fill="#111"/>
<line x1="50.5" y1="312.21" x2="52.20" y2="312.21" stroke="#4e4e4e" stroke-width="1"/>
<line x1="50.5" y1="307.05" x2="53.50" y2="307.05" stroke="#4e4e4e" stroke-width="1"/>
<text x="35.74" y="309.40" font-size="8.1"> .4</text>
<path transform="translate(35.74,309.40) scale(0.00396,-0.00396)" d="M515 0V1237L197 1010V1180L530 1409H696V0Z" fill="#111"/>
<line x1="50.5" y1="301.90" x2="52.20" y2="301.90" stroke="#4e4e4e" stroke-width="1"/>
<line x1="50.5" y1="296.75" x2="53.50" y2="296.75" stroke="#4e4e4e" stroke-width="1"/>
<text x="35.74" y="299.10" font-size="8.1"> .6</text>
<path transform="translate(35.74,299.10) scale(0.00396,-0.00396)" d="M515 0V1237L197 1010V1180L530 1409H696V0Z" fill="#111"/>
<line x1="50.5" y1="291.59" x2="52.20" y2="291.59" stroke="#4e4e4e" stroke-width="1"/>
<line x1="50.5" y1="286.44" x2="53.50" y2="286.44" stroke="#4e4e4e" stroke-width="1"/>
<text x="35.74" y="288.79" font-size="8.1"> .8</text>
<path transform="translate(35.74,288.79) scale(0.00396,-0.00396)" d="M515 0V1237L197 1010V1180L530 1409H696V0Z" fill="#111"/>
<line x1="50.5" y1="281.29" x2="52.20" y2="281.29" stroke="#4e4e4e" stroke-width="1"/>
<line x1="50.5" y1="276.13" x2="53.50" y2="276.13" stroke="#4e4e4e" stroke-width="1"/>
<text x="35.74" y="278.48" font-size="8.1">2.0</text>
<line x1="50.5" y1="270.98" x2="52.20" y2="270.98" stroke="#4e4e4e" stroke-width="1"/>
<line x1="50.5" y1="265.83" x2="53.50" y2="265.83" stroke="#4e4e4e" stroke-width="1"/>
<text x="35.74" y="268.18" font-size="8.1">2.2</text>
<line x1="50.5" y1="260.67" x2="52.20" y2="260.67" stroke="#4e4e4e" stroke-width="1"/>
<line x1="50.5" y1="255.52" x2="53.50" y2="255.52" stroke="#4e4e4e" stroke-width="1"/>
<text x="35.74" y="257.87" font-size="8.1">2.4</text>
<line x1="50.5" y1="250.37" x2="52.20" y2="250.37" stroke="#4e4e4e" stroke-width="1"/>
<line x1="50.5" y1="245.21" x2="53.50" y2="245.21" stroke="#4e4e4e" stroke-width="1"/>
<text x="35.74" y="247.56" font-size="8.1">2.6</text>
<line x1="50.5" y1="240.06" x2="52.20" y2="240.06" stroke="#4e4e4e" stroke-width="1"/>
<line x1="50.5" y1="234.91" x2="53.50" y2="234.91" stroke="#4e4e4e" stroke-width="1"/>
<text x="35.74" y="237.26" font-size="8.1">2.8</text>
<line x1="50.5" y1="229.75" x2="52.20" y2="229.75" stroke="#4e4e4e" stroke-width="1"/>
<line x1="50.5" y1="224.60" x2="53.50" y2="224.60" stroke="#4e4e4e" stroke-width="1"/>
<text x="35.74" y="226.95" font-size="8.1">3.0</text>
<line x1="50.50" y1="379.2" x2="50.50" y2="376.20" stroke="#4e4e4e" stroke-width="1"/>
<text x="44.87" y="389.00" font-size="8.1">0. </text>
<path transform="translate(51.63,389.00) scale(0.00396,-0.00396)" d="M515 0V1237L197 1010V1180L530 1409H696V0Z" fill="#111"/>
<line x1="68.86" y1="379.2" x2="68.86" y2="377.50" stroke="#4e4e4e" stroke-width="1"/>
<line x1="79.60" y1="379.2" x2="79.60" y2="377.50" stroke="#4e4e4e" stroke-width="1"/>
<line x1="87.23" y1="379.2" x2="87.23" y2="377.50" stroke="#4e4e4e" stroke-width="1"/>
<line x1="93.14" y1="379.2" x2="93.14" y2="377.50" stroke="#4e4e4e" stroke-width="1"/>
<line x1="97.97" y1="379.2" x2="97.97" y2="377.50" stroke="#4e4e4e" stroke-width="1"/>
<line x1="102.05" y1="379.2" x2="102.05" y2="377.50" stroke="#4e4e4e" stroke-width="1"/>
<line x1="105.59" y1="379.2" x2="105.59" y2="377.50" stroke="#4e4e4e" stroke-width="1"/>
<line x1="108.71" y1="379.2" x2="108.71" y2="377.50" stroke="#4e4e4e" stroke-width="1"/>
<line x1="111.50" y1="379.2" x2="111.50" y2="376.20" stroke="#4e4e4e" stroke-width="1"/>
<text x="109.25" y="389.00" font-size="8.1"> </text>
<path transform="translate(109.25,389.00) scale(0.00396,-0.00396)" d="M515 0V1237L197 1010V1180L530 1409H696V0Z" fill="#111"/>
<line x1="129.86" y1="379.2" x2="129.86" y2="377.50" stroke="#4e4e4e" stroke-width="1"/>
<line x1="140.60" y1="379.2" x2="140.60" y2="377.50" stroke="#4e4e4e" stroke-width="1"/>
<line x1="148.23" y1="379.2" x2="148.23" y2="377.50" stroke="#4e4e4e" stroke-width="1"/>
<line x1="154.14" y1="379.2" x2="154.14" y2="377.50" stroke="#4e4e4e" stroke-width="1"/>
<line x1="158.97" y1="379.2" x2="158.97" y2="377.50" stroke="#4e4e4e" stroke-width="1"/>
<line x1="163.05" y1="379.2" x2="163.05" y2="377.50" stroke="#4e4e4e" stroke-width="1"/>
<line x1="166.59" y1="379.2" x2="166.59" y2="377.50" stroke="#4e4e4e" stroke-width="1"/>
<line x1="169.71" y1="379.2" x2="169.71" y2="377.50" stroke="#4e4e4e" stroke-width="1"/>
<line x1="172.50" y1="379.2" x2="172.50" y2="376.20" stroke="#4e4e4e" stroke-width="1"/>
<text x="168.00" y="389.00" font-size="8.1"> 0</text>
<path transform="translate(168.00,389.00) scale(0.00396,-0.00396)" d="M515 0V1237L197 1010V1180L530 1409H696V0Z" fill="#111"/>
<line x1="190.86" y1="379.2" x2="190.86" y2="377.50" stroke="#4e4e4e" stroke-width="1"/>
<line x1="201.60" y1="379.2" x2="201.60" y2="377.50" stroke="#4e4e4e" stroke-width="1"/>
<line x1="209.23" y1="379.2" x2="209.23" y2="377.50" stroke="#4e4e4e" stroke-width="1"/>
<line x1="215.14" y1="379.2" x2="215.14" y2="377.50" stroke="#4e4e4e" stroke-width="1"/>
<line x1="219.97" y1="379.2" x2="219.97" y2="377.50" stroke="#4e4e4e" stroke-width="1"/>
<line x1="224.05" y1="379.2" x2="224.05" y2="377.50" stroke="#4e4e4e" stroke-width="1"/>
<line x1="227.59" y1="379.2" x2="227.59" y2="377.50" stroke="#4e4e4e" stroke-width="1"/>
<line x1="230.71" y1="379.2" x2="230.71" y2="377.50" stroke="#4e4e4e" stroke-width="1"/>
<line x1="233.50" y1="379.2" x2="233.50" y2="376.20" stroke="#4e4e4e" stroke-width="1"/>
<text x="226.74" y="389.00" font-size="8.1"> 00</text>
<path transform="translate(226.74,389.00) scale(0.00396,-0.00396)" d="M515 0V1237L197 1010V1180L530 1409H696V0Z" fill="#111"/>
<line x1="251.86" y1="379.2" x2="251.86" y2="377.50" stroke="#4e4e4e" stroke-width="1"/>
<line x1="262.60" y1="379.2" x2="262.60" y2="377.50" stroke="#4e4e4e" stroke-width="1"/>
<line x1="328.5" y1="354.2" x2="537.3" y2="354.2" stroke="#e05a5a" stroke-width="1.3"/>
<line x1="328.5" y1="301.6" x2="537.3" y2="301.6" stroke="#7272e4" stroke-width="1.6"/>
<rect x="356.4" y="364.2" width="1.3" height="1.3" fill="#c8242c" fill-opacity="0.8"/>
<rect x="366.7" y="360.0" width="1.3" height="1.3" fill="#c8242c" fill-opacity="0.8"/>
<rect x="378.8" y="359.2" width="1.3" height="1.3" fill="#c8242c" fill-opacity="0.8"/>
<rect x="385.9" y="354.9" width="1.3" height="1.3" fill="#c8242c" fill-opacity="0.8"/>
<rect x="391.0" y="367.6" width="1.3" height="1.3" fill="#c8242c" fill-opacity="0.8"/>
<rect x="410.2" y="359.6" width="1.3" height="1.3" fill="#c8242c" fill-opacity="0.8"/>
<rect x="419.9" y="363.0" width="1.3" height="1.3" fill="#c8242c" fill-opacity="0.8"/>
<rect x="421.2" y="362.4" width="1.3" height="1.3" fill="#c8242c" fill-opacity="0.8"/>
<rect x="427.0" y="355.8" width="1.3" height="1.3" fill="#c8242c" fill-opacity="0.8"/>
<rect x="426.5" y="355.7" width="1.3" height="1.3" fill="#c8242c" fill-opacity="0.8"/>
<rect x="431.5" y="356.7" width="1.3" height="1.3" fill="#c8242c" fill-opacity="0.8"/>
<rect x="430.8" y="358.5" width="1.3" height="1.3" fill="#c8242c" fill-opacity="0.8"/>
<rect x="434.6" y="365.6" width="1.3" height="1.3" fill="#c8242c" fill-opacity="0.8"/>
<rect x="438.2" y="356.1" width="1.3" height="1.3" fill="#c8242c" fill-opacity="0.8"/>
<rect x="438.9" y="356.7" width="1.3" height="1.3" fill="#c8242c" fill-opacity="0.8"/>
<rect x="440.8" y="357.8" width="1.3" height="1.3" fill="#c8242c" fill-opacity="0.8"/>
<rect x="440.0" y="359.7" width="1.3" height="1.3" fill="#c8242c" fill-opacity="0.8"/>
<rect x="445.5" y="355.0" width="1.3" height="1.3" fill="#c8242c" fill-opacity="0.8"/>
<rect x="445.0" y="353.1" width="1.3" height="1.3" fill="#c8242c" fill-opacity="0.8"/>
<rect x="450.7" y="353.5" width="1.3" height="1.3" fill="#c8242c" fill-opacity="0.8"/>
<rect x="453.6" y="351.4" width="1.3" height="1.3" fill="#c8242c" fill-opacity="0.8"/>
<rect x="457.8" y="353.2" width="1.3" height="1.3" fill="#c8242c" fill-opacity="0.8"/>
<rect x="463.5" y="350.0" width="1.3" height="1.3" fill="#c8242c" fill-opacity="0.8"/>
<rect x="464.5" y="348.8" width="1.3" height="1.3" fill="#c8242c" fill-opacity="0.8"/>
<rect x="464.9" y="353.5" width="1.3" height="1.3" fill="#c8242c" fill-opacity="0.8"/>
<rect x="466.4" y="352.8" width="1.3" height="1.3" fill="#c8242c" fill-opacity="0.8"/>
<rect x="467.4" y="353.1" width="1.3" height="1.3" fill="#c8242c" fill-opacity="0.8"/>
<rect x="469.6" y="354.2" width="1.3" height="1.3" fill="#c8242c" fill-opacity="0.8"/>
<rect x="469.6" y="351.8" width="1.3" height="1.3" fill="#c8242c" fill-opacity="0.8"/>
<rect x="472.1" y="351.8" width="1.3" height="1.3" fill="#c8242c" fill-opacity="0.8"/>
<rect x="481.0" y="347.4" width="1.3" height="1.3" fill="#c8242c" fill-opacity="0.8"/>
<rect x="482.7" y="359.7" width="1.3" height="1.3" fill="#c8242c" fill-opacity="0.8"/>
<rect x="481.1" y="347.4" width="1.3" height="1.3" fill="#c8242c" fill-opacity="0.8"/>
<rect x="482.5" y="359.5" width="1.3" height="1.3" fill="#c8242c" fill-opacity="0.8"/>
<rect x="484.8" y="353.5" width="1.3" height="1.3" fill="#c8242c" fill-opacity="0.8"/>
<rect x="487.9" y="351.0" width="1.3" height="1.3" fill="#c8242c" fill-opacity="0.8"/>
<rect x="489.6" y="353.5" width="1.3" height="1.3" fill="#c8242c" fill-opacity="0.8"/>
<rect x="490.5" y="357.1" width="1.3" height="1.3" fill="#c8242c" fill-opacity="0.8"/>
<rect x="491.9" y="359.9" width="1.3" height="1.3" fill="#c8242c" fill-opacity="0.8"/>
<rect x="492.5" y="362.5" width="1.3" height="1.3" fill="#c8242c" fill-opacity="0.8"/>
<rect x="493.6" y="354.2" width="1.3" height="1.3" fill="#c8242c" fill-opacity="0.8"/>
<rect x="494.8" y="354.2" width="1.3" height="1.3" fill="#c8242c" fill-opacity="0.8"/>
<rect x="497.9" y="352.8" width="1.3" height="1.3" fill="#c8242c" fill-opacity="0.8"/>
<rect x="500.0" y="352.4" width="1.3" height="1.3" fill="#c8242c" fill-opacity="0.8"/>
<rect x="501.0" y="353.8" width="1.3" height="1.3" fill="#c8242c" fill-opacity="0.8"/>
<rect x="502.9" y="349.0" width="1.3" height="1.3" fill="#c8242c" fill-opacity="0.8"/>
<rect x="502.9" y="350.4" width="1.3" height="1.3" fill="#c8242c" fill-opacity="0.8"/>
<rect x="505.0" y="353.5" width="1.3" height="1.3" fill="#c8242c" fill-opacity="0.8"/>
<rect x="505.7" y="351.0" width="1.3" height="1.3" fill="#c8242c" fill-opacity="0.8"/>
<rect x="508.6" y="351.8" width="1.3" height="1.3" fill="#c8242c" fill-opacity="0.8"/>
<rect x="510.0" y="349.0" width="1.3" height="1.3" fill="#c8242c" fill-opacity="0.8"/>
<rect x="511.0" y="350.0" width="1.3" height="1.3" fill="#c8242c" fill-opacity="0.8"/>
<rect x="511.8" y="349.0" width="1.3" height="1.3" fill="#c8242c" fill-opacity="0.8"/>
<rect x="512.8" y="353.0" width="1.3" height="1.3" fill="#c8242c" fill-opacity="0.8"/>
<rect x="514.2" y="349.0" width="1.3" height="1.3" fill="#c8242c" fill-opacity="0.8"/>
<rect x="515.6" y="349.2" width="1.3" height="1.3" fill="#c8242c" fill-opacity="0.8"/>
<rect x="516.4" y="343.9" width="1.3" height="1.3" fill="#c8242c" fill-opacity="0.8"/>
<rect x="517.1" y="352.8" width="1.3" height="1.3" fill="#c8242c" fill-opacity="0.8"/>
<rect x="518.1" y="349.7" width="1.3" height="1.3" fill="#c8242c" fill-opacity="0.8"/>
<rect x="518.9" y="348.7" width="1.3" height="1.3" fill="#c8242c" fill-opacity="0.8"/>
<rect x="522.8" y="350.0" width="1.3" height="1.3" fill="#c8242c" fill-opacity="0.8"/>
<rect x="523.5" y="342.9" width="1.3" height="1.3" fill="#c8242c" fill-opacity="0.8"/>
<rect x="526.2" y="347.6" width="1.3" height="1.3" fill="#c8242c" fill-opacity="0.8"/>
<rect x="527.8" y="344.2" width="1.3" height="1.3" fill="#c8242c" fill-opacity="0.8"/>
<rect x="529.1" y="343.9" width="1.3" height="1.3" fill="#c8242c" fill-opacity="0.8"/>
<rect x="528.5" y="358.1" width="1.3" height="1.3" fill="#c8242c" fill-opacity="0.8"/>
<rect x="532.6" y="350.4" width="1.3" height="1.3" fill="#c8242c" fill-opacity="0.8"/>
<rect x="533.5" y="352.8" width="1.3" height="1.3" fill="#c8242c" fill-opacity="0.8"/>
<rect x="533.1" y="351.4" width="1.3" height="1.3" fill="#c8242c" fill-opacity="0.8"/>
<rect x="363.7" y="295.6" width="1.3" height="1.3" fill="#2e2e88" fill-opacity="0.8"/>
<rect x="396.9" y="290.2" width="1.3" height="1.3" fill="#2e2e88" fill-opacity="0.8"/>
<rect x="381.7" y="300.5" width="1.3" height="1.3" fill="#2e2e88" fill-opacity="0.8"/>
<rect x="398.6" y="303.0" width="1.3" height="1.3" fill="#2e2e88" fill-opacity="0.8"/>
<rect x="438.0" y="239.0" width="1.3" height="1.3" fill="#2e2e88" fill-opacity="0.8"/>
<rect x="467.2" y="283.7" width="1.3" height="1.3" fill="#2e2e88" fill-opacity="0.8"/>
<rect x="457.7" y="293.2" width="1.3" height="1.3" fill="#2e2e88" fill-opacity="0.8"/>
<rect x="411.2" y="300.0" width="1.3" height="1.3" fill="#2e2e88" fill-opacity="0.8"/>
<rect x="411.8" y="302.7" width="1.3" height="1.3" fill="#2e2e88" fill-opacity="0.8"/>
<rect x="418.7" y="298.8" width="1.3" height="1.3" fill="#2e2e88" fill-opacity="0.8"/>
<rect x="421.7" y="302.7" width="1.3" height="1.3" fill="#2e2e88" fill-opacity="0.8"/>
<rect x="430.6" y="305.9" width="1.3" height="1.3" fill="#2e2e88" fill-opacity="0.8"/>
<rect x="436.8" y="303.0" width="1.3" height="1.3" fill="#2e2e88" fill-opacity="0.8"/>
<rect x="438.8" y="305.7" width="1.3" height="1.3" fill="#2e2e88" fill-opacity="0.8"/>
<rect x="440.6" y="303.0" width="1.3" height="1.3" fill="#2e2e88" fill-opacity="0.8"/>
<rect x="441.8" y="298.8" width="1.3" height="1.3" fill="#2e2e88" fill-opacity="0.8"/>
<rect x="443.9" y="299.4" width="1.3" height="1.3" fill="#2e2e88" fill-opacity="0.8"/>
<rect x="445.1" y="302.0" width="1.3" height="1.3" fill="#2e2e88" fill-opacity="0.8"/>
<rect x="446.2" y="303.2" width="1.3" height="1.3" fill="#2e2e88" fill-opacity="0.8"/>
<rect x="446.9" y="303.6" width="1.3" height="1.3" fill="#2e2e88" fill-opacity="0.8"/>
<rect x="448.4" y="298.0" width="1.3" height="1.3" fill="#2e2e88" fill-opacity="0.8"/>
<rect x="449.9" y="301.8" width="1.3" height="1.3" fill="#2e2e88" fill-opacity="0.8"/>
<rect x="451.1" y="301.5" width="1.3" height="1.3" fill="#2e2e88" fill-opacity="0.8"/>
<rect x="457.6" y="293.2" width="1.3" height="1.3" fill="#2e2e88" fill-opacity="0.8"/>
<rect x="457.6" y="300.8" width="1.3" height="1.3" fill="#2e2e88" fill-opacity="0.8"/>
<rect x="460.8" y="300.8" width="1.3" height="1.3" fill="#2e2e88" fill-opacity="0.8"/>
<rect x="460.6" y="303.6" width="1.3" height="1.3" fill="#2e2e88" fill-opacity="0.8"/>
<rect x="461.8" y="303.0" width="1.3" height="1.3" fill="#2e2e88" fill-opacity="0.8"/>
<rect x="461.8" y="305.6" width="1.3" height="1.3" fill="#2e2e88" fill-opacity="0.8"/>
<rect x="467.5" y="283.9" width="1.3" height="1.3" fill="#2e2e88" fill-opacity="0.8"/>
<rect x="470.7" y="291.7" width="1.3" height="1.3" fill="#2e2e88" fill-opacity="0.8"/>
<rect x="467.7" y="303.0" width="1.3" height="1.3" fill="#2e2e88" fill-opacity="0.8"/>
<rect x="468.9" y="304.8" width="1.3" height="1.3" fill="#2e2e88" fill-opacity="0.8"/>
<rect x="469.5" y="305.6" width="1.3" height="1.3" fill="#2e2e88" fill-opacity="0.8"/>
<rect x="470.7" y="302.4" width="1.3" height="1.3" fill="#2e2e88" fill-opacity="0.8"/>
<rect x="473.7" y="300.0" width="1.3" height="1.3" fill="#2e2e88" fill-opacity="0.8"/>
<rect x="473.7" y="303.0" width="1.3" height="1.3" fill="#2e2e88" fill-opacity="0.8"/>
<rect x="470.7" y="291.2" width="1.3" height="1.3" fill="#2e2e88" fill-opacity="0.8"/>
<rect x="473.9" y="296.8" width="1.3" height="1.3" fill="#2e2e88" fill-opacity="0.8"/>
<rect x="474.2" y="300.0" width="1.3" height="1.3" fill="#2e2e88" fill-opacity="0.8"/>
<rect x="475.2" y="303.2" width="1.3" height="1.3" fill="#2e2e88" fill-opacity="0.8"/>
<rect x="473.2" y="303.9" width="1.3" height="1.3" fill="#2e2e88" fill-opacity="0.8"/>
<rect x="479.4" y="296.2" width="1.3" height="1.3" fill="#2e2e88" fill-opacity="0.8"/>
<rect x="480.7" y="306.2" width="1.3" height="1.3" fill="#2e2e88" fill-opacity="0.8"/>
<rect x="480.9" y="308.0" width="1.3" height="1.3" fill="#2e2e88" fill-opacity="0.8"/>
<rect x="483.8" y="302.0" width="1.3" height="1.3" fill="#2e2e88" fill-opacity="0.8"/>
<rect x="489.7" y="300.2" width="1.3" height="1.3" fill="#2e2e88" fill-opacity="0.8"/>
<rect x="489.7" y="307.5" width="1.3" height="1.3" fill="#2e2e88" fill-opacity="0.8"/>
<rect x="491.8" y="304.1" width="1.3" height="1.3" fill="#2e2e88" fill-opacity="0.8"/>
<rect x="493.1" y="304.9" width="1.3" height="1.3" fill="#2e2e88" fill-opacity="0.8"/>
<rect x="496.2" y="302.0" width="1.3" height="1.3" fill="#2e2e88" fill-opacity="0.8"/>
<rect x="497.2" y="305.8" width="1.3" height="1.3" fill="#2e2e88" fill-opacity="0.8"/>
<rect x="497.9" y="304.5" width="1.3" height="1.3" fill="#2e2e88" fill-opacity="0.8"/>
<rect x="500.8" y="303.9" width="1.3" height="1.3" fill="#2e2e88" fill-opacity="0.8"/>
<rect x="501.2" y="301.6" width="1.3" height="1.3" fill="#2e2e88" fill-opacity="0.8"/>
<rect x="504.7" y="302.0" width="1.3" height="1.3" fill="#2e2e88" fill-opacity="0.8"/>
<rect x="506.6" y="301.6" width="1.3" height="1.3" fill="#2e2e88" fill-opacity="0.8"/>
<rect x="513.6" y="305.8" width="1.3" height="1.3" fill="#2e2e88" fill-opacity="0.8"/>
<rect x="514.2" y="299.0" width="1.3" height="1.3" fill="#2e2e88" fill-opacity="0.8"/>
<rect x="517.5" y="304.1" width="1.3" height="1.3" fill="#2e2e88" fill-opacity="0.8"/>
<rect x="517.5" y="305.6" width="1.3" height="1.3" fill="#2e2e88" fill-opacity="0.8"/>
<rect x="523.9" y="302.0" width="1.3" height="1.3" fill="#2e2e88" fill-opacity="0.8"/>
<rect x="525.8" y="301.6" width="1.3" height="1.3" fill="#2e2e88" fill-opacity="0.8"/>
<rect x="530.6" y="301.2" width="1.3" height="1.3" fill="#2e2e88" fill-opacity="0.8"/>
<rect x="532.0" y="298.8" width="1.3" height="1.3" fill="#2e2e88" fill-opacity="0.8"/>
<rect x="532.1" y="304.9" width="1.3" height="1.3" fill="#2e2e88" fill-opacity="0.8"/>
<rect x="529.0" y="308.0" width="1.3" height="1.3" fill="#2e2e88" fill-opacity="0.8"/>
<rect x="328.5" y="226.5" width="208.80" height="150.50" fill="none" stroke="#4e4e4e" stroke-width="1.25"/>
<line x1="328.5" y1="377.00" x2="331.50" y2="377.00" stroke="#4e4e4e" stroke-width="1"/>
<text x="313.74" y="379.35" font-size="8.1">0.0</text>
<line x1="328.5" y1="368.64" x2="330.20" y2="368.64" stroke="#4e4e4e" stroke-width="1"/>
<line x1="328.5" y1="360.28" x2="331.50" y2="360.28" stroke="#4e4e4e" stroke-width="1"/>
<text x="313.74" y="362.63" font-size="8.1">0.2</text>
<line x1="328.5" y1="351.92" x2="330.20" y2="351.92" stroke="#4e4e4e" stroke-width="1"/>
<line x1="328.5" y1="343.56" x2="331.50" y2="343.56" stroke="#4e4e4e" stroke-width="1"/>
<text x="313.74" y="345.90" font-size="8.1">0.4</text>
<line x1="328.5" y1="335.19" x2="330.20" y2="335.19" stroke="#4e4e4e" stroke-width="1"/>
<line x1="328.5" y1="326.83" x2="331.50" y2="326.83" stroke="#4e4e4e" stroke-width="1"/>
<text x="313.74" y="329.18" font-size="8.1">0.6</text>
<line x1="328.5" y1="318.47" x2="330.20" y2="318.47" stroke="#4e4e4e" stroke-width="1"/>
<line x1="328.5" y1="310.11" x2="331.50" y2="310.11" stroke="#4e4e4e" stroke-width="1"/>
<text x="313.74" y="312.46" font-size="8.1">0.8</text>
<line x1="328.5" y1="301.75" x2="330.20" y2="301.75" stroke="#4e4e4e" stroke-width="1"/>
<line x1="328.5" y1="293.39" x2="331.50" y2="293.39" stroke="#4e4e4e" stroke-width="1"/>
<text x="313.74" y="295.74" font-size="8.1"> .0</text>
<path transform="translate(313.74,295.74) scale(0.00396,-0.00396)" d="M515 0V1237L197 1010V1180L530 1409H696V0Z" fill="#111"/>
<line x1="328.5" y1="285.03" x2="330.20" y2="285.03" stroke="#4e4e4e" stroke-width="1"/>
<line x1="328.5" y1="276.67" x2="331.50" y2="276.67" stroke="#4e4e4e" stroke-width="1"/>
<text x="313.74" y="279.02" font-size="8.1"> .2</text>
<path transform="translate(313.74,279.02) scale(0.00396,-0.00396)" d="M515 0V1237L197 1010V1180L530 1409H696V0Z" fill="#111"/>
<line x1="328.5" y1="268.31" x2="330.20" y2="268.31" stroke="#4e4e4e" stroke-width="1"/>
<line x1="328.5" y1="259.94" x2="331.50" y2="259.94" stroke="#4e4e4e" stroke-width="1"/>
<text x="313.74" y="262.29" font-size="8.1"> .4</text>
<path transform="translate(313.74,262.29) scale(0.00396,-0.00396)" d="M515 0V1237L197 1010V1180L530 1409H696V0Z" fill="#111"/>
<line x1="328.5" y1="251.58" x2="330.20" y2="251.58" stroke="#4e4e4e" stroke-width="1"/>
<line x1="328.5" y1="243.22" x2="331.50" y2="243.22" stroke="#4e4e4e" stroke-width="1"/>
<text x="313.74" y="245.57" font-size="8.1"> .6</text>
<path transform="translate(313.74,245.57) scale(0.00396,-0.00396)" d="M515 0V1237L197 1010V1180L530 1409H696V0Z" fill="#111"/>
<line x1="328.5" y1="234.86" x2="330.20" y2="234.86" stroke="#4e4e4e" stroke-width="1"/>
<line x1="328.5" y1="226.50" x2="331.50" y2="226.50" stroke="#4e4e4e" stroke-width="1"/>
<text x="313.74" y="228.85" font-size="8.1"> .8</text>
<path transform="translate(313.74,228.85) scale(0.00396,-0.00396)" d="M515 0V1237L197 1010V1180L530 1409H696V0Z" fill="#111"/>
<line x1="328.50" y1="377.0" x2="328.50" y2="374.00" stroke="#4e4e4e" stroke-width="1"/>
<text x="322.87" y="387.80" font-size="8.1">0. </text>
<path transform="translate(329.63,387.80) scale(0.00396,-0.00396)" d="M515 0V1237L197 1010V1180L530 1409H696V0Z" fill="#111"/>
<line x1="346.35" y1="377.0" x2="346.35" y2="375.30" stroke="#4e4e4e" stroke-width="1"/>
<line x1="356.79" y1="377.0" x2="356.79" y2="375.30" stroke="#4e4e4e" stroke-width="1"/>
<line x1="364.20" y1="377.0" x2="364.20" y2="375.30" stroke="#4e4e4e" stroke-width="1"/>
<line x1="369.95" y1="377.0" x2="369.95" y2="375.30" stroke="#4e4e4e" stroke-width="1"/>
<line x1="374.64" y1="377.0" x2="374.64" y2="375.30" stroke="#4e4e4e" stroke-width="1"/>
<line x1="378.61" y1="377.0" x2="378.61" y2="375.30" stroke="#4e4e4e" stroke-width="1"/>
<line x1="382.05" y1="377.0" x2="382.05" y2="375.30" stroke="#4e4e4e" stroke-width="1"/>
<line x1="385.09" y1="377.0" x2="385.09" y2="375.30" stroke="#4e4e4e" stroke-width="1"/>
<line x1="387.80" y1="377.0" x2="387.80" y2="374.00" stroke="#4e4e4e" stroke-width="1"/>
<text x="385.55" y="387.80" font-size="8.1"> </text>
<path transform="translate(385.55,387.80) scale(0.00396,-0.00396)" d="M515 0V1237L197 1010V1180L530 1409H696V0Z" fill="#111"/>
<line x1="405.65" y1="377.0" x2="405.65" y2="375.30" stroke="#4e4e4e" stroke-width="1"/>
<line x1="416.09" y1="377.0" x2="416.09" y2="375.30" stroke="#4e4e4e" stroke-width="1"/>
<line x1="423.50" y1="377.0" x2="423.50" y2="375.30" stroke="#4e4e4e" stroke-width="1"/>
<line x1="429.25" y1="377.0" x2="429.25" y2="375.30" stroke="#4e4e4e" stroke-width="1"/>
<line x1="433.94" y1="377.0" x2="433.94" y2="375.30" stroke="#4e4e4e" stroke-width="1"/>
<line x1="437.91" y1="377.0" x2="437.91" y2="375.30" stroke="#4e4e4e" stroke-width="1"/>
<line x1="441.35" y1="377.0" x2="441.35" y2="375.30" stroke="#4e4e4e" stroke-width="1"/>
<line x1="444.39" y1="377.0" x2="444.39" y2="375.30" stroke="#4e4e4e" stroke-width="1"/>
<line x1="447.10" y1="377.0" x2="447.10" y2="374.00" stroke="#4e4e4e" stroke-width="1"/>
<text x="442.60" y="387.80" font-size="8.1"> 0</text>
<path transform="translate(442.60,387.80) scale(0.00396,-0.00396)" d="M515 0V1237L197 1010V1180L530 1409H696V0Z" fill="#111"/>
<line x1="464.95" y1="377.0" x2="464.95" y2="375.30" stroke="#4e4e4e" stroke-width="1"/>
<line x1="475.39" y1="377.0" x2="475.39" y2="375.30" stroke="#4e4e4e" stroke-width="1"/>
<line x1="482.80" y1="377.0" x2="482.80" y2="375.30" stroke="#4e4e4e" stroke-width="1"/>
<line x1="488.55" y1="377.0" x2="488.55" y2="375.30" stroke="#4e4e4e" stroke-width="1"/>
<line x1="493.24" y1="377.0" x2="493.24" y2="375.30" stroke="#4e4e4e" stroke-width="1"/>
<line x1="497.21" y1="377.0" x2="497.21" y2="375.30" stroke="#4e4e4e" stroke-width="1"/>
<line x1="500.65" y1="377.0" x2="500.65" y2="375.30" stroke="#4e4e4e" stroke-width="1"/>
<line x1="503.69" y1="377.0" x2="503.69" y2="375.30" stroke="#4e4e4e" stroke-width="1"/>
<line x1="506.40" y1="377.0" x2="506.40" y2="374.00" stroke="#4e4e4e" stroke-width="1"/>
<text x="499.64" y="387.80" font-size="8.1"> 00</text>
<path transform="translate(499.64,387.80) scale(0.00396,-0.00396)" d="M515 0V1237L197 1010V1180L530 1409H696V0Z" fill="#111"/>
<line x1="524.25" y1="377.0" x2="524.25" y2="375.30" stroke="#4e4e4e" stroke-width="1"/>
<line x1="534.69" y1="377.0" x2="534.69" y2="375.30" stroke="#4e4e4e" stroke-width="1"/>
<rect x="189.6" y="231.6" width="66.70000000000002" height="21.700000000000017" fill="#fff" stroke="#a0a0a0" stroke-width="0.8"/>
<rect x="199.10000000000002" y="236.20000000000002" width="1.4" height="1.4" fill="#c8242c"/>
<rect x="199.10000000000002" y="245.5" width="1.4" height="1.4" fill="#2e2e88"/>
<text transform="translate(210.5,239.4) scale(1,0.97)" font-size="7.7">CNN</text>
<text transform="translate(210.5,248.7) scale(1,0.97)" font-size="7.7">CNN + SnO<tspan font-size="5.2" dy="2.2">2</tspan></text>
<rect x="463.6" y="233.4" width="65.0" height="20.799999999999983" fill="#fff" stroke="#a0a0a0" stroke-width="0.8"/>
<rect x="472.90000000000003" y="237.20000000000002" width="1.4" height="1.4" fill="#c8242c"/>
<rect x="472.90000000000003" y="246.5" width="1.4" height="1.4" fill="#2e2e88"/>
<text transform="translate(484.3,240.4) scale(1,0.97)" font-size="7.7">CNN</text>
<text transform="translate(484.3,249.7) scale(1,0.97)" font-size="7.7">CNN + SnO<tspan font-size="5.2" dy="2.2">2</tspan></text>
<text transform="translate(9.8,13.9) scale(1,0.97)" font-size="16" text-anchor="start">(a)</text>
<text transform="translate(280.4,13.9) scale(1,0.97)" font-size="16" text-anchor="start">(b)</text>
<text transform="translate(9.9,206.6) scale(1,0.97)" font-size="16" text-anchor="start">(c)</text>
<text transform="translate(280.4,209.9) scale(1,0.97)" font-size="16" text-anchor="start">(d)</text>
<text transform="translate(156.4,207.2) scale(1,0.97)" font-size="11.4" text-anchor="middle">Time (min)</text>
<text transform="translate(431.5,207.1) scale(1,0.97)" font-size="11.4" text-anchor="middle">Time (min)</text>
<text transform="translate(157.6,405.1) scale(1,0.97)" font-size="11.4" text-anchor="middle">Initial Resistance (kOhm)</text>
<text transform="translate(432.9,404.3) scale(1,0.97)" font-size="11.4" text-anchor="middle">Initial Resistance (kOhm)</text>
<text transform="translate(16.8,164.4) rotate(-90) scale(0.97,1)" font-size="11.4">Reaction Rate (=ΔR/R<tspan font-size="6.6" dy="5">0</tspan><tspan dy="-5">)</tspan></text>
<text transform="translate(291.8,164.4) rotate(-90) scale(0.97,1)" font-size="11.4">Reaction Rate (=ΔR/R<tspan font-size="6.6" dy="5">0</tspan><tspan dy="-5">)</tspan></text>
<text transform="translate(11.6,325.5) rotate(-90) scale(0.97,1)" font-size="11.3">Sensitivity</text>
<text transform="translate(27,341.7) rotate(-90) scale(0.97,1)" font-size="10.5">(=ΔR<tspan font-size="6.9" dy="3.5">reaction, max</tspan><tspan dy="-3.5">/R</tspan><tspan font-size="6.5" dy="3.5">0</tspan><tspan dy="-3.5">)</tspan></text>
<text transform="translate(282.7,341.2) rotate(-90) scale(0.97,1)" font-size="11.3">Recovery Rate</text>
<text transform="translate(297.2,366.9) rotate(-90) scale(0.97,1)" font-size="10.5">(=ΔR<tspan font-size="6.9" dy="3.5">recovery, max</tspan><tspan dy="-3.5">/ΔR</tspan><tspan font-size="6.9" dy="3.5">reaction, max</tspan><tspan dy="-3.5">)</tspan></text>
</svg></body></html>
